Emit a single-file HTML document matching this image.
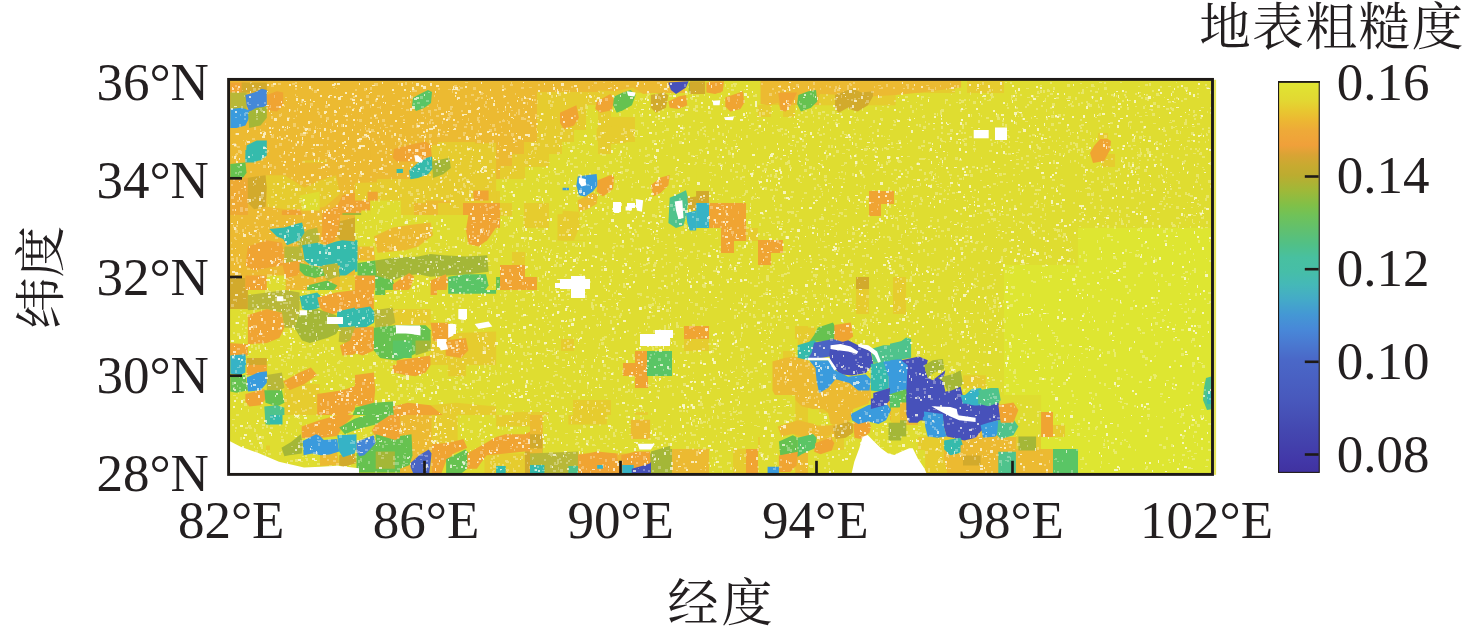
<!DOCTYPE html>
<html><head><meta charset="utf-8">
<style>
html,body{margin:0;padding:0;background:#fff;}
body{width:1476px;height:635px;overflow:hidden;position:relative;}
svg{position:absolute;left:0;top:0;}
.t{font-family:"Liberation Serif","Noto Serif CJK SC",serif;font-size:53px;fill:#231f20;}
.c{font-family:"Liberation Serif","Noto Serif CJK SC",serif;font-size:51px;fill:#231f20;}
</style></head>
<body>
<svg width="1476" height="635" viewBox="0 0 1476 635">
<defs>
<clipPath id="mc"><rect x="228.6" y="79.4" width="983.9" height="395"/></clipPath>
<linearGradient id="cb" x1="0" y1="0" x2="0" y2="1">
<stop offset="0" stop-color="#e0e632"/>
<stop offset="0.047" stop-color="#e2d832"/>
<stop offset="0.073" stop-color="#e8c830"/>
<stop offset="0.098" stop-color="#ecb832"/>
<stop offset="0.124" stop-color="#eeaa38"/>
<stop offset="0.162" stop-color="#f0a03a"/>
<stop offset="0.188" stop-color="#d8a434"/>
<stop offset="0.214" stop-color="#c8aa30"/>
<stop offset="0.239" stop-color="#bcac30"/>
<stop offset="0.277" stop-color="#a0b838"/>
<stop offset="0.316" stop-color="#80c048"/>
<stop offset="0.341" stop-color="#70c258"/>
<stop offset="0.380" stop-color="#60c070"/>
<stop offset="0.418" stop-color="#50c088"/>
<stop offset="0.450" stop-color="#48c0a0"/>
<stop offset="0.487" stop-color="#46bea8"/>
<stop offset="0.520" stop-color="#45b8b8"/>
<stop offset="0.558" stop-color="#44aac8"/>
<stop offset="0.595" stop-color="#4498d4"/>
<stop offset="0.634" stop-color="#4888d8"/>
<stop offset="0.673" stop-color="#4a78d0"/>
<stop offset="0.711" stop-color="#4a68c8"/>
<stop offset="0.815" stop-color="#4858bc"/>
<stop offset="0.891" stop-color="#4448b0"/>
<stop offset="0.968" stop-color="#4238a8"/>
<stop offset="1" stop-color="#4032a0"/>
</linearGradient>
</defs>
<rect x="1213.9" y="79.8" width="2.2" height="395" fill="#e6e45e"/>
<g clip-path="url(#mc)">
<g shape-rendering="crispEdges">
<rect x="229" y="80" width="984" height="394" fill="#dfdd30"/>
<rect x="229.0" y="80.0" width="12.7" height="12.7" fill="#ecba31"/>
<rect x="241.3" y="80.0" width="25.0" height="12.7" fill="#d2aa2c"/>
<rect x="265.9" y="80.0" width="332.5" height="12.7" fill="#ecba31"/>
<rect x="598.0" y="80.0" width="49.6" height="12.7" fill="#e6cc2e"/>
<rect x="647.2" y="80.0" width="37.3" height="12.7" fill="#ecba31"/>
<rect x="708.7" y="80.0" width="12.7" height="12.7" fill="#ecba31"/>
<rect x="770.2" y="80.0" width="135.7" height="12.7" fill="#ecba31"/>
<rect x="905.5" y="80.0" width="49.6" height="12.7" fill="#e6cc2e"/>
<rect x="967.0" y="80.0" width="37.3" height="12.7" fill="#e6cc2e"/>
<rect x="229.0" y="92.3" width="12.7" height="12.7" fill="#a4b737"/>
<rect x="241.3" y="92.3" width="25.0" height="12.7" fill="#4588d8"/>
<rect x="265.9" y="92.3" width="12.7" height="12.7" fill="#f0a432"/>
<rect x="278.2" y="92.3" width="258.7" height="12.7" fill="#ecba31"/>
<rect x="536.5" y="92.3" width="86.5" height="12.7" fill="#e6cc2e"/>
<rect x="770.2" y="92.3" width="12.7" height="12.7" fill="#e6cc2e"/>
<rect x="782.5" y="92.3" width="37.3" height="12.7" fill="#ecba31"/>
<rect x="819.4" y="92.3" width="12.7" height="12.7" fill="#e6cc2e"/>
<rect x="831.7" y="92.3" width="37.3" height="12.7" fill="#ecba31"/>
<rect x="868.6" y="92.3" width="25.0" height="12.7" fill="#e6cc2e"/>
<rect x="229.0" y="104.6" width="25.0" height="12.7" fill="#3a9bdd"/>
<rect x="253.6" y="104.6" width="12.7" height="12.7" fill="#a4b737"/>
<rect x="265.9" y="104.6" width="12.7" height="12.7" fill="#f0a432"/>
<rect x="278.2" y="104.6" width="258.7" height="12.7" fill="#ecba31"/>
<rect x="536.5" y="104.6" width="49.6" height="12.7" fill="#e6cc2e"/>
<rect x="598.0" y="104.6" width="12.7" height="12.7" fill="#e6cc2e"/>
<rect x="757.9" y="104.6" width="12.7" height="12.7" fill="#e6cc2e"/>
<rect x="782.5" y="104.6" width="12.7" height="12.7" fill="#e6cc2e"/>
<rect x="229.0" y="116.9" width="12.7" height="12.7" fill="#3a9bdd"/>
<rect x="241.3" y="116.9" width="25.0" height="12.7" fill="#a4b737"/>
<rect x="265.9" y="116.9" width="271.0" height="12.7" fill="#ecba31"/>
<rect x="536.5" y="116.9" width="49.6" height="12.7" fill="#e6cc2e"/>
<rect x="598.0" y="116.9" width="37.3" height="12.7" fill="#e6cc2e"/>
<rect x="229.0" y="129.2" width="307.9" height="12.7" fill="#ecba31"/>
<rect x="536.5" y="129.2" width="37.3" height="12.7" fill="#e6cc2e"/>
<rect x="598.0" y="129.2" width="37.3" height="12.7" fill="#e6cc2e"/>
<rect x="229.0" y="141.6" width="12.7" height="12.7" fill="#ecba31"/>
<rect x="241.3" y="141.6" width="25.0" height="12.7" fill="#35bbac"/>
<rect x="265.9" y="141.6" width="172.6" height="12.7" fill="#ecba31"/>
<rect x="438.1" y="141.6" width="37.3" height="12.7" fill="#e6cc2e"/>
<rect x="475.0" y="141.6" width="49.6" height="12.7" fill="#ecba31"/>
<rect x="524.2" y="141.6" width="37.3" height="12.7" fill="#e6cc2e"/>
<rect x="598.0" y="141.6" width="12.7" height="12.7" fill="#e6cc2e"/>
<rect x="229.0" y="153.9" width="74.2" height="12.7" fill="#ecba31"/>
<rect x="302.8" y="153.9" width="25.0" height="12.7" fill="#e6cc2e"/>
<rect x="327.4" y="153.9" width="98.8" height="12.7" fill="#ecba31"/>
<rect x="425.8" y="153.9" width="49.6" height="12.7" fill="#e6cc2e"/>
<rect x="475.0" y="153.9" width="37.3" height="12.7" fill="#ecba31"/>
<rect x="511.9" y="153.9" width="37.3" height="12.7" fill="#e6cc2e"/>
<rect x="1102.3" y="153.9" width="12.7" height="12.7" fill="#e6cc2e"/>
<rect x="229.0" y="166.2" width="74.2" height="12.7" fill="#ecba31"/>
<rect x="302.8" y="166.2" width="37.3" height="12.7" fill="#e6cc2e"/>
<rect x="339.7" y="166.2" width="74.2" height="12.7" fill="#ecba31"/>
<rect x="413.5" y="166.2" width="61.9" height="12.7" fill="#e6cc2e"/>
<rect x="475.0" y="166.2" width="25.0" height="12.7" fill="#ecba31"/>
<rect x="499.6" y="166.2" width="25.0" height="12.7" fill="#e6cc2e"/>
<rect x="229.0" y="178.5" width="37.3" height="12.7" fill="#ecba31"/>
<rect x="265.9" y="178.5" width="25.0" height="12.7" fill="#e6cc2e"/>
<rect x="290.5" y="178.5" width="12.7" height="12.7" fill="#ecba31"/>
<rect x="302.8" y="178.5" width="25.0" height="12.7" fill="#e6cc2e"/>
<rect x="327.4" y="178.5" width="49.6" height="12.7" fill="#ecba31"/>
<rect x="376.6" y="178.5" width="61.9" height="12.7" fill="#e6cc2e"/>
<rect x="438.1" y="178.5" width="37.3" height="12.7" fill="#ecba31"/>
<rect x="475.0" y="178.5" width="12.7" height="12.7" fill="#e6cc2e"/>
<rect x="573.4" y="178.5" width="25.0" height="12.7" fill="#3a9bdd"/>
<rect x="598.0" y="178.5" width="25.0" height="12.7" fill="#f0a432"/>
<rect x="647.2" y="178.5" width="25.0" height="12.7" fill="#f0a432"/>
<rect x="229.0" y="190.8" width="74.2" height="12.7" fill="#ecba31"/>
<rect x="302.8" y="190.8" width="37.3" height="12.7" fill="#e6cc2e"/>
<rect x="339.7" y="190.8" width="25.0" height="12.7" fill="#ecba31"/>
<rect x="401.2" y="190.8" width="25.0" height="12.7" fill="#e6cc2e"/>
<rect x="425.8" y="190.8" width="25.0" height="12.7" fill="#ecba31"/>
<rect x="450.4" y="190.8" width="49.6" height="12.7" fill="#e6cc2e"/>
<rect x="573.4" y="190.8" width="12.7" height="12.7" fill="#3a9bdd"/>
<rect x="585.7" y="190.8" width="25.0" height="12.7" fill="#f0a432"/>
<rect x="647.2" y="190.8" width="12.7" height="12.7" fill="#f0a432"/>
<rect x="671.8" y="190.8" width="12.7" height="12.7" fill="#35bbac"/>
<rect x="684.1" y="190.8" width="25.0" height="12.7" fill="#d2aa2c"/>
<rect x="868.6" y="190.8" width="25.0" height="12.7" fill="#f0a432"/>
<rect x="229.0" y="203.1" width="61.9" height="12.7" fill="#ecba31"/>
<rect x="290.5" y="203.1" width="61.9" height="12.7" fill="#e6cc2e"/>
<rect x="401.2" y="203.1" width="12.7" height="12.7" fill="#e6cc2e"/>
<rect x="413.5" y="203.1" width="25.0" height="12.7" fill="#ecba31"/>
<rect x="438.1" y="203.1" width="25.0" height="12.7" fill="#e6cc2e"/>
<rect x="462.7" y="203.1" width="37.3" height="12.7" fill="#f0a432"/>
<rect x="499.6" y="203.1" width="12.7" height="12.7" fill="#e6cc2e"/>
<rect x="524.2" y="203.1" width="25.0" height="12.7" fill="#e6cc2e"/>
<rect x="573.4" y="203.1" width="12.7" height="12.7" fill="#f0a432"/>
<rect x="585.7" y="203.1" width="12.7" height="12.7" fill="#e6cc2e"/>
<rect x="671.8" y="203.1" width="12.7" height="12.7" fill="#35bbac"/>
<rect x="684.1" y="203.1" width="12.7" height="12.7" fill="#d2aa2c"/>
<rect x="696.4" y="203.1" width="12.7" height="12.7" fill="#36b3c6"/>
<rect x="708.7" y="203.1" width="37.3" height="12.7" fill="#f0a432"/>
<rect x="868.6" y="203.1" width="12.7" height="12.7" fill="#f0a432"/>
<rect x="229.0" y="215.4" width="61.9" height="12.7" fill="#ecba31"/>
<rect x="290.5" y="215.4" width="37.3" height="12.7" fill="#e6cc2e"/>
<rect x="339.7" y="215.4" width="25.0" height="12.7" fill="#e6cc2e"/>
<rect x="388.9" y="215.4" width="25.0" height="12.7" fill="#e6cc2e"/>
<rect x="450.4" y="215.4" width="12.7" height="12.7" fill="#e6cc2e"/>
<rect x="462.7" y="215.4" width="37.3" height="12.7" fill="#f0a432"/>
<rect x="524.2" y="215.4" width="25.0" height="12.7" fill="#e6cc2e"/>
<rect x="561.1" y="215.4" width="25.0" height="12.7" fill="#e6cc2e"/>
<rect x="659.5" y="215.4" width="25.0" height="12.7" fill="#35bbac"/>
<rect x="684.1" y="215.4" width="25.0" height="12.7" fill="#36b3c6"/>
<rect x="708.7" y="215.4" width="37.3" height="12.7" fill="#f0a432"/>
<rect x="229.0" y="227.8" width="49.6" height="12.7" fill="#ecba31"/>
<rect x="278.2" y="227.8" width="25.0" height="12.7" fill="#35bbac"/>
<rect x="302.8" y="227.8" width="12.7" height="12.7" fill="#a4b737"/>
<rect x="315.1" y="227.8" width="12.7" height="12.7" fill="#f0a432"/>
<rect x="327.4" y="227.8" width="25.0" height="12.7" fill="#d2aa2c"/>
<rect x="364.3" y="227.8" width="12.7" height="12.7" fill="#e6cc2e"/>
<rect x="388.9" y="227.8" width="37.3" height="12.7" fill="#e6cc2e"/>
<rect x="462.7" y="227.8" width="25.0" height="12.7" fill="#f0a432"/>
<rect x="561.1" y="227.8" width="25.0" height="12.7" fill="#e6cc2e"/>
<rect x="721.0" y="227.8" width="25.0" height="12.7" fill="#f0a432"/>
<rect x="745.6" y="227.8" width="12.7" height="12.7" fill="#e6cc2e"/>
<rect x="1077.7" y="227.8" width="135.7" height="12.7" fill="#dee631"/>
<rect x="229.0" y="240.1" width="49.6" height="12.7" fill="#ecba31"/>
<rect x="278.2" y="240.1" width="12.7" height="12.7" fill="#35bbac"/>
<rect x="290.5" y="240.1" width="12.7" height="12.7" fill="#a4b737"/>
<rect x="302.8" y="240.1" width="37.3" height="12.7" fill="#35bbac"/>
<rect x="339.7" y="240.1" width="12.7" height="12.7" fill="#d2aa2c"/>
<rect x="364.3" y="240.1" width="12.7" height="12.7" fill="#e6cc2e"/>
<rect x="388.9" y="240.1" width="25.0" height="12.7" fill="#e6cc2e"/>
<rect x="462.7" y="240.1" width="12.7" height="12.7" fill="#f0a432"/>
<rect x="475.0" y="240.1" width="12.7" height="12.7" fill="#e6cc2e"/>
<rect x="721.0" y="240.1" width="12.7" height="12.7" fill="#f0a432"/>
<rect x="757.9" y="240.1" width="25.0" height="12.7" fill="#f0a432"/>
<rect x="1077.7" y="240.1" width="135.7" height="12.7" fill="#dee631"/>
<rect x="229.0" y="252.4" width="12.7" height="12.7" fill="#ecba31"/>
<rect x="241.3" y="252.4" width="12.7" height="12.7" fill="#f0a432"/>
<rect x="253.6" y="252.4" width="37.3" height="12.7" fill="#ecba31"/>
<rect x="290.5" y="252.4" width="12.7" height="12.7" fill="#a4b737"/>
<rect x="302.8" y="252.4" width="49.6" height="12.7" fill="#35bbac"/>
<rect x="352.0" y="252.4" width="25.0" height="12.7" fill="#e6cc2e"/>
<rect x="388.9" y="252.4" width="98.8" height="12.7" fill="#a4b737"/>
<rect x="511.9" y="252.4" width="12.7" height="12.7" fill="#e6cc2e"/>
<rect x="757.9" y="252.4" width="12.7" height="12.7" fill="#f0a432"/>
<rect x="1077.7" y="252.4" width="135.7" height="12.7" fill="#dee631"/>
<rect x="229.0" y="264.7" width="25.0" height="12.7" fill="#ecba31"/>
<rect x="253.6" y="264.7" width="25.0" height="12.7" fill="#f0a432"/>
<rect x="278.2" y="264.7" width="12.7" height="12.7" fill="#ecba31"/>
<rect x="290.5" y="264.7" width="25.0" height="12.7" fill="#66c250"/>
<rect x="315.1" y="264.7" width="25.0" height="12.7" fill="#d2aa2c"/>
<rect x="339.7" y="264.7" width="25.0" height="12.7" fill="#35bbac"/>
<rect x="364.3" y="264.7" width="12.7" height="12.7" fill="#66c250"/>
<rect x="376.6" y="264.7" width="111.1" height="12.7" fill="#a4b737"/>
<rect x="499.6" y="264.7" width="25.0" height="12.7" fill="#f0a432"/>
<rect x="1003.9" y="264.7" width="209.5" height="12.7" fill="#dee631"/>
<rect x="229.0" y="277.0" width="12.7" height="12.7" fill="#d2aa2c"/>
<rect x="241.3" y="277.0" width="25.0" height="12.7" fill="#ecba31"/>
<rect x="265.9" y="277.0" width="12.7" height="12.7" fill="#d2aa2c"/>
<rect x="278.2" y="277.0" width="37.3" height="12.7" fill="#ecba31"/>
<rect x="315.1" y="277.0" width="25.0" height="12.7" fill="#66c250"/>
<rect x="339.7" y="277.0" width="37.3" height="12.7" fill="#ecba31"/>
<rect x="376.6" y="277.0" width="12.7" height="12.7" fill="#a4b737"/>
<rect x="388.9" y="277.0" width="25.0" height="12.7" fill="#ecba31"/>
<rect x="413.5" y="277.0" width="12.7" height="12.7" fill="#e6cc2e"/>
<rect x="438.1" y="277.0" width="12.7" height="12.7" fill="#f0a432"/>
<rect x="450.4" y="277.0" width="25.0" height="12.7" fill="#5ac565"/>
<rect x="475.0" y="277.0" width="25.0" height="12.7" fill="#66c250"/>
<rect x="499.6" y="277.0" width="37.3" height="12.7" fill="#f0a432"/>
<rect x="856.3" y="277.0" width="12.7" height="12.7" fill="#d2aa2c"/>
<rect x="893.2" y="277.0" width="12.7" height="12.7" fill="#e6cc2e"/>
<rect x="1003.9" y="277.0" width="209.5" height="12.7" fill="#dee631"/>
<rect x="229.0" y="289.3" width="12.7" height="12.7" fill="#d2aa2c"/>
<rect x="241.3" y="289.3" width="25.0" height="12.7" fill="#a4b737"/>
<rect x="265.9" y="289.3" width="37.3" height="12.7" fill="#d2aa2c"/>
<rect x="302.8" y="289.3" width="25.0" height="12.7" fill="#35bbac"/>
<rect x="327.4" y="289.3" width="12.7" height="12.7" fill="#ecba31"/>
<rect x="339.7" y="289.3" width="25.0" height="12.7" fill="#f0a432"/>
<rect x="364.3" y="289.3" width="25.0" height="12.7" fill="#ecba31"/>
<rect x="438.1" y="289.3" width="12.7" height="12.7" fill="#e6cc2e"/>
<rect x="856.3" y="289.3" width="12.7" height="12.7" fill="#e6cc2e"/>
<rect x="893.2" y="289.3" width="12.7" height="12.7" fill="#e6cc2e"/>
<rect x="1003.9" y="289.3" width="209.5" height="12.7" fill="#dee631"/>
<rect x="241.3" y="301.6" width="12.7" height="12.7" fill="#ecba31"/>
<rect x="253.6" y="301.6" width="37.3" height="12.7" fill="#d2aa2c"/>
<rect x="290.5" y="301.6" width="49.6" height="12.7" fill="#ecba31"/>
<rect x="339.7" y="301.6" width="37.3" height="12.7" fill="#35bbac"/>
<rect x="376.6" y="301.6" width="12.7" height="12.7" fill="#ecba31"/>
<rect x="388.9" y="301.6" width="12.7" height="12.7" fill="#e6cc2e"/>
<rect x="856.3" y="301.6" width="12.7" height="12.7" fill="#e6cc2e"/>
<rect x="893.2" y="301.6" width="12.7" height="12.7" fill="#e6cc2e"/>
<rect x="1003.9" y="301.6" width="209.5" height="12.7" fill="#dee631"/>
<rect x="241.3" y="313.9" width="25.0" height="12.7" fill="#ecba31"/>
<rect x="265.9" y="313.9" width="25.0" height="12.7" fill="#d2aa2c"/>
<rect x="290.5" y="313.9" width="25.0" height="12.7" fill="#ecba31"/>
<rect x="315.1" y="313.9" width="25.0" height="12.7" fill="#a4b737"/>
<rect x="339.7" y="313.9" width="37.3" height="12.7" fill="#35bbac"/>
<rect x="376.6" y="313.9" width="12.7" height="12.7" fill="#a4b737"/>
<rect x="388.9" y="313.9" width="37.3" height="12.7" fill="#e6cc2e"/>
<rect x="1003.9" y="313.9" width="209.5" height="12.7" fill="#dee631"/>
<rect x="241.3" y="326.2" width="25.0" height="12.7" fill="#f0a432"/>
<rect x="265.9" y="326.2" width="12.7" height="12.7" fill="#ecba31"/>
<rect x="278.2" y="326.2" width="25.0" height="12.7" fill="#d2aa2c"/>
<rect x="302.8" y="326.2" width="25.0" height="12.7" fill="#66c250"/>
<rect x="327.4" y="326.2" width="12.7" height="12.7" fill="#e6cc2e"/>
<rect x="339.7" y="326.2" width="12.7" height="12.7" fill="#a4b737"/>
<rect x="352.0" y="326.2" width="25.0" height="12.7" fill="#f0a432"/>
<rect x="376.6" y="326.2" width="12.7" height="12.7" fill="#a4b737"/>
<rect x="388.9" y="326.2" width="49.6" height="12.7" fill="#66c250"/>
<rect x="438.1" y="326.2" width="25.0" height="12.7" fill="#f0a432"/>
<rect x="462.7" y="326.2" width="25.0" height="12.7" fill="#e6cc2e"/>
<rect x="684.1" y="326.2" width="25.0" height="12.7" fill="#f0a432"/>
<rect x="794.8" y="326.2" width="12.7" height="12.7" fill="#e6cc2e"/>
<rect x="1003.9" y="326.2" width="209.5" height="12.7" fill="#dee631"/>
<rect x="241.3" y="338.6" width="25.0" height="12.7" fill="#ecba31"/>
<rect x="265.9" y="338.6" width="12.7" height="12.7" fill="#e6cc2e"/>
<rect x="290.5" y="338.6" width="49.6" height="12.7" fill="#e6cc2e"/>
<rect x="339.7" y="338.6" width="37.3" height="12.7" fill="#f0a432"/>
<rect x="376.6" y="338.6" width="12.7" height="12.7" fill="#a4b737"/>
<rect x="388.9" y="338.6" width="25.0" height="12.7" fill="#66c250"/>
<rect x="413.5" y="338.6" width="25.0" height="12.7" fill="#a4b737"/>
<rect x="438.1" y="338.6" width="25.0" height="12.7" fill="#f0a432"/>
<rect x="462.7" y="338.6" width="25.0" height="12.7" fill="#e6cc2e"/>
<rect x="561.1" y="338.6" width="12.7" height="12.7" fill="#e6cc2e"/>
<rect x="684.1" y="338.6" width="25.0" height="12.7" fill="#e6cc2e"/>
<rect x="807.1" y="338.6" width="12.7" height="12.7" fill="#e6cc2e"/>
<rect x="1003.9" y="338.6" width="209.5" height="12.7" fill="#dee631"/>
<rect x="229.0" y="350.9" width="12.7" height="12.7" fill="#ecba31"/>
<rect x="241.3" y="350.9" width="12.7" height="12.7" fill="#e6cc2e"/>
<rect x="278.2" y="350.9" width="12.7" height="12.7" fill="#e6cc2e"/>
<rect x="315.1" y="350.9" width="25.0" height="12.7" fill="#e6cc2e"/>
<rect x="339.7" y="350.9" width="12.7" height="12.7" fill="#f0a432"/>
<rect x="352.0" y="350.9" width="25.0" height="12.7" fill="#e6cc2e"/>
<rect x="376.6" y="350.9" width="12.7" height="12.7" fill="#a4b737"/>
<rect x="388.9" y="350.9" width="25.0" height="12.7" fill="#66c250"/>
<rect x="413.5" y="350.9" width="12.7" height="12.7" fill="#e6cc2e"/>
<rect x="425.8" y="350.9" width="12.7" height="12.7" fill="#f0a432"/>
<rect x="438.1" y="350.9" width="12.7" height="12.7" fill="#e6cc2e"/>
<rect x="450.4" y="350.9" width="12.7" height="12.7" fill="#f0a432"/>
<rect x="462.7" y="350.9" width="25.0" height="12.7" fill="#e6cc2e"/>
<rect x="634.9" y="350.9" width="12.7" height="12.7" fill="#f0a432"/>
<rect x="647.2" y="350.9" width="25.0" height="12.7" fill="#5ac565"/>
<rect x="782.5" y="350.9" width="12.7" height="12.7" fill="#e6cc2e"/>
<rect x="1003.9" y="350.9" width="209.5" height="12.7" fill="#dee631"/>
<rect x="229.0" y="363.2" width="12.7" height="12.7" fill="#36b3c6"/>
<rect x="241.3" y="363.2" width="12.7" height="12.7" fill="#d2aa2c"/>
<rect x="253.6" y="363.2" width="12.7" height="12.7" fill="#36b3c6"/>
<rect x="278.2" y="363.2" width="12.7" height="12.7" fill="#e6cc2e"/>
<rect x="302.8" y="363.2" width="12.7" height="12.7" fill="#f0a432"/>
<rect x="315.1" y="363.2" width="12.7" height="12.7" fill="#e6cc2e"/>
<rect x="388.9" y="363.2" width="49.6" height="12.7" fill="#f0a432"/>
<rect x="438.1" y="363.2" width="25.0" height="12.7" fill="#e6cc2e"/>
<rect x="622.6" y="363.2" width="25.0" height="12.7" fill="#f0a432"/>
<rect x="647.2" y="363.2" width="25.0" height="12.7" fill="#5ac565"/>
<rect x="794.8" y="363.2" width="37.3" height="12.7" fill="#ecba31"/>
<rect x="1003.9" y="363.2" width="209.5" height="12.7" fill="#dee631"/>
<rect x="229.0" y="375.5" width="12.7" height="12.7" fill="#66c250"/>
<rect x="241.3" y="375.5" width="25.0" height="12.7" fill="#36b3c6"/>
<rect x="265.9" y="375.5" width="12.7" height="12.7" fill="#a4b737"/>
<rect x="278.2" y="375.5" width="25.0" height="12.7" fill="#f0a432"/>
<rect x="302.8" y="375.5" width="49.6" height="12.7" fill="#e6cc2e"/>
<rect x="352.0" y="375.5" width="25.0" height="12.7" fill="#ecba31"/>
<rect x="376.6" y="375.5" width="12.7" height="12.7" fill="#e6cc2e"/>
<rect x="634.9" y="375.5" width="12.7" height="12.7" fill="#f0a432"/>
<rect x="782.5" y="375.5" width="49.6" height="12.7" fill="#ecba31"/>
<rect x="1003.9" y="375.5" width="209.5" height="12.7" fill="#dee631"/>
<rect x="241.3" y="387.8" width="25.0" height="12.7" fill="#f0a432"/>
<rect x="265.9" y="387.8" width="12.7" height="12.7" fill="#66c250"/>
<rect x="278.2" y="387.8" width="49.6" height="12.7" fill="#e6cc2e"/>
<rect x="327.4" y="387.8" width="12.7" height="12.7" fill="#ecba31"/>
<rect x="339.7" y="387.8" width="25.0" height="12.7" fill="#f0a432"/>
<rect x="364.3" y="387.8" width="12.7" height="12.7" fill="#ecba31"/>
<rect x="376.6" y="387.8" width="12.7" height="12.7" fill="#e6cc2e"/>
<rect x="782.5" y="387.8" width="12.7" height="12.7" fill="#e6cc2e"/>
<rect x="794.8" y="387.8" width="37.3" height="12.7" fill="#ecba31"/>
<rect x="831.7" y="387.8" width="12.7" height="12.7" fill="#e6cc2e"/>
<rect x="880.9" y="387.8" width="37.3" height="12.7" fill="#ecba31"/>
<rect x="1003.9" y="387.8" width="209.5" height="12.7" fill="#dee631"/>
<rect x="241.3" y="400.1" width="12.7" height="12.7" fill="#e6cc2e"/>
<rect x="253.6" y="400.1" width="12.7" height="12.7" fill="#66c250"/>
<rect x="265.9" y="400.1" width="12.7" height="12.7" fill="#35bbac"/>
<rect x="278.2" y="400.1" width="37.3" height="12.7" fill="#e6cc2e"/>
<rect x="315.1" y="400.1" width="25.0" height="12.7" fill="#ecba31"/>
<rect x="339.7" y="400.1" width="12.7" height="12.7" fill="#f0a432"/>
<rect x="352.0" y="400.1" width="37.3" height="12.7" fill="#66c250"/>
<rect x="388.9" y="400.1" width="25.0" height="12.7" fill="#ecba31"/>
<rect x="413.5" y="400.1" width="37.3" height="12.7" fill="#e6cc2e"/>
<rect x="475.0" y="400.1" width="12.7" height="12.7" fill="#e6cc2e"/>
<rect x="573.4" y="400.1" width="37.3" height="12.7" fill="#e6cc2e"/>
<rect x="782.5" y="400.1" width="25.0" height="12.7" fill="#e6cc2e"/>
<rect x="819.4" y="400.1" width="25.0" height="12.7" fill="#e6cc2e"/>
<rect x="880.9" y="400.1" width="37.3" height="12.7" fill="#ecba31"/>
<rect x="1003.9" y="400.1" width="209.5" height="12.7" fill="#dee631"/>
<rect x="253.6" y="412.4" width="25.0" height="12.7" fill="#35bbac"/>
<rect x="278.2" y="412.4" width="25.0" height="12.7" fill="#e6cc2e"/>
<rect x="302.8" y="412.4" width="25.0" height="12.7" fill="#ecba31"/>
<rect x="327.4" y="412.4" width="12.7" height="12.7" fill="#f0a432"/>
<rect x="339.7" y="412.4" width="49.6" height="12.7" fill="#66c250"/>
<rect x="388.9" y="412.4" width="25.0" height="12.7" fill="#f0a432"/>
<rect x="413.5" y="412.4" width="12.7" height="12.7" fill="#ecba31"/>
<rect x="425.8" y="412.4" width="25.0" height="12.7" fill="#e6cc2e"/>
<rect x="475.0" y="412.4" width="12.7" height="12.7" fill="#e6cc2e"/>
<rect x="511.9" y="412.4" width="37.3" height="12.7" fill="#e6cc2e"/>
<rect x="573.4" y="412.4" width="37.3" height="12.7" fill="#e6cc2e"/>
<rect x="634.9" y="412.4" width="12.7" height="12.7" fill="#e6cc2e"/>
<rect x="782.5" y="412.4" width="25.0" height="12.7" fill="#e6cc2e"/>
<rect x="831.7" y="412.4" width="12.7" height="12.7" fill="#e6cc2e"/>
<rect x="893.2" y="412.4" width="25.0" height="12.7" fill="#ecba31"/>
<rect x="1003.9" y="412.4" width="37.3" height="12.7" fill="#dee631"/>
<rect x="1040.8" y="412.4" width="12.7" height="12.7" fill="#f0a432"/>
<rect x="1053.1" y="412.4" width="160.3" height="12.7" fill="#dee631"/>
<rect x="253.6" y="424.8" width="37.3" height="12.7" fill="#e6cc2e"/>
<rect x="290.5" y="424.8" width="25.0" height="12.7" fill="#ecba31"/>
<rect x="315.1" y="424.8" width="25.0" height="12.7" fill="#d2aa2c"/>
<rect x="339.7" y="424.8" width="12.7" height="12.7" fill="#a4b737"/>
<rect x="352.0" y="424.8" width="12.7" height="12.7" fill="#f0a432"/>
<rect x="364.3" y="424.8" width="25.0" height="12.7" fill="#ecba31"/>
<rect x="388.9" y="424.8" width="37.3" height="12.7" fill="#f0a432"/>
<rect x="425.8" y="424.8" width="49.6" height="12.7" fill="#ecba31"/>
<rect x="475.0" y="424.8" width="37.3" height="12.7" fill="#e6cc2e"/>
<rect x="511.9" y="424.8" width="37.3" height="12.7" fill="#ecba31"/>
<rect x="548.8" y="424.8" width="61.9" height="12.7" fill="#e6cc2e"/>
<rect x="622.6" y="424.8" width="25.0" height="12.7" fill="#e6cc2e"/>
<rect x="770.2" y="424.8" width="61.9" height="12.7" fill="#e6cc2e"/>
<rect x="831.7" y="424.8" width="12.7" height="12.7" fill="#ecba31"/>
<rect x="930.1" y="424.8" width="25.0" height="12.7" fill="#e6cc2e"/>
<rect x="954.7" y="424.8" width="49.6" height="12.7" fill="#ecba31"/>
<rect x="1003.9" y="424.8" width="12.7" height="12.7" fill="#dee631"/>
<rect x="1016.2" y="424.8" width="25.0" height="12.7" fill="#e6cc2e"/>
<rect x="1040.8" y="424.8" width="12.7" height="12.7" fill="#f0a432"/>
<rect x="1053.1" y="424.8" width="12.7" height="12.7" fill="#e6cc2e"/>
<rect x="1065.4" y="424.8" width="148.0" height="12.7" fill="#dee631"/>
<rect x="265.9" y="437.1" width="12.7" height="12.7" fill="#e6cc2e"/>
<rect x="278.2" y="437.1" width="25.0" height="12.7" fill="#a4b737"/>
<rect x="302.8" y="437.1" width="37.3" height="12.7" fill="#3a9bdd"/>
<rect x="339.7" y="437.1" width="12.7" height="12.7" fill="#35bbac"/>
<rect x="352.0" y="437.1" width="25.0" height="12.7" fill="#4588d8"/>
<rect x="376.6" y="437.1" width="37.3" height="12.7" fill="#66c250"/>
<rect x="413.5" y="437.1" width="25.0" height="12.7" fill="#f0a432"/>
<rect x="438.1" y="437.1" width="49.6" height="12.7" fill="#ecba31"/>
<rect x="487.3" y="437.1" width="49.6" height="12.7" fill="#d2aa2c"/>
<rect x="536.5" y="437.1" width="12.7" height="12.7" fill="#ecba31"/>
<rect x="548.8" y="437.1" width="25.0" height="12.7" fill="#e6cc2e"/>
<rect x="622.6" y="437.1" width="25.0" height="12.7" fill="#e6cc2e"/>
<rect x="757.9" y="437.1" width="12.7" height="12.7" fill="#e6cc2e"/>
<rect x="782.5" y="437.1" width="37.3" height="12.7" fill="#e6cc2e"/>
<rect x="819.4" y="437.1" width="12.7" height="12.7" fill="#ecba31"/>
<rect x="831.7" y="437.1" width="12.7" height="12.7" fill="#e6cc2e"/>
<rect x="917.8" y="437.1" width="37.3" height="12.7" fill="#e6cc2e"/>
<rect x="954.7" y="437.1" width="61.9" height="12.7" fill="#ecba31"/>
<rect x="1016.2" y="437.1" width="25.0" height="12.7" fill="#e6cc2e"/>
<rect x="1040.8" y="437.1" width="172.6" height="12.7" fill="#dee631"/>
<rect x="278.2" y="449.4" width="25.0" height="12.7" fill="#a4b737"/>
<rect x="302.8" y="449.4" width="25.0" height="12.7" fill="#3a9bdd"/>
<rect x="327.4" y="449.4" width="25.0" height="12.7" fill="#35bbac"/>
<rect x="352.0" y="449.4" width="12.7" height="12.7" fill="#4588d8"/>
<rect x="364.3" y="449.4" width="49.6" height="12.7" fill="#66c250"/>
<rect x="413.5" y="449.4" width="12.7" height="12.7" fill="#4751ba"/>
<rect x="425.8" y="449.4" width="25.0" height="12.7" fill="#f0a432"/>
<rect x="450.4" y="449.4" width="25.0" height="12.7" fill="#66c250"/>
<rect x="475.0" y="449.4" width="25.0" height="12.7" fill="#ecba31"/>
<rect x="499.6" y="449.4" width="25.0" height="12.7" fill="#d2aa2c"/>
<rect x="524.2" y="449.4" width="49.6" height="12.7" fill="#a4b737"/>
<rect x="573.4" y="449.4" width="25.0" height="12.7" fill="#ecba31"/>
<rect x="610.3" y="449.4" width="37.3" height="12.7" fill="#ecba31"/>
<rect x="647.2" y="449.4" width="25.0" height="12.7" fill="#a4b737"/>
<rect x="671.8" y="449.4" width="37.3" height="12.7" fill="#ecba31"/>
<rect x="733.3" y="449.4" width="12.7" height="12.7" fill="#e6cc2e"/>
<rect x="745.6" y="449.4" width="12.7" height="12.7" fill="#f0a432"/>
<rect x="794.8" y="449.4" width="12.7" height="12.7" fill="#ecba31"/>
<rect x="930.1" y="449.4" width="12.7" height="12.7" fill="#e6cc2e"/>
<rect x="942.4" y="449.4" width="111.1" height="12.7" fill="#ecba31"/>
<rect x="1053.1" y="449.4" width="25.0" height="12.7" fill="#5ac565"/>
<rect x="1077.7" y="449.4" width="135.7" height="12.7" fill="#dee631"/>
<rect x="290.5" y="461.7" width="12.7" height="12.7" fill="#e6cc2e"/>
<rect x="315.1" y="461.7" width="25.0" height="12.7" fill="#f0a432"/>
<rect x="339.7" y="461.7" width="12.7" height="12.7" fill="#d2aa2c"/>
<rect x="352.0" y="461.7" width="25.0" height="12.7" fill="#66c250"/>
<rect x="376.6" y="461.7" width="12.7" height="12.7" fill="#a4b737"/>
<rect x="388.9" y="461.7" width="25.0" height="12.7" fill="#66c250"/>
<rect x="413.5" y="461.7" width="12.7" height="12.7" fill="#4751ba"/>
<rect x="425.8" y="461.7" width="25.0" height="12.7" fill="#f0a432"/>
<rect x="450.4" y="461.7" width="12.7" height="12.7" fill="#66c250"/>
<rect x="462.7" y="461.7" width="12.7" height="12.7" fill="#35bbac"/>
<rect x="475.0" y="461.7" width="12.7" height="12.7" fill="#ecba31"/>
<rect x="487.3" y="461.7" width="25.0" height="12.7" fill="#35bbac"/>
<rect x="511.9" y="461.7" width="25.0" height="12.7" fill="#a4b737"/>
<rect x="536.5" y="461.7" width="12.7" height="12.7" fill="#35bbac"/>
<rect x="548.8" y="461.7" width="25.0" height="12.7" fill="#a4b737"/>
<rect x="573.4" y="461.7" width="49.6" height="12.7" fill="#ecba31"/>
<rect x="622.6" y="461.7" width="12.7" height="12.7" fill="#36b3c6"/>
<rect x="634.9" y="461.7" width="25.0" height="12.7" fill="#4751ba"/>
<rect x="659.5" y="461.7" width="12.7" height="12.7" fill="#a4b737"/>
<rect x="671.8" y="461.7" width="37.3" height="12.7" fill="#ecba31"/>
<rect x="733.3" y="461.7" width="12.7" height="12.7" fill="#e6cc2e"/>
<rect x="745.6" y="461.7" width="12.7" height="12.7" fill="#f0a432"/>
<rect x="782.5" y="461.7" width="25.0" height="12.7" fill="#ecba31"/>
<rect x="942.4" y="461.7" width="111.1" height="12.7" fill="#ecba31"/>
<rect x="1053.1" y="461.7" width="25.0" height="12.7" fill="#5ac565"/>
<rect x="1077.7" y="461.7" width="135.7" height="12.7" fill="#dee631"/>
</g>
<polygon points="797.7,327.6 815.4,327.6 815.4,345.2 797.7,345.2" fill="#e6cc2e"/>
<polygon points="772.5,361.6 785.1,357.8 797.7,356.5 807.8,360.3 815.4,370.4 817.9,380.5 816.6,393.1 811.6,400.6 777.6,400.6 772.5,390.6" fill="#ecba31"/>
<polygon points="817.9,379.2 835.5,378.0 850.6,383.0 870.8,388.0 870.8,400.6 817.9,400.6" fill="#ecba31"/>
<polygon points="807.8,343.9 814.1,335.1 817.9,327.6 833.0,322.5 835.5,327.6 834.3,338.9 824.2,341.4 814.1,341.4" fill="#66c250"/>
<polygon points="834.3,325.0 850.6,322.5 853.2,336.4 848.1,340.2 840.6,342.7 834.3,338.9" fill="#f0a432"/>
<polygon points="797.7,345.2 814.1,340.2 820.4,345.2 811.6,356.5 807.8,360.3 797.7,357.8" fill="#35bbac"/>
<polygon points="814.1,342.7 833.0,338.9 845.6,342.7 835.5,355.3 822.9,357.8 807.8,359.1 811.6,352.8" fill="#4a64c4"/>
<polygon points="830.5,345.2 848.1,340.2 858.2,345.2 870.8,351.5 873.3,364.1 865.8,372.9 851.9,375.4 840.6,374.2 831.7,365.4 829.2,355.3" fill="#4751ba"/>
<polygon points="809.1,360.3 829.2,360.3 835.5,370.4 848.1,376.7 865.8,374.2 870.8,379.2 869.5,390.6 858.2,390.6 849.4,383.0 835.5,379.2 828.0,388.0 819.1,393.1 816.6,380.5 815.4,367.9" fill="#3a9bdd"/>
<polygon points="870.8,349.0 883.4,345.2 896.0,345.2 906.1,337.6 911.1,338.9 911.1,357.8 896.0,360.3 883.4,362.8 873.3,362.8" fill="#4fc38c"/>
<polygon points="870.8,364.1 885.9,361.6 888.4,376.7 888.4,388.0 880.9,391.8 870.8,390.6" fill="#35bbac"/>
<polygon points="883.4,361.6 901.0,360.3 911.1,361.6 911.1,388.0 901.0,390.6 888.4,388.0 888.4,376.7" fill="#3a9bdd"/>
<polygon points="873.3,393.1 889.7,388.0 901.0,390.6 911.1,388.0 911.1,400.6 873.3,400.6" fill="#4751ba"/>
<polygon points="889.7,391.8 911.1,390.6 911.1,400.6 889.7,400.6" fill="#5ac565"/>
<polygon points="807.8,357.8 829.2,357.8 836.8,369.1 834.3,370.4 828.0,360.3 807.8,360.3" fill="#ffffff"/>
<polygon points="830.5,345.2 840.6,343.9 850.6,346.5 858.2,351.5 856.9,354.0 848.1,351.5 838.0,350.2 830.5,349.0" fill="#ffffff"/>
<polygon points="858.2,343.9 868.3,345.2 877.1,351.5 880.9,361.6 878.4,362.8 874.6,355.3 868.3,350.2 858.2,346.5" fill="#ffffff"/>
<polygon points="963.1,375.3 985.8,375.3 985.8,387.9 963.1,387.9" fill="#e6cc2e"/>
<polygon points="890.0,343.8 906.4,340.0 910.2,347.6 907.6,356.4 897.6,358.9 890.0,360.2" fill="#4fc38c"/>
<polygon points="890.0,360.2 901.3,358.9 907.6,365.2 906.4,390.4 897.6,392.9 890.0,394.2" fill="#3a9bdd"/>
<polygon points="890.0,394.2 906.4,389.1 908.9,403.0 902.6,408.0 890.0,410.6" fill="#66c250"/>
<polygon points="890.0,410.6 905.1,405.5 907.6,420.6 890.0,420.6" fill="#ecba31"/>
<polygon points="901.3,360.2 919.0,356.4 927.8,360.2 925.3,370.2 927.8,377.8 932.8,380.3 945.4,370.2 942.9,380.3 945.4,391.7 960.6,386.6 963.1,396.7 960.6,405.5 971.9,403.0 998.4,401.7 1000.9,420.6 907.6,420.6 906.4,390.4 907.6,365.2" fill="#4751ba"/>
<polygon points="924.0,365.2 932.8,360.2 942.9,358.9 944.2,369.0 934.1,372.8 927.8,377.8" fill="#a4b737"/>
<polygon points="937.9,377.8 953.0,374.0 960.6,370.2 963.1,384.1 958.0,387.9 948.0,391.7 942.9,381.6" fill="#a4b737"/>
<polygon points="963.1,396.7 971.9,389.1 980.7,387.9 985.8,395.4 980.7,405.5 965.6,405.5" fill="#36b3c6"/>
<polygon points="978.2,390.4 990.8,387.9 998.4,387.9 1000.9,400.5 985.8,403.0 980.7,398.0" fill="#4fc38c"/>
<polygon points="922.8,410.6 950.5,410.6 950.5,420.6 922.8,420.6" fill="#3a9bdd"/>
<polygon points="949.2,408.0 956.8,405.5 958.0,415.6 953.0,420.6 948.0,415.6" fill="#ffffff"/>
<polygon points="1000.9,410.6 1016.0,401.7 1018.5,413.1 1014.7,420.6 1000.9,420.6" fill="#f0a432"/>
<polygon points="760.0,395.0 795.3,395.0 795.3,475.6 760.0,475.6" fill="#dfdd30"/>
<polygon points="795.3,395.0 870.9,395.0 868.4,403.8 853.2,408.9 850.7,420.2 840.6,425.2 830.6,424.0 828.0,412.6 823.0,408.9 812.9,408.9 801.6,406.3 796.5,401.3" fill="#ecba31"/>
<polygon points="777.6,426.5 797.8,420.2 814.2,424.0 818.0,426.5 833.1,425.2 830.6,435.3 816.7,439.1 801.6,436.6 792.8,434.1 781.4,436.6" fill="#ecba31"/>
<polygon points="833.1,426.5 848.2,421.5 853.2,424.0 853.2,432.8 845.7,437.8 835.6,439.1" fill="#d2aa2c"/>
<polygon points="853.2,422.7 868.4,420.2 870.9,426.5 869.6,432.8 860.8,439.1 854.5,437.8" fill="#f0a432"/>
<polygon points="778.9,441.6 792.8,435.3 797.8,437.8 797.8,456.7 780.2,455.5" fill="#66c250"/>
<polygon points="797.8,437.8 812.9,434.1 816.7,437.8 815.4,447.9 801.6,454.2 797.8,456.7" fill="#5ac565"/>
<polygon points="815.4,442.9 830.6,437.8 834.3,442.9 831.8,450.4 820.5,454.2 814.2,451.7" fill="#f0a432"/>
<polygon points="778.9,455.5 797.8,451.7 796.5,465.6 790.2,471.9 778.9,471.9" fill="#f0a432"/>
<polygon points="850.7,413.9 868.4,405.1 886.0,402.6 891.0,410.1 886.0,420.2 878.4,424.0 868.4,421.5 858.3,424.0 852.0,420.2" fill="#3a9bdd"/>
<polygon points="870.9,398.8 886.0,395.0 889.8,400.0 886.0,405.1 870.9,408.9" fill="#4751ba"/>
<polygon points="889.8,395.0 901.1,395.0 901.1,407.6 889.8,407.6" fill="#5ac565"/>
<polygon points="891.0,407.6 901.1,407.6 901.1,422.7 891.0,422.7" fill="#e6cc2e"/>
<polygon points="888.5,422.7 901.1,422.7 901.1,440.4 888.5,440.4" fill="#a4b737"/>
<polygon points="767.6,466.8 778.9,466.8 778.9,475.6 767.6,475.6" fill="#3a9bdd"/>
<polygon points="1000.8,395.0 1041.1,395.0 1041.1,436.6 1000.8,436.6" fill="#dfdd30"/>
<polygon points="922.7,436.6 944.1,436.6 944.1,456.7 947.9,475.6 925.2,475.6 925.2,453.0" fill="#e6cc2e"/>
<polygon points="900.0,402.6 907.6,402.6 907.6,420.2 900.0,420.2" fill="#ecba31"/>
<polygon points="900.0,420.2 906.3,420.2 906.3,436.6 900.0,436.6" fill="#a4b737"/>
<polygon points="906.3,395.0 960.5,395.0 963.0,402.6 975.6,406.3 995.8,402.6 999.5,410.1 997.0,420.2 988.2,424.0 980.6,431.5 975.6,437.8 964.3,440.4 952.9,437.8 946.6,436.6 944.1,427.8 942.8,417.7 927.7,412.6 922.7,417.7 917.6,422.7 908.8,422.7 906.3,413.9" fill="#4751ba"/>
<polygon points="960.5,395.0 981.9,395.0 978.1,402.6 963.0,403.8" fill="#36b3c6"/>
<polygon points="978.1,395.0 998.3,395.0 999.5,402.6 988.2,406.3 978.1,403.8" fill="#4fc38c"/>
<polygon points="923.9,411.4 942.8,413.9 944.1,427.8 946.6,436.6 937.8,437.8 927.7,436.6 925.2,426.5" fill="#3a9bdd"/>
<polygon points="980.6,425.2 988.2,422.7 998.3,420.2 1000.8,427.8 995.8,436.6 983.2,439.1" fill="#3a9bdd"/>
<polygon points="998.3,420.2 1013.4,418.9 1018.4,426.5 1013.4,435.3 1000.8,439.1 997.0,435.3" fill="#4fc38c"/>
<polygon points="944.1,440.4 960.5,437.8 963.0,445.4 960.5,453.0 950.4,455.5 944.1,449.2" fill="#35bbac"/>
<polygon points="960.5,445.4 980.6,437.8 998.3,436.6 999.5,451.7 998.3,475.6 947.9,475.6 944.1,456.7 960.5,453.0" fill="#ecba31"/>
<polygon points="963.0,455.5 980.6,455.5 980.6,465.6 963.0,465.6" fill="#d2aa2c"/>
<polygon points="998.3,405.1 1013.4,402.6 1018.4,410.1 1013.4,422.7 1000.8,422.7" fill="#f0a432"/>
<polygon points="998.3,451.7 1018.4,451.7 1018.4,475.6 998.3,475.6" fill="#4fc38c"/>
<polygon points="1018.4,436.6 1036.1,436.6 1036.1,451.7 1018.4,451.7" fill="#a4b737"/>
<polygon points="1015.9,450.4 1041.1,450.4 1041.1,475.6 1015.9,475.6" fill="#ecba31"/>
<polygon points="931.5,406.3 950.4,407.0 956.7,408.9 958.0,415.2 975.6,417.7 975.6,422.1 959.2,420.2 950.4,416.4 937.8,410.1" fill="#ffffff"/>
<polygon points="229.0,80.0 370.1,80.0 370.1,160.6 229.0,160.6" fill="#ecba31"/>
<polygon points="230.3,82.5 245.4,82.5 245.4,92.6 230.3,92.6" fill="#f0a432"/>
<polygon points="241.6,82.5 266.8,82.5 266.8,92.6 241.6,92.6" fill="#d2aa2c"/>
<polygon points="230.3,92.6 246.6,92.6 246.6,109.0 230.3,109.0" fill="#b8b838"/>
<polygon points="245.4,95.1 254.2,92.6 261.8,88.8 266.8,90.1 266.8,105.2 260.5,109.0 249.2,111.5 246.6,105.2" fill="#4588d8"/>
<polygon points="230.3,109.0 241.6,107.7 249.2,110.2 249.2,117.8 245.4,125.4 236.6,127.9 230.3,127.9" fill="#3a9bdd"/>
<polygon points="247.9,112.8 256.7,107.7 266.8,106.5 266.8,117.8 260.5,125.4 249.2,127.9" fill="#a4b737"/>
<polygon points="266.8,95.1 276.9,91.3 283.2,92.6 283.2,105.2 276.9,111.5 268.1,110.2" fill="#f0a432"/>
<polygon points="246.6,145.5 256.7,140.5 266.8,140.5 266.8,155.6 260.5,160.6 245.4,160.6" fill="#35bbac"/>
<polygon points="247.9,162.6 370.1,162.6 370.1,230.6 247.9,230.6" fill="#ecba31"/>
<polygon points="245.4,150.0 266.8,150.0 264.3,157.6 254.2,162.6 245.4,162.6" fill="#35bbac"/>
<polygon points="230.3,163.9 245.4,162.6 246.6,172.7 242.9,177.7 230.3,177.7" fill="#66c250"/>
<polygon points="230.3,177.7 247.9,177.7 247.9,230.6 230.3,230.6" fill="#eeaa33"/>
<polygon points="265.5,175.2 284.4,175.2 304.6,187.8 317.2,181.5 336.1,175.2 339.9,194.1 324.8,206.7 304.6,210.5 285.7,209.2 266.8,206.7" fill="#e6cc2e"/>
<polygon points="299.6,195.4 319.7,191.6 319.7,210.5 302.1,210.5" fill="#dfdd30"/>
<polygon points="247.9,177.7 265.5,175.2 266.8,187.8 265.5,206.7 254.2,209.2 247.9,202.9" fill="#d2aa2c"/>
<polygon points="281.9,210.5 299.6,209.2 304.6,220.6 297.0,225.6 281.9,228.1" fill="#f0a432"/>
<polygon points="322.2,213.0 337.4,205.4 342.4,195.4 355.0,192.8 370.1,195.4 370.1,210.5 355.0,213.0 339.9,220.6 324.8,225.6" fill="#f0a432"/>
<polygon points="294.5,223.1 304.6,223.1 304.6,230.6 294.5,230.6" fill="#35bbac"/>
<polygon points="342.4,213.0 361.3,213.0 361.3,230.6 342.4,230.6" fill="#a4b737"/>
<polygon points="361.3,210.5 370.1,210.5 370.1,230.6 361.3,230.6" fill="#dfdd30"/>
<polygon points="430.6,145.2 496.1,142.7 496.1,200.6 355.0,200.6 355.0,183.0 430.6,180.5" fill="#e6cc2e"/>
<polygon points="394.1,149.0 407.9,145.2 425.6,141.4 430.6,145.2 431.9,156.5 423.0,161.6 414.2,161.6 405.4,161.6 396.6,161.6 392.8,157.8" fill="#f0a432"/>
<polygon points="409.2,170.4 418.0,162.8 426.8,157.8 431.9,156.5 433.1,167.9 428.1,174.2 418.0,178.0 410.4,179.2" fill="#35bbac"/>
<polygon points="396.6,169.1 402.9,169.1 402.9,172.9 396.6,172.9" fill="#35bbac"/>
<polygon points="431.9,161.6 443.2,159.1 449.5,157.8 450.8,167.9 443.2,174.2 433.1,178.0" fill="#a4b737"/>
<polygon points="414.2,155.3 418.0,155.3 423.0,160.3 421.8,162.8 415.5,161.6" fill="#ffffff"/>
<polygon points="473.4,190.6 488.6,190.6 488.6,200.6 473.4,200.6" fill="#f0a432"/>
<polygon points="367.6,191.8 377.7,191.8 377.7,200.6 367.6,200.6" fill="#f0a432"/>
<polygon points="592.8,80.0 668.4,80.0 668.4,91.3 643.2,93.9 633.1,87.6 615.5,91.3 592.8,90.1" fill="#ecba31"/>
<polygon points="560.0,112.8 576.4,105.2 578.9,117.8 573.9,125.4 563.8,129.1 560.0,122.8" fill="#f0a432"/>
<polygon points="596.6,101.4 610.4,93.9 614.2,100.2 611.7,110.2 600.4,112.8 595.3,109.0" fill="#f0a432"/>
<polygon points="614.2,96.4 623.0,92.6 630.6,90.1 635.6,95.1 631.9,105.2 623.0,110.2 616.7,112.8 613.0,105.2" fill="#66c250"/>
<polygon points="650.8,95.1 663.4,92.6 668.4,95.1 665.9,107.7 655.8,112.8 650.8,107.7" fill="#d2aa2c"/>
<polygon points="668.4,82.5 688.6,81.3 686.0,87.6 676.0,93.9 670.9,90.1" fill="#4751ba"/>
<polygon points="668.4,101.4 678.5,96.4 686.0,95.1 687.3,105.2 678.5,109.0 669.7,107.7" fill="#f0a432"/>
<polygon points="688.6,82.5 696.1,82.5 696.1,92.6 688.6,92.6" fill="#a4b737"/>
<polygon points="596.6,127.9 615.5,125.4 630.6,132.9 625.6,143.0 607.9,144.3 596.6,140.5" fill="#e6cc2e"/>
<polygon points="626.8,91.3 635.6,92.6 634.4,96.4 628.1,95.8" fill="#ffffff"/>
<polygon points="760.6,80.0 831.1,80.0 831.1,95.1 816.0,95.1 798.4,87.6 760.6,87.6" fill="#ecba31"/>
<polygon points="690.0,81.3 705.1,81.3 705.1,93.9 690.0,93.9" fill="#d2aa2c"/>
<polygon points="706.4,82.5 724.0,81.3 722.8,91.3 715.2,93.9 706.4,92.6" fill="#f0a432"/>
<polygon points="725.3,97.6 735.4,93.9 742.9,91.3 744.2,102.7 740.4,109.0 730.3,111.5 725.3,106.5" fill="#f0a432"/>
<polygon points="760.6,83.8 778.2,81.3 798.4,83.8 797.1,96.4 790.8,105.2 785.8,111.5 780.7,110.2 778.2,102.7 768.1,105.2 760.6,103.9" fill="#ecba31"/>
<polygon points="778.2,92.6 797.1,92.6 790.8,105.2 785.8,111.5 780.7,110.2" fill="#f0a432"/>
<polygon points="798.4,95.1 808.4,91.3 816.0,90.1 817.3,101.4 811.0,107.7 800.9,111.5 797.1,103.9" fill="#66c250"/>
<polygon points="712.7,100.8 720.2,100.2 719.6,105.2 713.3,105.2" fill="#ffffff"/>
<polygon points="724.0,117.2 734.1,116.5 732.8,120.3 725.3,120.1" fill="#ffffff"/>
<polygon points="820.0,92.6 895.6,93.9 895.6,105.2 820.0,105.2" fill="#e6cc2e"/>
<polygon points="820.0,80.0 961.1,80.0 961.1,87.6 920.8,92.6 895.6,95.1 870.4,96.4 845.2,95.1 820.0,93.9" fill="#ecba31"/>
<polygon points="835.1,95.1 847.7,90.1 852.8,88.8 861.6,92.6 872.9,91.3 872.9,96.4 867.9,105.2 857.8,111.5 852.8,110.2 847.7,107.7 838.9,112.8 835.1,109.0" fill="#d2aa2c"/>
<polygon points="555.0,160.0 696.1,160.0 696.1,240.6 555.0,240.6" fill="#dfdd30"/>
<polygon points="557.5,214.2 577.7,212.9 580.2,225.5 573.9,240.6 557.5,240.6" fill="#e6cc2e"/>
<polygon points="577.7,200.3 592.8,192.8 597.8,195.3 596.6,204.1 587.8,209.1 578.9,211.7" fill="#ecba31"/>
<polygon points="562.6,210.4 578.9,211.7 580.2,216.7 562.6,218.0" fill="#e6cc2e"/>
<polygon points="577.7,176.4 587.8,175.1 596.6,173.9 597.8,185.2 592.8,191.5 585.2,196.5 578.9,195.3 576.4,185.2" fill="#3a9bdd"/>
<polygon points="578.9,177.6 585.2,178.9 586.5,185.2 581.5,186.5 578.9,182.7" fill="#ffffff"/>
<polygon points="562.6,187.7 568.9,187.7 568.9,190.2 562.6,190.2" fill="#3a9bdd"/>
<polygon points="597.8,180.2 610.4,175.1 614.2,176.4 613.0,189.0 602.9,196.5 596.6,191.5" fill="#f0a432"/>
<polygon points="650.8,185.2 660.8,177.6 669.7,175.1 668.4,185.2 660.8,192.8 653.3,196.5" fill="#f0a432"/>
<polygon points="669.7,197.8 681.0,192.8 686.0,190.2 688.6,200.3 686.0,216.7 683.5,225.5 676.0,228.0 668.4,223.0" fill="#4fc38c"/>
<polygon points="674.7,201.6 682.3,200.3 683.5,218.0 678.5,219.2 676.0,210.4" fill="#ffffff"/>
<polygon points="686.0,212.9 696.1,210.4 696.1,230.6 689.8,230.6 687.3,223.0" fill="#36b3c6"/>
<polygon points="687.3,197.8 696.1,196.5 696.1,210.4 688.6,210.4" fill="#d2aa2c"/>
<polygon points="613.0,204.1 620.5,204.1 619.3,212.9 614.2,212.9" fill="#ffffff"/>
<polygon points="625.6,206.6 631.9,206.6 631.9,210.4 625.6,210.4" fill="#ffffff"/>
<polygon points="635.6,199.1 643.2,200.3 641.9,211.7 636.9,210.4" fill="#ffffff"/>
<polygon points="229.0,215.0 370.1,215.0 370.1,295.6 229.0,295.6" fill="#ecba31"/>
<polygon points="357.5,215.0 370.1,215.0 370.1,256.6 357.5,256.6" fill="#e6cc2e"/>
<polygon points="247.9,246.5 266.8,240.2 281.9,242.7 284.4,255.3 281.9,265.4 266.8,267.9 254.2,270.4 245.4,265.4" fill="#f0a432"/>
<polygon points="322.2,215.0 339.9,215.0 339.9,227.6 334.8,240.2 327.3,245.2 321.0,240.2 322.2,230.1" fill="#f0a432"/>
<polygon points="281.9,262.9 299.6,257.8 302.1,267.9 297.0,275.5 285.7,278.0" fill="#f0a432"/>
<polygon points="297.0,240.2 307.1,230.1 317.2,227.6 319.7,240.2 317.2,244.0 304.6,246.5 299.6,249.0" fill="#b8b838"/>
<polygon points="284.4,246.5 299.6,246.5 304.6,260.4 299.6,260.4 284.4,262.9" fill="#b8b838"/>
<polygon points="339.9,221.3 355.0,217.5 358.8,230.1 355.0,240.2 342.4,242.7 337.4,236.4" fill="#d2aa2c"/>
<polygon points="269.3,228.9 284.4,227.6 297.0,223.8 302.1,222.6 304.6,232.6 299.6,240.2 287.0,245.2 283.2,238.9 276.9,236.4" fill="#35bbac"/>
<polygon points="302.1,245.2 317.2,242.7 324.8,245.2 336.1,241.5 342.4,240.2 355.0,241.5 358.8,246.5 356.3,259.1 355.0,269.2 342.4,278.0 337.4,275.5 339.9,265.4 324.8,266.7 310.9,265.4 304.6,260.4" fill="#35bbac"/>
<polygon points="322.2,265.4 337.4,262.9 339.9,275.5 327.3,280.5 322.2,274.2" fill="#b8b838"/>
<polygon points="299.6,262.9 310.9,265.4 322.2,267.9 324.8,275.5 314.7,278.0 304.6,275.5 299.6,270.4" fill="#66c250"/>
<polygon points="355.0,257.8 370.1,256.6 370.1,275.5 360.0,278.0 355.0,273.0" fill="#66c250"/>
<polygon points="307.1,285.6 327.3,280.5 337.4,285.6 329.8,295.6 307.1,295.6" fill="#66c250"/>
<polygon points="230.3,278.0 245.4,278.0 245.4,295.6 230.3,295.6" fill="#d2aa2c"/>
<polygon points="245.4,275.5 266.8,275.5 266.8,295.6 245.4,295.6" fill="#f0a432"/>
<polygon points="266.8,275.5 285.7,275.5 285.7,295.6 266.8,295.6" fill="#dfdd30"/>
<polygon points="339.9,275.5 370.1,275.5 370.1,295.6 339.9,295.6" fill="#e6cc2e"/>
<polygon points="356.3,241.5 362.6,241.5 362.6,245.2 356.3,245.2" fill="#ffffff"/>
<polygon points="355.0,215.0 496.1,215.0 496.1,295.6 355.0,295.6" fill="#dfdd30"/>
<polygon points="373.9,236.4 392.8,227.6 409.2,225.1 430.6,222.6 433.1,235.2 418.0,246.5 405.4,250.3 392.8,251.5 377.7,252.8" fill="#ecba31"/>
<polygon points="355.0,246.5 373.9,246.5 375.2,260.4 355.0,260.4" fill="#ecba31"/>
<polygon points="468.4,215.0 496.1,215.0 496.1,227.6 487.3,240.2 478.5,246.5 468.4,244.0 465.9,230.1" fill="#f0a432"/>
<polygon points="375.2,260.4 392.8,257.8 418.0,256.6 430.6,254.1 443.2,255.3 465.9,256.6 487.3,255.3 488.6,271.7 468.4,274.2 448.2,275.5 430.6,276.7 418.0,274.2 405.4,275.5 392.8,280.5 375.2,281.8" fill="#a4b737"/>
<polygon points="357.5,262.9 375.2,260.4 376.4,275.5 367.6,278.0 357.5,275.5" fill="#66c250"/>
<polygon points="355.0,275.5 375.2,275.5 375.2,295.6 355.0,295.6" fill="#f0a432"/>
<polygon points="375.2,275.5 392.8,280.5 396.6,290.6 386.5,295.6 375.2,295.6" fill="#66c250"/>
<polygon points="392.8,284.3 409.2,273.0 414.2,276.7 410.4,288.1 402.9,295.6 392.8,295.6" fill="#f0a432"/>
<polygon points="430.6,280.5 445.7,274.2 448.2,280.5 445.7,295.6 430.6,295.6" fill="#f0a432"/>
<polygon points="448.2,276.7 465.9,274.2 486.0,274.2 488.6,285.6 481.0,295.6 448.2,295.6" fill="#5ac565"/>
<polygon points="355.0,240.2 357.5,240.2 357.5,271.7 355.0,271.7" fill="#35bbac"/>
<polygon points="229.0,290.0 370.1,290.0 370.1,370.6 229.0,370.6" fill="#dfdd30"/>
<polygon points="229.0,290.0 247.9,290.0 247.9,308.9 229.0,308.9" fill="#d2aa2c"/>
<polygon points="247.9,295.0 266.8,292.5 285.7,290.0 299.6,292.5 299.6,308.9 294.5,327.8 284.4,327.8 281.9,312.7 266.8,308.9 247.9,310.2" fill="#b8b838"/>
<polygon points="247.9,315.2 266.8,308.9 281.9,312.7 284.4,327.8 279.4,337.9 266.8,342.9 247.9,344.2" fill="#f0a432"/>
<polygon points="229.0,342.9 247.9,344.2 247.9,355.5 229.0,355.5" fill="#f0a432"/>
<polygon points="299.6,296.3 317.2,292.5 322.2,297.6 319.7,307.6 309.6,311.4 302.1,308.9" fill="#35bbac"/>
<polygon points="317.2,297.6 336.1,292.5 355.0,290.0 370.1,290.0 370.1,306.4 342.4,311.4 327.3,315.2 319.7,307.6" fill="#f0a432"/>
<polygon points="299.6,311.4 317.2,308.9 336.1,315.2 339.9,327.8 336.1,334.1 327.3,337.9 309.6,342.9 302.1,340.4 294.5,327.8" fill="#a4b737"/>
<polygon points="337.4,311.4 355.0,307.6 370.1,306.4 370.1,327.8 355.0,326.5 339.9,327.8 336.1,321.5" fill="#35bbac"/>
<polygon points="339.9,327.8 355.0,326.5 357.5,337.9 347.4,342.9 338.6,341.7" fill="#b8b838"/>
<polygon points="355.0,327.8 370.1,327.8 370.1,353.0 342.4,355.5 339.9,345.4 350.0,340.4" fill="#f0a432"/>
<polygon points="230.3,355.5 245.4,354.3 246.6,370.6 230.3,370.6" fill="#36b3c6"/>
<polygon points="246.6,358.0 266.8,358.0 266.8,370.6 246.6,370.6" fill="#d2aa2c"/>
<polygon points="299.6,310.2 307.1,310.2 307.1,315.2 299.6,315.2" fill="#ffffff"/>
<polygon points="327.3,317.7 342.4,317.7 342.4,322.8 327.3,322.8" fill="#ffffff"/>
<polygon points="276.9,296.3 283.2,296.3 283.2,301.3 276.9,301.3" fill="#ffffff"/>
<polygon points="355.0,290.0 496.1,290.0 496.1,370.6 355.0,370.6" fill="#dfdd30"/>
<polygon points="392.8,308.9 430.6,308.9 430.6,325.3 392.8,325.3" fill="#e6cc2e"/>
<polygon points="430.6,334.1 496.1,331.6 496.1,370.6 430.6,370.6" fill="#e6cc2e"/>
<polygon points="355.0,290.0 373.9,290.0 373.9,308.9 355.0,308.9" fill="#f0a432"/>
<polygon points="375.2,290.0 385.2,290.0 385.2,295.0 375.2,295.0" fill="#66c250"/>
<polygon points="430.6,290.0 436.9,290.0 436.9,295.0 430.6,295.0" fill="#f0a432"/>
<polygon points="448.2,290.0 496.1,290.0 496.1,293.8 448.2,293.8" fill="#5ac565"/>
<polygon points="355.0,308.9 370.1,306.4 375.2,312.7 373.9,322.8 365.1,327.8 355.0,327.8" fill="#35bbac"/>
<polygon points="355.0,327.8 373.9,326.5 375.2,340.4 373.9,350.5 362.6,355.5 355.0,353.0" fill="#f0a432"/>
<polygon points="373.9,310.2 392.8,307.6 395.3,322.8 386.5,327.8 375.2,327.8" fill="#b8b838"/>
<polygon points="373.9,327.8 395.3,325.3 425.6,325.3 430.6,330.3 430.6,342.9 425.6,349.2 411.7,355.5 396.6,360.6 380.2,358.0 373.9,350.5" fill="#66c250"/>
<polygon points="392.8,340.4 411.7,340.4 411.7,358.0 392.8,358.0" fill="#5ac565"/>
<polygon points="415.5,340.4 430.6,340.4 430.6,350.5 415.5,355.5" fill="#a4b737"/>
<polygon points="430.6,322.8 448.2,322.8 450.8,337.9 443.2,342.9 433.1,340.4" fill="#f0a432"/>
<polygon points="445.7,340.4 465.9,337.9 468.4,350.5 460.8,358.0 445.7,355.5" fill="#f0a432"/>
<polygon points="396.6,360.6 430.6,355.5 430.6,370.6 396.6,370.6" fill="#f0a432"/>
<polygon points="395.3,325.3 420.5,326.5 420.5,335.4 396.6,331.6" fill="#ffffff"/>
<polygon points="448.2,324.0 455.8,324.0 453.3,335.4 448.2,337.9" fill="#ffffff"/>
<polygon points="458.3,308.9 465.9,310.2 465.9,320.2 458.3,319.0" fill="#ffffff"/>
<polygon points="474.7,324.0 488.6,321.5 492.3,326.5 478.5,329.1" fill="#ffffff"/>
<polygon points="438.2,342.9 445.7,341.7 448.2,349.2 440.7,350.5" fill="#ffffff"/>
<polygon points="229.0,365.0 370.1,365.0 370.1,445.6 229.0,445.6" fill="#dfdd30"/>
<polygon points="284.4,383.9 319.7,383.9 319.7,428.0 284.4,428.0" fill="#e6cc2e"/>
<polygon points="230.3,365.0 245.4,365.0 245.4,372.6 240.3,375.1 230.3,373.8" fill="#36b3c6"/>
<polygon points="246.6,365.0 266.8,365.0 266.8,375.1 246.6,375.1" fill="#f0a432"/>
<polygon points="230.3,376.3 245.4,375.1 247.9,390.2 236.6,392.7 230.3,391.5" fill="#66c250"/>
<polygon points="246.6,377.6 258.0,372.6 266.8,371.3 268.1,381.4 260.5,390.2 247.9,391.5" fill="#3a9bdd"/>
<polygon points="266.8,375.1 281.9,372.6 284.4,387.7 275.6,392.7 266.8,390.2" fill="#b8b838"/>
<polygon points="245.4,394.0 264.3,388.9 266.8,397.8 260.5,405.3 249.2,406.6 245.4,401.5" fill="#f0a432"/>
<polygon points="264.3,390.2 281.9,390.2 284.4,402.8 276.9,406.6 265.5,402.8" fill="#66c250"/>
<polygon points="264.3,406.6 276.9,405.3 284.4,407.8 284.4,420.4 274.4,425.5 265.5,424.2" fill="#4fc38c"/>
<polygon points="283.2,381.4 299.6,372.6 310.9,367.5 317.2,375.1 304.6,383.9 289.5,390.2" fill="#f0a432"/>
<polygon points="317.2,394.0 342.4,390.2 361.3,383.9 370.1,381.4 370.1,405.3 355.0,409.1 342.4,419.2 337.4,428.0 324.8,430.5 317.2,421.7" fill="#f0a432"/>
<polygon points="355.0,409.1 370.1,405.3 370.1,424.2 360.0,425.5 350.0,421.7" fill="#66c250"/>
<polygon points="299.6,426.7 324.8,424.2 334.8,431.8 327.3,440.6 309.6,440.6 302.1,435.6" fill="#f0a432"/>
<polygon points="337.4,425.5 350.0,425.5 350.0,435.6 337.4,435.6" fill="#66c250"/>
<polygon points="302.1,438.1 317.2,435.6 324.8,440.6 329.8,445.6 302.1,445.6" fill="#3a9bdd"/>
<polygon points="327.3,435.6 355.0,435.6 355.0,445.6 327.3,445.6" fill="#4588d8"/>
<polygon points="342.4,433.0 355.0,433.0 355.0,440.6 342.4,440.6" fill="#35bbac"/>
<polygon points="357.5,425.5 370.1,425.5 370.1,445.6 357.5,445.6" fill="#ecba31"/>
<polygon points="355.0,365.0 496.1,365.0 496.1,445.6 355.0,445.6" fill="#dfdd30"/>
<polygon points="355.0,375.1 373.9,372.6 375.2,390.2 373.9,402.8 362.6,406.6 355.0,405.3" fill="#f0a432"/>
<polygon points="392.8,365.0 430.6,365.0 425.6,372.6 415.5,376.3 405.4,375.1 392.8,372.6" fill="#f0a432"/>
<polygon points="448.2,365.0 465.9,365.0 465.9,376.3 448.2,376.3" fill="#e6cc2e"/>
<polygon points="430.6,405.3 455.8,402.8 496.1,406.6 496.1,445.6 411.7,445.6 418.0,435.6 430.6,428.0" fill="#e6cc2e"/>
<polygon points="355.0,407.8 373.9,402.8 392.8,401.5 395.3,407.8 392.8,417.9 384.0,423.0 370.1,424.2 355.0,423.0" fill="#66c250"/>
<polygon points="392.8,406.6 407.9,402.8 430.6,405.3 443.2,415.4 430.6,428.0 418.0,435.6 411.7,445.6 392.8,445.6 389.0,435.6 395.3,425.5" fill="#f0a432"/>
<polygon points="355.0,423.0 384.0,423.0 389.0,435.6 375.2,439.3 355.0,435.6" fill="#ecba31"/>
<polygon points="365.1,438.1 375.2,435.6 377.7,445.6 362.6,445.6" fill="#4588d8"/>
<polygon points="392.8,435.6 411.7,435.6 411.7,445.6 392.8,445.6" fill="#4fc38c"/>
<polygon points="355.0,438.1 362.6,438.1 362.6,445.6 355.0,445.6" fill="#36b3c6"/>
<polygon points="270.0,415.0 410.2,415.0 410.2,476.5 270.0,476.5" fill="#dfdd30"/>
<polygon points="270.0,415.0 282.5,415.0 282.5,424.6 270.0,424.6" fill="#35bbac"/>
<polygon points="301.7,426.5 318.0,420.8 337.2,415.0 354.5,415.0 343.0,426.5 337.2,436.1 320.0,438.1 301.7,438.1" fill="#f0a432"/>
<polygon points="281.5,447.7 291.1,441.9 300.7,434.2 302.7,443.8 301.7,453.4 289.2,455.3 284.4,456.3" fill="#a4b737"/>
<polygon points="339.2,427.5 354.5,418.8 366.1,415.0 390.1,415.0 389.1,422.7 375.7,424.6 356.5,429.4 344.9,434.2" fill="#66c250"/>
<polygon points="390.1,415.0 410.2,415.0 410.2,434.2 394.9,440.0 375.7,437.1 371.8,430.4 375.7,424.6" fill="#f0a432"/>
<polygon points="375.7,434.2 394.9,440.0 410.2,434.2 410.2,472.6 356.5,472.6 356.5,453.4 375.7,443.8" fill="#66c250"/>
<polygon points="375.7,451.5 394.9,451.5 394.9,468.8 375.7,468.8" fill="#a4b737"/>
<polygon points="320.0,455.3 337.2,451.5 339.2,465.0 320.0,465.9" fill="#ecba31"/>
<polygon points="339.2,455.3 354.5,451.5 356.5,463.0 343.0,466.9 339.2,465.0" fill="#d2aa2c"/>
<polygon points="302.7,440.9 316.1,434.2 320.0,436.1 323.8,440.0 337.2,439.0 339.2,451.5 329.6,454.4 320.9,455.3 312.3,453.4 303.6,455.3" fill="#3a9bdd"/>
<polygon points="337.2,435.2 356.5,434.2 356.5,448.6 354.5,453.4 343.0,457.3 339.2,451.5" fill="#36b3c6"/>
<polygon points="356.5,441.9 366.1,438.1 373.7,435.2 375.7,442.9 369.9,449.6 364.1,455.3 359.3,456.3 356.5,451.5" fill="#4588d8"/>
<polygon points="400.0,415.0 540.2,415.0 540.2,476.5 400.0,476.5" fill="#dfdd30"/>
<polygon points="431.7,415.0 457.6,415.0 457.6,443.8 431.7,443.8" fill="#e6cc2e"/>
<polygon points="496.1,415.0 540.2,415.0 540.2,426.5 496.1,426.5" fill="#e6cc2e"/>
<polygon points="484.5,453.4 524.9,453.4 524.9,476.5 484.5,476.5" fill="#e6cc2e"/>
<polygon points="400.0,415.0 431.7,415.0 431.7,476.5 400.0,476.5" fill="#ecba31"/>
<polygon points="400.0,436.1 411.5,434.2 412.5,455.3 409.6,465.0 400.0,468.8" fill="#66c250"/>
<polygon points="410.6,463.0 419.2,455.3 428.8,449.6 431.7,453.4 428.8,476.5 414.4,476.5 410.6,466.9" fill="#4a64c4"/>
<polygon points="431.7,443.8 448.0,442.9 463.4,439.0 467.2,447.7 453.8,453.4 446.1,461.1 440.3,476.5 431.7,476.5" fill="#f0a432"/>
<polygon points="446.1,459.2 457.6,453.4 465.3,449.6 469.2,453.4 467.2,468.8 457.6,476.5 446.1,476.5" fill="#66c250"/>
<polygon points="467.2,453.4 484.5,443.8 496.1,437.1 505.7,434.2 524.9,434.2 540.2,426.5 540.2,455.3 524.9,451.5 505.7,453.4 486.5,455.3 476.8,468.8 467.2,468.8" fill="#f0a432"/>
<polygon points="524.9,451.5 540.2,451.5 540.2,476.5 524.9,476.5" fill="#d2aa2c"/>
<polygon points="496.1,465.9 505.7,465.9 505.7,476.5 496.1,476.5" fill="#35bbac"/>
<polygon points="542.5,415.0 670.2,415.0 670.2,453.4 542.5,453.4" fill="#dfdd30"/>
<polygon points="568.4,415.0 606.8,415.0 606.8,424.6 568.4,424.6" fill="#e6cc2e"/>
<polygon points="530.0,415.0 542.5,415.0 542.5,453.4 530.0,453.4" fill="#ecba31"/>
<polygon points="530.0,434.2 542.5,434.2 542.5,448.6 530.0,448.6" fill="#d2aa2c"/>
<polygon points="630.9,419.8 650.1,419.8 650.1,439.0 630.9,439.0" fill="#ecba31"/>
<polygon points="530.0,453.4 578.0,451.5 580.0,476.5 530.0,476.5" fill="#b8b838"/>
<polygon points="530.0,465.0 544.4,465.0 544.4,476.5 530.0,476.5" fill="#35bbac"/>
<polygon points="568.4,465.9 578.0,465.9 578.0,476.5 568.4,476.5" fill="#4fc38c"/>
<polygon points="578.0,455.3 597.2,451.5 616.5,453.4 621.3,476.5 578.0,476.5" fill="#f0a432"/>
<polygon points="621.3,455.3 635.7,451.5 650.1,451.5 651.0,476.5 621.3,476.5" fill="#f0a432"/>
<polygon points="622.2,465.0 633.7,465.0 633.7,476.5 622.2,476.5" fill="#36b3c6"/>
<polygon points="631.8,468.8 645.3,465.0 651.0,463.0 651.0,476.5 631.8,476.5" fill="#4751ba"/>
<polygon points="637.6,443.8 654.9,443.8 651.0,449.6 639.5,449.6" fill="#ffffff"/>
<polygon points="651.0,451.5 670.2,445.7 670.2,476.5 651.0,476.5" fill="#a4b737"/>
<polygon points="597.2,465.0 603.0,465.0 603.0,468.8 597.2,468.8" fill="#36b3c6"/>
<polygon points="1100.0,139.0 1106.0,138.0 1111.0,141.0 1110.0,150.0 1104.0,161.0 1093.0,163.0 1090.0,153.0 1094.0,146.0" fill="#f0a432"/>
<polygon points="1098.0,133.0 1108.0,133.0 1108.0,139.0 1098.0,139.0" fill="#e6cc2e"/>
<polygon points="1206.0,378.0 1213.0,376.0 1213.0,409.0 1207.0,410.0 1203.0,400.0 1204.0,388.0" fill="#4fc38c"/>
<polygon points="1207.0,392.0 1213.0,392.0 1213.0,404.0 1207.0,404.0" fill="#35bbac"/>
<polygon points="418.0,95.0 428.0,90.0 432.0,92.0 431.0,103.0 424.0,108.0 416.0,111.0 412.0,106.0 413.0,98.0" fill="#5ac565"/>
<path d="M238 150h3v3h-3zM778 275h2v1h-2zM878 85h3v1h-3zM477 235h3v2h-3zM796 289h2v2h-2zM414 334h3v1h-3zM1053 195h1v2h-1zM283 298h1v1h-1zM583 294h2v3h-2zM1000 181h3v2h-3zM232 382h2v3h-2zM858 98h2v1h-2zM1162 153h2v3h-2zM685 204h1v2h-1zM329 181h3v2h-3zM376 366h1v1h-1zM571 395h1v2h-1zM421 109h2v2h-2zM543 392h2v2h-2zM303 202h1v2h-1zM830 129h1v2h-1zM360 352h3v1h-3zM702 83h1v1h-1zM1172 262h2v2h-2zM1012 180h1v2h-1zM674 439h2v1h-2zM741 391h3v1h-3zM498 142h1v3h-1zM1021 157h2v3h-2zM472 257h2v2h-2zM892 271h3v2h-3zM659 296h2v1h-2zM312 331h2v2h-2zM390 292h2v1h-2zM1122 100h2v2h-2zM1200 117h2v2h-2zM652 347h2v3h-2zM273 261h2v2h-2zM805 334h2v1h-2zM1101 207h3v2h-3zM368 340h2v1h-2zM978 435h1v1h-1zM702 275h1v2h-1zM338 156h2v1h-2zM773 268h2v2h-2zM526 416h1v1h-1zM399 231h1v3h-1zM554 362h2v2h-2zM816 396h2v2h-2zM317 348h2v1h-2zM961 132h2v2h-2zM755 285h3v2h-3zM524 201h2v2h-2zM438 107h3v3h-3zM272 306h2v2h-2zM1102 125h2v2h-2zM777 221h3v3h-3zM762 112h3v3h-3zM269 274h2v2h-2zM728 443h2v2h-2zM687 281h3v1h-3zM987 454h2v1h-2zM501 213h2v2h-2zM592 315h3v1h-3zM430 159h1v1h-1zM458 179h2v3h-2zM490 424h2v2h-2zM928 123h2v2h-2zM990 139h2v2h-2zM997 141h1v3h-1zM1003 173h3v2h-3zM851 99h2v2h-2zM996 400h3v1h-3zM639 111h1v2h-1zM1013 174h2v2h-2zM775 188h1v3h-1zM305 152h2v3h-2zM890 200h1v2h-1zM1125 96h2v2h-2zM481 442h3v3h-3zM981 135h1v1h-1zM534 469h1v2h-1zM694 442h1v2h-1zM457 267h2v2h-2zM463 340h1v3h-1zM252 296h1v1h-1zM860 268h2v2h-2zM733 342h3v2h-3zM272 216h1v1h-1zM464 345h1v2h-1zM973 214h2v3h-2zM865 241h2v1h-2zM1015 141h3v1h-3zM907 143h1v1h-1zM321 330h2v2h-2zM462 462h2v2h-2zM1195 148h2v2h-2zM967 440h3v2h-3zM394 257h2v1h-2zM912 470h1v1h-1zM819 134h3v2h-3zM734 336h2v2h-2zM982 433h2v2h-2zM640 415h2v2h-2zM941 126h2v3h-2zM271 116h2v3h-2zM358 460h2v3h-2zM374 141h2v2h-2zM617 302h2v1h-2zM660 87h1v1h-1zM1168 101h3v2h-3zM1122 432h1v1h-1zM836 364h2v3h-2zM606 398h2v1h-2zM827 331h3v3h-3zM696 451h3v2h-3zM466 123h2v2h-2zM830 154h1v1h-1zM629 253h3v2h-3zM544 133h2v3h-2zM772 132h2v2h-2zM1015 378h2v1h-2zM950 259h3v3h-3zM413 442h1v1h-1zM1041 349h3v1h-3zM516 312h2v2h-2zM855 163h2v3h-2zM765 256h3v2h-3zM838 215h2v2h-2zM505 411h2v2h-2zM295 402h2v2h-2zM622 310h1v2h-1zM669 349h1v2h-1zM868 427h3v1h-3zM344 370h1v3h-1zM682 292h2v2h-2zM826 85h1v2h-1zM939 398h1v2h-1zM578 396h2v3h-2zM728 152h3v3h-3zM567 384h1v2h-1zM1067 126h1v2h-1zM1023 343h3v1h-3zM865 155h3v1h-3zM282 252h2v2h-2zM307 427h2v2h-2zM587 234h2v2h-2zM696 218h3v3h-3zM503 195h3v2h-3zM476 326h2v1h-2zM372 138h2v3h-2zM703 253h3v2h-3zM1030 406h2v2h-2zM674 205h2v1h-2zM875 107h2v3h-2zM539 266h2v3h-2zM426 429h3v2h-3zM590 471h1v2h-1zM1010 350h2v2h-2zM387 470h2v3h-2zM1039 367h1v2h-1zM270 355h2v3h-2zM612 254h2v3h-2zM750 240h2v3h-2zM526 368h1v3h-1zM403 119h2v2h-2zM407 292h2v1h-2zM859 331h2v2h-2zM947 133h3v2h-3zM1091 347h3v3h-3zM282 284h2v1h-2zM836 232h1v3h-1zM866 335h3v1h-3zM1131 376h2v2h-2zM1113 256h3v3h-3zM972 196h1v2h-1zM717 199h2v1h-2zM297 233h3v3h-3zM516 112h1v2h-1zM594 95h1v2h-1zM401 421h2v2h-2zM439 129h2v2h-2zM1208 292h3v2h-3zM1179 463h1v2h-1zM350 192h3v1h-3zM740 177h2v3h-2zM764 459h1v2h-1zM971 127h2v1h-2zM978 296h2v1h-2zM264 367h2v1h-2zM320 144h3v2h-3zM558 93h3v3h-3zM1126 403h2v2h-2zM965 108h2v1h-2zM666 450h3v1h-3zM413 346h2v3h-2zM463 239h2v3h-2zM488 308h3v1h-3zM548 454h2v1h-2zM836 113h2v1h-2zM823 305h2v3h-2zM873 120h2v3h-2zM914 227h3v2h-3zM591 389h1v2h-1zM619 414h2v2h-2zM604 313h2v3h-2zM798 395h1v2h-1zM440 354h3v1h-3zM635 231h2v2h-2zM615 144h2v1h-2zM547 195h2v1h-2zM968 287h1v1h-1zM414 198h3v3h-3zM377 107h3v1h-3zM298 442h2v2h-2zM890 355h3v2h-3zM855 174h1v3h-1zM1121 157h2v3h-2zM1166 330h2v1h-2zM365 354h2v1h-2zM537 466h2v2h-2zM1014 406h1v2h-1zM515 170h2v1h-2zM1185 192h2v3h-2zM387 263h2v1h-2zM959 99h2v2h-2zM368 164h2v1h-2zM658 287h3v2h-3zM646 384h3v3h-3zM933 315h2v2h-2zM416 189h3v3h-3zM890 402h3v1h-3zM759 452h3v2h-3zM667 88h1v3h-1zM604 336h3v2h-3zM373 315h3v1h-3zM769 281h1v1h-1zM918 244h2v2h-2zM549 321h2v2h-2zM300 440h3v3h-3zM761 295h2v2h-2zM297 180h1v2h-1zM371 398h1v3h-1zM862 92h2v3h-2zM420 304h2v3h-2zM440 441h2v1h-2zM795 144h1v3h-1zM855 143h2v3h-2zM299 300h1v1h-1zM1010 293h3v2h-3zM382 323h1v2h-1zM571 150h1v3h-1zM455 124h2v3h-2zM284 334h2v2h-2zM469 306h1v2h-1zM410 421h1v2h-1zM345 339h2v1h-2zM447 345h3v3h-3zM847 85h2v2h-2zM1010 426h2v2h-2zM350 209h1v3h-1zM480 140h1v3h-1zM819 439h1v1h-1zM302 181h1v3h-1zM401 108h2v1h-2zM918 429h2v1h-2zM494 128h2v2h-2zM774 205h1v1h-1zM512 169h2v3h-2zM557 246h2v1h-2zM443 444h2v2h-2zM448 156h1v3h-1zM420 156h2v2h-2zM875 151h2v2h-2zM1168 197h3v1h-3zM551 423h1v1h-1zM909 393h3v1h-3zM729 259h1v2h-1zM710 206h3v3h-3zM572 243h3v2h-3zM906 176h2v2h-2zM235 427h2v2h-2zM254 428h1v2h-1zM1056 167h2v2h-2zM290 197h2v2h-2zM276 225h3v2h-3zM1064 415h1v2h-1zM460 301h2v2h-2zM438 277h2v2h-2zM425 283h1v2h-1zM714 174h2v2h-2zM595 304h2v2h-2zM643 264h3v2h-3zM1008 153h3v2h-3zM1115 394h1v2h-1zM519 370h1v2h-1zM896 178h2v2h-2zM618 367h1v3h-1zM818 117h2v2h-2zM1072 221h2v2h-2zM408 341h2v2h-2zM581 112h3v2h-3zM1206 134h2v2h-2zM334 268h1v2h-1zM1096 426h2v2h-2zM816 241h1v2h-1zM732 155h2v3h-2zM316 90h1v1h-1zM861 329h2v2h-2zM617 308h2v2h-2zM710 245h2v2h-2zM398 234h2v1h-2zM691 424h2v2h-2zM409 220h2v1h-2zM870 319h2v3h-2zM408 237h3v2h-3zM349 465h2v1h-2zM1009 451h3v2h-3zM854 98h2v3h-2zM1193 370h2v3h-2zM533 429h3v2h-3zM232 424h2v2h-2zM254 197h2v2h-2zM1210 107h2v2h-2zM509 220h2v2h-2zM871 375h2v3h-2zM924 172h2v3h-2zM613 392h1v2h-1zM929 225h3v2h-3zM907 101h2v1h-2zM621 395h1v1h-1zM1067 402h2v2h-2zM336 372h1v3h-1zM1147 159h2v2h-2zM880 367h2v2h-2zM746 404h2v2h-2zM736 102h1v2h-1zM574 309h1v1h-1zM750 203h1v3h-1zM253 364h2v3h-2zM456 301h2v2h-2zM997 175h1v2h-1zM1139 189h1v3h-1zM879 384h3v2h-3zM744 181h1v1h-1zM929 448h1v2h-1zM420 145h2v2h-2zM1100 199h2v2h-2zM394 425h3v2h-3zM1123 276h3v2h-3zM1022 222h2v2h-2zM303 134h3v2h-3zM1028 213h3v2h-3zM1197 150h2v2h-2zM511 433h1v2h-1zM1103 443h2v3h-2zM1171 204h2v1h-2zM581 467h3v2h-3zM855 460h2v2h-2zM576 333h1v1h-1zM240 209h3v3h-3zM1130 430h2v2h-2zM269 164h3v3h-3zM1100 289h2v2h-2zM636 333h1v2h-1zM867 232h1v1h-1zM599 343h1v3h-1zM715 238h2v1h-2zM821 444h1v1h-1zM1185 303h2v2h-2zM1057 471h2v2h-2zM296 468h1v3h-1zM796 437h2v3h-2zM619 284h1v2h-1zM612 142h2v1h-2zM532 183h1v2h-1zM984 203h2v3h-2zM831 312h2v2h-2zM445 134h3v2h-3zM974 141h1v3h-1zM325 159h2v3h-2zM434 188h2v2h-2zM579 141h2v1h-2zM528 246h2v2h-2zM387 409h1v1h-1zM717 399h2v2h-2zM332 158h2v2h-2zM1169 138h2v3h-2zM306 458h2v3h-2zM740 411h2v3h-2zM398 146h2v3h-2zM812 368h2v2h-2zM811 279h2v2h-2zM515 183h2v2h-2zM358 451h2v2h-2zM240 361h1v2h-1zM427 106h2v1h-2zM455 381h3v3h-3zM794 358h2v2h-2zM412 360h2v2h-2zM933 178h3v1h-3zM454 444h1v3h-1zM662 109h1v2h-1zM492 150h2v2h-2zM831 145h2v3h-2zM601 266h2v1h-2zM452 324h2v2h-2zM530 166h1v1h-1zM707 393h3v1h-3zM1074 160h2v2h-2zM683 463h2v2h-2zM1013 380h2v2h-2zM899 170h2v2h-2zM840 387h3v3h-3zM489 207h3v2h-3zM504 134h3v2h-3zM279 144h3v2h-3zM1049 405h1v2h-1zM1012 393h3v2h-3zM273 469h2v2h-2zM973 320h1v3h-1zM357 119h1v2h-1zM759 447h2v1h-2zM301 262h3v1h-3zM630 157h2v2h-2zM859 435h2v1h-2zM805 445h1v3h-1zM362 136h3v2h-3zM1089 392h3v2h-3zM363 254h1v2h-1zM1158 95h2v1h-2zM1021 170h2v2h-2zM465 82h3v1h-3zM264 102h2v2h-2zM754 198h3v1h-3zM266 290h3v2h-3zM637 359h3v2h-3zM672 358h1v2h-1zM503 248h1v2h-1zM1080 459h2v1h-2zM233 395h3v1h-3zM341 394h3v3h-3zM826 225h3v1h-3zM602 92h2v2h-2zM487 363h2v2h-2zM768 381h3v2h-3zM719 353h2v2h-2zM1191 389h2v2h-2zM318 433h1v2h-1zM639 374h3v2h-3zM463 370h2v1h-2zM828 220h1v2h-1zM1037 146h2v3h-2zM796 211h3v1h-3zM348 402h1v2h-1zM702 427h2v1h-2zM270 416h3v2h-3zM399 183h1v3h-1zM989 319h3v2h-3zM428 277h1v3h-1zM471 126h2v2h-2zM823 265h2v2h-2zM598 91h2v1h-2zM1073 148h2v2h-2zM410 264h2v2h-2zM396 371h3v2h-3zM578 174h3v2h-3zM1056 426h2v3h-2zM1056 338h1v3h-1zM610 379h3v1h-3zM735 377h2v1h-2zM949 334h3v2h-3zM1038 93h2v1h-2zM843 271h1v1h-1zM931 184h1v1h-1zM490 413h2v2h-2zM644 433h3v1h-3zM817 228h1v2h-1zM317 463h3v2h-3zM552 453h1v3h-1zM262 226h2v1h-2zM733 303h1v1h-1zM479 421h3v2h-3zM997 210h1v3h-1zM1028 271h2v3h-2zM806 307h3v1h-3zM495 370h1v2h-1zM1022 255h1v2h-1zM649 247h2v1h-2zM790 349h2v2h-2zM1095 226h3v2h-3zM1042 276h1v3h-1zM576 262h2v2h-2zM1078 327h1v2h-1zM328 320h1v2h-1zM338 213h2v1h-2zM906 84h3v2h-3zM879 388h2v1h-2zM931 89h3v3h-3zM456 365h1v3h-1zM302 366h2v3h-2zM993 408h1v2h-1zM999 213h2v3h-2zM1031 230h2v1h-2zM1142 355h3v3h-3zM1164 401h2v2h-2zM554 438h2v2h-2zM907 435h3v2h-3zM1188 467h3v2h-3zM940 138h2v3h-2zM1111 94h3v2h-3zM240 207h3v3h-3zM1139 160h2v1h-2zM398 227h1v1h-1zM599 384h1v3h-1zM550 182h2v2h-2zM546 404h3v1h-3zM744 324h1v3h-1zM1044 304h1v2h-1zM489 129h3v3h-3zM1152 222h2v3h-2zM957 182h1v3h-1zM1072 394h2v3h-2zM387 246h3v2h-3zM599 469h2v2h-2zM244 113h2v3h-2zM397 456h2v2h-2zM437 134h3v3h-3zM798 160h2v1h-2zM239 365h3v2h-3zM746 135h2v3h-2zM706 329h1v3h-1zM907 156h3v1h-3zM1132 139h3v3h-3zM652 297h1v2h-1zM550 350h3v2h-3zM1078 433h1v2h-1zM864 411h2v1h-2zM389 247h3v3h-3zM848 367h2v2h-2zM533 293h2v3h-2zM823 97h2v2h-2zM698 273h2v2h-2zM1182 161h3v3h-3zM388 420h1v1h-1zM309 407h3v2h-3zM430 349h2v1h-2zM469 190h3v2h-3zM608 357h3v1h-3zM866 272h3v2h-3zM523 352h2v3h-2zM640 410h1v2h-1zM258 206h3v3h-3zM848 198h2v3h-2zM731 147h2v3h-2zM767 455h2v3h-2zM1143 126h2v3h-2zM593 338h1v2h-1zM663 369h1v2h-1zM262 131h3v1h-3zM1172 245h2v1h-2zM634 136h3v1h-3zM1053 228h3v1h-3zM935 194h1v1h-1zM813 115h1v2h-1zM1058 114h3v3h-3zM1142 192h3v2h-3zM790 345h2v1h-2zM737 421h2v2h-2zM389 338h2v3h-2zM287 117h3v2h-3zM478 277h2v2h-2zM836 119h2v2h-2zM438 326h1v2h-1zM265 167h1v1h-1zM911 167h2v3h-2zM412 281h2v2h-2zM257 413h1v2h-1zM1158 128h1v2h-1zM590 118h1v1h-1zM826 454h2v2h-2zM263 381h1v1h-1zM235 133h1v2h-1zM356 404h2v1h-2zM894 311h2v1h-2zM557 311h3v2h-3zM805 355h2v2h-2zM720 432h2v1h-2zM487 310h3v3h-3zM613 172h2v2h-2zM1078 103h2v3h-2zM1069 248h2v1h-2zM758 276h1v3h-1zM430 166h2v2h-2zM265 291h2v2h-2zM567 219h2v2h-2zM890 259h3v1h-3zM299 342h2v2h-2zM807 291h1v2h-1zM994 142h2v1h-2zM321 276h2v3h-2zM1058 234h2v3h-2zM259 176h1v2h-1zM612 374h2v1h-2zM582 141h1v1h-1zM904 422h3v1h-3zM547 324h2v1h-2zM416 302h1v2h-1zM375 429h2v2h-2zM1195 421h2v3h-2zM994 297h2v1h-2zM834 249h2v3h-2zM851 271h2v2h-2zM290 348h2v2h-2zM994 205h2v1h-2zM394 415h2v2h-2zM970 267h1v2h-1zM1066 238h2v3h-2zM767 269h2v1h-2zM915 300h3v1h-3zM386 156h1v2h-1zM287 234h2v1h-2zM962 167h3v3h-3zM948 402h1v2h-1zM535 103h3v1h-3zM927 266h3v2h-3zM590 227h3v2h-3zM663 139h2v2h-2zM1129 289h2v3h-2zM592 255h3v2h-3zM720 226h2v2h-2zM1020 448h1v2h-1zM510 366h2v2h-2zM695 205h2v3h-2zM239 390h2v2h-2zM775 465h1v3h-1zM504 294h2v3h-2zM506 282h1v1h-1zM946 88h1v2h-1zM876 269h2v3h-2zM417 210h2v1h-2zM560 376h2v2h-2zM264 281h1v3h-1zM542 177h3v1h-3zM491 438h2v1h-2zM457 366h2v1h-2zM1094 218h1v2h-1zM465 95h2v3h-2zM766 333h1v1h-1zM848 407h1v2h-1zM375 402h2v3h-2zM544 312h1v2h-1zM925 378h3v1h-3zM1039 160h1v1h-1zM666 309h3v3h-3zM558 299h1v1h-1zM423 200h2v2h-2zM931 174h1v2h-1zM999 210h1v1h-1zM1172 412h1v1h-1zM776 216h3v2h-3zM461 320h3v3h-3zM380 220h3v3h-3zM429 250h3v2h-3zM406 347h1v1h-1zM773 88h1v2h-1zM305 317h2v2h-2zM800 103h2v2h-2zM1119 214h1v2h-1zM658 209h2v1h-2zM803 312h2v3h-2zM1210 112h3v2h-3zM270 340h1v1h-1zM941 140h2v2h-2zM521 376h2v2h-2zM383 345h2v1h-2zM286 363h1v3h-1zM755 94h2v3h-2zM797 447h2v2h-2zM842 343h2v1h-2zM277 317h1v1h-1zM1192 382h2v3h-2zM1168 283h3v3h-3zM1001 389h1v3h-1zM397 437h2v2h-2zM439 433h1v2h-1zM730 467h2v3h-2zM1041 224h1v3h-1zM769 419h1v3h-1zM876 435h2v1h-2zM1040 187h1v1h-1zM302 238h1v2h-1zM481 228h3v2h-3zM719 404h2v2h-2zM876 337h2v2h-2zM903 245h1v3h-1zM695 162h2v2h-2zM578 295h1v2h-1zM565 274h2v2h-2zM380 192h3v2h-3zM1190 226h1v2h-1zM805 304h2v1h-2zM844 163h1v2h-1zM1084 215h2v1h-2zM678 283h1v2h-1zM910 166h2v2h-2zM419 212h3v3h-3zM919 432h3v2h-3zM900 369h2v1h-2zM935 152h3v1h-3zM555 464h3v1h-3zM392 219h1v3h-1zM1201 107h3v1h-3zM314 311h3v3h-3zM1071 429h3v2h-3zM749 239h2v2h-2zM252 314h1v2h-1zM900 190h1v1h-1zM772 305h2v2h-2zM453 124h2v2h-2zM354 275h2v2h-2zM1075 274h2v3h-2zM605 98h3v3h-3zM341 298h1v2h-1zM681 392h3v1h-3zM1114 451h3v3h-3zM339 360h2v2h-2zM887 440h3v3h-3zM264 146h1v3h-1zM455 149h2v2h-2zM700 396h2v3h-2zM567 345h3v3h-3zM1184 251h2v3h-2zM414 211h3v1h-3zM754 285h3v2h-3zM650 308h2v1h-2zM246 259h2v3h-2zM1034 152h2v1h-2zM516 360h2v2h-2zM733 437h2v2h-2zM1126 207h3v2h-3zM242 328h1v2h-1zM950 184h1v3h-1zM1099 127h2v2h-2zM258 345h2v2h-2zM973 197h2v1h-2zM262 341h2v3h-2zM728 249h1v2h-1zM455 166h2v2h-2zM412 140h1v1h-1zM780 251h3v2h-3zM723 207h1v3h-1zM337 310h2v2h-2zM901 235h1v3h-1zM1029 227h3v3h-3zM738 245h3v2h-3zM1147 408h3v2h-3zM274 272h1v3h-1zM941 230h3v2h-3zM296 328h3v1h-3zM675 113h1v3h-1zM588 392h1v1h-1zM890 349h1v3h-1zM463 134h2v2h-2zM399 134h3v3h-3zM325 105h3v3h-3zM909 117h1v3h-1zM732 234h1v2h-1zM848 107h1v3h-1zM302 214h2v2h-2zM418 203h3v2h-3zM420 282h3v2h-3zM705 308h2v3h-2zM700 307h3v3h-3zM555 209h1v1h-1zM1005 153h2v2h-2zM953 262h2v1h-2zM578 343h1v1h-1zM346 433h1v2h-1zM369 400h1v1h-1zM491 169h3v1h-3zM682 182h1v1h-1zM327 293h2v2h-2zM655 301h1v3h-1zM759 273h1v1h-1zM1147 247h2v2h-2zM851 311h2v1h-2zM283 323h2v2h-2zM598 120h1v2h-1zM1067 269h1v3h-1zM693 228h2v2h-2zM679 141h3v3h-3zM558 183h2v1h-2zM1005 270h2v3h-2zM302 306h2v2h-2zM802 402h3v3h-3zM734 309h3v2h-3zM619 234h2v2h-2zM1017 443h3v3h-3zM869 451h3v2h-3zM1018 420h2v3h-2zM768 416h3v2h-3zM910 451h2v2h-2zM262 427h2v2h-2zM444 411h3v2h-3zM253 325h3v3h-3zM1090 138h2v1h-2zM571 416h2v1h-2zM477 135h2v2h-2zM577 166h1v2h-1zM583 361h1v2h-1zM906 218h2v2h-2zM826 267h2v1h-2zM464 453h2v2h-2zM614 108h1v2h-1zM852 248h3v2h-3zM297 234h2v2h-2zM302 431h2v1h-2zM378 315h3v1h-3zM1073 259h1v2h-1zM1012 286h3v3h-3zM698 392h3v1h-3zM1150 215h1v1h-1zM487 247h2v1h-2zM939 193h3v2h-3zM660 179h1v2h-1zM423 147h2v2h-2zM554 297h2v3h-2zM730 169h2v3h-2zM763 233h2v3h-2zM899 188h2v2h-2zM744 372h2v1h-2zM526 98h3v1h-3zM1092 295h2v3h-2zM777 316h2v2h-2zM863 372h2v2h-2zM918 426h3v1h-3zM1022 417h1v2h-1zM704 126h2v2h-2zM391 427h2v2h-2zM773 468h3v2h-3zM1132 162h2v3h-2zM490 467h2v2h-2zM412 152h2v2h-2zM886 162h2v3h-2zM668 380h3v1h-3zM823 258h3v1h-3zM1000 259h3v3h-3zM545 204h1v1h-1zM486 393h2v1h-2zM784 197h2v2h-2zM458 164h2v1h-2zM278 328h3v2h-3zM246 350h1v3h-1zM894 301h1v3h-1zM742 366h2v2h-2zM484 205h2v1h-2zM545 294h2v3h-2zM471 158h2v2h-2zM241 106h2v3h-2zM946 248h2v2h-2zM736 249h2v2h-2zM302 161h3v2h-3zM733 451h2v2h-2zM1192 219h1v3h-1zM893 215h1v3h-1zM837 209h1v1h-1zM573 466h2v2h-2zM524 453h3v2h-3zM907 171h2v3h-2zM839 195h2v1h-2zM321 123h1v1h-1zM686 343h2v2h-2zM774 462h3v2h-3zM478 130h1v2h-1zM477 307h3v1h-3zM272 293h3v2h-3zM597 318h1v2h-1zM895 414h2v2h-2zM717 156h2v2h-2zM692 94h1v2h-1zM675 268h1v2h-1zM504 186h1v3h-1zM428 110h3v3h-3zM537 118h2v1h-2zM576 436h2v2h-2zM877 239h1v2h-1zM508 217h1v2h-1zM702 348h3v2h-3zM559 264h3v3h-3zM1068 150h2v3h-2zM537 137h2v1h-2zM324 376h2v1h-2zM431 463h2v3h-2zM740 420h2v2h-2zM600 132h2v3h-2zM898 243h3v1h-3zM435 423h2v3h-2zM1154 304h2v1h-2zM820 141h2v2h-2zM473 185h2v2h-2zM604 288h2v1h-2zM996 329h2v2h-2zM881 419h2v2h-2zM620 229h2v2h-2zM478 193h2v3h-2zM754 405h2v2h-2zM967 362h2v2h-2zM676 322h2v3h-2zM855 230h3v1h-3zM743 348h1v3h-1zM838 247h2v3h-2zM1060 205h2v3h-2zM1016 155h1v1h-1zM256 178h1v2h-1zM448 159h2v2h-2zM928 469h2v3h-2zM581 150h2v2h-2zM466 385h2v1h-2zM750 225h1v2h-1zM310 240h2v2h-2zM1135 114h1v2h-1zM294 417h3v1h-3zM532 457h2v2h-2zM948 456h1v2h-1zM1185 119h2v3h-2zM999 224h2v2h-2zM828 245h2v1h-2zM982 250h2v2h-2zM1206 221h2v3h-2zM405 82h2v3h-2zM809 465h3v2h-3zM910 470h1v3h-1zM703 133h2v2h-2zM948 468h3v1h-3zM257 215h3v2h-3zM1070 250h3v1h-3zM538 353h3v1h-3zM557 438h2v3h-2zM466 257h2v2h-2zM633 282h1v2h-1zM693 108h3v3h-3zM757 132h2v2h-2zM647 154h3v2h-3zM760 453h1v3h-1zM245 227h1v2h-1zM259 108h2v1h-2zM355 279h2v1h-2zM422 173h3v3h-3zM989 285h3v2h-3zM616 358h2v3h-2zM1005 124h2v3h-2zM1113 449h2v3h-2zM339 434h3v3h-3zM609 276h2v2h-2zM730 413h2v3h-2zM1186 194h2v1h-2zM1043 90h2v3h-2zM354 456h3v2h-3zM468 118h1v3h-1zM951 94h1v1h-1zM439 251h3v2h-3zM1011 97h1v3h-1zM854 253h1v2h-1zM279 415h1v1h-1zM509 347h2v2h-2zM424 353h2v3h-2zM535 224h1v2h-1zM304 388h3v2h-3zM1029 348h2v2h-2zM289 328h1v2h-1zM561 415h3v2h-3zM444 144h2v2h-2zM787 89h1v1h-1zM984 312h1v3h-1zM993 305h3v3h-3zM678 367h1v2h-1zM991 93h2v3h-2zM419 136h3v2h-3zM650 160h3v1h-3zM1077 136h2v3h-2zM1134 405h2v2h-2zM644 411h1v2h-1zM957 394h3v3h-3zM325 153h3v1h-3zM373 440h2v3h-2zM1137 255h2v2h-2zM937 468h1v3h-1zM1082 289h2v2h-2zM936 325h1v3h-1zM779 412h3v2h-3zM1156 144h2v1h-2zM1004 424h1v1h-1zM1079 220h3v2h-3zM820 188h2v2h-2zM505 279h2v2h-2zM864 305h2v2h-2zM916 186h3v1h-3zM400 194h2v3h-2zM461 145h1v2h-1zM880 400h3v2h-3zM1044 367h1v2h-1zM812 383h2v1h-2zM313 133h2v1h-2zM893 395h1v2h-1zM487 260h3v2h-3zM483 446h1v1h-1zM546 427h1v1h-1zM422 283h2v2h-2zM1165 228h3v2h-3zM1204 298h2v2h-2zM358 466h1v3h-1zM258 163h2v1h-2zM864 394h1v2h-1zM531 151h1v3h-1zM487 185h2v3h-2zM379 388h2v2h-2zM995 332h3v1h-3zM822 300h1v2h-1zM828 463h1v2h-1zM1078 190h1v2h-1zM568 453h2v1h-2zM1073 202h2v2h-2zM1182 454h3v2h-3zM1146 318h2v1h-2zM484 281h2v3h-2zM290 328h1v2h-1zM277 257h2v2h-2zM888 104h2v1h-2zM452 407h2v2h-2zM843 301h3v2h-3zM435 457h2v2h-2zM917 271h2v1h-2zM1088 369h3v2h-3zM442 171h2v1h-2zM1051 366h2v3h-2zM313 188h3v2h-3zM947 264h3v2h-3zM370 105h1v3h-1zM1094 375h2v3h-2zM1005 82h2v1h-2zM1145 262h2v1h-2zM839 88h1v1h-1zM370 246h3v2h-3zM1036 144h2v2h-2zM809 396h2v3h-2zM826 155h2v3h-2zM573 337h1v2h-1zM463 412h2v2h-2zM978 262h2v2h-2zM459 86h1v1h-1zM1166 108h3v2h-3zM557 461h2v2h-2zM1198 362h3v1h-3zM797 335h2v3h-2zM362 113h1v1h-1zM919 147h2v2h-2zM702 341h1v1h-1zM280 406h2v3h-2zM802 121h2v2h-2zM1008 227h3v1h-3zM462 376h2v3h-2zM1007 107h2v2h-2zM741 355h1v3h-1zM609 334h1v1h-1zM978 120h2v3h-2zM657 166h2v2h-2zM473 251h2v2h-2zM1197 97h2v1h-2zM612 458h3v3h-3zM430 432h1v3h-1zM260 388h2v3h-2zM899 187h1v3h-1zM726 215h3v1h-3zM998 303h1v1h-1zM978 435h1v2h-1zM692 420h3v2h-3zM555 395h1v2h-1zM880 468h3v1h-3zM492 124h3v3h-3zM741 332h2v2h-2zM828 384h3v2h-3zM536 395h2v1h-2zM1099 247h2v3h-2zM880 236h1v1h-1zM537 402h3v1h-3zM1194 431h3v2h-3zM784 420h3v3h-3zM254 446h1v2h-1zM1009 446h2v2h-2zM344 349h2v2h-2zM265 123h1v2h-1zM904 410h3v2h-3zM953 289h2v2h-2zM301 144h2v2h-2zM554 240h2v2h-2zM507 120h1v1h-1zM687 205h1v3h-1zM943 318h1v1h-1zM808 441h3v1h-3zM1086 130h2v3h-2zM850 84h2v2h-2zM536 128h1v3h-1zM1160 346h1v2h-1zM323 265h2v1h-2zM785 376h2v2h-2zM960 110h2v2h-2zM1192 362h3v2h-3zM923 456h2v2h-2zM502 180h2v2h-2zM1045 154h2v1h-2zM783 280h1v2h-1zM800 221h2v1h-2zM328 350h2v2h-2zM682 345h2v3h-2zM292 453h2v1h-2zM592 414h1v2h-1zM938 286h1v2h-1zM1144 243h2v1h-2zM376 352h3v3h-3zM867 239h2v1h-2zM361 461h1v1h-1zM861 390h1v2h-1zM446 360h1v3h-1zM827 122h2v2h-2zM787 100h2v2h-2zM323 371h2v2h-2zM910 367h2v2h-2zM642 339h2v1h-2zM813 372h2v2h-2zM826 114h3v2h-3zM542 275h2v3h-2zM511 110h2v1h-2zM448 89h3v1h-3zM232 91h3v2h-3zM888 435h2v1h-2zM958 417h3v2h-3zM985 169h3v2h-3zM873 400h1v3h-1zM835 178h2v1h-2zM231 463h2v2h-2zM247 287h1v2h-1zM233 387h2v2h-2zM636 408h2v2h-2zM806 159h3v2h-3zM1087 338h2v2h-2zM573 282h1v2h-1zM924 145h1v2h-1zM471 175h1v1h-1zM1173 388h3v2h-3zM510 448h2v1h-2zM763 293h3v2h-3zM802 295h3v2h-3zM814 404h2v2h-2zM564 217h2v2h-2zM1120 401h2v2h-2zM739 197h2v1h-2zM304 346h2v2h-2zM313 342h2v3h-2zM821 424h3v2h-3zM423 320h1v3h-1zM253 379h2v1h-2zM676 460h2v2h-2zM602 218h2v2h-2zM781 233h2v3h-2zM702 127h2v2h-2zM446 243h1v2h-1zM1174 98h1v2h-1zM847 87h2v3h-2zM811 104h1v1h-1zM291 258h2v2h-2zM561 145h2v1h-2zM374 114h3v2h-3zM1100 466h1v2h-1zM483 347h3v3h-3zM269 291h2v3h-2zM491 357h2v2h-2zM360 129h1v2h-1zM810 465h3v3h-3zM709 172h3v1h-3zM1084 156h2v3h-2zM774 175h3v3h-3zM837 429h2v2h-2zM310 203h1v2h-1zM520 215h3v1h-3zM546 381h3v2h-3zM525 418h2v1h-2zM776 453h1v2h-1zM342 133h2v2h-2zM236 299h1v3h-1zM255 226h3v2h-3zM690 199h3v1h-3zM350 208h2v2h-2zM1061 320h3v2h-3zM424 144h1v3h-1zM531 167h2v3h-2zM918 250h2v3h-2zM450 323h3v3h-3zM480 233h1v2h-1zM314 424h1v3h-1zM923 433h3v2h-3zM555 374h3v2h-3zM561 299h3v2h-3zM821 216h2v1h-2zM822 421h1v1h-1zM762 213h2v2h-2zM493 220h3v3h-3zM1135 449h1v2h-1zM532 150h1v2h-1zM826 157h1v3h-1zM553 470h3v2h-3zM1068 129h2v2h-2zM566 306h2v3h-2zM271 84h3v3h-3zM538 280h3v2h-3zM1209 240h1v2h-1zM552 101h2v2h-2zM1053 162h2v2h-2zM328 423h3v2h-3zM846 135h3v3h-3zM871 466h2v2h-2zM496 390h2v2h-2zM1033 249h3v2h-3zM488 291h2v1h-2zM545 213h2v3h-2zM723 422h2v1h-2zM820 294h1v1h-1zM915 414h3v3h-3zM651 413h1v2h-1zM670 385h2v2h-2zM647 93h3v2h-3zM888 247h2v1h-2zM417 193h3v2h-3zM410 268h1v2h-1zM771 221h1v2h-1zM654 172h2v1h-2zM892 305h1v1h-1zM813 88h2v2h-2zM509 192h2v1h-2zM839 362h1v2h-1zM1105 289h1v1h-1zM502 327h2v1h-2zM761 176h1v2h-1zM696 206h1v1h-1zM781 223h2v2h-2zM1192 270h2v1h-2zM710 390h1v2h-1zM252 154h1v2h-1zM412 125h2v3h-2zM746 325h2v3h-2zM616 397h1v2h-1zM612 211h2v1h-2zM625 278h2v1h-2zM1127 107h2v3h-2zM1094 206h2v3h-2zM238 392h1v2h-1zM237 166h2v1h-2zM266 425h2v3h-2zM385 260h3v2h-3zM647 260h3v1h-3zM805 110h2v2h-2zM599 110h2v2h-2zM805 116h3v2h-3zM1006 105h1v1h-1zM1209 162h3v3h-3zM686 410h2v2h-2zM965 104h1v2h-1zM765 292h3v2h-3zM790 380h2v1h-2zM1153 272h2v2h-2zM295 459h3v3h-3zM496 249h2v1h-2zM270 427h3v2h-3zM602 154h1v2h-1zM381 222h1v3h-1zM374 125h1v1h-1zM887 454h1v1h-1zM627 261h1v1h-1zM1140 333h1v1h-1zM566 444h2v2h-2zM679 198h2v2h-2zM1140 211h3v1h-3zM1022 389h3v3h-3zM241 313h1v1h-1zM385 452h3v2h-3zM947 256h1v2h-1zM351 373h1v2h-1zM1205 141h1v2h-1zM748 391h3v2h-3zM1136 207h2v2h-2zM1126 323h3v2h-3zM959 394h2v3h-2zM372 312h3v2h-3zM622 438h2v1h-2zM585 216h2v1h-2zM542 292h2v3h-2zM913 460h2v3h-2zM318 284h2v2h-2zM669 359h1v2h-1zM847 196h2v2h-2zM744 167h2v2h-2zM376 228h1v2h-1zM426 199h1v1h-1zM1194 268h2v2h-2zM640 263h1v2h-1zM510 156h2v2h-2zM582 143h1v2h-1zM940 183h2v1h-2zM448 149h2v2h-2zM951 374h2v3h-2zM372 131h3v1h-3zM297 127h2v2h-2zM878 204h1v2h-1zM1112 106h3v2h-3zM963 445h1v3h-1zM917 355h2v3h-2zM273 191h1v2h-1zM805 158h2v2h-2zM541 113h3v2h-3zM893 87h2v2h-2zM450 106h3v2h-3zM872 132h2v2h-2zM312 203h2v2h-2zM622 358h2v2h-2zM283 361h3v1h-3zM650 354h2v2h-2zM394 300h1v2h-1zM685 334h2v1h-2zM267 218h2v2h-2zM597 326h1v1h-1zM1038 434h2v2h-2zM1173 249h1v2h-1zM817 356h2v3h-2zM884 136h1v1h-1zM890 190h2v2h-2zM915 225h2v1h-2zM1125 285h3v3h-3zM484 168h2v2h-2zM719 246h2v2h-2zM654 446h2v1h-2zM920 230h2v3h-2zM1128 169h1v1h-1zM600 194h2v1h-2zM1071 390h2v2h-2zM922 116h2v2h-2zM492 471h2v2h-2zM896 453h1v1h-1zM654 353h1v2h-1zM492 410h1v2h-1zM377 427h2v2h-2zM1175 324h1v2h-1zM746 453h1v3h-1zM841 212h2v3h-2zM724 99h1v2h-1zM405 136h1v3h-1zM351 471h2v2h-2zM456 416h2v2h-2zM464 229h3v1h-3zM617 185h1v3h-1zM265 453h1v3h-1zM1169 322h2v1h-2zM360 319h1v2h-1zM1153 97h1v1h-1zM1181 348h2v2h-2zM753 95h2v2h-2zM253 259h1v2h-1zM862 371h3v1h-3zM1113 315h3v2h-3zM962 252h2v1h-2zM804 134h2v3h-2zM655 293h1v1h-1zM709 192h1v2h-1zM881 460h1v3h-1zM956 102h2v1h-2zM400 394h3v3h-3zM493 402h2v1h-2zM632 375h2v2h-2zM1113 183h2v2h-2zM1001 471h1v1h-1zM323 455h3v3h-3zM362 416h1v2h-1zM738 302h3v2h-3zM903 201h2v2h-2zM1110 236h3v1h-3zM420 459h2v1h-2zM257 270h1v2h-1zM884 413h2v3h-2zM264 347h2v2h-2zM516 294h2v1h-2zM326 182h3v3h-3zM943 141h3v1h-3zM729 411h2v1h-2zM282 187h3v2h-3zM631 381h2v3h-2zM1141 131h2v2h-2zM738 108h1v1h-1zM1044 252h2v3h-2zM1090 90h2v2h-2zM695 110h3v2h-3zM675 115h3v3h-3zM777 281h3v1h-3zM952 91h3v1h-3zM942 270h2v2h-2zM395 406h3v3h-3zM250 443h3v2h-3zM578 195h2v2h-2zM824 230h1v2h-1zM809 166h3v3h-3zM387 277h1v1h-1zM800 364h2v2h-2zM1118 168h2v3h-2zM740 266h2v1h-2zM538 277h1v3h-1zM724 440h2v2h-2zM351 440h2v1h-2zM966 320h3v3h-3zM525 159h1v2h-1zM261 194h3v3h-3zM1109 177h2v2h-2zM462 180h1v1h-1zM333 87h2v1h-2zM1193 115h2v2h-2zM880 110h2v1h-2zM1156 272h2v2h-2zM1093 329h1v1h-1zM903 458h1v3h-1zM678 278h2v2h-2zM310 103h3v3h-3zM253 280h3v3h-3zM1147 429h2v3h-2zM632 129h3v2h-3zM948 317h2v1h-2zM1143 408h1v2h-1zM1035 189h3v2h-3zM797 324h2v2h-2zM420 300h2v3h-2zM239 454h1v2h-1zM884 360h1v2h-1zM378 209h2v3h-2zM680 451h2v1h-2zM858 348h3v2h-3zM498 463h2v2h-2zM508 365h2v3h-2zM857 161h1v3h-1zM400 371h2v2h-2zM456 407h2v1h-2zM787 105h2v2h-2zM1166 380h3v1h-3zM377 95h3v2h-3zM970 92h1v3h-1zM496 440h2v1h-2zM245 189h1v2h-1zM377 384h3v2h-3zM420 383h2v1h-2zM843 178h2v2h-2zM279 233h3v2h-3zM635 100h2v1h-2zM319 274h2v2h-2zM1101 257h1v3h-1zM417 419h2v3h-2zM1015 98h2v2h-2zM879 88h3v1h-3zM1100 134h2v1h-2zM1135 254h2v3h-2zM631 186h2v2h-2zM557 92h1v2h-1zM318 168h3v1h-3zM488 230h2v3h-2zM349 366h1v2h-1zM464 126h3v2h-3zM969 326h2v1h-2zM565 90h3v1h-3zM283 173h3v2h-3zM993 283h2v2h-2zM673 96h3v1h-3zM620 245h2v2h-2zM870 126h2v1h-2zM318 417h2v2h-2zM922 421h3v2h-3zM460 162h1v3h-1zM260 213h2v3h-2zM348 261h3v1h-3zM1191 424h3v2h-3zM994 301h2v3h-2zM865 224h3v2h-3zM1035 370h1v1h-1zM328 374h2v2h-2zM405 255h2v2h-2zM232 156h1v2h-1zM863 176h2v2h-2zM535 114h2v3h-2zM769 400h2v3h-2zM810 226h1v2h-1zM253 327h1v3h-1zM559 415h2v2h-2zM1192 338h3v3h-3zM319 352h3v2h-3zM534 221h3v2h-3zM1106 189h3v2h-3zM360 204h2v3h-2zM285 382h2v2h-2zM587 401h2v3h-2zM665 469h3v3h-3zM944 202h1v2h-1zM1005 256h2v1h-2zM752 172h2v3h-2zM734 202h1v3h-1zM1205 84h2v2h-2zM874 86h1v2h-1zM314 279h2v3h-2zM1038 193h1v2h-1zM497 150h2v3h-2zM769 163h2v1h-2zM576 120h2v2h-2zM714 428h2v2h-2zM989 365h3v1h-3zM885 416h2v2h-2zM773 160h1v3h-1zM853 202h1v2h-1zM872 239h1v2h-1zM371 450h2v1h-2zM802 145h2v2h-2zM647 95h2v1h-2zM481 439h3v2h-3zM915 467h1v1h-1zM788 289h3v3h-3zM613 246h2v2h-2zM420 262h2v1h-2zM866 254h3v3h-3zM537 251h1v2h-1zM662 131h2v2h-2zM744 354h1v3h-1zM1117 424h2v3h-2zM790 248h2v2h-2zM879 444h1v2h-1zM755 164h1v2h-1zM639 332h2v1h-2zM790 462h2v2h-2zM235 117h2v1h-2zM1181 353h3v3h-3zM460 328h3v3h-3zM564 90h1v3h-1zM1063 233h3v3h-3zM1032 95h2v3h-2zM542 415h2v2h-2zM373 355h1v1h-1zM417 301h2v1h-2zM705 148h1v1h-1zM997 115h2v1h-2zM1023 362h2v1h-2zM257 335h1v2h-1zM1107 93h1v2h-1zM303 393h1v2h-1zM653 330h2v3h-2zM970 409h2v2h-2zM1014 376h2v2h-2zM425 167h2v3h-2zM875 432h3v3h-3zM553 313h1v2h-1zM1159 203h3v2h-3zM356 202h2v1h-2zM1128 162h2v1h-2zM690 432h2v2h-2zM697 95h2v2h-2zM750 228h2v3h-2zM701 199h2v2h-2zM234 237h2v2h-2zM293 124h3v3h-3zM944 190h2v1h-2zM1205 198h2v3h-2zM1170 184h1v1h-1zM840 425h3v2h-3zM1196 174h3v3h-3zM1161 309h2v2h-2zM788 117h3v1h-3zM739 302h3v2h-3zM539 403h2v2h-2zM455 145h2v2h-2zM664 328h2v2h-2zM851 387h1v2h-1zM747 374h2v3h-2zM1081 468h2v1h-2zM324 388h1v2h-1zM665 248h2v1h-2zM907 340h2v1h-2zM403 429h2v2h-2zM910 276h2v3h-2zM984 133h2v2h-2zM876 318h2v3h-2zM856 184h2v2h-2zM463 185h3v2h-3zM905 217h1v1h-1zM246 385h1v2h-1zM554 352h2v3h-2zM577 123h1v2h-1zM1053 195h1v2h-1zM897 290h2v3h-2zM459 286h3v2h-3zM243 399h2v2h-2zM454 263h2v2h-2zM830 338h3v3h-3zM797 150h1v2h-1zM387 271h2v2h-2zM1207 397h1v2h-1zM629 424h2v1h-2zM1138 155h3v2h-3zM621 133h3v2h-3zM449 179h2v2h-2zM962 124h2v2h-2zM460 318h3v2h-3zM384 441h2v2h-2zM467 289h2v2h-2zM872 149h3v2h-3zM1159 203h2v2h-2zM834 236h2v1h-2zM769 112h3v2h-3zM1021 324h2v2h-2zM593 456h2v2h-2zM256 304h2v2h-2zM327 369h3v3h-3zM1158 283h1v3h-1zM762 251h2v2h-2zM619 113h2v3h-2zM723 107h3v3h-3zM331 209h2v2h-2zM365 441h2v3h-2zM305 299h2v2h-2zM696 418h2v1h-2zM775 247h2v2h-2zM260 407h2v2h-2zM352 244h3v1h-3zM900 436h2v2h-2zM306 184h3v1h-3zM893 120h2v1h-2zM656 260h1v2h-1zM639 225h3v2h-3zM1037 411h2v2h-2zM311 273h2v3h-2zM585 106h3v3h-3zM663 227h1v2h-1zM532 459h1v1h-1zM720 376h2v2h-2zM962 282h2v1h-2zM1132 157h2v2h-2zM1194 270h2v3h-2zM739 262h3v1h-3zM327 364h3v1h-3zM937 268h3v2h-3zM900 146h2v2h-2zM966 351h2v2h-2zM622 179h2v2h-2zM1080 130h3v2h-3zM325 258h3v1h-3zM1004 320h2v3h-2zM1200 184h1v2h-1zM240 176h2v3h-2zM566 231h3v2h-3zM699 149h3v2h-3zM799 450h3v2h-3zM930 354h1v2h-1zM1008 271h1v2h-1zM494 285h2v1h-2zM1059 145h2v1h-2zM580 415h2v3h-2zM450 112h3v3h-3zM1001 463h1v3h-1zM780 110h3v1h-3zM630 274h3v1h-3zM852 226h2v3h-2zM868 220h1v2h-1zM421 372h1v2h-1zM1140 272h3v2h-3zM664 187h3v1h-3zM299 351h3v1h-3zM878 322h1v3h-1zM603 82h2v1h-2zM501 132h2v1h-2zM1108 172h1v2h-1zM826 392h3v3h-3zM1060 184h3v2h-3zM784 381h3v2h-3zM730 447h3v1h-3zM432 178h1v2h-1zM333 272h3v3h-3zM843 302h2v1h-2zM722 133h2v3h-2zM351 242h2v2h-2zM275 251h3v1h-3zM422 259h2v1h-2zM494 235h2v2h-2zM362 273h3v2h-3zM852 437h2v3h-2zM1188 293h2v2h-2zM231 184h2v2h-2zM369 319h1v3h-1zM310 380h3v2h-3zM1184 160h2v2h-2zM337 185h1v1h-1zM967 174h2v2h-2zM878 467h2v2h-2zM1189 404h2v2h-2zM261 268h3v1h-3zM986 386h2v1h-2zM783 427h2v2h-2zM647 365h2v2h-2zM530 401h2v1h-2zM671 144h1v3h-1zM493 410h3v2h-3zM1145 112h2v1h-2zM490 461h2v3h-2zM1204 207h2v2h-2zM1036 108h2v2h-2zM728 441h1v2h-1zM452 309h2v1h-2zM658 206h2v2h-2zM713 407h2v1h-2zM600 438h3v2h-3zM849 139h2v2h-2zM985 296h2v2h-2zM1022 189h2v2h-2zM820 381h3v2h-3zM1039 314h2v3h-2zM726 243h2v2h-2zM313 325h1v2h-1zM718 132h2v3h-2zM506 383h2v2h-2zM907 119h3v1h-3zM872 174h1v1h-1zM629 232h2v1h-2zM537 100h1v3h-1zM676 134h1v3h-1zM835 86h2v3h-2zM991 143h2v3h-2zM1139 92h2v1h-2zM787 267h2v1h-2zM916 267h1v2h-1zM461 317h2v3h-2zM1127 216h3v1h-3zM624 131h3v3h-3zM1205 271h1v2h-1zM773 195h2v2h-2zM762 170h2v2h-2zM363 231h1v3h-1zM814 397h1v2h-1zM393 462h3v3h-3zM340 302h3v3h-3zM1100 165h1v2h-1zM296 379h2v3h-2zM774 374h1v3h-1zM1067 356h1v3h-1zM581 374h1v2h-1zM802 198h2v1h-2zM370 330h2v2h-2zM391 413h2v2h-2zM950 83h1v2h-1zM764 373h3v2h-3zM881 298h2v2h-2zM662 109h2v2h-2zM470 161h2v2h-2zM862 319h3v2h-3zM274 95h1v3h-1zM1017 403h1v1h-1zM408 150h2v3h-2zM967 344h2v1h-2zM1157 312h3v1h-3zM402 464h3v2h-3zM391 393h2v2h-2zM413 349h2v2h-2zM1062 148h1v1h-1zM477 333h1v1h-1zM659 211h3v2h-3zM708 111h3v3h-3zM233 226h1v2h-1zM852 422h2v1h-2zM817 325h2v1h-2zM1099 113h2v1h-2zM849 274h3v3h-3zM514 140h3v2h-3zM752 196h2v2h-2zM1105 223h1v1h-1zM848 149h2v2h-2zM613 250h2v2h-2zM415 153h1v1h-1zM634 108h2v1h-2zM366 311h1v2h-1zM1068 354h1v2h-1zM1055 458h2v2h-2zM349 330h2v3h-2zM382 329h3v3h-3zM860 186h1v1h-1zM815 446h1v2h-1zM1107 440h2v2h-2zM764 146h2v3h-2zM505 294h2v2h-2zM412 89h3v3h-3zM367 290h2v2h-2zM470 241h2v2h-2zM640 98h3v2h-3zM576 418h1v1h-1zM818 390h3v3h-3zM793 123h1v1h-1zM1199 204h2v2h-2zM1176 232h1v2h-1zM583 277h3v2h-3zM991 446h2v1h-2zM1058 309h2v2h-2zM299 315h2v2h-2zM818 155h1v2h-1zM290 374h2v1h-2zM957 222h2v2h-2zM327 150h3v3h-3zM1099 382h2v2h-2zM762 310h1v2h-1zM796 84h3v3h-3zM364 88h2v3h-2zM425 211h1v2h-1zM477 194h2v2h-2zM852 238h2v2h-2zM411 136h2v2h-2zM1103 447h3v1h-3zM925 121h1v2h-1zM512 382h2v2h-2zM257 372h2v1h-2zM243 382h3v2h-3zM944 216h2v3h-2zM286 168h2v2h-2zM1024 254h2v2h-2zM608 438h2v2h-2zM891 142h2v3h-2zM426 419h3v2h-3zM1162 464h2v2h-2zM390 125h2v2h-2zM1188 392h2v2h-2zM717 388h3v1h-3zM529 305h1v2h-1zM944 189h1v3h-1zM711 284h3v2h-3zM375 427h2v2h-2zM500 197h2v3h-2zM603 443h3v1h-3zM1126 224h1v2h-1zM268 453h3v2h-3zM1002 120h2v2h-2zM428 349h2v2h-2zM733 411h3v2h-3zM554 348h1v3h-1zM642 247h2v2h-2zM343 115h2v1h-2zM977 384h1v3h-1zM610 321h2v3h-2zM543 440h2v2h-2zM840 135h2v2h-2zM1093 405h2v3h-2zM557 173h3v2h-3zM276 265h2v2h-2zM728 131h1v2h-1zM961 100h3v3h-3zM236 159h1v2h-1zM317 128h1v1h-1zM975 333h1v3h-1zM1075 424h1v1h-1zM1074 403h2v1h-2zM403 281h2v2h-2zM838 404h2v3h-2zM1054 229h3v2h-3zM254 243h2v2h-2zM881 447h3v1h-3zM1092 198h1v2h-1zM674 342h2v3h-2zM443 131h2v2h-2zM604 114h1v2h-1zM367 344h3v2h-3zM860 447h2v3h-2zM959 178h3v2h-3zM334 178h2v3h-2zM384 315h2v2h-2zM438 100h1v2h-1zM351 114h1v1h-1zM277 340h3v1h-3zM1209 398h3v2h-3zM920 104h3v2h-3zM708 252h2v3h-2zM396 274h2v3h-2zM401 215h2v3h-2zM594 201h2v1h-2zM1161 174h1v2h-1zM941 132h2v2h-2zM780 186h2v2h-2zM279 424h2v2h-2zM250 425h1v3h-1zM567 289h3v2h-3zM1142 307h2v2h-2zM769 445h3v3h-3zM1000 380h2v2h-2zM1086 254h1v2h-1zM1011 422h2v2h-2zM722 470h1v3h-1zM470 469h2v1h-2zM498 444h1v3h-1zM484 261h2v2h-2zM291 446h2v1h-2zM775 157h2v2h-2zM397 468h3v2h-3zM483 431h2v2h-2zM452 90h1v3h-1zM965 235h3v2h-3zM549 258h2v1h-2zM392 105h3v1h-3zM394 418h1v2h-1zM933 379h2v3h-2zM1122 145h3v2h-3zM951 296h2v3h-2zM788 160h2v1h-2zM349 285h3v2h-3zM1078 162h1v2h-1zM288 154h2v2h-2zM260 459h2v2h-2zM254 127h2v3h-2zM862 109h1v2h-1zM462 383h3v2h-3zM243 320h2v2h-2zM668 234h2v2h-2zM907 418h3v3h-3zM291 394h2v3h-2zM1194 442h2v1h-2zM983 186h3v2h-3zM1123 266h3v2h-3zM258 88h2v2h-2zM686 351h3v3h-3zM1091 194h3v2h-3zM839 85h1v3h-1zM658 466h3v3h-3zM352 258h2v2h-2zM609 185h3v3h-3zM775 421h1v2h-1zM764 343h2v1h-2zM1116 100h1v2h-1zM903 397h2v2h-2zM583 425h2v2h-2zM488 146h3v2h-3zM767 323h1v3h-1zM967 200h1v2h-1zM491 458h2v2h-2zM376 244h1v3h-1zM975 376h3v1h-3zM1074 279h2v1h-2zM342 281h2v2h-2zM1044 464h2v2h-2zM560 132h3v3h-3zM1073 283h3v2h-3zM974 278h3v2h-3zM263 146h2v3h-2zM284 399h3v3h-3zM895 200h2v3h-2zM1161 341h2v2h-2zM454 411h1v1h-1zM420 320h1v3h-1zM947 193h2v2h-2zM427 162h2v3h-2zM837 349h2v2h-2zM741 324h1v3h-1zM268 304h1v2h-1zM1075 97h2v3h-2zM1129 121h3v2h-3zM1160 163h2v3h-2zM683 179h2v3h-2zM383 251h2v2h-2zM690 97h2v2h-2zM684 163h2v1h-2zM663 192h1v2h-1zM789 414h2v2h-2zM1173 338h2v3h-2zM745 303h3v2h-3zM321 271h2v2h-2zM1138 254h2v2h-2zM468 466h1v1h-1zM480 221h2v2h-2zM652 315h3v2h-3zM632 239h2v3h-2zM603 285h2v2h-2zM598 369h2v3h-2zM520 299h3v2h-3zM839 178h3v1h-3zM1124 369h2v2h-2zM928 415h3v3h-3zM354 124h1v2h-1zM898 349h1v3h-1zM1050 354h3v2h-3zM1033 150h1v2h-1zM956 414h3v2h-3zM505 224h3v2h-3zM940 85h1v2h-1zM540 386h2v1h-2zM791 228h3v2h-3zM307 296h2v2h-2zM295 143h2v3h-2zM1081 428h1v1h-1zM1006 389h3v3h-3zM916 242h3v2h-3zM492 244h1v1h-1zM410 281h2v1h-2zM650 160h2v3h-2zM364 243h1v2h-1zM547 412h2v1h-2zM326 236h1v2h-1zM744 294h1v3h-1zM1188 137h2v1h-2zM835 424h2v2h-2zM1120 442h2v3h-2zM988 261h2v3h-2zM858 305h2v1h-2zM295 411h2v2h-2zM396 407h2v2h-2zM505 371h2v2h-2zM566 294h1v2h-1zM603 301h3v1h-3zM664 325h2v3h-2zM852 174h2v2h-2zM665 354h2v3h-2zM721 403h3v2h-3zM947 228h3v3h-3zM676 470h2v1h-2zM1010 272h3v2h-3zM236 414h3v2h-3zM983 351h3v2h-3zM876 428h2v1h-2zM906 136h1v2h-1zM963 139h3v1h-3zM962 139h2v2h-2zM489 365h2v1h-2zM1158 225h3v2h-3zM427 123h1v2h-1zM393 458h3v2h-3zM1089 104h3v3h-3zM847 99h2v1h-2zM496 467h2v2h-2zM280 314h2v2h-2zM1022 262h3v3h-3zM450 288h2v1h-2zM381 457h3v2h-3zM456 281h1v2h-1zM493 461h2v1h-2zM758 125h3v2h-3zM727 97h2v3h-2zM1171 126h2v3h-2zM255 450h2v2h-2zM652 470h2v2h-2zM965 122h2v3h-2zM765 187h2v3h-2zM915 372h2v2h-2zM989 466h2v1h-2zM1042 208h2v3h-2zM1150 183h1v2h-1zM345 427h2v3h-2zM1067 84h3v3h-3zM232 419h3v1h-3zM819 164h2v1h-2zM576 202h1v2h-1zM1006 301h3v2h-3zM703 297h2v1h-2zM327 468h3v3h-3zM897 390h1v2h-1zM293 185h2v1h-2zM613 96h2v2h-2zM1036 96h3v1h-3zM435 381h3v1h-3zM1143 135h1v3h-1zM658 96h2v3h-2zM826 394h1v1h-1zM992 295h1v2h-1zM1063 114h2v2h-2zM1048 255h3v2h-3zM1181 308h2v1h-2zM370 117h2v2h-2zM653 459h3v2h-3zM855 212h2v2h-2zM518 465h2v2h-2zM902 267h2v3h-2zM1201 449h2v1h-2zM446 280h1v2h-1zM945 101h1v3h-1zM947 199h2v1h-2zM235 370h2v3h-2zM278 83h3v2h-3zM687 307h1v3h-1zM354 150h2v2h-2zM703 198h2v1h-2zM650 446h1v2h-1zM678 467h1v1h-1zM303 447h1v3h-1zM888 408h1v2h-1zM1076 190h1v2h-1zM1059 299h2v2h-2zM1092 410h3v3h-3zM469 254h3v2h-3zM298 367h1v2h-1zM682 376h2v2h-2zM732 331h2v3h-2zM530 383h2v2h-2zM730 227h2v3h-2zM377 438h3v2h-3zM1188 457h1v2h-1zM605 374h1v1h-1zM975 437h1v1h-1zM562 406h2v3h-2zM491 463h1v2h-1zM486 95h1v2h-1zM1081 164h2v3h-2zM456 207h3v1h-3zM757 329h3v1h-3zM621 157h1v3h-1zM1197 443h1v3h-1zM445 308h2v2h-2zM679 433h2v2h-2zM774 453h1v2h-1zM569 178h1v3h-1zM523 230h1v2h-1zM744 454h2v3h-2zM680 115h2v2h-2zM305 291h3v2h-3zM1180 416h2v2h-2zM363 468h2v2h-2zM456 344h3v2h-3zM1127 174h2v2h-2zM856 329h2v1h-2zM1099 404h2v3h-2zM611 306h2v1h-2zM1059 291h2v2h-2zM424 439h2v1h-2zM317 374h2v2h-2zM547 278h2v2h-2zM755 370h3v2h-3zM660 97h1v3h-1zM531 380h2v2h-2zM895 281h2v2h-2zM489 271h3v3h-3zM580 107h3v3h-3zM456 278h2v2h-2zM841 430h2v2h-2zM780 117h1v1h-1zM899 111h2v2h-2zM605 195h2v3h-2zM315 289h3v2h-3zM1078 92h2v2h-2zM899 307h2v2h-2zM468 137h3v1h-3zM974 150h1v2h-1zM687 255h1v2h-1zM1192 417h2v1h-2zM390 418h2v2h-2zM912 416h1v1h-1zM960 247h3v3h-3zM758 180h1v2h-1zM1194 363h1v2h-1zM1127 187h2v1h-2zM1044 100h2v2h-2zM385 127h3v1h-3zM1098 88h1v2h-1zM663 377h2v1h-2zM1070 160h1v3h-1zM1119 120h1v2h-1zM812 290h1v2h-1zM1182 459h1v2h-1zM352 441h3v3h-3zM1005 351h1v2h-1zM895 217h3v2h-3zM470 430h3v3h-3zM1038 155h3v2h-3zM477 461h2v2h-2zM515 146h3v1h-3zM1071 318h2v2h-2zM960 213h2v2h-2zM381 288h3v2h-3zM597 223h1v1h-1zM458 297h3v1h-3zM301 228h2v1h-2zM718 271h1v3h-1zM1063 434h1v3h-1zM1101 205h1v3h-1zM641 98h1v3h-1zM491 434h2v2h-2zM939 162h1v1h-1zM1045 240h3v2h-3zM254 342h2v3h-2zM801 200h1v2h-1zM325 347h2v3h-2zM469 192h2v3h-2zM856 364h2v1h-2zM319 412h3v2h-3zM881 429h1v2h-1zM664 275h3v2h-3zM611 198h2v2h-2zM979 113h1v3h-1zM951 322h1v2h-1zM654 428h3v2h-3zM582 225h1v2h-1zM445 357h2v1h-2zM700 152h1v2h-1zM733 407h1v3h-1zM592 377h1v2h-1zM874 453h3v1h-3zM421 359h2v1h-2zM989 307h2v3h-2zM757 448h2v3h-2zM1016 384h3v1h-3zM807 358h2v2h-2zM568 385h3v2h-3zM1056 353h2v2h-2zM1147 98h2v3h-2zM272 403h2v2h-2zM233 143h3v1h-3zM1191 132h3v3h-3zM381 361h1v2h-1zM447 379h3v1h-3zM857 362h2v1h-2zM987 91h2v3h-2zM382 143h3v2h-3zM390 425h2v1h-2zM1139 116h3v1h-3zM1097 258h3v2h-3zM425 134h1v3h-1zM792 395h3v1h-3zM974 249h1v2h-1zM648 438h3v2h-3zM931 298h2v1h-2zM671 282h2v3h-2zM250 171h2v2h-2zM380 197h1v2h-1zM654 331h1v2h-1zM1149 109h2v1h-2zM1153 123h3v1h-3zM827 407h1v2h-1zM317 213h3v3h-3zM233 356h2v3h-2zM350 351h1v1h-1zM1014 369h2v2h-2zM1033 311h1v2h-1zM986 165h2v2h-2zM1011 95h2v3h-2zM318 242h3v1h-3zM852 353h3v1h-3zM963 177h1v3h-1zM1007 130h2v1h-2zM385 444h3v1h-3zM448 342h3v2h-3zM832 260h2v1h-2zM770 239h2v1h-2zM967 240h2v3h-2zM385 360h3v2h-3zM691 278h1v2h-1zM409 143h2v2h-2zM1201 188h2v2h-2zM413 427h3v3h-3zM543 201h1v3h-1zM296 96h2v1h-2zM642 442h2v1h-2zM249 294h2v1h-2zM338 361h1v2h-1zM1005 436h1v2h-1zM1009 191h2v2h-2zM845 172h1v3h-1zM734 315h2v2h-2zM526 288h1v2h-1zM702 284h3v3h-3zM822 111h3v2h-3zM1108 173h3v2h-3zM682 128h2v2h-2zM638 248h3v2h-3zM249 427h3v2h-3zM895 257h3v1h-3zM780 226h3v1h-3zM1118 401h2v1h-2zM1194 118h2v2h-2zM936 468h2v2h-2zM505 468h1v1h-1zM1160 159h2v2h-2zM915 195h3v2h-3zM463 183h2v2h-2zM800 138h2v1h-2zM387 202h3v3h-3zM247 363h2v3h-2zM375 83h3v3h-3zM286 231h3v2h-3zM680 264h3v2h-3zM867 353h2v3h-2zM286 309h1v2h-1zM237 88h2v2h-2zM675 168h2v3h-2zM1119 98h1v1h-1zM552 240h2v2h-2zM790 373h2v2h-2zM1082 457h2v3h-2zM991 426h1v1h-1zM1137 157h1v2h-1zM736 163h3v1h-3zM493 299h2v3h-2zM1200 152h2v3h-2zM1021 114h2v3h-2zM399 432h3v2h-3zM524 161h1v2h-1zM557 184h3v1h-3zM806 261h1v1h-1zM649 385h2v1h-2zM367 386h2v2h-2zM831 205h2v2h-2zM948 387h1v2h-1zM247 225h2v1h-2zM411 338h1v2h-1zM529 231h1v2h-1zM918 433h2v2h-2zM439 402h2v2h-2zM1068 136h2v1h-2zM423 310h2v3h-2zM397 296h3v2h-3zM325 276h3v2h-3zM830 309h1v3h-1zM1081 92h3v2h-3zM895 274h3v2h-3zM296 429h1v3h-1zM834 98h3v2h-3zM580 192h1v2h-1zM583 244h2v3h-2zM1027 161h2v2h-2zM1031 185h3v2h-3zM1170 120h1v1h-1zM260 276h2v2h-2zM1121 327h2v2h-2zM1098 120h2v2h-2zM1053 111h1v3h-1zM1210 91h2v3h-2zM753 314h2v2h-2zM480 257h1v3h-1zM560 469h2v3h-2zM284 238h1v2h-1zM933 199h2v1h-2zM853 129h2v1h-2zM440 437h2v2h-2zM282 354h2v1h-2zM391 361h2v2h-2zM835 106h2v2h-2zM313 323h1v1h-1zM546 248h2v2h-2zM449 116h2v2h-2zM862 343h3v1h-3zM431 311h2v3h-2zM746 295h2v2h-2zM422 449h2v2h-2zM325 288h1v1h-1zM568 460h2v2h-2zM245 228h1v1h-1zM802 149h2v2h-2zM901 450h2v1h-2zM1037 447h2v3h-2zM275 204h2v2h-2zM1095 427h2v3h-2zM415 241h2v2h-2zM1154 375h3v2h-3zM1032 222h3v2h-3zM509 281h2v3h-2zM676 345h2v2h-2zM457 331h1v2h-1zM298 236h3v2h-3zM1086 149h3v1h-3zM888 292h3v2h-3zM299 200h3v1h-3zM1055 115h2v3h-2zM1017 111h2v2h-2zM557 350h2v2h-2zM436 222h2v3h-2zM715 147h2v3h-2zM932 146h1v1h-1zM319 128h2v1h-2zM767 122h1v2h-1zM919 203h3v2h-3zM1057 336h1v3h-1zM735 346h3v1h-3zM994 218h2v2h-2zM265 156h1v1h-1zM889 135h1v2h-1zM790 145h3v1h-3zM1042 230h3v2h-3zM799 175h2v2h-2zM981 241h2v2h-2zM1022 214h3v2h-3zM418 259h3v1h-3zM238 172h1v3h-1zM1179 304h3v1h-3zM904 421h3v1h-3zM358 236h3v2h-3zM917 433h2v2h-2zM571 421h1v3h-1zM321 404h1v2h-1zM720 164h3v3h-3zM1156 93h3v3h-3zM566 456h1v2h-1zM247 200h2v3h-2zM587 444h2v2h-2zM601 402h2v2h-2zM269 274h3v2h-3zM1060 259h2v1h-2zM1048 416h3v1h-3zM586 111h1v2h-1zM513 232h2v2h-2zM479 252h2v2h-2zM569 90h1v3h-1zM380 326h2v3h-2zM800 182h2v1h-2zM925 451h3v3h-3zM1138 178h2v2h-2zM545 175h3v2h-3zM839 270h2v2h-2zM1151 154h2v1h-2zM475 99h3v2h-3zM580 188h2v2h-2zM608 190h2v3h-2zM440 418h1v1h-1zM955 239h2v3h-2zM330 157h3v2h-3zM844 162h3v2h-3zM529 401h1v3h-1zM283 249h1v2h-1zM661 148h2v1h-2zM638 327h1v2h-1zM301 200h3v2h-3zM432 204h2v2h-2zM384 401h1v1h-1zM752 436h1v3h-1zM530 420h2v1h-2zM954 250h1v2h-1zM306 269h1v2h-1zM1185 271h3v2h-3zM1188 308h1v3h-1zM1081 151h3v2h-3zM930 448h2v2h-2zM546 348h2v3h-2zM632 455h1v1h-1zM366 211h1v2h-1zM678 256h2v1h-2zM1104 383h2v3h-2zM711 350h3v3h-3zM847 288h1v1h-1zM1051 330h2v1h-2zM917 230h1v3h-1zM679 107h1v1h-1zM873 333h2v3h-2zM906 222h1v2h-1zM955 199h1v1h-1zM517 421h2v2h-2zM906 214h1v2h-1zM1070 132h1v3h-1zM800 334h1v2h-1zM564 451h2v3h-2zM402 236h3v3h-3zM279 155h2v2h-2zM777 383h2v2h-2zM354 185h1v2h-1zM353 108h2v1h-2zM285 425h2v2h-2zM996 114h3v3h-3zM952 297h3v1h-3zM905 96h3v2h-3zM776 301h2v3h-2zM905 176h3v1h-3zM1009 345h3v3h-3zM1192 458h3v2h-3zM786 326h3v3h-3zM673 208h2v3h-2zM254 222h2v2h-2zM1015 258h1v2h-1zM416 201h1v2h-1zM1127 292h2v2h-2zM843 281h2v2h-2zM969 136h3v2h-3zM923 468h2v3h-2zM1146 148h3v3h-3zM830 137h1v2h-1zM649 250h3v1h-3zM402 187h2v2h-2zM579 274h1v1h-1zM393 264h2v1h-2zM1096 167h2v1h-2zM280 431h1v2h-1zM403 376h3v1h-3zM1113 336h2v1h-2zM723 321h2v1h-2zM327 459h2v2h-2zM581 161h1v2h-1zM240 114h1v2h-1zM286 432h2v2h-2zM600 148h2v1h-2zM704 282h2v3h-2zM434 316h2v2h-2zM297 108h1v3h-1zM292 83h3v2h-3zM261 110h2v2h-2zM778 391h2v2h-2zM274 270h3v3h-3zM406 109h3v2h-3zM611 82h1v1h-1zM858 382h1v2h-1zM1129 444h1v2h-1zM1018 249h3v2h-3zM545 258h1v3h-1zM282 293h2v2h-2zM581 226h2v2h-2zM587 395h1v1h-1zM935 181h2v1h-2zM613 214h2v1h-2zM547 442h1v2h-1zM403 455h1v3h-1zM608 469h1v2h-1zM414 205h1v1h-1zM736 382h3v3h-3zM882 426h2v1h-2zM490 434h3v1h-3zM836 439h1v3h-1zM325 155h2v1h-2zM688 132h2v3h-2zM1169 462h2v1h-2zM584 343h2v1h-2zM658 426h3v2h-3zM589 281h2v2h-2zM785 236h3v3h-3zM735 171h3v2h-3zM544 414h2v2h-2zM856 208h3v1h-3zM390 125h3v2h-3zM1002 123h2v3h-2zM284 285h2v1h-2zM1086 87h2v1h-2zM415 314h1v2h-1zM1099 271h2v2h-2zM719 466h3v2h-3zM733 418h1v2h-1zM933 421h2v2h-2zM761 263h1v1h-1zM416 415h2v2h-2zM1097 328h2v3h-2zM572 266h2v2h-2zM850 293h1v2h-1zM892 181h2v1h-2zM1042 142h3v1h-3zM989 212h2v2h-2zM864 148h3v3h-3zM516 250h2v2h-2zM1098 106h2v2h-2zM780 204h2v2h-2zM400 440h3v3h-3zM534 265h1v2h-1zM964 194h1v1h-1zM811 109h1v3h-1zM391 439h1v2h-1zM492 373h2v1h-2zM475 170h1v2h-1zM435 360h2v2h-2zM1077 150h1v3h-1zM872 190h3v1h-3zM1081 148h2v3h-2zM1010 427h2v2h-2zM884 253h2v1h-2zM396 296h2v3h-2zM682 208h2v3h-2zM1137 112h2v2h-2zM563 98h2v3h-2zM899 256h3v3h-3zM791 361h1v2h-1zM232 209h2v2h-2zM912 243h2v1h-2zM451 315h2v3h-2zM306 424h1v3h-1zM275 368h3v2h-3zM1120 341h1v3h-1zM317 337h1v3h-1zM887 359h1v1h-1zM894 469h2v1h-2zM362 199h2v2h-2zM1095 393h2v3h-2zM589 102h3v1h-3zM543 446h2v2h-2zM964 200h2v1h-2zM485 101h2v3h-2zM409 283h3v2h-3zM1189 450h2v2h-2zM359 299h1v2h-1zM575 439h2v1h-2zM380 182h1v2h-1zM1091 84h3v3h-3zM1027 353h2v2h-2zM1011 199h2v2h-2zM719 284h1v2h-1zM1175 192h2v3h-2zM480 92h3v3h-3zM1202 336h2v1h-2zM889 292h2v3h-2zM401 404h1v1h-1zM1006 182h2v1h-2zM641 364h2v2h-2zM613 435h3v2h-3zM936 184h3v1h-3zM1093 398h1v2h-1zM1052 394h3v1h-3zM281 327h1v3h-1zM1209 301h2v2h-2zM1156 297h2v2h-2zM761 453h3v2h-3zM1009 141h1v2h-1zM757 233h3v2h-3zM421 112h3v2h-3zM437 279h2v2h-2zM1057 232h1v1h-1zM345 264h3v3h-3zM564 142h1v3h-1zM1167 191h2v3h-2zM910 105h2v3h-2zM860 134h1v2h-1zM300 461h3v1h-3zM582 260h2v1h-2zM1121 378h1v2h-1zM1031 141h2v2h-2zM1093 435h3v1h-3zM612 179h2v3h-2zM305 388h2v2h-2zM693 120h2v2h-2zM630 177h2v1h-2zM675 272h2v2h-2zM824 294h1v3h-1zM397 272h1v2h-1zM1057 340h2v2h-2zM320 412h2v3h-2zM709 164h2v2h-2zM847 198h1v2h-1zM253 185h1v1h-1zM1005 232h2v2h-2zM524 178h2v2h-2zM382 205h1v2h-1zM916 124h2v2h-2zM521 183h2v3h-2zM573 452h3v2h-3zM639 307h2v3h-2zM504 291h2v1h-2zM481 428h2v2h-2zM946 320h2v1h-2zM235 172h2v2h-2zM656 171h3v2h-3zM599 424h2v2h-2zM1006 135h3v1h-3zM596 324h3v2h-3zM828 183h3v1h-3zM999 460h3v3h-3zM670 452h2v3h-2zM1163 230h3v3h-3zM987 209h3v3h-3zM819 218h3v2h-3zM608 230h3v2h-3zM324 180h2v1h-2zM254 429h2v3h-2zM575 289h3v2h-3zM467 242h2v3h-2zM758 282h2v2h-2zM499 121h2v2h-2zM835 198h2v2h-2zM309 345h3v2h-3zM1086 101h2v2h-2zM865 300h1v2h-1zM971 389h3v2h-3zM351 155h2v1h-2zM853 352h3v3h-3zM621 451h1v2h-1zM1037 163h2v3h-2zM346 106h2v2h-2zM634 334h2v2h-2zM457 348h3v2h-3zM485 214h3v1h-3zM568 385h3v2h-3zM405 377h1v2h-1zM315 226h2v1h-2zM839 176h1v2h-1zM624 448h2v1h-2zM492 140h2v3h-2zM670 204h3v3h-3zM599 194h1v2h-1zM595 245h3v3h-3zM1009 413h3v2h-3zM652 274h3v2h-3zM326 409h3v1h-3zM905 169h2v2h-2zM240 310h2v1h-2zM237 458h1v2h-1zM1124 403h2v1h-2zM954 293h3v2h-3zM999 405h3v2h-3zM987 100h2v1h-2zM927 253h2v3h-2zM727 221h2v1h-2zM822 193h1v3h-1zM766 110h2v2h-2zM292 189h1v1h-1zM877 222h2v2h-2zM619 300h2v1h-2zM441 180h2v2h-2zM1142 313h1v2h-1zM550 383h3v1h-3zM588 151h1v3h-1zM591 302h2v3h-2zM280 303h2v2h-2zM275 298h3v3h-3zM548 331h2v2h-2zM1010 457h1v3h-1zM330 175h2v2h-2zM315 126h1v3h-1zM1101 461h1v3h-1zM527 284h1v2h-1zM287 305h1v2h-1zM1171 109h1v1h-1zM837 250h2v2h-2zM347 159h3v1h-3zM850 107h2v2h-2zM688 152h2v3h-2zM644 306h2v3h-2zM863 387h2v2h-2zM415 160h2v2h-2zM374 199h1v3h-1zM719 260h2v2h-2zM547 384h1v1h-1zM658 365h1v1h-1zM695 99h2v3h-2zM332 377h1v1h-1zM377 309h1v3h-1zM981 103h2v2h-2zM388 414h2v2h-2zM1022 128h2v1h-2zM263 343h1v2h-1zM655 132h2v3h-2zM480 199h3v2h-3zM260 108h2v3h-2zM768 303h2v2h-2zM574 430h2v3h-2zM1176 217h3v2h-3zM547 354h1v1h-1zM772 265h2v2h-2zM966 221h2v1h-2zM1163 446h3v3h-3zM819 103h2v2h-2zM754 425h3v1h-3zM412 82h1v2h-1zM488 349h2v1h-2zM650 340h2v2h-2zM483 396h2v3h-2zM1205 466h3v1h-3zM246 140h1v2h-1zM276 356h1v1h-1zM370 347h2v2h-2zM288 234h1v3h-1zM790 419h2v2h-2zM494 258h2v3h-2zM746 210h2v3h-2zM281 161h2v1h-2zM522 256h2v1h-2zM468 462h2v3h-2zM1082 89h2v3h-2zM1185 87h3v2h-3zM1125 249h2v3h-2zM817 184h2v2h-2zM465 198h3v3h-3zM705 134h1v3h-1zM399 254h2v2h-2zM961 258h2v3h-2zM534 395h2v2h-2zM1046 119h2v1h-2zM561 128h3v2h-3zM965 227h2v1h-2zM708 140h2v3h-2zM705 469h1v2h-1zM1016 435h1v1h-1zM283 181h2v2h-2zM1058 356h3v3h-3zM856 370h1v2h-1zM361 337h2v2h-2zM696 291h1v3h-1zM665 101h3v1h-3zM716 266h2v2h-2zM925 178h3v2h-3zM777 240h2v2h-2zM481 393h3v2h-3zM485 168h2v1h-2zM549 400h2v2h-2zM653 454h2v2h-2zM454 188h2v3h-2zM556 455h1v2h-1zM469 309h2v2h-2zM972 454h1v2h-1zM615 429h2v3h-2zM687 177h3v2h-3zM258 218h1v2h-1zM417 310h2v1h-2zM339 267h3v2h-3zM989 403h2v3h-2zM529 466h1v3h-1zM636 371h1v1h-1zM697 157h1v2h-1zM363 435h2v1h-2zM903 426h2v2h-2zM592 444h3v2h-3zM586 468h1v2h-1zM882 148h1v3h-1zM558 304h3v1h-3zM681 114h3v2h-3zM1143 106h2v3h-2zM788 175h1v3h-1zM1119 210h2v3h-2zM588 86h2v3h-2zM369 190h2v2h-2zM615 352h3v2h-3zM584 143h2v1h-2zM607 445h2v2h-2zM569 193h2v2h-2zM722 235h2v2h-2zM517 295h1v1h-1zM335 225h3v1h-3zM1026 155h3v2h-3zM370 181h2v1h-2zM457 422h1v3h-1zM353 448h2v2h-2zM366 130h3v2h-3zM237 262h2v2h-2zM693 372h1v2h-1zM1199 212h3v2h-3zM934 427h2v3h-2zM1061 165h1v1h-1zM405 373h3v2h-3zM1133 300h1v2h-1zM491 206h3v2h-3zM262 259h2v2h-2zM1105 221h1v1h-1zM237 367h3v1h-3zM952 192h3v2h-3zM1101 107h1v3h-1zM594 191h1v2h-1zM385 392h3v2h-3zM878 96h3v2h-3zM812 382h1v2h-1zM303 288h1v1h-1zM691 155h3v2h-3zM707 219h2v3h-2zM947 423h3v2h-3zM698 404h3v2h-3zM794 414h2v3h-2zM377 312h2v2h-2zM475 448h1v1h-1zM370 176h2v2h-2zM583 214h1v2h-1zM636 446h1v1h-1zM934 269h2v2h-2zM574 390h2v3h-2zM531 259h3v2h-3zM261 226h2v2h-2zM608 299h3v1h-3zM348 411h3v2h-3zM1038 364h2v2h-2zM1059 154h2v2h-2zM523 410h1v1h-1zM854 98h2v2h-2zM295 88h2v2h-2zM933 409h3v1h-3zM1083 418h2v3h-2zM1108 388h3v1h-3zM875 223h2v2h-2zM415 388h3v2h-3zM622 374h2v1h-2zM880 118h2v2h-2zM953 454h2v3h-2zM493 415h2v3h-2zM623 92h3v2h-3zM971 300h3v1h-3zM865 318h1v3h-1zM320 403h2v2h-2zM1098 114h3v2h-3zM490 245h2v2h-2zM865 270h3v1h-3zM1041 105h2v2h-2zM1009 413h3v1h-3zM904 328h2v2h-2zM414 167h2v1h-2zM361 409h3v2h-3zM696 337h2v2h-2zM1037 334h2v1h-2zM626 147h2v3h-2zM725 190h3v2h-3zM559 205h3v2h-3zM439 151h1v3h-1zM952 304h1v3h-1zM389 130h2v2h-2zM235 461h3v1h-3zM976 167h2v2h-2zM1022 326h1v2h-1zM460 275h2v1h-2zM1152 301h3v2h-3zM872 226h2v2h-2zM799 101h1v3h-1zM462 178h1v2h-1zM982 379h2v1h-2zM664 420h2v2h-2zM377 389h2v2h-2zM287 471h3v3h-3zM353 291h2v3h-2zM464 237h1v3h-1zM394 332h3v2h-3zM1181 276h3v2h-3zM325 106h1v1h-1zM325 306h2v2h-2zM884 346h3v3h-3zM999 351h3v2h-3zM991 334h2v2h-2zM975 361h2v1h-2zM854 391h2v1h-2zM857 117h1v2h-1zM772 356h1v1h-1zM971 114h1v3h-1zM297 243h3v2h-3zM855 339h2v3h-2zM745 190h3v3h-3zM354 462h2v1h-2zM1093 192h1v2h-1zM477 254h1v2h-1zM606 308h2v2h-2zM1090 218h1v2h-1zM743 165h3v2h-3zM886 295h3v3h-3zM427 439h2v2h-2zM601 115h2v2h-2zM731 269h2v1h-2zM560 325h1v3h-1zM369 281h2v3h-2zM974 285h2v3h-2zM320 412h3v2h-3zM1037 414h2v3h-2zM1053 150h1v2h-1zM715 83h2v3h-2zM681 390h2v3h-2zM869 127h1v1h-1zM998 306h3v2h-3zM603 253h3v2h-3zM480 126h1v2h-1zM879 96h3v2h-3zM525 443h3v1h-3zM755 129h3v1h-3zM765 426h2v3h-2zM557 153h2v2h-2zM1155 355h1v2h-1zM1041 203h2v1h-2zM743 100h2v3h-2zM991 96h1v3h-1zM784 406h2v1h-2zM293 123h3v1h-3zM910 231h2v2h-2zM332 366h2v1h-2zM971 428h3v2h-3zM455 341h3v3h-3zM505 108h1v3h-1zM1083 229h1v1h-1zM408 410h2v3h-2zM749 112h2v2h-2zM727 429h3v2h-3zM988 381h2v1h-2zM500 364h2v3h-2zM782 361h1v2h-1zM712 416h1v3h-1zM712 175h1v1h-1zM268 204h1v3h-1zM842 247h2v1h-2zM542 470h3v1h-3zM252 300h2v2h-2zM1016 299h2v2h-2zM1097 240h1v3h-1zM574 311h2v2h-2zM878 453h1v3h-1zM950 327h1v2h-1zM451 151h1v2h-1zM1001 145h1v3h-1zM435 433h3v3h-3zM325 321h3v3h-3zM634 412h2v1h-2zM549 171h1v2h-1zM294 401h2v2h-2zM790 358h2v1h-2zM319 151h2v1h-2zM1048 128h2v3h-2zM279 465h2v2h-2zM1027 97h3v1h-3zM1019 221h3v2h-3zM481 280h2v2h-2zM1153 189h3v2h-3zM1044 199h1v1h-1zM1104 364h3v2h-3zM1001 237h2v2h-2zM562 88h1v3h-1zM1179 172h1v1h-1zM566 281h2v2h-2zM250 382h1v2h-1zM1122 406h2v3h-2zM244 182h1v2h-1zM512 235h2v3h-2zM679 410h3v2h-3zM690 302h3v1h-3zM415 141h2v2h-2zM1068 96h3v3h-3zM261 196h2v3h-2zM851 439h1v2h-1zM266 450h1v2h-1zM997 438h2v2h-2zM269 471h2v1h-2zM237 348h3v2h-3zM417 336h1v1h-1zM1154 248h1v2h-1zM511 124h1v3h-1zM800 463h3v2h-3zM1194 453h3v1h-3zM777 129h2v2h-2zM1041 318h1v1h-1zM245 112h3v2h-3zM603 364h3v3h-3zM715 452h1v1h-1zM497 455h2v2h-2zM936 429h2v2h-2zM597 449h3v2h-3zM252 235h3v2h-3zM259 236h1v1h-1zM799 418h3v2h-3zM883 439h2v2h-2zM721 276h1v2h-1zM831 99h1v2h-1zM505 320h2v1h-2zM845 367h1v3h-1zM619 316h1v2h-1zM1184 98h3v2h-3zM401 275h3v1h-3zM822 219h2v1h-2zM426 460h2v2h-2zM345 278h2v1h-2zM259 232h1v2h-1zM568 147h2v1h-2zM406 262h2v2h-2zM628 384h1v2h-1zM471 268h2v1h-2zM353 259h2v3h-2zM717 416h2v3h-2zM846 149h2v1h-2zM912 360h2v3h-2zM885 174h1v1h-1zM1184 147h1v3h-1zM393 463h1v2h-1zM293 401h3v2h-3zM869 136h1v1h-1zM833 428h3v3h-3zM949 174h3v2h-3zM792 388h3v3h-3zM497 223h2v2h-2zM244 332h2v1h-2zM418 265h2v2h-2zM288 417h2v2h-2zM1014 300h2v2h-2zM470 408h1v2h-1zM284 198h1v2h-1zM334 329h1v1h-1zM664 254h3v2h-3zM585 134h1v3h-1zM869 370h3v3h-3zM889 471h2v2h-2zM847 229h1v1h-1zM359 174h3v3h-3zM816 330h3v1h-3zM1082 139h3v2h-3zM965 245h2v2h-2zM877 129h2v3h-2zM442 378h2v3h-2zM885 221h1v3h-1zM1177 157h2v2h-2zM345 331h3v1h-3zM997 329h3v1h-3zM686 446h3v3h-3zM503 311h3v1h-3zM547 162h3v1h-3zM273 209h3v1h-3zM1067 289h2v2h-2zM1046 109h1v3h-1zM314 90h3v3h-3zM1016 95h1v2h-1zM294 241h2v3h-2zM693 329h1v2h-1zM796 86h1v1h-1zM805 365h3v2h-3zM579 292h2v2h-2zM648 326h2v2h-2zM1192 310h3v3h-3zM1134 300h1v1h-1zM789 294h2v1h-2zM957 85h2v3h-2zM1180 131h1v3h-1zM659 306h2v1h-2zM504 384h2v2h-2zM281 359h3v2h-3zM575 443h3v2h-3zM631 391h2v2h-2zM311 329h2v1h-2zM297 238h3v3h-3zM297 209h3v2h-3zM1132 468h2v2h-2zM231 196h3v3h-3zM1207 111h1v2h-1zM876 450h3v2h-3zM341 124h3v3h-3zM801 225h2v1h-2zM302 456h2v1h-2zM942 162h1v3h-1zM301 100h2v1h-2zM346 264h3v2h-3zM884 313h2v2h-2zM272 189h2v1h-2zM1077 429h2v1h-2zM776 238h2v3h-2zM293 222h2v3h-2zM711 108h2v2h-2zM778 370h1v2h-1zM590 436h2v3h-2zM1128 181h1v3h-1zM545 271h2v2h-2zM559 257h3v2h-3zM523 440h2v2h-2zM715 400h2v1h-2zM385 433h1v1h-1zM352 148h3v2h-3zM1114 114h2v3h-2zM736 83h1v2h-1zM963 357h2v2h-2zM827 457h2v2h-2zM796 258h2v2h-2zM933 381h3v3h-3zM934 351h2v3h-2zM1089 321h1v2h-1zM243 312h3v2h-3zM456 324h1v3h-1zM462 298h2v3h-2zM277 465h2v2h-2zM1156 141h2v2h-2zM1093 139h1v3h-1zM375 314h3v1h-3zM853 384h1v3h-1zM857 372h1v3h-1zM385 405h3v2h-3zM999 136h3v2h-3zM353 96h2v2h-2zM566 462h2v2h-2zM253 310h2v3h-2zM477 98h2v1h-2zM1183 422h2v2h-2zM570 344h2v2h-2zM598 102h3v3h-3zM736 414h2v1h-2zM755 193h1v2h-1zM337 259h2v2h-2zM439 370h3v2h-3zM1011 119h1v2h-1zM419 289h1v3h-1zM1050 93h3v2h-3zM534 147h3v3h-3zM629 162h1v2h-1zM779 178h3v1h-3zM948 314h2v3h-2zM1155 156h2v2h-2zM459 456h1v2h-1zM578 144h2v1h-2zM393 456h2v2h-2zM865 412h3v3h-3zM654 140h2v2h-2zM1121 218h1v2h-1zM1176 180h2v1h-2zM897 309h2v2h-2zM773 411h2v2h-2zM964 274h1v1h-1zM349 325h2v1h-2zM989 168h2v2h-2zM991 471h2v2h-2zM339 174h3v3h-3zM807 333h1v2h-1zM369 345h2v3h-2zM923 249h2v3h-2zM705 414h1v3h-1zM1083 251h2v3h-2zM681 107h1v1h-1zM353 242h1v2h-1zM1111 239h2v2h-2zM334 114h2v2h-2zM236 228h1v2h-1zM751 248h2v1h-2zM971 251h2v2h-2zM643 469h2v2h-2zM1000 89h2v2h-2zM690 251h3v2h-3zM538 189h2v3h-2zM372 343h2v1h-2zM1169 122h3v1h-3zM865 263h1v2h-1zM478 120h2v3h-2zM413 365h1v1h-1zM1207 321h2v3h-2zM844 420h3v3h-3zM298 273h1v1h-1zM762 457h2v3h-2zM842 321h2v2h-2zM499 286h2v2h-2zM788 143h2v2h-2zM849 439h1v3h-1zM1129 347h3v2h-3zM1139 422h2v2h-2zM1136 131h2v2h-2zM578 218h1v2h-1zM838 222h1v1h-1zM777 412h3v2h-3zM273 418h2v2h-2zM1126 214h2v3h-2zM638 297h1v1h-1zM1002 214h2v1h-2zM751 422h1v1h-1zM429 121h2v3h-2zM907 235h2v1h-2zM974 457h2v3h-2zM660 183h2v2h-2zM704 282h2v3h-2zM828 462h2v3h-2zM294 165h1v2h-1zM671 435h1v1h-1zM377 152h2v2h-2zM1174 225h2v2h-2zM357 242h1v3h-1zM572 245h2v1h-2zM510 107h2v1h-2zM367 250h2v3h-2zM842 399h2v2h-2zM737 94h3v2h-3zM1084 259h3v3h-3zM1002 329h3v3h-3zM308 463h1v2h-1zM1053 160h2v3h-2zM460 173h2v2h-2zM815 433h3v1h-3zM628 389h2v3h-2zM420 147h3v2h-3zM589 230h1v2h-1zM564 242h3v2h-3zM433 352h2v3h-2zM757 466h2v2h-2zM692 212h3v1h-3zM1029 313h2v2h-2zM633 357h2v3h-2zM715 348h2v2h-2zM1173 127h2v1h-2zM527 359h1v1h-1zM271 248h1v2h-1zM917 330h2v3h-2zM828 189h1v3h-1zM711 304h1v2h-1zM233 179h2v2h-2zM704 307h1v1h-1zM817 132h2v2h-2zM998 221h2v1h-2zM1051 391h2v2h-2zM470 173h1v1h-1zM368 309h1v2h-1zM737 404h2v2h-2zM944 157h2v3h-2zM887 206h1v1h-1zM733 218h1v2h-1zM924 179h2v2h-2zM745 305h2v2h-2zM650 187h3v2h-3zM557 459h2v2h-2zM912 274h3v2h-3zM570 163h3v2h-3zM826 404h1v2h-1zM1034 166h3v1h-3zM410 350h2v1h-2zM517 230h1v3h-1zM998 309h1v3h-1zM348 304h2v2h-2zM855 246h3v2h-3zM635 394h1v3h-1zM896 396h1v2h-1zM838 454h2v2h-2zM955 370h1v3h-1zM505 298h1v2h-1zM563 219h3v2h-3zM604 394h3v2h-3zM402 250h2v2h-2zM636 423h3v3h-3zM481 228h3v3h-3zM357 259h1v2h-1zM248 454h1v1h-1zM1080 127h2v2h-2zM412 345h2v2h-2zM931 238h2v2h-2zM784 273h3v2h-3zM557 461h2v3h-2zM885 364h2v2h-2zM673 156h2v3h-2zM824 259h3v2h-3zM697 254h1v3h-1zM843 91h1v1h-1zM899 215h3v1h-3zM647 323h1v2h-1zM243 377h2v2h-2zM472 402h2v2h-2zM784 427h2v2h-2zM813 274h3v3h-3zM873 142h2v2h-2zM378 231h3v2h-3zM540 387h1v2h-1zM916 219h2v2h-2zM235 239h2v1h-2zM477 117h3v1h-3zM751 254h2v2h-2zM866 444h2v1h-2zM672 111h3v1h-3zM256 118h2v2h-2zM461 191h2v2h-2zM825 246h2v2h-2zM357 365h2v2h-2zM759 112h2v3h-2zM987 399h2v1h-2zM352 378h3v2h-3zM458 297h3v2h-3zM675 302h3v2h-3zM1040 85h2v1h-2zM463 132h3v2h-3zM280 346h3v1h-3zM869 202h2v1h-2zM291 433h1v2h-1zM976 89h1v2h-1zM945 235h1v2h-1zM1039 259h3v2h-3zM1172 120h3v2h-3zM327 403h2v3h-2zM462 383h3v2h-3zM940 112h2v3h-2zM1056 97h3v2h-3zM606 409h2v3h-2zM626 85h3v2h-3zM291 189h1v2h-1zM690 326h3v2h-3zM843 368h2v2h-2zM821 164h2v2h-2zM435 261h3v2h-3zM242 381h1v2h-1zM565 175h1v2h-1zM626 152h1v3h-1zM1095 117h2v1h-2zM959 159h3v2h-3zM548 180h1v3h-1zM632 171h2v3h-2zM1090 202h2v2h-2zM958 447h2v1h-2zM887 106h2v2h-2zM1071 470h2v3h-2zM375 440h1v2h-1zM803 105h3v3h-3zM255 347h2v3h-2zM335 394h1v2h-1zM811 111h2v3h-2zM458 395h2v3h-2zM728 268h1v2h-1zM1138 329h3v2h-3zM290 349h2v2h-2zM985 471h2v2h-2zM659 303h1v2h-1zM598 121h1v2h-1zM486 208h2v3h-2zM851 340h1v1h-1zM653 298h2v2h-2zM661 288h1v2h-1zM1188 317h3v2h-3zM743 201h1v3h-1zM978 452h1v1h-1zM1105 184h1v1h-1zM1098 104h1v3h-1zM1033 234h2v2h-2zM977 273h1v3h-1zM393 201h1v2h-1zM757 120h1v1h-1zM402 276h2v3h-2zM949 318h2v3h-2zM883 407h1v2h-1zM627 404h2v2h-2zM454 328h3v2h-3zM555 364h2v1h-2zM917 396h2v3h-2zM382 172h3v1h-3zM801 112h2v2h-2zM1114 352h2v2h-2zM537 340h3v3h-3zM839 104h2v2h-2zM607 410h3v2h-3zM780 205h2v2h-2zM780 459h2v2h-2zM1188 278h1v2h-1zM248 409h1v3h-1zM385 151h2v3h-2zM351 381h2v1h-2zM512 194h2v2h-2zM1077 423h3v2h-3zM861 436h2v3h-2zM1139 163h1v1h-1zM411 385h2v2h-2zM1110 122h3v2h-3zM818 129h2v2h-2zM396 210h1v2h-1zM626 176h1v2h-1zM738 312h2v2h-2zM683 127h2v2h-2zM248 104h3v1h-3zM1173 377h2v2h-2zM1099 211h3v1h-3zM397 429h3v1h-3zM418 441h1v3h-1zM283 280h2v2h-2zM759 296h2v1h-2zM964 389h2v1h-2zM483 346h1v2h-1zM1140 142h1v1h-1zM390 366h3v2h-3zM344 185h1v2h-1zM935 173h1v3h-1zM345 469h1v2h-1zM557 182h2v2h-2zM872 316h2v2h-2zM1059 153h2v1h-2zM1198 206h1v1h-1zM884 147h3v2h-3zM585 220h2v2h-2zM301 206h3v1h-3zM950 177h1v2h-1zM264 240h2v2h-2zM728 462h3v2h-3zM931 435h2v2h-2zM1177 86h2v2h-2zM704 111h2v1h-2zM939 407h2v3h-2zM288 279h1v1h-1zM766 400h3v1h-3zM1016 159h3v1h-3zM1047 90h3v2h-3zM1049 136h2v2h-2zM629 427h2v1h-2zM565 433h3v1h-3zM960 109h3v1h-3zM1171 155h2v3h-2zM758 445h2v2h-2zM639 452h2v3h-2zM696 429h2v1h-2zM1076 146h2v2h-2zM355 450h3v3h-3zM860 192h2v2h-2zM371 129h3v3h-3zM663 435h2v2h-2zM366 423h2v2h-2zM754 214h2v1h-2zM673 135h1v1h-1zM240 437h2v3h-2zM721 257h3v1h-3zM1010 304h3v3h-3zM445 176h2v2h-2zM511 411h3v2h-3zM466 278h3v3h-3zM855 243h3v1h-3zM504 88h2v2h-2zM1144 154h2v3h-2zM862 108h1v2h-1zM654 167h3v3h-3zM657 446h2v2h-2zM555 260h1v2h-1zM1164 205h2v2h-2zM445 441h2v2h-2zM587 384h1v3h-1zM863 275h2v1h-2zM279 136h2v2h-2zM611 358h3v2h-3zM815 331h2v2h-2zM734 270h3v2h-3zM510 84h3v2h-3zM524 237h3v2h-3zM465 102h2v3h-2zM475 198h3v1h-3zM1039 149h2v1h-2zM1045 98h1v3h-1zM478 413h2v2h-2zM817 302h2v2h-2zM668 368h3v2h-3zM655 346h3v2h-3zM1201 133h1v3h-1zM916 374h1v2h-1zM600 153h2v2h-2zM975 242h3v2h-3zM756 411h3v3h-3zM633 114h2v3h-2zM928 205h2v2h-2zM1198 141h2v2h-2zM816 450h2v1h-2zM305 455h2v2h-2zM816 199h1v3h-1zM531 238h2v1h-2zM748 372h2v2h-2zM540 93h2v2h-2zM602 413h1v1h-1zM888 413h1v2h-1zM738 258h3v2h-3zM678 268h1v2h-1zM333 208h3v1h-3zM1071 105h3v2h-3zM480 391h1v3h-1zM289 301h2v3h-2zM350 180h2v2h-2zM1130 172h3v1h-3zM312 302h2v2h-2zM806 402h3v1h-3zM989 150h3v2h-3zM1186 93h2v1h-2zM1172 91h2v2h-2zM317 305h3v2h-3zM814 456h3v2h-3zM365 293h1v1h-1zM591 126h1v3h-1zM736 134h1v3h-1zM1042 176h3v3h-3zM860 234h2v2h-2zM1103 188h3v3h-3zM966 291h3v2h-3zM417 285h2v3h-2zM1184 214h1v3h-1zM742 195h3v1h-3zM507 282h2v2h-2zM879 440h1v3h-1zM643 270h2v2h-2zM344 352h2v3h-2zM522 227h2v3h-2zM776 189h2v2h-2zM819 323h2v1h-2zM697 313h3v2h-3zM527 102h1v3h-1zM769 217h2v2h-2zM1018 116h1v1h-1zM392 375h3v1h-3zM1022 118h2v2h-2zM1083 276h3v2h-3zM581 318h2v2h-2zM638 354h2v2h-2zM583 207h2v3h-2zM634 261h1v1h-1zM1160 393h3v2h-3zM255 391h2v2h-2zM912 214h2v1h-2zM953 289h1v3h-1zM1198 240h2v3h-2zM1087 193h3v3h-3zM605 347h3v1h-3zM895 169h2v2h-2zM846 289h3v2h-3zM380 127h1v2h-1zM312 348h1v2h-1zM783 399h3v1h-3zM1088 427h2v3h-2zM778 259h1v2h-1zM893 270h2v3h-2zM667 176h2v3h-2zM287 348h3v1h-3zM682 434h1v2h-1zM1004 439h1v2h-1zM989 418h2v2h-2zM738 396h1v2h-1zM1106 159h2v1h-2zM826 279h3v3h-3zM470 103h1v2h-1zM617 379h2v3h-2zM1040 454h3v2h-3zM1145 105h1v1h-1zM792 246h3v1h-3zM982 287h2v3h-2zM537 290h2v1h-2zM1197 163h2v2h-2zM724 229h2v3h-2zM1059 222h3v1h-3zM867 325h1v2h-1zM868 215h2v2h-2zM494 344h1v3h-1zM910 342h2v2h-2zM682 405h3v2h-3zM1070 241h1v2h-1zM489 367h2v3h-2zM392 247h3v1h-3zM476 133h3v2h-3zM734 282h2v1h-2zM1111 158h2v2h-2zM489 160h1v3h-1zM1066 130h2v2h-2zM964 420h1v2h-1zM1146 94h2v2h-2zM977 198h2v3h-2zM462 354h1v2h-1zM740 254h3v2h-3zM1133 145h3v1h-3zM504 177h1v2h-1zM302 410h3v2h-3zM625 410h3v2h-3zM390 305h2v1h-2zM1191 456h2v1h-2zM405 361h2v3h-2zM291 270h2v1h-2zM470 183h3v2h-3zM614 331h2v3h-2zM850 331h3v2h-3zM1008 305h2v2h-2zM538 84h2v2h-2zM673 341h3v1h-3zM400 377h2v1h-2zM656 238h3v1h-3zM564 342h2v2h-2zM735 236h2v2h-2zM554 371h3v1h-3zM1121 220h2v3h-2zM525 245h1v1h-1zM884 370h3v1h-3zM972 435h3v3h-3zM670 310h1v2h-1zM798 179h2v3h-2zM1109 332h3v3h-3zM1106 166h2v1h-2zM269 131h2v2h-2zM1034 193h3v2h-3zM289 314h3v2h-3zM499 437h3v3h-3zM837 123h3v1h-3zM669 95h3v2h-3zM725 124h1v2h-1zM572 146h3v3h-3zM976 241h3v1h-3zM1060 430h1v3h-1zM802 139h2v3h-2zM235 322h2v2h-2zM573 371h2v2h-2zM820 294h1v1h-1zM346 204h3v3h-3zM437 354h3v1h-3zM962 126h2v3h-2zM522 245h1v2h-1zM407 241h1v2h-1zM843 293h3v2h-3zM878 370h2v3h-2zM887 267h3v2h-3zM731 89h3v2h-3zM556 253h3v1h-3zM1081 353h2v1h-2zM555 140h2v3h-2zM926 227h1v1h-1zM1024 440h3v1h-3zM768 345h2v2h-2zM292 147h2v2h-2zM761 365h1v2h-1zM933 413h1v2h-1zM728 97h2v2h-2zM415 389h3v3h-3zM1130 166h2v3h-2zM1099 213h1v2h-1zM327 242h1v2h-1zM398 182h2v3h-2zM473 172h2v2h-2zM482 449h2v1h-2zM234 145h1v2h-1zM899 264h2v3h-2zM521 98h2v3h-2zM652 383h3v1h-3zM1200 215h2v1h-2zM394 279h1v1h-1zM302 259h2v2h-2zM532 143h2v2h-2zM688 399h1v2h-1zM606 212h2v3h-2zM492 222h2v1h-2zM567 299h2v1h-2zM391 351h1v2h-1zM1168 86h3v1h-3zM1086 146h2v2h-2zM991 308h2v1h-2zM782 286h2v2h-2zM238 358h2v2h-2zM293 243h1v3h-1zM672 333h3v2h-3zM1139 381h3v2h-3zM971 240h2v3h-2zM1127 187h1v3h-1zM654 262h3v2h-3zM563 419h1v2h-1zM817 169h1v1h-1zM443 355h1v3h-1zM538 230h2v1h-2zM1164 315h2v1h-2zM775 367h3v2h-3zM733 116h3v1h-3zM777 177h1v1h-1zM1102 104h2v2h-2zM378 313h2v3h-2zM393 311h3v2h-3zM645 199h1v3h-1zM658 111h2v2h-2zM374 371h2v2h-2zM571 86h2v2h-2zM1104 87h3v3h-3zM442 134h2v1h-2zM258 211h1v2h-1zM736 339h1v3h-1zM754 130h2v1h-2zM1155 142h2v2h-2zM1188 392h1v2h-1zM647 316h3v3h-3zM389 297h2v2h-2zM411 187h2v1h-2zM361 106h3v3h-3zM548 146h1v1h-1zM727 462h1v3h-1zM700 420h2v2h-2zM668 324h1v2h-1zM923 365h2v2h-2zM656 396h3v2h-3zM774 409h2v2h-2zM1164 320h1v1h-1zM384 276h2v3h-2zM453 314h2v2h-2zM790 406h1v1h-1zM916 102h1v1h-1zM352 333h3v3h-3zM1090 188h1v2h-1zM813 94h1v3h-1zM483 341h2v2h-2zM354 395h2v1h-2zM412 202h2v2h-2zM564 144h2v1h-2zM553 145h2v2h-2zM236 225h2v2h-2zM650 334h2v2h-2zM497 227h1v2h-1zM600 202h2v2h-2zM251 269h1v1h-1zM530 362h2v2h-2zM471 94h3v2h-3zM614 148h2v1h-2zM1202 128h2v2h-2zM591 144h3v2h-3zM757 426h3v1h-3zM274 382h2v2h-2zM927 351h3v2h-3zM574 166h3v2h-3zM974 189h2v2h-2zM658 358h3v3h-3zM1015 92h2v2h-2zM934 248h2v3h-2zM327 144h1v2h-1zM521 299h1v1h-1zM251 337h2v3h-2zM1018 149h2v2h-2zM864 187h1v2h-1zM938 438h1v1h-1zM1203 415h1v2h-1zM238 273h3v2h-3zM908 297h3v2h-3zM455 376h3v1h-3zM1042 156h2v1h-2zM504 199h1v2h-1zM744 193h2v2h-2zM897 463h2v2h-2zM697 250h3v2h-3zM450 357h3v2h-3zM921 97h1v3h-1zM398 139h3v3h-3zM709 462h1v1h-1zM1128 220h2v3h-2zM526 369h2v3h-2zM1145 115h3v1h-3zM675 247h3v1h-3zM654 428h1v2h-1zM899 210h2v2h-2zM263 200h2v2h-2zM362 319h2v1h-2zM564 378h2v2h-2zM695 303h3v3h-3zM237 200h2v2h-2zM798 155h2v2h-2zM884 286h2v1h-2zM1083 313h2v2h-2zM1155 279h1v2h-1zM1122 440h1v1h-1zM619 153h2v3h-2zM422 128h1v1h-1zM887 139h3v1h-3zM1039 377h3v3h-3zM552 354h3v1h-3zM708 255h2v2h-2zM701 266h1v2h-1zM713 129h1v3h-1zM1133 138h1v1h-1zM512 261h2v2h-2zM850 263h3v3h-3zM390 149h2v2h-2zM294 204h3v1h-3zM577 442h2v2h-2zM286 302h2v2h-2zM379 136h1v2h-1zM273 316h2v1h-2zM749 258h2v2h-2zM920 242h1v2h-1zM999 173h3v3h-3zM1009 427h2v3h-2zM672 137h2v2h-2zM832 214h3v1h-3zM866 310h2v2h-2zM269 107h2v1h-2zM1097 166h2v1h-2zM1178 218h2v1h-2zM530 274h1v2h-1zM289 218h2v1h-2zM662 193h2v1h-2zM886 148h3v2h-3zM767 376h1v1h-1zM1069 373h3v2h-3zM632 354h2v3h-2zM540 430h1v2h-1zM362 351h2v1h-2zM666 128h3v3h-3zM1089 184h2v1h-2zM652 214h3v3h-3zM491 361h2v2h-2zM914 303h3v2h-3zM893 436h3v1h-3zM254 161h2v3h-2zM258 239h2v1h-2zM746 227h3v2h-3zM1193 215h3v1h-3zM429 140h2v3h-2zM280 259h1v2h-1zM792 135h3v3h-3zM309 392h2v2h-2zM655 94h3v2h-3zM575 403h1v1h-1zM713 377h2v3h-2zM638 100h1v2h-1zM732 371h3v1h-3zM515 305h3v2h-3zM1137 327h3v2h-3zM872 173h2v1h-2zM1187 127h1v1h-1zM331 175h1v2h-1zM289 109h2v2h-2zM589 173h2v2h-2zM512 392h3v1h-3zM494 129h2v2h-2zM1012 266h2v3h-2zM552 325h2v2h-2zM972 166h3v2h-3zM945 319h2v2h-2zM784 322h2v1h-2zM1164 240h3v2h-3zM1026 88h3v1h-3zM292 356h1v3h-1zM664 424h1v2h-1zM1152 113h3v3h-3zM912 110h2v3h-2zM295 82h2v2h-2zM596 98h2v2h-2zM530 450h2v2h-2zM998 437h1v1h-1zM1206 87h3v2h-3zM276 290h3v3h-3zM492 144h1v2h-1zM467 146h1v3h-1zM306 237h3v1h-3zM676 325h3v3h-3zM247 102h2v2h-2zM550 198h2v3h-2zM974 336h2v2h-2zM369 220h2v1h-2zM1147 414h3v3h-3zM287 229h2v2h-2zM270 224h2v3h-2zM955 236h3v2h-3zM593 122h1v1h-1zM660 121h3v1h-3zM276 220h2v2h-2zM1038 339h3v2h-3zM874 444h2v2h-2zM948 388h2v3h-2zM1014 100h3v1h-3zM504 214h3v2h-3zM1153 317h3v2h-3zM956 397h2v2h-2zM907 86h2v3h-2zM550 466h3v2h-3zM917 237h1v2h-1zM302 292h2v1h-2zM579 125h1v1h-1zM554 462h2v3h-2zM1104 135h3v3h-3zM922 358h2v3h-2zM778 319h3v2h-3zM886 210h2v2h-2zM645 369h1v2h-1zM645 147h2v3h-2zM470 148h2v2h-2zM669 262h2v1h-2zM833 374h3v2h-3zM551 291h2v2h-2zM646 296h3v2h-3zM1011 286h1v2h-1zM287 357h3v2h-3zM953 281h2v1h-2zM1017 236h1v2h-1zM1164 97h1v1h-1zM516 187h2v1h-2zM478 379h3v2h-3zM1052 362h3v2h-3zM735 146h2v3h-2zM991 203h2v2h-2zM1031 280h2v2h-2zM978 434h2v3h-2zM841 264h3v1h-3zM404 469h2v2h-2zM373 243h2v3h-2zM613 243h3v1h-3zM620 171h3v3h-3zM283 432h1v1h-1zM288 466h2v3h-2zM719 250h1v2h-1zM902 417h1v1h-1zM247 314h3v3h-3zM981 224h3v2h-3zM379 452h2v3h-2zM691 434h3v2h-3zM510 338h2v2h-2zM592 307h2v3h-2zM282 260h1v3h-1zM502 269h2v2h-2zM838 243h1v2h-1zM542 230h3v3h-3zM323 454h2v3h-2zM239 171h3v2h-3zM761 387h3v2h-3zM478 436h1v2h-1zM695 390h1v1h-1zM360 247h2v2h-2zM285 332h3v1h-3zM433 382h1v3h-1zM320 115h2v3h-2zM447 228h3v2h-3zM624 157h2v1h-2zM469 275h1v1h-1zM1054 459h2v1h-2zM448 113h2v3h-2zM398 179h3v3h-3zM780 128h3v2h-3zM483 454h1v2h-1zM238 166h2v2h-2zM934 406h2v1h-2zM957 340h2v3h-2zM916 451h2v3h-2zM424 321h2v2h-2zM452 364h1v1h-1zM296 311h2v2h-2zM618 100h1v1h-1zM657 82h3v2h-3zM552 339h2v2h-2zM1120 106h2v2h-2zM1171 229h2v3h-2zM1076 266h3v2h-3zM855 122h1v1h-1zM301 99h2v3h-2zM782 89h2v2h-2zM1006 214h3v2h-3zM724 141h2v3h-2zM1204 208h1v1h-1zM1113 185h2v2h-2zM579 224h2v1h-2zM652 303h2v3h-2zM347 366h2v1h-2zM471 224h2v1h-2zM555 430h2v2h-2zM963 432h1v2h-1zM838 87h2v2h-2zM328 439h3v3h-3zM524 331h2v3h-2zM980 319h2v2h-2zM772 125h1v2h-1zM977 213h2v1h-2zM742 176h3v2h-3zM786 162h2v3h-2zM1120 173h1v2h-1zM1190 195h3v2h-3zM985 323h3v1h-3zM310 121h2v2h-2zM252 358h2v2h-2zM835 223h2v2h-2zM1176 206h3v3h-3zM416 386h1v3h-1zM1018 131h3v2h-3zM443 164h2v1h-2zM365 354h3v1h-3zM977 97h1v2h-1zM426 421h1v2h-1zM866 459h3v1h-3zM820 88h1v2h-1zM1089 312h1v1h-1zM680 327h1v1h-1zM335 456h2v2h-2zM1062 210h3v2h-3zM327 137h2v3h-2zM270 171h1v1h-1zM973 145h2v1h-2zM231 242h1v2h-1zM1166 182h1v1h-1zM937 186h2v1h-2zM491 450h2v1h-2zM715 222h3v2h-3zM1003 142h2v1h-2zM634 218h2v1h-2zM703 263h1v3h-1zM686 422h3v2h-3zM340 261h2v2h-2zM296 225h3v1h-3zM250 82h1v2h-1zM1039 237h2v2h-2zM332 131h2v1h-2zM1109 126h1v2h-1zM1018 188h2v3h-2zM611 340h3v1h-3zM1045 213h1v3h-1zM727 433h1v1h-1zM1201 217h3v2h-3zM233 299h3v2h-3zM1107 225h2v3h-2zM980 84h1v1h-1zM727 88h2v1h-2zM1049 275h3v3h-3zM300 104h2v2h-2zM984 440h2v2h-2zM518 112h2v3h-2zM867 421h3v2h-3zM372 296h2v2h-2zM1139 202h2v2h-2zM526 292h2v2h-2zM515 155h2v2h-2zM543 256h1v2h-1zM715 450h3v2h-3zM890 396h1v2h-1zM723 187h1v2h-1zM752 246h1v1h-1zM1139 203h1v2h-1zM417 290h1v2h-1zM916 108h1v2h-1zM937 313h2v2h-2zM771 160h2v3h-2zM877 226h2v2h-2zM854 133h2v2h-2zM629 434h3v1h-3zM964 99h2v2h-2zM969 170h2v3h-2zM294 435h1v2h-1zM712 416h1v2h-1zM327 434h2v1h-2zM657 226h2v1h-2zM294 193h2v3h-2zM942 338h1v1h-1zM478 327h1v2h-1zM632 390h1v2h-1zM859 356h3v2h-3zM615 180h2v3h-2zM1081 102h2v2h-2zM930 422h2v3h-2zM1075 174h2v2h-2zM957 389h3v2h-3zM245 375h2v3h-2zM396 462h3v3h-3zM816 381h2v2h-2zM956 362h3v3h-3zM851 412h1v3h-1zM378 193h3v3h-3zM791 416h3v1h-3zM1084 219h1v1h-1zM412 465h2v3h-2zM485 336h3v1h-3zM722 412h3v2h-3zM548 237h2v3h-2zM418 454h3v2h-3zM993 299h3v3h-3zM256 116h2v1h-2zM254 308h3v2h-3zM1116 95h1v2h-1zM400 142h2v3h-2zM795 355h3v2h-3zM320 414h2v3h-2zM759 321h3v2h-3zM744 423h1v1h-1zM1049 353h2v2h-2zM352 312h1v3h-1zM943 445h2v1h-2zM592 407h3v1h-3zM791 211h3v3h-3zM831 365h2v2h-2zM798 239h1v1h-1zM1145 84h3v2h-3zM1198 177h1v2h-1zM758 470h1v2h-1zM321 188h2v3h-2zM685 92h3v3h-3zM291 346h1v3h-1zM951 379h3v1h-3zM1107 186h1v3h-1zM864 319h3v3h-3zM466 270h2v2h-2zM298 414h2v2h-2zM1161 274h2v3h-2zM619 315h2v3h-2zM810 258h2v2h-2zM1010 82h2v2h-2zM326 117h3v3h-3zM454 378h2v1h-2zM849 298h3v3h-3zM307 353h2v2h-2zM457 121h2v2h-2zM827 271h1v3h-1zM463 292h2v3h-2zM701 106h2v2h-2zM1050 107h2v2h-2zM1128 124h1v3h-1zM766 164h2v2h-2zM604 372h2v2h-2zM457 191h3v2h-3zM725 374h2v2h-2zM651 233h1v2h-1zM957 133h2v1h-2zM926 85h3v1h-3zM825 150h2v2h-2zM730 449h1v2h-1zM525 315h3v1h-3zM480 133h1v3h-1zM763 408h1v1h-1zM1154 257h1v2h-1zM977 362h2v1h-2zM505 460h3v2h-3zM1136 174h3v1h-3zM323 196h3v3h-3zM758 126h3v2h-3zM961 453h2v3h-2zM787 265h1v2h-1zM907 258h3v3h-3zM299 198h3v1h-3zM632 271h1v1h-1zM340 361h3v1h-3zM666 297h3v1h-3zM382 207h2v1h-2zM631 436h2v3h-2zM391 163h2v2h-2zM1152 90h2v2h-2zM1021 350h3v2h-3zM717 415h1v1h-1zM928 97h2v1h-2zM928 87h2v3h-2zM797 347h3v3h-3zM663 92h2v3h-2zM331 236h2v2h-2zM1066 98h3v1h-3zM1064 153h1v3h-1zM721 176h1v2h-1zM664 386h1v2h-1zM769 330h1v2h-1zM964 256h2v3h-2zM648 262h2v2h-2zM930 171h3v2h-3zM1117 147h2v2h-2zM502 427h1v3h-1zM903 88h2v1h-2zM1009 240h2v2h-2zM903 381h3v2h-3zM892 224h2v3h-2zM578 429h3v2h-3zM404 222h2v2h-2zM1047 95h2v2h-2zM335 263h2v1h-2zM233 225h1v2h-1zM413 409h1v1h-1zM1066 236h1v2h-1zM1132 173h1v3h-1zM356 251h2v1h-2zM834 378h2v2h-2zM844 447h2v2h-2zM384 165h3v2h-3zM1087 283h3v2h-3zM662 266h2v2h-2zM305 437h3v2h-3zM1168 145h2v1h-2zM327 401h2v3h-2zM785 383h1v2h-1zM814 424h1v1h-1zM856 119h3v2h-3zM589 102h3v1h-3zM854 439h1v2h-1zM367 314h1v3h-1zM692 324h3v3h-3zM885 404h2v1h-2zM931 268h1v3h-1zM764 244h2v1h-2zM647 170h1v2h-1zM492 403h2v1h-2zM922 236h2v3h-2zM881 135h2v2h-2zM847 451h1v1h-1zM981 157h1v2h-1zM472 245h3v1h-3zM325 360h1v2h-1zM531 345h1v1h-1zM738 379h3v1h-3zM710 388h2v1h-2zM417 247h2v3h-2zM934 174h2v1h-2zM785 129h2v2h-2zM1083 166h2v2h-2zM1138 166h2v3h-2zM639 155h1v1h-1zM541 464h1v2h-1zM749 210h2v2h-2zM444 389h3v1h-3zM776 304h2v1h-2zM876 404h1v1h-1zM255 325h2v2h-2zM938 176h1v2h-1zM641 338h2v1h-2zM594 223h3v2h-3zM731 352h2v2h-2zM399 145h2v2h-2zM843 254h2v3h-2zM1061 179h2v1h-2zM317 437h2v2h-2zM402 102h2v3h-2zM676 236h1v1h-1zM1181 329h3v2h-3zM756 109h2v3h-2zM491 403h2v2h-2zM781 176h2v2h-2zM380 106h1v3h-1zM897 228h2v2h-2zM487 380h3v2h-3zM512 245h1v3h-1zM708 343h3v2h-3zM288 354h3v2h-3zM538 303h1v2h-1zM757 148h1v2h-1zM1069 344h3v2h-3zM242 90h1v1h-1zM242 353h2v3h-2zM770 106h2v1h-2zM479 433h2v2h-2zM702 276h3v3h-3zM840 113h2v2h-2zM738 211h1v3h-1zM824 117h1v3h-1zM992 96h2v2h-2zM767 242h1v2h-1zM1070 142h2v3h-2zM475 414h2v1h-2zM493 465h3v3h-3zM911 394h1v1h-1zM1207 303h3v1h-3zM1187 451h2v1h-2zM1176 140h3v1h-3zM277 243h2v3h-2zM911 202h1v3h-1zM1194 259h1v2h-1zM1038 335h1v2h-1zM387 333h1v1h-1zM484 365h2v3h-2zM912 212h2v2h-2zM1188 114h2v1h-2zM534 448h3v1h-3zM700 403h3v3h-3zM751 441h3v1h-3zM290 460h3v2h-3zM954 286h3v1h-3zM304 155h3v2h-3zM1101 181h2v2h-2zM500 146h1v1h-1zM750 282h2v2h-2zM420 389h3v3h-3zM390 328h2v3h-2zM792 468h2v2h-2zM549 286h1v3h-1zM727 227h1v2h-1zM799 373h3v2h-3zM276 106h3v2h-3zM443 268h2v2h-2zM944 316h2v2h-2zM462 119h1v1h-1zM1202 365h3v3h-3zM703 447h3v3h-3zM550 104h3v3h-3zM855 154h2v3h-2zM604 203h2v1h-2zM715 462h2v1h-2zM528 242h1v3h-1zM489 143h2v1h-2zM481 287h2v1h-2zM403 461h2v2h-2zM261 158h2v3h-2zM239 376h1v2h-1zM508 429h3v2h-3zM1100 421h2v3h-2zM937 113h1v3h-1zM661 147h2v1h-2zM1140 350h3v3h-3zM429 397h3v2h-3zM474 361h3v3h-3zM603 154h3v2h-3zM638 468h1v1h-1zM293 118h2v1h-2zM1101 278h2v1h-2zM318 266h2v3h-2zM925 421h2v3h-2zM930 416h1v3h-1zM512 201h2v1h-2zM886 161h1v3h-1zM281 113h1v3h-1zM954 85h2v2h-2zM788 461h1v2h-1zM284 468h1v2h-1zM1126 441h2v1h-2zM918 274h2v2h-2zM464 155h2v1h-2zM1054 154h2v1h-2zM903 107h1v2h-1zM801 165h2v1h-2zM430 113h1v3h-1zM241 188h2v1h-2zM535 267h3v3h-3zM703 383h2v3h-2zM1187 202h1v1h-1zM904 471h1v3h-1zM520 345h3v3h-3zM684 84h2v3h-2zM600 339h3v2h-3zM743 358h2v2h-2zM590 120h2v3h-2zM339 287h3v3h-3zM800 267h2v1h-2zM647 127h2v2h-2zM375 117h3v2h-3zM452 265h1v2h-1zM355 89h2v2h-2zM780 158h2v2h-2zM1065 107h1v1h-1zM970 227h2v1h-2zM690 404h2v3h-2zM438 131h1v3h-1zM672 408h2v2h-2zM670 178h3v2h-3zM1208 449h3v2h-3zM899 463h2v2h-2zM563 382h2v2h-2zM295 189h3v1h-3zM1029 135h2v2h-2zM286 295h3v3h-3zM256 434h2v3h-2zM1157 105h3v3h-3zM985 165h3v2h-3zM238 316h2v2h-2zM957 287h1v1h-1zM658 118h2v2h-2zM597 354h1v2h-1zM360 439h2v3h-2zM241 217h2v2h-2zM588 259h1v2h-1zM492 239h1v2h-1zM365 209h1v3h-1zM289 277h3v1h-3zM808 363h2v3h-2zM308 244h3v3h-3zM986 117h3v2h-3zM826 94h2v2h-2zM513 470h3v2h-3zM476 279h3v1h-3zM829 86h2v2h-2zM984 210h3v2h-3zM587 407h1v3h-1zM1163 417h2v2h-2zM239 265h2v3h-2zM355 236h2v3h-2zM287 212h2v2h-2zM878 297h2v1h-2zM795 354h1v3h-1zM526 438h2v2h-2zM459 305h2v2h-2zM1186 282h2v1h-2zM720 291h2v2h-2zM365 434h2v3h-2zM888 337h3v2h-3zM347 168h2v2h-2zM1113 349h2v3h-2zM406 219h2v3h-2zM956 438h2v3h-2zM408 191h3v3h-3zM967 373h3v1h-3zM1007 456h3v2h-3zM436 440h2v3h-2zM561 397h3v2h-3zM694 434h2v2h-2zM949 141h2v1h-2zM350 442h2v2h-2zM966 470h3v1h-3zM469 168h2v1h-2zM877 442h2v2h-2zM1038 227h2v2h-2zM1104 82h2v2h-2zM531 344h1v2h-1zM657 390h3v2h-3zM266 107h2v2h-2zM750 371h3v2h-3zM784 133h3v2h-3zM640 293h2v3h-2zM334 368h2v3h-2zM533 440h3v3h-3zM307 277h2v2h-2zM835 295h2v3h-2zM600 258h3v2h-3zM720 339h1v2h-1zM1022 213h1v2h-1zM1200 115h2v1h-2zM281 451h1v2h-1zM898 412h1v2h-1zM639 149h2v3h-2zM1079 125h2v2h-2zM377 212h2v2h-2zM923 140h2v3h-2zM480 206h1v2h-1zM510 404h2v1h-2zM471 198h3v2h-3zM846 444h2v1h-2zM511 390h1v1h-1zM342 165h3v2h-3zM783 231h3v2h-3zM1172 108h2v3h-2zM481 97h2v2h-2zM1077 289h2v2h-2zM581 299h2v2h-2zM1009 442h1v2h-1zM1193 253h1v2h-1zM344 377h3v2h-3zM1135 168h2v2h-2zM969 99h1v2h-1zM704 159h2v3h-2zM394 260h2v2h-2zM235 154h2v3h-2zM1190 273h1v2h-1zM586 153h2v2h-2zM664 374h3v2h-3zM862 325h2v2h-2zM627 288h1v2h-1zM675 266h3v2h-3zM994 279h2v2h-2zM485 245h2v1h-2zM713 348h3v1h-3zM317 259h2v2h-2zM668 326h2v3h-2zM694 441h1v2h-1zM696 258h3v1h-3zM544 228h3v2h-3zM329 465h3v1h-3zM963 109h2v1h-2zM447 117h3v3h-3zM751 143h1v2h-1zM428 92h2v1h-2zM938 459h3v3h-3zM984 98h2v2h-2zM1083 366h1v2h-1zM277 210h1v2h-1zM997 297h2v3h-2zM483 115h1v2h-1zM490 124h1v1h-1zM670 93h1v1h-1zM1004 164h2v2h-2zM1091 96h3v2h-3zM1181 100h2v2h-2zM1121 223h3v2h-3zM758 268h2v2h-2zM602 308h2v3h-2zM236 257h2v2h-2zM889 156h2v2h-2zM541 138h3v2h-3zM450 464h2v1h-2zM532 95h3v1h-3zM935 192h3v3h-3zM1128 100h3v1h-3zM700 401h2v3h-2zM796 261h2v2h-2zM1163 197h2v3h-2zM683 410h2v2h-2zM1047 89h2v2h-2zM883 373h3v2h-3zM917 264h1v3h-1zM511 82h1v2h-1zM1179 148h1v2h-1zM845 426h2v3h-2zM375 288h2v3h-2zM1140 227h2v2h-2zM404 423h1v3h-1zM1085 188h3v1h-3zM875 241h1v2h-1zM1025 121h3v1h-3zM1138 86h2v1h-2zM427 169h3v2h-3zM567 229h3v2h-3zM605 465h1v2h-1zM453 386h3v3h-3zM242 229h2v2h-2zM299 253h3v3h-3zM911 215h3v2h-3zM897 225h2v3h-2zM1192 126h3v1h-3zM1097 177h2v3h-2zM777 380h3v2h-3zM464 127h3v1h-3zM537 310h2v2h-2zM304 127h1v3h-1zM712 165h3v1h-3zM1122 458h2v2h-2zM653 121h2v1h-2zM804 385h3v1h-3zM351 224h2v3h-2zM871 241h2v2h-2zM893 124h3v2h-3zM1007 355h2v3h-2zM1162 175h1v2h-1zM265 239h1v1h-1zM1039 133h2v2h-2zM915 431h3v3h-3zM641 407h2v1h-2zM734 85h2v2h-2zM998 168h2v1h-2zM551 275h1v1h-1zM813 121h1v2h-1zM285 393h1v2h-1zM779 183h1v2h-1zM967 404h2v2h-2zM1063 382h3v3h-3zM763 401h2v2h-2zM572 293h2v1h-2zM277 279h2v2h-2zM398 83h1v2h-1zM767 394h2v2h-2zM539 221h2v2h-2zM624 259h2v1h-2zM718 466h2v2h-2zM491 142h2v2h-2zM566 165h1v1h-1zM989 86h1v2h-1zM819 259h3v1h-3zM516 389h1v1h-1zM799 120h2v2h-2zM945 267h2v3h-2zM424 271h2v2h-2zM366 310h1v1h-1zM296 213h2v2h-2zM311 225h1v2h-1zM1177 339h3v2h-3zM363 437h3v1h-3zM481 265h1v1h-1zM320 194h1v2h-1zM1103 176h1v3h-1zM557 152h3v2h-3zM334 184h1v1h-1zM993 444h3v2h-3zM1143 201h2v2h-2zM621 141h2v1h-2zM941 375h2v3h-2zM250 82h2v1h-2zM741 334h1v3h-1zM442 121h1v3h-1zM845 385h3v2h-3zM419 122h2v2h-2zM1080 154h3v2h-3zM452 296h1v2h-1zM847 231h1v3h-1zM513 354h1v1h-1zM461 249h1v3h-1zM910 397h2v1h-2zM1023 269h2v1h-2zM792 349h1v2h-1zM336 463h3v3h-3zM573 390h2v3h-2zM622 265h2v2h-2zM744 323h2v2h-2zM985 435h2v3h-2zM582 466h2v1h-2zM544 459h2v2h-2zM620 203h1v2h-1zM342 173h1v2h-1zM580 274h2v2h-2zM338 403h2v2h-2zM1131 197h3v2h-3zM233 180h2v1h-2zM1185 89h3v2h-3zM423 373h1v1h-1zM807 280h2v1h-2zM439 453h1v2h-1zM276 386h2v2h-2zM268 227h1v2h-1zM747 115h1v2h-1zM777 156h1v2h-1zM281 364h2v2h-2zM684 224h2v1h-2zM409 244h2v1h-2zM437 230h1v2h-1zM450 411h1v3h-1zM287 388h2v1h-2zM646 452h3v1h-3zM978 433h2v2h-2zM1114 133h3v2h-3zM1196 179h1v3h-1zM1139 148h2v1h-2zM408 400h3v1h-3zM410 176h1v1h-1zM934 113h2v2h-2zM604 132h2v1h-2zM508 404h2v3h-2zM935 168h1v1h-1zM373 429h2v2h-2zM1079 359h1v2h-1zM428 254h1v2h-1zM577 258h2v3h-2zM564 276h2v1h-2zM622 461h1v3h-1zM1130 307h3v3h-3zM409 253h2v2h-2zM460 87h3v2h-3zM578 109h2v2h-2zM907 346h1v2h-1zM1173 454h2v2h-2zM311 148h3v1h-3zM686 106h3v2h-3zM693 330h2v1h-2zM1147 151h2v3h-2zM592 407h1v3h-1zM503 439h2v2h-2zM665 327h1v3h-1zM1095 91h3v2h-3zM716 104h3v1h-3zM557 136h3v1h-3zM475 290h1v1h-1zM776 296h1v2h-1zM923 354h1v1h-1zM594 445h2v1h-2zM1001 140h1v1h-1zM1209 260h2v2h-2zM568 250h2v2h-2zM1166 177h1v1h-1zM702 407h2v2h-2zM714 462h1v3h-1zM386 261h3v2h-3zM615 138h2v1h-2zM675 317h2v1h-2zM1102 225h2v2h-2zM300 423h2v2h-2zM923 281h3v1h-3zM299 333h2v2h-2zM727 385h1v1h-1zM461 375h2v2h-2zM588 227h3v1h-3zM749 125h2v1h-2zM494 360h1v2h-1zM1079 255h2v3h-2zM735 292h1v2h-1zM1208 139h1v2h-1zM501 126h1v2h-1zM994 396h3v3h-3zM245 427h3v2h-3zM340 384h2v3h-2zM678 211h1v2h-1zM918 459h3v2h-3zM919 169h3v2h-3zM585 174h1v3h-1zM359 290h2v2h-2zM1163 208h2v2h-2zM898 160h3v3h-3zM740 348h3v3h-3zM711 406h3v2h-3zM514 114h2v2h-2zM423 432h2v1h-2zM368 461h2v3h-2zM1088 440h2v2h-2zM356 233h2v1h-2zM436 256h2v2h-2zM477 395h3v2h-3zM382 119h3v3h-3zM865 454h1v2h-1zM824 467h2v2h-2zM709 373h2v2h-2zM1052 179h3v2h-3zM234 214h1v2h-1zM896 457h1v3h-1zM632 183h1v2h-1zM423 236h1v2h-1zM1054 359h2v2h-2zM891 147h3v1h-3zM1151 109h2v2h-2zM964 132h2v2h-2zM807 301h1v2h-1zM1154 273h3v2h-3zM1046 470h2v3h-2zM551 455h1v2h-1zM525 102h1v2h-1zM789 211h2v2h-2zM344 355h3v2h-3zM821 214h2v1h-2zM758 309h2v1h-2zM479 435h1v2h-1zM1201 409h3v1h-3zM410 228h2v1h-2zM372 414h3v1h-3zM585 359h2v1h-2zM342 197h3v3h-3zM288 139h2v2h-2zM655 116h2v2h-2zM1114 354h2v3h-2zM762 314h3v3h-3zM877 360h1v2h-1zM837 89h3v2h-3zM349 106h2v2h-2zM363 159h2v2h-2zM600 258h2v3h-2zM398 236h1v2h-1zM922 232h2v2h-2zM741 376h2v1h-2zM667 301h3v3h-3zM796 368h1v2h-1zM510 373h2v1h-2zM587 387h1v2h-1zM1005 460h3v1h-3zM616 449h2v2h-2zM818 112h3v3h-3zM744 226h3v3h-3zM518 420h2v3h-2zM328 313h1v2h-1zM938 290h3v2h-3zM318 443h2v3h-2zM1206 258h1v1h-1zM406 254h1v2h-1zM469 280h2v1h-2zM552 442h2v2h-2zM800 334h1v2h-1zM1208 441h2v2h-2zM235 144h2v3h-2zM817 458h2v1h-2zM491 247h1v2h-1zM466 440h2v1h-2zM563 347h2v2h-2zM677 386h1v2h-1zM1193 223h2v1h-2zM883 236h2v2h-2zM567 293h3v2h-3zM362 439h3v1h-3zM561 469h2v3h-2zM428 264h3v1h-3zM937 136h2v3h-2zM300 183h2v2h-2zM908 329h1v3h-1zM887 236h3v2h-3zM697 182h1v1h-1zM545 315h2v1h-2zM887 279h1v2h-1zM528 154h3v1h-3zM244 118h2v2h-2zM697 318h1v2h-1zM681 231h3v3h-3zM585 295h2v3h-2zM260 129h1v2h-1zM1179 408h2v3h-2zM438 400h3v1h-3zM1052 103h3v3h-3zM404 296h2v1h-2zM514 323h2v2h-2zM1050 379h2v2h-2zM1031 117h1v2h-1zM900 390h3v1h-3zM698 449h1v3h-1zM775 454h3v1h-3zM838 93h2v2h-2zM1040 216h2v2h-2zM510 289h2v3h-2zM1055 438h3v1h-3zM258 459h2v2h-2zM1114 312h2v2h-2zM233 332h2v2h-2zM731 84h2v3h-2zM491 174h2v3h-2zM883 383h1v3h-1zM900 278h2v2h-2zM795 214h2v3h-2zM1002 423h3v1h-3zM911 466h2v3h-2zM615 299h1v1h-1zM280 261h2v2h-2zM913 195h2v3h-2zM608 190h3v2h-3zM949 88h2v1h-2zM635 130h3v2h-3zM365 136h2v2h-2zM1179 253h2v2h-2zM771 443h2v2h-2zM441 458h3v2h-3zM954 437h1v1h-1zM636 104h1v2h-1zM556 364h2v1h-2zM534 143h3v2h-3zM1124 94h2v2h-2zM946 454h3v3h-3zM1005 440h3v1h-3zM621 434h1v2h-1zM820 374h3v2h-3zM477 335h2v2h-2zM748 239h1v1h-1zM868 396h1v2h-1zM503 119h1v3h-1zM1129 252h3v1h-3zM950 247h2v3h-2zM941 318h2v1h-2zM761 348h2v2h-2zM302 206h3v3h-3zM956 289h3v2h-3zM556 262h2v2h-2zM284 259h2v3h-2zM362 222h1v2h-1zM767 420h1v2h-1zM427 466h2v2h-2zM729 265h3v3h-3zM457 237h2v3h-2zM1165 134h2v2h-2zM407 335h2v2h-2zM1020 112h2v2h-2zM303 126h1v2h-1zM445 323h2v1h-2zM803 109h2v1h-2zM1171 444h2v3h-2zM831 364h2v3h-2zM718 203h3v1h-3zM915 301h2v2h-2zM545 182h2v2h-2zM757 120h2v1h-2zM637 234h2v3h-2zM736 366h1v3h-1zM489 181h3v2h-3zM421 415h2v2h-2zM624 258h2v2h-2zM1128 162h2v2h-2zM906 431h2v3h-2zM987 219h2v1h-2zM812 315h1v1h-1zM853 423h2v1h-2zM1163 130h3v2h-3zM703 163h3v1h-3zM687 412h1v1h-1zM1205 420h2v1h-2zM645 421h2v2h-2zM258 455h3v3h-3zM315 452h3v3h-3zM1057 461h2v1h-2zM480 451h3v3h-3zM539 204h3v3h-3zM240 151h2v3h-2zM281 439h3v3h-3zM238 191h2v3h-2zM653 245h2v1h-2zM940 446h1v2h-1zM651 312h2v1h-2zM301 380h1v1h-1zM258 346h2v3h-2zM508 155h2v3h-2zM283 378h2v2h-2zM963 454h3v2h-3zM1191 340h1v3h-1zM648 470h2v2h-2zM616 307h2v3h-2zM372 251h2v3h-2zM1140 152h2v3h-2zM578 468h2v2h-2zM766 278h3v3h-3zM889 453h2v2h-2zM1029 101h2v2h-2zM575 362h1v2h-1zM1120 302h2v2h-2zM452 454h2v3h-2zM999 132h3v3h-3zM512 330h2v2h-2zM462 397h3v1h-3zM365 209h2v2h-2zM429 188h2v3h-2zM576 338h2v2h-2zM779 303h2v3h-2zM507 437h2v2h-2zM980 403h1v3h-1zM717 323h2v1h-2zM266 349h2v1h-2zM1109 334h1v2h-1zM1144 184h1v2h-1zM1089 451h1v2h-1zM766 232h3v1h-3zM725 147h1v2h-1zM316 361h2v2h-2zM1117 241h2v2h-2zM309 353h2v3h-2zM433 267h1v2h-1zM587 374h1v2h-1zM963 356h2v1h-2zM682 125h1v2h-1zM436 353h3v3h-3zM981 115h1v2h-1zM748 281h1v2h-1zM1156 416h1v1h-1zM695 155h3v1h-3zM299 188h2v3h-2zM265 290h3v2h-3zM688 375h1v1h-1zM417 102h3v2h-3zM893 396h2v2h-2zM928 142h3v2h-3zM369 263h3v3h-3zM414 90h3v2h-3zM269 279h1v3h-1zM643 124h1v2h-1zM1123 314h1v2h-1zM804 145h2v3h-2zM282 470h3v1h-3zM562 170h2v3h-2zM835 279h2v2h-2zM1128 446h3v2h-3zM787 448h3v3h-3zM850 116h3v1h-3zM947 171h2v2h-2zM554 274h2v2h-2zM742 169h1v3h-1zM761 83h2v2h-2zM714 333h3v2h-3zM1115 385h1v2h-1zM1025 185h1v2h-1zM585 299h2v1h-2zM394 440h2v2h-2zM437 273h2v2h-2zM395 142h1v3h-1zM1125 91h2v2h-2zM516 243h3v2h-3zM596 379h2v2h-2zM1145 364h2v2h-2zM1095 393h2v2h-2zM387 292h2v1h-2zM831 226h3v1h-3zM893 331h2v2h-2zM945 365h3v1h-3zM345 264h3v1h-3zM886 84h2v3h-2zM733 178h1v2h-1zM534 345h3v1h-3zM521 87h3v2h-3zM417 171h2v1h-2zM775 173h2v2h-2zM1052 332h3v2h-3zM513 456h3v2h-3zM580 92h2v2h-2zM741 280h2v2h-2zM616 290h1v2h-1zM489 225h1v3h-1zM886 427h3v1h-3zM1052 140h1v2h-1zM988 221h2v2h-2zM1008 442h1v2h-1zM672 393h2v3h-2zM942 260h2v2h-2zM424 455h2v1h-2zM877 208h1v2h-1zM1092 195h2v1h-2zM556 392h3v2h-3zM693 362h2v2h-2zM702 150h1v2h-1zM779 466h3v2h-3zM928 409h2v2h-2zM1083 115h2v2h-2zM981 167h2v2h-2zM528 153h1v2h-1zM536 318h2v2h-2zM452 303h2v3h-2zM727 246h1v1h-1zM255 89h1v2h-1zM867 96h2v1h-2zM232 356h1v3h-1zM814 219h2v3h-2zM375 416h1v1h-1zM664 442h2v2h-2zM683 133h2v2h-2zM313 432h2v1h-2zM1030 101h2v3h-2zM1047 193h1v1h-1zM997 185h1v1h-1zM780 298h1v1h-1zM852 233h3v2h-3zM519 343h1v2h-1zM917 162h2v1h-2zM698 444h2v3h-2zM689 326h2v3h-2zM860 201h3v2h-3zM579 380h2v3h-2zM723 418h3v1h-3zM404 453h2v1h-2zM507 434h2v2h-2zM1131 148h2v2h-2zM542 168h2v1h-2zM367 256h3v2h-3zM506 469h3v2h-3zM351 412h2v2h-2zM538 196h3v2h-3zM567 198h1v2h-1zM335 157h1v2h-1zM405 137h1v2h-1zM1083 174h3v2h-3zM778 91h2v2h-2zM1009 369h2v2h-2zM319 316h1v3h-1zM684 257h3v2h-3zM1208 423h3v2h-3zM901 265h2v2h-2zM704 232h2v1h-2zM997 117h3v3h-3zM1104 217h3v1h-3zM900 402h2v2h-2zM260 444h3v3h-3zM340 298h1v2h-1zM779 85h2v3h-2zM659 345h2v2h-2zM615 430h2v2h-2zM1044 276h3v2h-3zM523 221h2v3h-2zM1142 332h3v2h-3zM602 306h3v2h-3zM896 119h2v1h-2zM539 160h3v2h-3zM854 117h2v1h-2zM718 213h1v2h-1zM292 278h2v2h-2zM292 355h2v2h-2zM1150 376h2v3h-2zM689 126h2v2h-2zM540 418h2v2h-2zM614 104h3v2h-3zM271 135h3v3h-3zM861 159h2v2h-2zM915 347h1v2h-1zM678 175h1v1h-1zM779 449h2v1h-2zM1126 225h1v2h-1zM512 136h1v1h-1zM263 276h2v2h-2zM555 126h1v3h-1zM731 197h3v2h-3zM889 161h1v2h-1zM271 196h3v2h-3zM922 158h3v2h-3zM1013 271h1v2h-1zM731 149h2v1h-2zM646 246h2v2h-2zM1201 447h2v3h-2zM840 329h1v2h-1zM630 129h3v3h-3zM945 141h1v2h-1zM948 355h2v2h-2zM636 462h2v2h-2zM1176 82h1v1h-1zM534 99h2v2h-2zM609 316h2v1h-2zM779 352h2v2h-2zM485 258h3v2h-3zM851 270h3v2h-3zM282 192h1v2h-1zM416 253h2v2h-2zM836 150h3v3h-3zM982 82h2v3h-2zM1173 274h2v1h-2zM376 172h2v1h-2zM708 462h2v2h-2zM989 99h2v2h-2zM964 421h3v2h-3zM889 205h2v3h-2zM397 376h2v1h-2zM390 333h3v3h-3zM484 265h2v2h-2zM696 451h3v2h-3zM616 232h1v2h-1zM570 459h2v1h-2zM311 88h1v2h-1zM854 111h2v2h-2zM500 469h1v2h-1zM261 436h3v3h-3zM967 226h2v2h-2zM942 364h2v1h-2zM687 341h2v2h-2zM823 133h2v2h-2zM684 467h3v2h-3zM1131 190h2v3h-2zM709 353h2v1h-2zM962 402h1v2h-1zM771 156h1v1h-1zM773 315h2v3h-2zM292 285h2v3h-2zM436 385h2v1h-2zM824 233h1v3h-1zM1169 206h2v2h-2zM466 463h2v3h-2zM488 177h1v3h-1zM693 378h1v1h-1zM502 340h2v2h-2zM851 287h2v2h-2zM308 128h3v3h-3zM592 85h1v1h-1zM824 420h2v1h-2zM602 337h3v3h-3zM804 339h3v2h-3zM372 264h2v1h-2zM336 88h1v1h-1zM267 150h2v2h-2zM833 155h2v2h-2zM1120 443h2v2h-2zM888 160h2v3h-2zM841 271h3v3h-3zM748 119h1v2h-1zM1068 250h3v2h-3zM1051 205h3v1h-3zM391 429h2v1h-2zM677 292h2v3h-2zM377 183h1v2h-1zM961 277h1v1h-1zM945 99h3v2h-3zM246 264h2v1h-2zM339 246h1v2h-1zM478 369h1v2h-1zM1077 149h3v2h-3zM680 352h2v2h-2zM302 314h1v1h-1zM503 95h2v3h-2zM635 182h2v1h-2zM676 279h1v2h-1zM948 385h3v2h-3zM397 300h1v1h-1zM1072 132h2v1h-2zM989 89h2v3h-2zM477 120h2v1h-2zM956 141h2v3h-2zM523 108h1v1h-1zM677 105h2v2h-2zM576 257h2v2h-2zM301 408h1v2h-1zM889 237h2v3h-2zM524 355h3v1h-3zM1042 134h2v2h-2zM306 223h3v1h-3zM497 111h2v2h-2zM966 440h2v2h-2zM866 295h3v3h-3zM1031 221h2v2h-2zM738 163h2v2h-2zM507 470h1v2h-1zM312 295h2v3h-2zM1053 87h2v3h-2zM730 127h2v2h-2zM955 309h1v3h-1zM1165 281h2v1h-2zM616 160h2v2h-2zM366 101h3v3h-3zM367 262h1v1h-1zM389 411h1v3h-1zM489 160h3v3h-3zM545 399h2v2h-2zM393 408h2v2h-2zM625 169h3v3h-3zM1162 319h2v3h-2zM730 356h2v2h-2zM871 367h1v2h-1zM317 111h2v2h-2zM252 304h2v3h-2zM479 275h2v3h-2zM432 122h2v2h-2zM538 143h2v2h-2zM968 206h1v2h-1zM616 188h3v2h-3zM344 190h2v2h-2zM506 461h3v2h-3zM737 227h2v2h-2zM1148 387h3v1h-3zM714 404h2v2h-2zM798 114h2v2h-2zM326 411h3v3h-3zM1145 357h3v3h-3zM585 104h2v3h-2zM536 115h3v2h-3zM919 355h1v2h-1zM506 281h1v2h-1zM587 184h2v2h-2zM607 188h2v2h-2zM672 438h2v3h-2zM242 291h2v2h-2zM947 186h2v1h-2zM305 356h2v3h-2zM470 147h2v2h-2zM574 157h3v2h-3zM789 165h2v3h-2zM438 88h2v2h-2zM1038 390h1v2h-1zM539 382h1v2h-1zM403 376h3v3h-3zM855 377h2v1h-2zM940 187h2v1h-2zM1030 333h1v1h-1zM988 194h3v1h-3zM311 135h3v3h-3zM585 325h2v3h-2zM1112 112h1v2h-1zM990 397h2v2h-2zM421 328h2v2h-2zM402 269h2v1h-2zM1007 460h2v2h-2zM404 144h2v3h-2zM464 349h2v1h-2zM1013 168h2v1h-2zM852 173h2v2h-2zM703 285h3v3h-3zM1031 231h3v3h-3zM634 234h1v3h-1zM725 218h1v1h-1zM583 275h2v3h-2zM1160 396h2v1h-2zM1083 178h1v2h-1zM312 433h3v1h-3zM1108 146h3v2h-3zM394 246h1v2h-1zM731 231h3v3h-3zM501 302h2v2h-2zM813 167h2v3h-2zM839 212h2v2h-2zM446 195h3v3h-3zM450 107h2v3h-2zM668 443h2v3h-2zM970 174h3v3h-3zM370 335h2v3h-2zM471 128h2v2h-2zM410 255h2v2h-2zM525 209h2v3h-2zM1091 397h1v2h-1zM832 265h3v3h-3zM919 158h3v2h-3zM924 299h2v2h-2zM494 463h2v2h-2zM1087 307h1v3h-1zM480 163h1v1h-1zM1116 299h2v2h-2zM316 203h2v2h-2zM434 291h3v2h-3zM860 201h2v2h-2zM378 452h1v3h-1zM934 301h3v2h-3zM337 362h3v2h-3zM361 393h2v2h-2zM477 325h2v2h-2zM950 133h2v1h-2zM441 259h3v2h-3zM661 341h1v2h-1zM566 246h1v2h-1zM282 199h2v1h-2zM844 215h3v2h-3zM566 280h3v3h-3zM579 408h1v2h-1zM1057 419h1v2h-1zM344 248h2v1h-2zM872 244h2v1h-2zM1137 229h2v2h-2zM579 461h2v3h-2zM929 172h3v2h-3zM1197 88h2v1h-2zM566 127h2v2h-2zM673 289h1v3h-1zM394 419h2v3h-2zM916 354h3v2h-3zM922 149h1v2h-1zM790 449h2v3h-2zM787 272h3v2h-3zM829 437h2v3h-2zM574 115h2v2h-2zM923 126h3v3h-3zM741 421h3v1h-3zM1004 248h3v3h-3zM1029 380h3v2h-3zM242 229h2v3h-2zM266 92h1v2h-1zM736 143h1v2h-1zM780 377h2v3h-2zM719 251h2v2h-2zM1177 423h2v1h-2zM883 171h3v2h-3zM309 333h2v3h-2zM585 164h1v3h-1zM446 277h2v2h-2zM992 89h1v2h-1zM821 160h2v1h-2zM905 394h1v2h-1zM383 243h2v1h-2zM877 295h3v2h-3zM272 127h2v2h-2zM562 327h1v2h-1zM657 306h3v3h-3zM1119 218h1v3h-1zM772 223h3v1h-3zM906 361h3v2h-3zM770 251h2v1h-2zM1116 369h2v3h-2zM1033 134h1v2h-1zM367 322h1v2h-1zM645 170h1v3h-1zM569 319h3v3h-3zM915 205h1v2h-1zM1170 303h2v2h-2zM880 351h2v1h-2zM605 260h2v2h-2zM303 216h1v3h-1zM787 297h2v1h-2zM232 276h3v3h-3zM1134 284h2v2h-2zM313 233h2v2h-2zM844 301h2v2h-2zM604 405h2v2h-2zM921 440h1v3h-1zM1086 143h2v2h-2zM586 440h3v3h-3zM370 432h2v2h-2zM713 270h3v2h-3zM463 266h1v2h-1zM464 461h2v3h-2zM612 247h2v2h-2zM674 242h2v2h-2zM891 200h1v1h-1zM710 117h2v2h-2zM469 165h3v2h-3zM874 287h2v2h-2zM446 406h1v3h-1zM921 145h3v2h-3zM268 364h3v2h-3zM374 83h1v2h-1zM481 303h1v2h-1zM467 149h2v2h-2zM880 387h2v2h-2zM1003 318h2v3h-2zM795 236h3v2h-3zM496 230h2v3h-2zM532 295h1v2h-1zM816 308h1v1h-1zM503 244h2v3h-2zM910 261h3v2h-3zM398 444h3v1h-3zM868 440h2v2h-2zM518 289h3v2h-3zM312 152h2v3h-2zM1156 143h1v2h-1zM452 318h3v2h-3zM899 318h2v2h-2zM998 234h2v2h-2zM1183 273h2v1h-2zM875 394h2v1h-2zM348 209h1v3h-1zM806 399h2v2h-2zM983 333h3v1h-3zM448 267h1v2h-1zM844 209h3v1h-3zM235 85h2v2h-2zM1086 357h2v1h-2zM316 205h1v2h-1zM1056 414h2v3h-2zM1115 222h2v3h-2zM864 240h1v2h-1zM736 176h2v2h-2zM518 389h2v3h-2zM944 393h2v2h-2zM1059 439h2v2h-2zM555 117h2v1h-2zM761 385h2v2h-2zM655 437h2v2h-2zM289 322h1v3h-1zM909 279h3v3h-3zM1155 322h3v3h-3zM461 412h2v2h-2zM511 421h3v1h-3zM751 123h3v2h-3zM471 239h3v1h-3zM1001 320h1v2h-1zM598 136h3v2h-3zM671 274h2v3h-2zM566 188h1v2h-1zM441 330h2v2h-2zM478 133h2v1h-2zM344 269h1v2h-1zM786 445h2v2h-2zM700 129h2v2h-2zM576 88h1v2h-1zM920 197h2v3h-2zM906 279h2v3h-2zM608 228h2v2h-2zM397 388h2v3h-2zM578 446h2v2h-2zM489 142h2v3h-2zM444 177h1v2h-1zM1011 247h2v2h-2zM712 457h1v2h-1zM921 199h2v3h-2zM252 273h2v2h-2zM389 263h2v1h-2zM330 281h2v2h-2zM1197 93h2v2h-2zM1210 185h2v3h-2zM1003 300h1v3h-1zM536 178h2v3h-2zM567 230h2v3h-2zM391 244h1v3h-1zM829 468h1v2h-1zM1128 165h1v2h-1zM905 189h1v2h-1zM493 456h2v3h-2zM745 232h3v3h-3zM298 370h2v2h-2zM775 92h1v2h-1zM1151 256h1v2h-1zM973 148h3v2h-3zM512 201h2v1h-2zM1201 363h2v1h-2zM545 128h1v2h-1zM886 257h1v1h-1zM1106 267h1v2h-1zM280 408h1v2h-1zM996 336h2v2h-2zM275 237h3v2h-3zM715 343h3v2h-3zM817 430h2v2h-2zM754 325h2v2h-2zM881 118h2v3h-2zM562 285h2v1h-2zM437 104h1v3h-1zM541 302h1v1h-1zM917 301h2v2h-2zM748 170h1v2h-1zM859 170h3v2h-3zM804 192h3v2h-3zM613 432h2v3h-2zM604 165h2v2h-2zM620 150h2v3h-2zM685 183h1v2h-1zM712 441h2v2h-2zM423 195h2v3h-2zM452 308h2v2h-2zM1075 143h3v3h-3zM330 229h2v2h-2zM693 350h1v3h-1zM726 279h3v2h-3zM889 160h2v2h-2zM640 114h3v3h-3zM864 186h1v3h-1zM894 182h3v2h-3zM733 467h1v2h-1zM793 352h3v1h-3zM1087 221h2v2h-2zM442 358h1v2h-1zM980 180h2v1h-2zM466 465h2v1h-2zM865 102h1v2h-1zM1057 186h1v2h-1zM652 424h1v1h-1zM928 240h2v1h-2zM1139 95h2v2h-2zM928 377h3v2h-3zM749 128h2v1h-2zM1114 185h1v2h-1zM811 271h2v2h-2zM691 362h2v2h-2zM872 138h1v3h-1zM493 362h2v3h-2zM1199 148h1v2h-1zM1184 285h2v1h-2zM267 274h3v3h-3zM1090 132h1v3h-1zM424 242h2v1h-2zM958 272h1v3h-1zM874 312h3v2h-3zM1038 189h3v2h-3zM445 319h3v3h-3zM610 279h2v3h-2zM1193 435h1v3h-1zM994 441h1v1h-1zM1185 242h1v2h-1zM891 268h1v3h-1zM1034 202h3v3h-3zM797 293h1v1h-1zM580 234h3v2h-3zM382 95h2v2h-2zM813 82h2v3h-2zM554 264h3v3h-3zM567 142h3v2h-3zM835 122h2v3h-2zM944 216h3v2h-3zM379 414h3v1h-3zM707 203h3v2h-3zM467 429h2v1h-2zM520 138h1v2h-1zM804 259h1v1h-1zM799 219h3v3h-3zM783 339h2v3h-2zM1149 151h2v1h-2zM1051 115h3v3h-3zM260 467h2v2h-2zM740 338h1v3h-1zM521 456h2v3h-2zM832 111h3v3h-3zM855 166h1v1h-1zM1091 193h2v2h-2zM905 271h2v1h-2zM758 361h3v2h-3zM878 248h1v2h-1zM1041 318h1v3h-1zM1166 171h1v3h-1zM306 192h1v2h-1zM770 189h3v2h-3zM1052 210h3v2h-3zM333 470h1v3h-1zM512 329h2v2h-2zM484 363h1v2h-1zM799 137h2v2h-2zM1077 433h3v3h-3zM817 391h2v2h-2zM563 130h2v2h-2zM774 438h1v1h-1zM772 297h3v1h-3zM813 294h3v3h-3zM413 218h3v2h-3zM1172 174h2v2h-2zM501 212h2v3h-2zM451 290h3v2h-3zM331 353h2v1h-2zM521 315h3v2h-3zM960 333h3v2h-3zM853 82h2v2h-2zM959 452h2v3h-2zM821 217h3v3h-3zM563 331h2v1h-2zM1111 442h3v2h-3zM698 134h1v2h-1zM1178 225h1v3h-1zM425 236h2v2h-2zM664 205h2v3h-2zM410 96h3v3h-3zM888 187h2v2h-2zM900 288h2v1h-2zM1032 134h3v2h-3zM522 308h1v2h-1zM527 352h2v3h-2zM911 271h1v3h-1zM259 340h1v2h-1zM642 351h1v2h-1zM416 126h3v2h-3zM456 352h3v1h-3zM899 161h3v2h-3zM435 339h2v3h-2zM512 194h1v2h-1zM1062 272h3v1h-3zM473 87h3v3h-3zM700 354h1v1h-1zM992 393h2v2h-2zM852 137h1v2h-1zM323 244h3v3h-3zM1079 270h2v2h-2zM808 431h2v2h-2zM618 155h2v1h-2zM398 201h2v1h-2zM933 376h1v2h-1zM488 265h3v1h-3zM552 211h2v2h-2zM1091 181h3v2h-3zM717 274h2v1h-2zM552 384h2v2h-2zM257 437h3v3h-3zM297 142h2v2h-2zM1060 235h1v2h-1zM1016 123h1v2h-1zM476 109h2v1h-2zM479 430h2v2h-2zM482 287h2v1h-2zM936 230h1v2h-1zM599 458h3v1h-3zM1120 398h3v2h-3zM445 451h1v3h-1zM870 461h2v1h-2zM608 290h2v2h-2zM1124 417h1v1h-1zM1020 192h1v3h-1zM548 102h2v2h-2zM1148 418h1v2h-1zM284 105h1v2h-1zM1165 195h1v2h-1zM1068 104h2v2h-2zM940 362h2v3h-2zM420 384h3v3h-3zM934 370h2v2h-2zM390 268h2v2h-2zM487 387h1v2h-1zM573 407h2v1h-2zM778 129h3v3h-3zM482 167h2v2h-2zM762 163h2v2h-2zM290 372h3v2h-3zM643 459h2v1h-2zM259 241h2v1h-2zM837 93h3v1h-3zM909 208h2v1h-2zM1173 331h2v1h-2zM334 140h2v2h-2zM696 95h3v2h-3zM1115 210h2v2h-2zM319 324h3v2h-3zM1057 262h1v3h-1zM1007 305h2v3h-2zM339 360h1v1h-1zM510 462h1v2h-1zM811 326h3v2h-3zM825 366h1v2h-1zM624 385h1v1h-1zM656 181h1v2h-1zM1146 466h2v3h-2zM1196 166h2v1h-2zM317 108h2v2h-2zM1107 215h2v1h-2zM301 101h2v2h-2zM669 339h2v3h-2zM730 419h2v1h-2zM782 243h2v2h-2zM658 358h2v1h-2zM803 176h1v2h-1zM1044 204h1v3h-1zM857 205h2v1h-2zM236 259h2v3h-2zM910 140h2v2h-2zM1108 463h2v1h-2zM842 153h3v1h-3zM787 211h2v2h-2zM558 467h1v3h-1zM651 270h2v2h-2zM901 234h2v1h-2zM989 458h2v2h-2zM691 232h1v2h-1zM422 106h2v2h-2zM1170 172h2v1h-2zM429 447h3v3h-3zM470 396h2v1h-2zM990 274h3v1h-3zM709 254h1v2h-1zM1037 183h1v2h-1zM476 380h2v1h-2zM667 116h3v2h-3zM342 386h3v3h-3zM345 403h2v2h-2zM555 90h1v2h-1zM519 319h1v2h-1zM524 113h1v1h-1zM961 119h2v2h-2zM1128 145h3v2h-3zM1139 229h1v2h-1zM429 416h3v2h-3zM693 243h2v3h-2zM978 113h2v1h-2zM923 388h3v2h-3zM534 333h2v2h-2zM615 158h1v2h-1zM283 153h2v2h-2zM1004 194h2v2h-2zM598 210h1v1h-1zM545 144h3v3h-3zM422 211h3v1h-3zM501 166h3v2h-3zM818 254h2v2h-2zM735 399h3v2h-3zM956 242h2v1h-2zM1182 437h2v2h-2zM295 94h1v2h-1zM262 424h3v2h-3zM258 340h1v2h-1zM424 387h2v2h-2zM1158 175h2v3h-2zM363 427h2v2h-2zM849 259h2v2h-2zM424 465h3v3h-3zM616 319h2v1h-2zM299 241h2v1h-2zM990 94h2v2h-2zM1046 154h3v1h-3zM1208 127h2v2h-2zM772 197h2v3h-2zM775 208h2v3h-2zM616 245h2v2h-2zM1184 87h1v2h-1zM1138 228h2v3h-2zM771 317h2v2h-2zM489 98h1v2h-1zM709 425h2v3h-2zM872 401h3v2h-3zM255 179h2v1h-2zM543 304h1v2h-1zM898 240h3v1h-3zM1046 117h2v2h-2zM964 138h3v2h-3zM454 389h3v1h-3zM937 273h2v2h-2zM834 138h2v2h-2zM571 356h1v2h-1zM302 141h2v2h-2zM741 129h1v2h-1zM952 422h2v2h-2zM693 312h1v2h-1zM287 205h3v3h-3zM863 162h1v2h-1zM798 310h3v2h-3zM670 318h1v1h-1zM313 452h2v3h-2zM1050 82h2v2h-2zM459 193h1v1h-1zM632 389h1v1h-1zM1136 167h3v2h-3zM438 230h2v2h-2zM635 456h1v2h-1zM231 282h2v2h-2zM581 331h2v3h-2zM457 374h2v1h-2zM757 109h2v2h-2zM641 122h3v2h-3zM473 222h3v1h-3zM784 133h2v1h-2zM1063 435h1v2h-1zM738 412h3v2h-3zM938 360h3v2h-3zM325 249h3v3h-3zM841 276h2v2h-2zM1025 351h1v3h-1zM840 192h2v1h-2zM505 222h2v2h-2zM822 241h3v1h-3zM863 322h3v3h-3zM436 169h2v3h-2zM957 290h1v1h-1zM342 206h2v2h-2zM1204 389h2v2h-2zM1172 224h3v3h-3zM831 220h2v2h-2zM713 225h1v3h-1zM1199 153h3v2h-3zM841 171h2v2h-2zM245 159h2v3h-2zM339 306h2v3h-2zM993 219h1v3h-1zM986 260h2v1h-2zM916 388h3v3h-3zM867 148h1v2h-1zM1184 122h3v3h-3zM1016 223h1v3h-1zM752 388h2v3h-2zM653 376h2v3h-2zM640 419h3v2h-3zM609 223h1v1h-1zM270 105h1v2h-1zM646 96h2v3h-2zM1194 345h2v2h-2zM348 285h2v2h-2zM1035 157h2v2h-2zM458 137h3v2h-3zM1018 456h2v2h-2zM1005 339h2v2h-2zM983 364h2v2h-2zM332 123h1v3h-1zM1107 351h3v3h-3zM1070 150h2v1h-2zM307 291h3v3h-3zM605 417h3v2h-3zM1068 435h2v1h-2zM1092 171h2v2h-2zM347 314h2v1h-2zM822 315h2v3h-2zM1061 345h3v2h-3zM1110 183h3v2h-3zM956 192h3v1h-3zM1202 167h2v1h-2zM1015 122h2v2h-2zM580 285h2v2h-2zM1051 377h3v2h-3zM1054 238h3v2h-3zM386 324h2v3h-2zM406 447h1v1h-1zM745 311h2v1h-2zM1102 352h1v2h-1zM397 257h2v2h-2zM1037 91h2v3h-2zM554 171h2v2h-2zM487 233h2v3h-2zM938 286h2v3h-2zM994 415h2v1h-2zM895 192h3v3h-3zM339 374h2v2h-2zM783 262h2v2h-2zM708 418h2v3h-2zM553 375h2v2h-2zM261 333h2v2h-2zM335 401h2v2h-2zM495 204h2v2h-2zM848 424h1v2h-1zM421 454h2v2h-2zM951 237h1v2h-1zM871 211h2v1h-2zM788 104h3v2h-3zM251 345h2v3h-2zM373 169h3v3h-3zM612 270h1v3h-1zM890 129h3v1h-3zM759 115h2v2h-2zM954 440h2v3h-2zM247 268h3v2h-3zM1061 202h1v2h-1zM1054 470h1v2h-1zM655 215h2v3h-2zM1141 244h2v3h-2zM499 208h3v2h-3zM1020 142h3v1h-3zM1111 298h2v2h-2zM451 256h1v2h-1zM994 184h1v1h-1zM1081 124h3v2h-3zM984 247h3v3h-3zM789 453h2v1h-2zM660 220h3v3h-3zM854 390h2v2h-2zM1036 118h2v1h-2zM823 363h2v1h-2zM1097 358h2v2h-2zM284 129h2v2h-2zM1174 409h2v3h-2zM577 148h2v1h-2zM301 276h3v2h-3zM412 449h3v2h-3zM414 243h2v3h-2zM502 120h3v2h-3zM248 256h2v1h-2zM238 375h3v2h-3zM355 383h1v1h-1zM310 449h3v1h-3zM788 156h1v2h-1zM770 239h1v3h-1zM1178 181h2v3h-2zM871 202h3v1h-3zM885 355h2v2h-2zM1144 169h3v3h-3zM808 226h1v3h-1zM1009 267h3v1h-3zM266 218h1v2h-1zM706 147h2v2h-2zM472 235h2v2h-2zM1098 300h2v2h-2zM1195 181h3v2h-3zM1104 439h1v3h-1zM536 227h2v2h-2zM426 468h1v3h-1zM1179 222h2v2h-2zM757 321h3v2h-3zM625 136h2v1h-2zM710 162h2v2h-2zM716 435h1v2h-1zM263 165h3v3h-3zM1085 348h3v2h-3zM867 307h1v2h-1zM502 85h2v3h-2zM801 308h3v3h-3zM472 380h3v3h-3zM450 419h2v1h-2zM608 372h2v1h-2zM231 258h3v3h-3zM443 409h2v3h-2zM727 144h1v1h-1zM712 138h3v2h-3zM777 241h2v2h-2zM860 332h2v2h-2zM1180 145h2v1h-2zM890 415h1v1h-1zM300 133h3v3h-3zM1027 214h2v2h-2zM805 355h3v1h-3zM827 278h1v2h-1zM700 422h3v2h-3zM408 341h1v1h-1zM1062 185h3v2h-3zM773 262h2v2h-2zM927 300h1v2h-1zM576 442h3v2h-3zM1186 146h2v1h-2zM702 449h1v2h-1zM860 323h1v3h-1zM710 379h2v2h-2zM936 274h3v2h-3zM521 269h1v2h-1zM245 327h2v2h-2zM462 455h1v1h-1zM259 196h3v3h-3zM1197 203h2v2h-2zM707 421h1v3h-1zM492 147h2v3h-2zM903 265h1v1h-1zM314 317h3v2h-3zM725 210h2v3h-2zM405 463h3v1h-3zM849 83h2v2h-2zM683 249h1v2h-1zM782 134h1v2h-1zM464 358h3v1h-3zM1062 236h2v2h-2zM652 274h3v2h-3zM530 406h1v2h-1zM800 470h2v1h-2zM916 163h2v2h-2zM305 241h1v3h-1zM862 255h3v2h-3zM842 131h2v3h-2zM907 338h1v1h-1zM749 219h2v1h-2zM514 449h1v2h-1zM1155 342h3v3h-3zM1027 104h2v2h-2zM565 353h3v1h-3zM549 423h2v2h-2zM539 239h2v2h-2zM1010 405h2v2h-2zM1120 442h2v2h-2zM824 177h3v1h-3zM692 448h2v2h-2zM919 124h2v3h-2zM719 455h3v2h-3zM1013 220h2v2h-2zM337 259h3v2h-3zM1020 203h2v2h-2zM317 440h1v1h-1zM930 89h3v1h-3zM1030 294h1v3h-1zM575 258h1v2h-1zM909 228h2v1h-2zM988 304h1v2h-1zM746 273h1v1h-1zM874 183h1v2h-1zM546 126h1v3h-1zM1192 364h2v3h-2zM705 436h1v1h-1zM421 463h3v1h-3zM620 161h2v2h-2zM388 407h1v2h-1zM246 113h3v1h-3zM542 222h1v3h-1zM429 134h3v3h-3zM416 123h2v3h-2zM1194 346h1v1h-1zM898 306h2v3h-2zM982 384h2v2h-2zM878 290h2v2h-2zM472 231h2v2h-2zM422 233h3v2h-3zM370 226h2v2h-2zM472 357h2v2h-2zM511 210h2v1h-2zM941 109h3v3h-3zM356 205h2v2h-2zM724 379h3v2h-3zM778 357h1v3h-1zM959 184h1v3h-1zM460 379h2v2h-2zM518 436h1v3h-1zM1193 110h2v3h-2zM1199 221h1v2h-1zM933 345h3v1h-3zM889 295h3v1h-3zM1000 274h2v1h-2zM1016 163h3v2h-3zM388 282h2v2h-2zM918 146h2v3h-2zM287 210h2v1h-2zM273 348h1v2h-1zM1009 208h2v3h-2zM997 230h3v1h-3zM512 329h1v2h-1zM344 304h2v2h-2zM783 293h2v1h-2zM587 384h2v1h-2zM269 281h2v3h-2zM1187 140h3v2h-3zM583 242h2v2h-2zM897 386h2v3h-2zM503 409h2v2h-2zM1149 136h2v3h-2zM927 334h2v2h-2zM610 320h2v2h-2zM793 207h1v2h-1zM750 104h2v2h-2zM382 455h2v1h-2zM772 328h2v2h-2zM957 332h1v1h-1zM961 272h1v1h-1zM720 427h2v2h-2zM819 412h2v2h-2zM962 349h2v2h-2zM564 391h2v2h-2zM951 338h2v2h-2zM306 301h2v2h-2zM616 175h1v1h-1zM252 199h2v2h-2zM497 280h2v3h-2zM411 252h1v2h-1zM1072 101h1v2h-1zM1182 435h3v2h-3zM744 463h2v1h-2zM352 386h2v1h-2zM992 434h3v2h-3zM318 440h3v2h-3zM309 263h2v3h-2zM703 313h1v3h-1zM351 403h1v2h-1zM239 233h1v1h-1zM534 143h2v2h-2zM810 173h3v2h-3zM695 139h2v1h-2zM1197 325h1v1h-1zM675 220h2v3h-2zM515 458h3v2h-3zM437 463h2v2h-2zM637 132h1v3h-1zM552 254h1v1h-1zM263 452h2v1h-2zM517 427h1v2h-1zM398 385h3v2h-3zM959 239h1v2h-1zM770 331h2v1h-2zM515 93h1v2h-1zM311 358h3v1h-3zM1040 90h2v3h-2zM353 349h3v2h-3zM1044 246h1v1h-1zM1036 230h1v2h-1zM1124 439h2v2h-2zM737 99h1v2h-1zM375 423h3v2h-3zM284 137h2v2h-2zM948 390h2v3h-2zM730 413h1v1h-1zM742 446h3v2h-3zM379 444h1v2h-1zM1020 94h2v2h-2zM786 315h2v2h-2zM370 87h2v3h-2zM343 297h1v3h-1zM834 89h2v3h-2zM1185 324h1v1h-1zM509 235h3v2h-3zM513 323h2v2h-2zM1153 159h2v2h-2zM972 268h2v3h-2zM877 310h2v2h-2zM359 146h2v2h-2zM273 134h1v1h-1zM369 297h1v2h-1zM783 470h2v1h-2zM859 235h2v2h-2zM1020 264h2v1h-2zM272 460h2v3h-2zM568 181h2v3h-2zM407 384h2v3h-2zM648 304h2v3h-2zM748 347h2v2h-2zM1026 263h3v1h-3zM927 241h2v1h-2zM620 166h3v2h-3zM824 179h3v2h-3zM1011 334h2v2h-2zM787 161h3v3h-3zM1032 352h3v2h-3zM600 276h2v1h-2zM898 445h3v2h-3zM235 430h1v2h-1zM381 185h3v3h-3zM256 91h2v1h-2zM863 220h3v2h-3zM637 456h2v1h-2zM859 283h1v1h-1zM613 388h1v2h-1zM242 324h2v2h-2zM688 86h1v2h-1zM237 385h1v2h-1zM453 278h2v3h-2zM396 380h2v3h-2zM597 123h1v1h-1zM825 179h1v3h-1zM841 95h1v3h-1zM497 218h3v1h-3zM385 327h2v2h-2zM288 206h2v1h-2zM717 301h2v1h-2zM696 235h1v2h-1zM642 410h2v1h-2zM335 444h1v2h-1zM717 323h1v2h-1zM719 97h2v2h-2zM546 415h2v2h-2zM1148 151h3v3h-3zM346 113h1v2h-1zM259 234h2v3h-2zM996 454h3v2h-3zM666 262h1v3h-1zM807 335h1v3h-1zM549 452h2v3h-2zM1126 374h2v1h-2zM409 204h2v3h-2zM381 294h2v1h-2zM906 187h1v2h-1zM779 167h2v2h-2zM306 437h3v1h-3zM623 284h2v2h-2zM697 131h2v3h-2zM948 297h2v3h-2zM612 338h2v2h-2zM287 284h3v2h-3zM494 404h2v2h-2zM818 392h1v1h-1zM488 108h1v2h-1zM477 252h2v2h-2zM500 294h1v2h-1zM1135 106h2v1h-2zM1165 245h2v1h-2zM1020 313h3v1h-3zM977 280h2v2h-2zM430 119h3v2h-3zM1043 378h3v2h-3zM1030 213h2v2h-2zM352 247h3v2h-3zM993 183h3v2h-3zM337 218h2v2h-2zM799 245h2v2h-2zM1148 175h2v1h-2zM1107 276h2v3h-2zM963 389h2v3h-2zM1193 153h3v1h-3zM1007 103h1v3h-1zM589 97h1v1h-1zM581 365h3v3h-3zM679 262h2v3h-2zM366 202h3v2h-3zM625 391h3v2h-3zM602 356h3v1h-3zM425 455h3v2h-3zM330 130h2v3h-2zM860 465h2v2h-2zM451 195h2v2h-2zM881 87h2v2h-2zM1178 195h3v2h-3zM496 306h2v3h-2zM451 404h1v3h-1zM940 450h2v2h-2zM321 435h2v1h-2zM957 175h2v2h-2zM417 452h2v2h-2zM443 407h1v3h-1zM904 207h1v2h-1zM469 187h1v2h-1zM316 414h2v2h-2zM513 411h1v3h-1zM939 458h1v2h-1zM1135 135h1v2h-1zM526 383h3v1h-3zM618 453h1v2h-1zM408 276h2v3h-2zM1020 417h3v2h-3zM993 218h3v3h-3zM882 273h1v1h-1zM897 159h2v3h-2zM1028 424h2v2h-2zM676 180h2v2h-2zM1022 259h2v2h-2zM500 338h2v2h-2zM966 311h2v1h-2zM384 124h2v2h-2zM789 89h2v2h-2zM549 299h3v2h-3zM938 226h2v2h-2zM257 104h2v2h-2zM865 156h1v1h-1zM902 187h3v2h-3zM557 144h2v1h-2zM484 104h1v3h-1zM1109 207h2v2h-2zM1206 133h1v1h-1zM962 348h3v3h-3zM271 85h1v1h-1zM958 322h2v1h-2zM252 138h3v2h-3zM957 264h2v2h-2zM1020 404h2v2h-2zM532 367h2v2h-2zM626 108h2v2h-2zM1175 126h2v1h-2zM308 370h1v2h-1zM896 143h3v1h-3zM307 236h3v3h-3zM731 206h1v3h-1zM1157 218h2v2h-2zM950 221h2v1h-2zM871 91h3v2h-3zM717 339h2v1h-2zM868 383h3v2h-3zM1140 121h3v2h-3zM815 275h2v3h-2zM397 173h1v3h-1zM1009 270h2v1h-2zM467 364h2v2h-2zM873 378h2v2h-2zM601 342h3v3h-3zM411 397h3v3h-3zM607 367h3v2h-3zM1116 258h1v2h-1zM812 90h2v2h-2zM511 133h3v3h-3zM989 394h1v2h-1zM864 164h3v1h-3zM560 172h2v1h-2zM949 104h2v2h-2zM856 147h2v1h-2zM249 288h1v2h-1zM1202 156h3v2h-3zM726 147h1v2h-1zM543 333h1v3h-1zM350 98h3v2h-3zM744 89h1v1h-1zM518 109h2v3h-2zM794 391h3v1h-3zM1030 206h3v2h-3zM646 329h1v2h-1zM683 383h3v3h-3zM381 351h3v2h-3zM653 264h3v3h-3zM529 353h3v2h-3zM408 235h1v2h-1zM805 134h2v1h-2zM542 284h1v2h-1zM1027 445h1v2h-1zM841 404h2v1h-2zM824 175h3v2h-3zM685 364h1v2h-1zM362 382h3v3h-3zM819 345h2v2h-2zM598 347h2v2h-2zM244 95h1v2h-1zM634 229h2v2h-2zM986 298h1v2h-1zM889 445h3v2h-3zM813 196h2v2h-2zM1159 143h3v2h-3zM421 106h3v2h-3zM908 320h2v2h-2zM665 125h1v2h-1zM605 435h2v3h-2zM369 366h3v3h-3zM930 217h3v1h-3zM699 198h1v2h-1zM646 365h1v1h-1zM786 382h1v1h-1zM291 177h2v2h-2zM1203 216h1v3h-1zM471 284h3v1h-3zM701 336h2v2h-2zM607 172h2v3h-2zM649 161h2v2h-2zM715 457h2v3h-2zM1120 82h2v1h-2zM479 246h1v2h-1zM789 116h3v1h-3zM493 296h1v3h-1zM423 368h2v3h-2zM313 220h1v3h-1zM1185 219h1v2h-1zM692 216h2v2h-2zM369 301h3v3h-3zM300 181h2v2h-2zM1017 137h2v2h-2zM245 142h1v3h-1zM923 115h2v3h-2zM766 339h2v1h-2zM553 170h1v1h-1zM562 367h3v1h-3zM805 297h2v2h-2zM1066 145h2v3h-2zM770 442h3v2h-3zM684 225h3v3h-3zM718 402h3v3h-3zM993 414h1v2h-1zM901 195h2v1h-2zM940 110h2v2h-2zM505 352h3v3h-3zM751 197h2v3h-2zM368 128h2v2h-2zM447 370h3v1h-3zM461 315h1v1h-1zM966 449h2v2h-2zM712 471h2v1h-2zM366 95h3v3h-3zM548 419h1v2h-1zM911 291h1v2h-1zM1079 213h2v2h-2zM876 419h3v3h-3zM385 221h3v1h-3zM861 174h3v2h-3zM1191 214h2v1h-2zM838 383h2v1h-2zM1154 259h3v3h-3zM865 380h3v2h-3zM406 388h2v2h-2zM794 127h3v1h-3zM950 221h1v2h-1zM814 187h2v3h-2zM930 398h3v2h-3zM350 381h2v1h-2zM256 231h1v2h-1zM451 329h2v3h-2zM1085 337h2v1h-2zM1191 207h2v1h-2zM1150 186h1v1h-1zM766 288h2v3h-2zM448 265h2v2h-2zM734 317h2v2h-2zM477 97h3v1h-3zM795 292h2v3h-2zM283 302h3v2h-3zM623 368h2v2h-2zM975 428h1v1h-1zM948 361h3v2h-3zM977 226h1v2h-1zM595 184h1v2h-1zM454 205h2v3h-2zM1012 335h2v3h-2zM1073 261h2v2h-2zM520 343h1v2h-1zM665 244h2v1h-2zM815 429h2v2h-2zM240 259h2v3h-2zM383 365h1v3h-1zM808 368h1v1h-1zM858 88h1v2h-1zM862 437h1v1h-1zM485 204h2v3h-2zM462 423h2v2h-2zM299 201h2v2h-2zM642 220h3v2h-3zM920 197h2v3h-2zM905 248h3v2h-3zM307 313h3v1h-3zM507 176h2v3h-2zM754 367h3v2h-3zM280 315h2v2h-2zM623 128h2v3h-2zM482 371h2v2h-2zM484 232h1v3h-1zM429 247h2v3h-2zM823 348h1v1h-1zM1042 172h2v1h-2zM519 274h1v2h-1zM594 162h2v1h-2zM848 294h1v2h-1zM589 155h3v1h-3zM1008 146h2v2h-2zM886 211h2v3h-2zM742 247h2v2h-2zM243 140h1v1h-1zM534 331h1v2h-1zM1162 179h2v2h-2zM1144 263h3v2h-3zM285 97h2v1h-2zM689 91h2v3h-2zM563 336h1v3h-1zM580 152h2v1h-2zM874 155h2v2h-2zM464 228h3v2h-3zM244 403h3v3h-3zM1140 149h1v3h-1zM349 301h2v2h-2zM583 426h3v2h-3zM1071 249h2v2h-2zM499 250h3v3h-3zM1046 313h3v1h-3zM947 152h1v1h-1zM422 337h2v2h-2zM407 395h2v2h-2zM938 417h2v1h-2zM276 280h2v3h-2zM1194 308h2v3h-2zM676 250h1v2h-1zM791 443h2v2h-2zM576 355h1v3h-1zM949 123h2v1h-2zM386 310h2v3h-2zM543 467h1v2h-1zM339 228h3v2h-3zM545 251h2v2h-2zM827 284h3v3h-3zM527 346h3v2h-3zM1176 133h3v1h-3zM956 313h3v1h-3zM334 211h2v3h-2zM435 243h3v1h-3zM788 212h1v2h-1zM1103 237h1v2h-1zM1074 366h1v1h-1zM374 300h3v1h-3zM508 121h2v3h-2zM924 294h2v3h-2zM485 106h2v2h-2zM1078 238h3v1h-3zM545 355h2v2h-2zM1056 140h1v2h-1zM351 355h2v2h-2zM685 216h1v3h-1zM303 286h3v1h-3zM807 333h1v2h-1zM393 93h2v1h-2zM1200 415h2v3h-2zM991 377h2v1h-2zM521 362h2v3h-2zM260 315h2v1h-2zM666 286h2v3h-2zM1184 311h3v2h-3zM561 416h3v2h-3zM651 346h2v1h-2zM1046 127h1v1h-1zM759 383h2v2h-2zM544 344h2v1h-2zM443 411h1v2h-1zM236 397h2v2h-2zM547 317h1v2h-1zM1120 280h1v2h-1zM744 184h1v1h-1zM684 440h2v2h-2zM938 449h2v2h-2zM664 130h2v1h-2zM940 360h2v3h-2zM472 398h2v1h-2zM661 280h3v2h-3zM599 435h1v3h-1zM781 274h3v3h-3zM980 212h2v2h-2zM417 163h2v2h-2zM505 179h2v3h-2zM758 197h2v2h-2zM635 341h2v3h-2zM381 287h1v2h-1zM581 110h1v2h-1zM274 166h2v3h-2zM550 452h3v2h-3zM881 164h2v3h-2zM829 334h2v1h-2zM551 249h1v2h-1zM841 165h3v1h-3zM935 87h1v3h-1zM505 440h2v1h-2zM504 392h1v2h-1zM243 298h3v1h-3zM843 182h2v1h-2zM898 140h3v2h-3zM986 450h1v2h-1zM843 381h2v2h-2zM922 326h2v2h-2zM949 418h3v2h-3zM1197 123h3v2h-3zM895 413h3v2h-3zM612 372h2v2h-2zM610 426h3v3h-3zM336 208h2v1h-2zM1174 360h2v2h-2zM768 234h3v2h-3zM917 317h2v2h-2zM440 148h2v3h-2zM364 330h3v2h-3zM304 332h2v2h-2zM990 213h3v3h-3zM996 227h2v1h-2zM801 313h2v1h-2zM950 367h2v2h-2zM338 166h2v3h-2zM827 297h2v2h-2zM945 464h2v1h-2zM1070 103h2v2h-2zM722 194h1v2h-1zM567 340h2v2h-2zM461 355h1v3h-1zM967 230h1v1h-1zM394 234h3v2h-3zM930 220h2v2h-2zM275 145h2v3h-2zM688 281h2v1h-2zM866 394h1v1h-1zM1197 424h3v3h-3zM882 106h2v1h-2zM941 460h2v3h-2zM1191 140h2v1h-2zM1062 460h1v2h-1zM929 149h1v3h-1zM531 125h3v2h-3zM764 168h3v3h-3zM504 190h2v2h-2zM460 416h1v2h-1zM1180 293h1v1h-1zM1166 153h2v1h-2zM288 309h2v2h-2zM946 264h1v3h-1zM878 403h3v3h-3zM866 146h3v1h-3zM550 108h1v1h-1zM812 225h2v1h-2zM792 420h1v2h-1zM992 310h2v3h-2zM852 232h3v3h-3zM562 234h3v2h-3zM326 315h2v2h-2zM1048 146h2v3h-2zM508 394h2v2h-2zM1091 470h3v2h-3zM819 196h2v2h-2zM245 360h1v3h-1zM979 463h1v3h-1zM1187 171h2v2h-2zM237 146h3v2h-3zM874 147h3v2h-3zM544 161h3v2h-3zM1071 247h1v1h-1zM607 206h2v3h-2zM823 414h3v1h-3zM827 438h2v1h-2zM1099 349h2v2h-2zM365 449h3v2h-3zM308 242h2v2h-2zM1015 107h3v2h-3zM420 96h3v3h-3zM567 160h3v2h-3zM643 456h3v3h-3zM330 229h1v1h-1zM825 388h2v1h-2zM877 239h2v1h-2zM1076 399h2v1h-2zM650 221h2v2h-2zM788 219h2v3h-2zM1128 122h1v2h-1zM790 404h2v3h-2zM936 436h2v1h-2zM633 134h2v2h-2zM523 216h3v2h-3zM399 205h1v2h-1zM304 367h3v1h-3zM693 419h2v2h-2zM1205 227h3v1h-3zM953 369h3v3h-3zM380 206h2v2h-2zM318 157h2v3h-2zM824 423h1v3h-1zM1197 384h2v2h-2zM656 380h1v2h-1zM815 107h2v2h-2zM337 294h3v2h-3zM813 178h3v2h-3zM535 152h1v2h-1zM920 183h1v3h-1zM379 228h3v1h-3zM776 463h1v2h-1zM894 260h2v2h-2zM770 174h2v3h-2zM985 384h2v1h-2zM951 366h2v3h-2zM593 439h1v2h-1zM239 124h2v3h-2zM391 258h2v1h-2zM527 120h3v2h-3zM425 117h1v2h-1zM389 229h2v2h-2zM551 95h2v3h-2zM464 185h2v3h-2zM1170 107h2v2h-2zM454 347h1v2h-1zM888 189h1v2h-1zM279 143h3v2h-3zM562 359h3v2h-3zM299 422h3v2h-3zM1013 449h2v1h-2zM1061 229h1v3h-1zM400 116h3v1h-3zM536 404h2v3h-2zM940 381h1v3h-1zM753 316h3v2h-3zM1158 148h1v2h-1zM496 447h2v2h-2zM958 363h3v3h-3zM928 159h2v1h-2zM760 186h2v2h-2zM1154 377h2v2h-2zM847 384h2v2h-2zM810 261h2v2h-2zM1001 198h2v2h-2zM769 93h3v3h-3zM693 277h1v2h-1zM787 401h3v2h-3zM747 382h2v2h-2zM768 314h2v2h-2zM575 245h3v2h-3zM836 339h1v2h-1zM704 301h1v2h-1zM417 291h1v1h-1zM932 426h2v2h-2zM681 327h2v1h-2zM1117 377h3v3h-3zM644 162h2v2h-2zM1036 207h3v1h-3zM1153 374h3v2h-3zM1103 141h1v2h-1zM306 315h2v2h-2zM643 417h1v3h-1zM1038 411h3v1h-3zM710 179h1v2h-1zM333 460h3v2h-3zM648 393h2v1h-2zM1015 260h3v2h-3zM335 440h1v2h-1zM547 92h3v2h-3zM1188 193h2v3h-2zM683 375h3v2h-3zM666 155h2v1h-2zM707 226h1v1h-1zM346 119h2v2h-2zM525 161h3v3h-3zM723 332h1v2h-1zM447 172h1v3h-1zM309 437h2v2h-2zM897 218h1v3h-1zM539 176h1v2h-1zM816 331h1v2h-1zM274 406h2v2h-2zM305 409h2v2h-2zM1138 96h1v1h-1zM1168 459h2v2h-2zM538 179h1v3h-1zM1023 468h2v3h-2zM411 318h3v3h-3zM733 83h3v2h-3zM374 239h1v1h-1zM1063 240h2v2h-2zM890 467h2v1h-2zM700 469h2v1h-2zM425 261h2v3h-2zM566 162h2v2h-2zM426 220h2v2h-2zM931 179h3v2h-3zM588 93h1v1h-1zM1092 272h2v2h-2zM918 446h3v3h-3zM921 96h3v2h-3zM743 371h1v1h-1zM1023 413h2v3h-2zM618 388h3v3h-3zM648 171h1v2h-1zM699 452h2v1h-2zM822 219h1v1h-1zM425 233h2v1h-2zM461 110h2v2h-2zM641 186h1v2h-1zM852 309h2v3h-2zM1024 164h2v2h-2zM415 219h2v3h-2zM430 230h2v2h-2zM356 309h2v1h-2zM391 177h1v3h-1zM302 389h1v1h-1zM572 280h3v2h-3zM470 293h2v2h-2zM1049 460h1v3h-1zM1036 200h2v2h-2zM485 187h2v1h-2zM860 271h2v2h-2zM684 138h2v2h-2zM661 241h2v1h-2zM714 307h3v1h-3zM790 361h2v1h-2zM586 115h2v1h-2zM364 269h2v2h-2zM1049 256h3v2h-3zM613 316h3v2h-3zM317 273h1v1h-1zM828 145h2v3h-2zM357 304h3v3h-3zM680 251h2v1h-2zM1038 204h1v3h-1zM963 416h2v1h-2zM474 331h3v2h-3zM733 140h3v1h-3zM852 440h1v2h-1zM315 381h2v1h-2zM751 450h2v1h-2zM339 268h3v1h-3zM526 253h1v3h-1zM592 299h3v2h-3zM850 156h2v3h-2zM1090 169h2v3h-2zM402 97h3v2h-3zM340 470h2v2h-2zM1198 325h3v3h-3zM417 134h2v2h-2zM949 328h3v3h-3zM1139 136h3v3h-3zM736 410h1v2h-1zM440 235h1v1h-1zM1130 126h1v3h-1zM859 138h3v2h-3zM779 345h3v2h-3zM1157 212h3v1h-3zM686 98h2v2h-2zM897 149h3v1h-3zM281 436h2v2h-2zM943 198h3v2h-3zM433 331h2v2h-2zM1101 161h3v2h-3zM453 350h2v3h-2zM367 298h2v2h-2zM395 471h2v2h-2zM368 129h2v2h-2zM1048 233h1v2h-1zM491 190h1v2h-1zM693 350h3v2h-3zM503 85h1v2h-1zM550 453h2v3h-2zM548 100h3v2h-3zM500 317h2v2h-2zM417 149h2v3h-2zM321 166h3v2h-3zM642 397h2v2h-2zM496 260h2v2h-2zM690 442h1v2h-1zM595 182h1v2h-1zM424 138h1v2h-1zM380 185h3v2h-3zM1084 436h2v1h-2zM657 437h3v3h-3zM352 390h1v1h-1zM279 452h2v3h-2zM1033 281h3v2h-3zM605 167h3v1h-3zM561 282h2v3h-2zM583 213h2v2h-2zM857 277h1v2h-1zM958 430h2v2h-2zM550 427h2v3h-2zM1195 293h2v3h-2zM874 441h2v1h-2zM912 88h2v2h-2zM1099 82h3v1h-3zM975 286h3v1h-3zM496 157h3v2h-3zM985 246h3v1h-3zM497 108h1v2h-1zM509 280h3v2h-3zM377 317h2v2h-2zM730 370h1v2h-1zM1036 383h3v1h-3zM865 198h3v2h-3zM339 384h2v2h-2zM913 221h2v1h-2zM250 331h1v2h-1zM864 185h2v1h-2zM478 299h2v1h-2zM609 161h3v3h-3zM816 268h3v2h-3zM1178 187h3v2h-3zM935 465h2v1h-2zM1135 189h2v3h-2zM770 430h2v2h-2zM361 328h3v2h-3zM615 210h1v3h-1zM396 287h2v2h-2zM302 346h2v2h-2zM393 326h2v2h-2zM516 446h2v2h-2zM375 365h3v2h-3zM636 398h3v1h-3zM821 191h2v1h-2zM302 323h3v1h-3zM424 240h2v3h-2zM721 205h3v1h-3zM838 172h2v1h-2zM1080 83h2v1h-2zM855 359h2v2h-2zM577 288h2v2h-2zM646 263h2v2h-2zM888 287h1v1h-1zM240 200h2v2h-2zM375 99h2v3h-2zM374 438h1v2h-1zM785 162h2v3h-2zM655 457h1v2h-1zM899 190h3v2h-3zM328 205h2v2h-2zM307 222h3v2h-3zM538 144h2v2h-2zM949 189h1v2h-1zM770 271h3v2h-3zM842 346h1v1h-1zM1172 274h2v2h-2zM631 198h2v3h-2zM653 299h2v2h-2zM273 183h2v2h-2zM429 174h2v2h-2zM643 370h2v2h-2zM937 219h2v3h-2zM833 120h2v1h-2zM989 186h2v2h-2zM1151 329h2v2h-2zM463 178h1v2h-1zM640 266h2v1h-2zM239 387h2v2h-2zM894 169h1v2h-1zM849 435h2v1h-2zM464 177h2v2h-2zM959 130h2v2h-2zM425 235h2v1h-2zM746 369h2v3h-2zM760 401h2v2h-2zM430 157h1v3h-1zM393 443h2v2h-2zM1107 234h3v3h-3zM1114 226h2v3h-2zM950 129h3v3h-3zM1110 271h3v2h-3zM382 445h2v3h-2zM1001 256h2v3h-2zM261 417h2v2h-2zM239 471h2v2h-2zM583 292h3v1h-3zM1063 264h3v2h-3zM1176 130h2v3h-2zM466 179h3v3h-3zM1122 161h2v2h-2zM1144 221h3v3h-3zM413 103h2v2h-2zM897 208h1v1h-1zM1166 437h2v3h-2zM835 426h2v2h-2zM500 372h1v3h-1zM1006 384h3v3h-3zM996 262h3v1h-3zM667 385h2v3h-2zM626 416h2v2h-2zM450 194h1v3h-1zM998 432h3v1h-3zM284 357h2v1h-2zM509 411h3v1h-3zM930 373h2v2h-2zM593 421h3v3h-3zM1016 152h3v1h-3zM459 152h2v2h-2zM262 340h1v2h-1zM530 190h1v2h-1zM973 248h3v3h-3zM704 130h2v2h-2zM455 170h2v2h-2zM1128 164h2v3h-2zM632 405h2v1h-2zM982 455h1v3h-1zM788 268h1v2h-1zM347 471h2v1h-2zM365 127h1v3h-1zM495 240h1v3h-1zM820 326h2v2h-2zM1141 97h2v2h-2zM280 424h1v2h-1zM964 143h3v3h-3zM451 363h3v2h-3zM933 414h3v2h-3zM599 91h1v2h-1zM547 438h3v3h-3zM482 93h2v1h-2zM716 270h3v2h-3zM889 240h3v1h-3zM294 374h1v3h-1zM521 117h3v3h-3zM661 318h2v2h-2zM760 265h3v2h-3zM400 240h2v2h-2zM1045 264h2v2h-2zM503 196h1v1h-1zM245 208h3v3h-3zM623 286h3v2h-3zM624 233h1v1h-1zM1051 383h2v2h-2zM231 304h3v3h-3zM759 386h1v2h-1zM544 321h1v1h-1zM788 136h1v2h-1zM849 285h3v2h-3zM739 136h1v2h-1zM891 173h2v2h-2zM695 291h3v2h-3zM652 192h1v2h-1zM656 170h3v1h-3zM1191 468h2v1h-2zM622 370h2v3h-2zM973 284h2v2h-2zM245 346h1v3h-1zM595 137h2v3h-2zM1039 147h2v2h-2zM360 458h2v3h-2zM525 267h2v2h-2zM261 309h1v3h-1zM493 470h2v1h-2zM524 238h2v2h-2zM433 250h3v2h-3zM477 140h3v3h-3zM685 397h2v2h-2zM411 170h3v1h-3zM793 240h2v2h-2zM837 299h3v2h-3zM842 330h3v2h-3zM348 218h1v1h-1zM828 155h3v1h-3zM833 266h3v1h-3zM734 470h2v2h-2zM922 241h1v2h-1zM629 275h1v1h-1zM701 325h2v2h-2zM1014 205h2v3h-2zM987 286h3v3h-3zM685 225h2v2h-2zM766 275h3v3h-3zM983 271h2v2h-2zM376 225h1v3h-1zM574 380h2v2h-2zM318 112h2v3h-2zM1137 154h3v2h-3zM750 353h2v2h-2zM983 275h2v2h-2zM785 315h2v1h-2zM577 195h2v2h-2zM309 183h2v3h-2zM763 187h3v2h-3zM301 242h1v3h-1zM288 373h2v2h-2zM1022 293h2v3h-2zM416 383h3v1h-3zM1160 426h3v2h-3zM977 312h2v2h-2zM477 436h2v1h-2zM716 344h2v3h-2zM610 87h2v2h-2zM725 84h1v3h-1zM772 88h1v2h-1zM459 336h3v2h-3zM293 208h2v2h-2zM421 421h2v1h-2zM700 360h2v2h-2zM941 166h2v1h-2zM1065 236h2v1h-2zM1137 152h1v1h-1zM454 85h3v3h-3zM330 308h1v1h-1zM250 262h2v2h-2zM1091 202h2v1h-2zM1123 262h3v3h-3zM522 298h3v3h-3zM705 308h3v1h-3zM675 174h3v1h-3zM236 153h2v2h-2zM610 109h3v2h-3zM671 425h1v3h-1zM300 446h3v2h-3zM620 432h3v1h-3zM1159 444h3v2h-3zM846 441h2v3h-2zM601 269h2v2h-2zM1048 280h2v2h-2zM997 417h3v2h-3zM912 242h1v2h-1zM761 281h2v2h-2zM933 128h2v2h-2zM732 334h2v1h-2zM483 329h1v1h-1zM302 226h1v3h-1zM558 158h2v2h-2zM707 136h2v1h-2zM1058 122h3v2h-3zM867 354h1v1h-1zM647 228h3v1h-3zM913 179h3v1h-3zM959 102h2v2h-2zM761 327h1v2h-1zM718 194h3v1h-3zM264 156h2v2h-2zM860 420h2v3h-2zM549 288h1v3h-1zM1145 468h2v2h-2zM261 447h2v2h-2zM597 167h3v3h-3zM704 229h3v2h-3zM373 243h1v2h-1zM1160 86h2v2h-2zM262 297h2v2h-2zM290 270h2v3h-2zM600 321h1v2h-1zM879 232h1v2h-1zM378 199h2v3h-2zM1081 212h3v1h-3zM635 248h2v2h-2zM1006 377h2v1h-2zM655 374h3v2h-3zM566 196h2v2h-2zM947 123h1v2h-1zM453 206h2v2h-2zM704 94h1v2h-1zM735 439h1v3h-1zM816 279h1v1h-1zM1079 226h2v1h-2zM629 231h2v1h-2zM422 422h1v2h-1zM420 274h1v1h-1zM1010 363h1v1h-1zM395 364h1v2h-1zM911 342h2v2h-2zM623 283h2v2h-2zM977 275h1v2h-1zM434 214h2v2h-2zM705 222h2v3h-2zM929 435h2v2h-2zM837 394h1v2h-1zM728 150h2v2h-2zM522 422h2v3h-2zM1008 136h2v2h-2zM974 390h1v2h-1zM336 463h3v2h-3zM647 187h2v2h-2zM954 209h2v2h-2zM894 121h2v2h-2zM652 148h1v2h-1zM742 433h3v1h-3zM854 92h1v2h-1zM529 87h3v1h-3zM898 280h1v2h-1zM661 106h1v2h-1zM568 135h2v3h-2zM456 467h2v2h-2zM510 446h2v1h-2zM977 377h3v1h-3zM796 141h3v2h-3zM790 196h3v2h-3zM1153 102h3v3h-3zM751 378h2v1h-2zM1025 106h2v2h-2zM1138 274h2v3h-2zM818 400h1v3h-1zM866 324h2v2h-2zM596 378h2v1h-2zM740 439h3v1h-3zM590 456h2v3h-2zM364 335h2v2h-2zM1061 423h3v3h-3zM737 433h2v1h-2zM542 353h2v2h-2zM626 169h3v2h-3zM328 192h2v1h-2zM696 453h2v3h-2zM993 396h2v2h-2zM1008 451h2v2h-2zM392 394h2v2h-2zM496 258h2v3h-2zM474 405h3v1h-3zM296 115h1v2h-1zM327 166h1v1h-1zM456 359h1v3h-1zM579 256h1v2h-1zM1030 147h1v3h-1zM645 269h3v2h-3zM333 354h2v2h-2zM248 232h1v2h-1zM522 282h2v3h-2zM1181 413h3v3h-3zM773 406h3v2h-3zM980 170h2v3h-2zM720 262h3v1h-3zM242 108h1v1h-1zM657 182h2v2h-2zM323 344h1v3h-1zM877 278h1v1h-1zM308 469h3v1h-3zM316 181h2v2h-2zM394 217h3v2h-3zM643 270h2v3h-2zM603 377h3v3h-3zM718 163h3v2h-3zM1153 188h2v2h-2zM382 164h2v2h-2zM312 88h1v3h-1zM248 425h3v3h-3zM321 299h1v3h-1zM759 223h2v3h-2zM1136 250h3v1h-3zM255 450h3v3h-3zM979 348h1v1h-1zM770 266h2v2h-2zM648 257h2v2h-2zM713 219h3v2h-3zM370 343h1v2h-1zM876 169h3v2h-3zM985 427h2v2h-2zM1163 127h2v3h-2zM894 100h2v2h-2zM700 122h3v1h-3zM314 199h2v3h-2zM410 169h2v2h-2zM964 241h3v2h-3zM565 456h2v1h-2zM436 115h3v2h-3zM436 183h2v2h-2zM453 420h2v2h-2zM1106 142h2v1h-2zM1076 449h2v2h-2zM767 413h3v2h-3zM484 348h2v3h-2zM500 409h1v1h-1zM866 382h2v2h-2zM818 186h3v1h-3zM1194 114h3v2h-3zM424 446h2v1h-2zM565 256h1v2h-1zM286 278h2v2h-2zM417 312h2v1h-2zM973 101h3v3h-3zM1192 220h1v3h-1zM482 351h2v3h-2zM334 274h2v2h-2zM507 102h2v2h-2zM928 468h2v2h-2zM235 230h3v3h-3zM816 274h2v2h-2zM948 318h1v2h-1zM946 462h1v2h-1zM622 245h2v3h-2zM695 105h3v3h-3zM275 201h2v1h-2zM524 118h2v2h-2zM246 373h2v1h-2zM808 308h1v2h-1zM622 297h3v1h-3zM1099 284h1v1h-1zM393 459h2v1h-2zM1099 195h2v2h-2zM495 372h2v3h-2zM339 437h3v1h-3zM397 354h1v2h-1zM405 435h1v1h-1zM959 91h2v3h-2zM906 316h3v2h-3zM479 149h2v3h-2zM420 235h1v3h-1zM279 114h2v3h-2zM559 234h2v2h-2zM637 293h3v2h-3zM1054 336h3v1h-3zM533 157h2v1h-2zM587 185h3v1h-3zM1166 203h2v2h-2zM641 406h2v3h-2zM1069 258h2v2h-2zM254 183h2v2h-2zM602 464h2v2h-2zM544 256h1v3h-1zM927 287h2v2h-2zM550 250h1v3h-1zM591 365h2v3h-2zM762 217h3v2h-3zM818 247h2v1h-2zM426 241h2v2h-2zM721 298h2v2h-2zM280 197h2v2h-2zM787 222h2v1h-2zM1160 201h3v1h-3zM651 176h2v2h-2zM1135 93h2v2h-2zM243 287h2v1h-2zM649 357h2v2h-2zM741 310h2v2h-2zM528 412h3v2h-3zM575 419h3v2h-3zM613 443h2v1h-2zM318 422h2v2h-2zM657 240h2v3h-2zM520 438h1v2h-1zM991 218h2v2h-2zM937 315h2v2h-2zM1171 222h2v3h-2zM583 224h2v3h-2zM415 459h1v1h-1zM499 415h3v2h-3zM1069 149h2v1h-2zM659 376h2v1h-2zM385 173h3v2h-3zM735 196h1v2h-1zM577 402h1v1h-1zM1190 148h2v2h-2zM979 411h1v3h-1zM315 374h2v2h-2zM740 454h2v1h-2zM563 207h2v2h-2zM843 428h3v2h-3zM311 175h2v2h-2zM494 284h2v1h-2zM730 447h2v1h-2zM787 447h3v2h-3zM423 116h1v1h-1zM906 468h3v2h-3zM1044 219h2v1h-2zM983 131h2v3h-2zM652 140h2v3h-2zM782 258h2v2h-2zM659 432h3v3h-3zM652 251h2v3h-2zM593 135h3v2h-3zM509 269h2v3h-2zM803 341h2v2h-2zM253 88h3v3h-3zM695 425h3v2h-3zM719 154h1v1h-1zM1000 140h3v2h-3zM659 329h2v2h-2zM398 397h2v3h-2zM776 125h2v1h-2zM1042 178h2v1h-2zM555 173h2v2h-2zM403 115h1v1h-1zM362 367h1v3h-1zM744 222h1v3h-1zM574 465h2v2h-2zM316 269h2v2h-2zM257 447h1v2h-1zM922 109h1v1h-1zM779 242h2v2h-2zM565 413h2v2h-2zM938 235h2v3h-2zM924 158h2v1h-2zM1055 416h1v2h-1zM259 461h3v3h-3zM876 374h1v1h-1zM1173 102h3v1h-3zM828 201h1v2h-1zM1145 97h3v3h-3zM1003 249h3v3h-3zM721 221h3v2h-3zM804 169h3v3h-3zM605 459h2v3h-2zM356 211h3v2h-3zM944 368h1v2h-1zM524 239h1v3h-1zM1062 141h2v1h-2zM1019 174h1v1h-1zM711 188h2v3h-2zM262 303h2v2h-2zM280 157h2v1h-2zM942 424h2v2h-2zM612 327h3v3h-3zM311 265h2v3h-2zM325 236h2v2h-2zM779 209h3v2h-3zM594 82h3v2h-3zM1176 97h2v2h-2zM645 155h3v2h-3zM440 249h2v1h-2zM656 192h2v3h-2zM571 132h2v3h-2zM940 158h2v2h-2zM231 248h2v2h-2zM1026 167h3v2h-3zM237 333h3v3h-3zM614 292h2v2h-2zM1106 321h1v2h-1zM1208 130h2v3h-2zM466 387h3v2h-3zM479 376h2v3h-2zM1007 317h1v2h-1zM279 415h1v2h-1zM995 263h1v1h-1zM712 339h1v2h-1zM560 461h2v2h-2zM820 238h1v3h-1zM772 332h1v1h-1zM791 191h3v2h-3zM1143 136h3v1h-3zM457 89h3v2h-3zM372 382h2v2h-2zM616 403h3v2h-3zM557 396h2v2h-2zM1149 83h2v3h-2zM359 119h3v3h-3zM759 416h1v2h-1zM943 374h1v2h-1zM676 173h3v2h-3zM796 178h3v2h-3zM862 119h2v2h-2zM967 416h1v2h-1zM327 194h2v1h-2zM1115 170h3v2h-3zM365 226h2v3h-2zM1059 193h2v2h-2zM358 179h1v2h-1zM1158 302h1v2h-1zM534 326h2v2h-2zM1042 265h3v2h-3zM350 321h2v3h-2zM545 385h2v2h-2zM880 376h2v3h-2zM992 287h2v2h-2zM286 310h2v2h-2zM1055 399h3v2h-3zM257 229h2v1h-2zM728 130h1v2h-1zM1172 383h2v2h-2zM497 427h3v2h-3zM771 350h3v3h-3zM931 253h3v1h-3zM243 335h3v3h-3zM1059 137h1v2h-1zM655 234h3v1h-3zM358 139h3v3h-3zM659 200h2v3h-2zM770 323h2v3h-2zM854 304h1v1h-1zM963 141h2v1h-2zM1005 143h2v2h-2zM642 186h3v2h-3zM675 441h2v1h-2zM1102 437h1v1h-1zM678 171h3v1h-3zM790 167h2v2h-2zM468 418h2v3h-2zM629 312h2v2h-2zM924 391h2v3h-2zM1013 371h3v3h-3zM929 316h1v2h-1zM767 175h2v2h-2zM1051 123h3v3h-3zM644 469h1v2h-1zM661 143h3v1h-3zM504 226h2v1h-2zM1057 229h3v3h-3zM525 383h2v2h-2zM430 297h3v1h-3zM612 294h1v3h-1zM541 425h1v3h-1zM627 330h2v2h-2zM749 313h2v3h-2zM935 235h2v2h-2zM285 428h1v2h-1zM947 411h2v2h-2zM1051 187h3v2h-3zM770 261h2v2h-2zM888 258h2v1h-2zM556 356h3v3h-3zM635 377h1v1h-1zM1085 463h2v2h-2zM404 456h2v3h-2zM1037 422h1v2h-1zM350 469h1v2h-1zM1206 459h3v2h-3zM555 289h2v2h-2zM843 144h2v2h-2zM777 298h1v1h-1zM955 449h3v3h-3zM358 310h2v3h-2zM580 217h2v3h-2zM1206 195h3v3h-3zM455 445h1v3h-1zM804 359h2v3h-2zM298 417h2v2h-2zM536 144h2v1h-2zM1198 200h1v1h-1zM826 393h3v2h-3zM662 141h1v3h-1zM708 234h3v1h-3zM542 360h1v2h-1zM527 462h1v2h-1zM1001 259h2v3h-2zM1092 316h1v2h-1zM623 146h2v2h-2zM1055 129h2v2h-2zM959 407h2v2h-2zM1133 226h2v1h-2zM1185 154h3v2h-3zM489 372h2v3h-2zM809 428h3v3h-3zM423 157h3v3h-3zM379 220h2v3h-2zM1071 411h2v1h-2zM265 151h3v2h-3zM877 164h3v2h-3zM1012 431h2v2h-2zM804 383h2v3h-2zM373 435h2v1h-2zM395 310h3v2h-3zM435 273h1v3h-1zM717 237h1v2h-1zM413 234h1v3h-1zM442 379h2v2h-2zM439 335h3v1h-3zM792 354h1v2h-1zM943 344h2v2h-2zM375 471h2v2h-2zM1042 172h2v1h-2zM477 118h2v2h-2zM595 276h1v2h-1zM890 215h2v2h-2zM472 301h1v2h-1zM340 223h3v2h-3zM346 391h3v2h-3zM947 154h1v2h-1zM655 350h2v2h-2zM320 224h2v2h-2zM848 246h2v1h-2zM1087 103h3v3h-3zM1113 96h2v1h-2zM913 308h2v2h-2zM1191 415h2v2h-2zM451 440h3v2h-3zM448 246h2v3h-2zM305 458h2v1h-2zM429 136h2v2h-2zM854 394h3v1h-3zM1111 209h2v3h-2zM326 171h1v1h-1zM864 280h2v1h-2zM728 99h2v3h-2zM866 100h3v3h-3zM434 95h1v2h-1zM390 188h2v2h-2zM907 184h2v3h-2zM485 333h2v3h-2zM783 251h3v2h-3zM784 301h2v2h-2zM264 321h2v3h-2zM977 280h1v1h-1zM323 240h3v2h-3zM577 471h1v3h-1zM492 286h1v2h-1zM1094 86h1v1h-1zM844 134h3v1h-3zM434 109h3v2h-3zM513 468h1v3h-1zM849 302h3v2h-3zM1154 334h1v2h-1zM865 367h3v2h-3zM949 371h2v2h-2zM945 342h2v3h-2zM550 465h2v2h-2zM824 246h1v2h-1zM620 313h2v3h-2zM649 304h3v3h-3zM256 112h1v3h-1zM426 100h3v2h-3zM264 303h1v1h-1zM555 390h1v2h-1zM603 466h1v2h-1zM646 251h2v3h-2zM405 151h1v3h-1zM460 188h2v2h-2zM367 353h1v1h-1zM697 442h1v2h-1zM306 132h2v2h-2zM1087 187h3v2h-3zM328 166h2v2h-2zM554 304h3v3h-3zM746 244h2v1h-2zM753 301h3v3h-3zM688 179h2v2h-2zM1201 227h2v2h-2zM1146 190h3v1h-3zM591 305h3v3h-3zM1112 320h2v3h-2zM288 280h3v1h-3zM419 365h2v2h-2zM379 150h3v2h-3zM631 245h2v2h-2zM516 245h3v2h-3zM821 393h2v3h-2zM805 300h1v2h-1zM1080 119h2v2h-2zM438 243h2v3h-2zM819 128h1v3h-1zM824 207h2v2h-2zM913 322h2v2h-2zM387 369h2v2h-2zM661 258h2v2h-2zM725 162h1v2h-1zM430 385h3v1h-3zM694 164h2v1h-2zM955 157h3v3h-3zM935 449h2v2h-2zM410 349h2v2h-2zM410 101h1v2h-1zM635 274h2v3h-2zM391 135h2v3h-2zM1080 191h2v1h-2zM612 275h1v1h-1zM1047 356h2v1h-2zM735 265h3v1h-3zM810 93h2v2h-2zM875 439h3v2h-3zM687 184h2v1h-2zM476 410h2v2h-2zM1203 169h2v1h-2zM1170 188h2v2h-2zM761 131h2v1h-2zM247 355h2v1h-2zM1095 100h3v2h-3zM792 286h1v1h-1zM1208 180h3v3h-3zM334 330h1v2h-1zM452 246h3v2h-3zM992 379h3v2h-3zM669 314h1v2h-1zM372 269h1v2h-1zM630 238h3v2h-3zM674 236h2v2h-2zM502 464h2v2h-2zM262 336h3v1h-3zM339 303h3v2h-3zM511 273h1v2h-1zM972 284h1v2h-1zM691 97h2v3h-2zM1073 142h2v2h-2zM438 369h2v1h-2zM961 223h2v2h-2zM697 441h1v3h-1zM597 407h1v2h-1zM422 378h1v1h-1zM1154 356h2v1h-2zM627 212h3v2h-3zM1153 297h2v2h-2zM1152 227h1v2h-1zM427 161h1v2h-1zM462 395h1v2h-1zM703 421h3v2h-3zM932 198h2v1h-2zM294 110h2v2h-2zM494 220h3v1h-3zM240 209h2v2h-2zM410 193h3v3h-3zM559 458h2v2h-2zM581 448h2v3h-2zM326 339h3v2h-3zM432 336h1v2h-1zM1186 216h2v2h-2zM318 242h2v3h-2zM672 185h3v3h-3zM588 99h1v3h-1z" fill="#fffdf0" fill-opacity="0.3" shape-rendering="crispEdges"/>
<path d="M362 412h1v2h-1zM346 378h2v2h-2zM1003 118h1v2h-1zM655 379h1v2h-1zM492 394h2v1h-2zM1114 93h1v3h-1zM240 425h3v2h-3zM1180 365h2v2h-2zM1151 297h2v2h-2zM976 453h1v2h-1zM1203 417h1v2h-1zM1184 277h2v3h-2zM887 200h2v2h-2zM1060 279h2v1h-2zM959 239h3v2h-3zM590 426h3v2h-3zM315 340h1v2h-1zM741 235h2v1h-2zM690 202h2v3h-2zM797 334h1v3h-1zM453 86h1v3h-1zM1061 219h2v3h-2zM827 366h2v3h-2zM286 421h2v3h-2zM426 278h2v2h-2zM637 82h2v3h-2zM1001 211h2v1h-2zM320 296h2v1h-2zM1055 344h1v1h-1zM970 191h2v1h-2zM1012 153h2v1h-2zM395 181h1v2h-1zM866 196h3v2h-3zM717 126h2v2h-2zM567 392h2v1h-2zM479 366h1v3h-1zM654 462h1v1h-1zM620 95h1v2h-1zM921 346h2v2h-2zM1188 328h3v3h-3zM744 93h3v3h-3zM1018 339h2v1h-2zM354 164h1v2h-1zM300 111h2v2h-2zM638 180h1v3h-1zM1092 96h1v3h-1zM682 404h3v3h-3zM729 229h2v1h-2zM432 344h2v3h-2zM421 122h3v2h-3zM521 276h2v3h-2zM552 466h1v2h-1zM651 185h1v2h-1zM1144 216h3v3h-3zM705 466h1v1h-1zM941 115h1v2h-1zM1123 165h2v3h-2zM726 181h2v2h-2zM342 173h2v2h-2zM363 296h1v2h-1zM269 110h1v2h-1zM565 321h2v1h-2zM790 169h1v2h-1zM588 197h2v1h-2zM679 190h1v2h-1zM243 343h1v2h-1zM343 427h1v2h-1zM465 467h2v2h-2zM344 147h1v2h-1zM960 122h2v3h-2zM1122 196h2v2h-2zM539 162h2v1h-2zM257 388h2v3h-2zM544 234h2v1h-2zM293 205h2v2h-2zM340 165h2v3h-2zM434 159h2v1h-2zM1034 116h2v1h-2zM869 332h1v2h-1zM1178 98h1v2h-1zM1007 307h2v2h-2zM558 294h2v3h-2zM321 167h1v2h-1zM301 296h1v1h-1zM252 85h2v2h-2zM690 417h1v3h-1zM993 209h2v2h-2zM406 140h1v2h-1zM530 358h2v2h-2zM354 162h2v1h-2zM995 402h2v3h-2zM654 143h3v2h-3zM478 107h2v2h-2zM769 293h2v2h-2zM241 408h1v2h-1zM707 391h2v3h-2zM249 351h2v2h-2zM812 136h2v2h-2zM783 149h1v2h-1zM707 151h2v3h-2zM716 268h1v2h-1zM561 320h3v2h-3zM1183 167h1v3h-1zM863 225h2v2h-2zM536 352h2v2h-2zM392 355h2v3h-2zM314 130h2v3h-2zM790 150h2v2h-2zM444 304h1v2h-1zM899 361h2v2h-2zM735 146h3v1h-3zM744 117h2v1h-2zM493 438h1v3h-1zM1122 252h2v2h-2zM347 316h2v1h-2zM878 190h2v3h-2zM234 156h2v3h-2zM251 326h2v2h-2zM1049 162h2v2h-2zM762 188h2v2h-2zM1046 256h1v3h-1zM580 245h1v2h-1zM790 231h2v1h-2zM1116 91h2v1h-2zM765 458h3v2h-3zM304 227h2v2h-2zM723 221h2v2h-2zM231 254h2v2h-2zM529 237h3v3h-3zM713 334h2v2h-2zM430 83h2v3h-2zM938 370h3v3h-3zM425 442h2v3h-2zM631 372h2v2h-2zM671 342h1v2h-1zM746 346h2v2h-2zM1181 213h2v3h-2zM1185 354h3v1h-3zM961 331h3v2h-3zM848 240h3v2h-3zM852 447h2v2h-2zM983 399h2v1h-2zM573 185h3v2h-3zM1087 294h1v2h-1zM705 264h1v2h-1zM731 372h2v1h-2zM579 338h1v2h-1zM728 450h3v1h-3zM624 350h2v2h-2zM435 163h2v2h-2zM298 354h2v2h-2zM689 299h1v2h-1zM521 368h2v2h-2zM579 370h2v3h-2zM622 270h2v3h-2zM554 168h2v2h-2zM1057 93h2v2h-2zM541 250h1v2h-1zM417 326h1v3h-1zM665 438h3v2h-3zM825 184h2v2h-2zM366 135h3v2h-3zM584 375h1v1h-1zM934 362h2v1h-2zM335 236h2v1h-2zM1167 99h2v1h-2zM1102 166h1v2h-1zM920 399h2v2h-2zM566 408h1v3h-1zM909 119h2v2h-2zM716 229h1v2h-1zM462 192h2v3h-2zM612 258h2v2h-2zM717 125h1v1h-1zM276 393h2v2h-2zM373 341h1v3h-1zM602 132h2v2h-2zM1118 95h1v3h-1zM1054 98h2v1h-2zM654 156h2v2h-2zM960 349h1v2h-1zM612 328h2v2h-2zM471 311h2v2h-2zM573 318h2v3h-2zM1180 434h2v2h-2zM928 291h3v1h-3zM930 371h3v1h-3zM477 462h1v1h-1zM1131 415h1v1h-1zM537 131h1v2h-1zM881 431h3v2h-3zM255 286h1v2h-1zM1015 115h1v2h-1zM287 183h3v2h-3zM486 230h1v2h-1zM323 410h2v3h-2zM432 441h2v2h-2zM1168 309h1v2h-1zM670 467h3v3h-3zM918 290h2v2h-2zM426 233h2v1h-2zM632 131h1v1h-1zM525 393h2v2h-2zM640 206h2v2h-2zM964 284h1v3h-1zM350 205h3v2h-3zM1000 305h2v2h-2zM701 438h3v2h-3zM744 306h2v2h-2zM919 373h2v2h-2zM625 263h2v3h-2zM728 93h2v2h-2zM782 435h1v2h-1zM1151 323h1v3h-1zM931 161h1v3h-1zM746 112h1v2h-1zM861 149h2v1h-2zM809 433h2v2h-2zM446 160h2v2h-2zM647 345h2v2h-2zM962 382h2v2h-2zM305 322h2v3h-2zM803 97h2v1h-2zM416 198h3v1h-3zM760 402h2v2h-2zM634 448h2v2h-2zM821 308h2v2h-2zM359 255h1v3h-1zM988 462h2v1h-2zM625 447h3v1h-3zM497 386h3v2h-3zM984 233h1v2h-1zM578 243h1v2h-1zM1028 225h1v3h-1zM1001 452h2v2h-2zM1151 194h2v2h-2zM655 385h2v2h-2zM932 273h2v2h-2zM320 132h1v2h-1zM946 122h1v2h-1zM990 120h3v2h-3zM1048 116h2v1h-2zM769 290h2v1h-2zM1158 460h1v3h-1zM1020 356h1v2h-1zM316 233h3v2h-3zM519 280h2v1h-2zM824 268h1v2h-1zM832 355h1v3h-1zM483 371h2v2h-2zM1082 329h2v2h-2zM842 417h1v1h-1zM973 366h2v2h-2zM286 325h2v1h-2zM454 189h3v2h-3zM634 132h1v2h-1zM780 315h1v3h-1zM912 186h1v2h-1zM591 265h2v2h-2zM824 152h2v2h-2zM755 104h2v3h-2zM907 333h1v2h-1zM841 269h1v2h-1zM1100 354h1v1h-1zM1043 101h1v1h-1zM452 159h2v2h-2zM644 83h1v2h-1zM1036 167h3v2h-3zM505 326h2v2h-2zM820 284h1v1h-1zM554 136h2v2h-2zM898 97h1v1h-1zM941 122h2v2h-2zM494 101h1v1h-1zM367 237h3v2h-3zM322 210h1v3h-1zM1101 455h1v2h-1zM1006 364h1v3h-1zM1139 187h1v3h-1zM839 287h2v2h-2zM756 235h1v2h-1zM769 103h2v1h-2zM402 165h2v2h-2zM766 179h2v3h-2zM487 131h3v1h-3zM961 108h2v2h-2zM764 411h3v3h-3zM901 93h2v2h-2zM899 142h2v2h-2zM894 404h2v2h-2zM588 196h1v2h-1zM1047 240h2v2h-2zM495 342h3v3h-3zM781 426h2v1h-2zM994 315h2v2h-2zM692 96h3v1h-3zM1026 406h2v2h-2zM978 296h2v2h-2zM782 221h1v1h-1zM992 439h2v2h-2zM1093 217h3v1h-3zM835 243h2v2h-2zM969 215h3v2h-3zM853 284h1v2h-1zM890 429h1v3h-1zM860 272h2v1h-2zM1186 90h1v2h-1zM849 453h2v2h-2zM328 212h2v2h-2zM999 261h2v2h-2zM713 383h3v2h-3zM654 237h1v3h-1zM709 185h1v2h-1zM242 243h1v1h-1zM1153 260h2v3h-2zM513 142h2v1h-2zM1158 89h2v2h-2zM757 234h1v3h-1zM465 384h2v2h-2zM403 310h2v2h-2zM649 391h2v2h-2zM917 351h3v3h-3zM306 237h2v1h-2zM786 100h1v3h-1zM323 399h1v3h-1zM465 86h2v2h-2zM503 244h2v2h-2zM1197 357h2v3h-2zM1203 395h2v2h-2zM915 397h2v2h-2zM583 141h2v2h-2zM1058 386h2v1h-2zM560 137h2v2h-2zM573 190h2v1h-2zM377 132h2v2h-2zM423 394h2v3h-2zM425 249h1v3h-1zM367 261h3v2h-3zM311 446h1v1h-1zM260 240h2v2h-2zM810 132h2v3h-2zM303 176h2v2h-2zM510 340h2v2h-2zM965 151h2v2h-2zM571 290h1v3h-1zM1041 163h2v1h-2zM515 397h2v1h-2zM833 376h2v3h-2zM288 405h2v2h-2zM657 310h3v2h-3zM725 236h3v2h-3zM1033 231h2v2h-2zM1028 307h3v1h-3zM1023 466h2v2h-2zM765 171h1v2h-1zM889 441h2v2h-2zM715 343h1v2h-1zM779 259h1v2h-1zM441 402h2v2h-2zM1120 118h3v1h-3zM1060 407h1v2h-1zM417 280h2v2h-2zM424 222h2v1h-2zM565 102h1v3h-1zM404 139h2v2h-2zM273 277h2v2h-2zM321 237h2v3h-2zM864 235h2v2h-2zM1172 101h2v1h-2zM649 311h2v2h-2zM815 298h2v1h-2zM740 91h2v1h-2zM267 288h1v2h-1zM560 225h2v1h-2zM855 309h2v1h-2zM1061 256h2v3h-2zM234 144h2v2h-2zM440 431h1v3h-1zM336 205h2v2h-2zM927 381h1v2h-1zM970 236h2v3h-2zM1001 114h3v2h-3zM770 332h1v2h-1zM327 363h1v3h-1zM526 422h1v3h-1zM304 205h2v3h-2zM361 254h2v1h-2zM259 205h3v2h-3zM1100 97h2v3h-2zM647 461h1v2h-1zM343 132h2v3h-2zM350 185h1v1h-1zM585 259h2v2h-2zM446 445h1v1h-1zM1193 94h2v3h-2zM270 171h1v3h-1zM1031 95h2v2h-2zM436 194h2v3h-2zM594 234h3v1h-3zM422 152h3v3h-3zM522 445h2v3h-2zM695 91h1v1h-1zM876 307h2v2h-2zM1041 309h2v1h-2zM422 282h2v3h-2zM783 296h2v2h-2zM818 369h2v3h-2zM692 406h3v3h-3zM526 380h2v3h-2zM759 181h1v3h-1zM973 386h2v2h-2zM458 255h3v2h-3zM659 332h2v1h-2zM481 293h1v2h-1zM602 208h2v3h-2zM1091 403h1v2h-1zM553 343h3v1h-3zM356 351h2v3h-2zM564 92h3v2h-3zM971 377h3v3h-3zM858 199h2v2h-2zM457 98h1v2h-1zM469 235h1v3h-1zM379 467h3v2h-3zM232 356h2v2h-2zM718 345h1v2h-1zM659 215h2v2h-2zM542 317h2v2h-2zM1025 340h2v1h-2zM968 331h1v3h-1zM447 318h3v2h-3zM659 387h1v1h-1zM815 282h1v2h-1zM517 100h1v2h-1zM234 106h3v1h-3zM295 85h2v2h-2zM557 89h1v3h-1zM438 160h2v3h-2zM770 180h1v2h-1zM437 427h1v3h-1zM917 95h2v2h-2zM348 301h2v1h-2zM977 167h1v2h-1zM1118 120h2v2h-2zM292 254h1v1h-1zM963 457h1v3h-1zM318 160h1v2h-1zM347 160h3v1h-3zM316 388h3v2h-3zM1150 360h2v2h-2zM939 364h1v2h-1zM573 259h3v3h-3zM605 346h1v2h-1zM1144 406h2v2h-2zM823 126h1v2h-1zM588 205h2v3h-2zM247 131h1v2h-1zM786 421h3v2h-3zM394 333h1v2h-1zM388 398h2v2h-2zM579 204h2v2h-2zM534 249h2v2h-2zM414 290h1v2h-1zM867 368h2v3h-2zM1146 220h2v2h-2zM566 128h2v1h-2zM1051 200h2v2h-2zM470 383h1v2h-1zM914 84h1v2h-1zM449 279h2v2h-2zM390 111h2v3h-2zM730 428h2v3h-2zM1004 418h2v3h-2zM732 153h2v2h-2zM655 110h1v2h-1zM978 134h1v1h-1zM391 223h1v2h-1zM311 174h3v2h-3zM316 333h1v3h-1zM566 306h3v1h-3zM444 428h2v1h-2zM709 281h3v3h-3zM887 203h2v3h-2zM318 213h1v2h-1zM292 338h2v1h-2zM1032 421h2v2h-2zM519 329h1v1h-1zM653 443h1v2h-1zM580 337h2v2h-2zM795 319h3v2h-3zM547 219h2v2h-2zM742 303h1v2h-1zM1193 140h2v2h-2zM267 331h1v1h-1zM268 279h2v2h-2zM916 439h1v3h-1zM925 237h2v3h-2zM940 405h2v2h-2zM812 227h3v2h-3zM1036 252h3v3h-3zM528 116h2v2h-2zM389 254h1v2h-1zM786 460h1v3h-1zM711 85h1v3h-1zM289 337h2v2h-2zM1202 210h1v3h-1zM750 173h3v2h-3zM689 281h2v2h-2zM740 279h2v3h-2zM1056 162h3v2h-3zM899 399h2v1h-2zM647 360h2v2h-2zM836 253h2v2h-2zM587 162h1v1h-1zM326 233h2v2h-2zM409 257h2v1h-2zM806 451h2v2h-2zM709 195h2v2h-2zM1056 188h1v3h-1zM290 343h2v2h-2zM667 206h2v1h-2zM611 373h2v2h-2zM687 279h1v2h-1zM761 248h2v2h-2zM726 206h2v2h-2zM829 169h1v2h-1zM867 142h3v1h-3zM647 258h2v3h-2zM546 191h1v2h-1zM708 255h3v2h-3zM861 232h2v2h-2zM329 152h1v2h-1zM334 130h2v2h-2zM1205 274h3v3h-3zM565 308h2v3h-2zM1014 208h3v2h-3zM1038 435h1v2h-1zM1072 446h1v2h-1zM975 210h1v2h-1zM583 316h3v2h-3zM435 433h2v2h-2zM538 470h2v2h-2zM239 336h2v3h-2zM998 322h1v2h-1zM295 320h2v2h-2zM927 196h2v1h-2zM1023 118h2v2h-2zM340 390h1v2h-1zM372 252h2v3h-2zM1181 144h1v1h-1zM664 285h2v2h-2zM1063 318h3v2h-3zM251 385h1v2h-1zM910 313h1v1h-1zM361 264h1v2h-1zM584 135h3v2h-3zM1194 231h1v3h-1zM424 175h3v1h-3zM939 200h2v3h-2zM416 392h1v2h-1zM556 255h2v3h-2zM926 270h2v2h-2zM653 334h2v2h-2zM658 458h1v2h-1zM294 174h1v2h-1zM887 260h2v2h-2zM787 103h2v1h-2zM274 415h2v2h-2zM361 173h3v2h-3zM1118 385h2v1h-2zM357 440h2v3h-2zM289 127h1v1h-1zM659 140h1v2h-1zM358 194h2v1h-2zM704 374h2v2h-2zM321 294h2v1h-2zM357 412h3v2h-3zM861 294h2v2h-2zM296 312h3v2h-3zM333 220h1v1h-1zM906 312h1v3h-1zM654 458h1v2h-1zM708 106h2v3h-2zM523 326h3v3h-3zM259 436h2v2h-2zM445 436h2v2h-2zM663 103h2v2h-2zM961 252h2v3h-2zM809 207h3v2h-3zM975 341h2v3h-2zM815 268h3v2h-3zM531 106h1v2h-1zM1184 430h2v2h-2zM534 465h2v2h-2zM335 471h2v1h-2zM667 366h2v3h-2zM594 359h1v3h-1zM428 186h1v2h-1zM508 334h3v3h-3zM908 302h1v1h-1zM902 318h3v3h-3zM1140 256h2v2h-2zM808 346h1v2h-1zM285 127h1v1h-1zM774 200h1v2h-1zM753 170h1v1h-1zM724 432h2v2h-2zM492 134h2v2h-2zM299 314h1v1h-1zM654 458h2v2h-2zM658 397h1v2h-1zM983 95h3v2h-3zM1165 243h2v3h-2zM1081 207h1v2h-1zM483 351h3v3h-3zM604 268h3v3h-3zM232 203h3v2h-3zM1207 432h1v2h-1zM1002 231h2v1h-2zM360 416h3v1h-3zM1099 355h2v2h-2zM327 176h2v1h-2zM405 221h3v3h-3zM852 325h2v3h-2zM1183 408h1v2h-1zM369 131h2v2h-2zM834 331h1v3h-1zM496 314h2v3h-2zM1044 123h1v3h-1zM930 387h3v1h-3zM781 367h1v2h-1zM676 374h2v2h-2zM1018 240h2v1h-2zM700 362h2v2h-2zM713 410h1v3h-1zM258 395h2v3h-2zM313 344h2v1h-2zM518 97h1v1h-1zM302 99h2v2h-2zM532 291h2v2h-2zM1064 415h1v2h-1zM475 317h1v2h-1zM535 469h2v2h-2zM930 311h3v2h-3zM478 338h1v2h-1zM365 399h2v1h-2zM540 436h1v2h-1zM268 166h1v2h-1zM987 363h2v3h-2zM1037 128h2v3h-2zM680 316h1v2h-1zM655 124h1v2h-1zM532 284h2v2h-2zM489 218h2v1h-2zM259 86h2v1h-2zM433 205h3v2h-3zM343 344h1v2h-1zM260 330h1v3h-1zM815 426h1v2h-1zM1189 93h1v2h-1zM400 289h1v2h-1zM366 88h1v2h-1zM1126 115h2v2h-2zM421 85h2v2h-2zM484 293h2v3h-2zM749 263h1v2h-1zM975 301h1v3h-1zM435 91h1v2h-1zM372 206h1v2h-1zM944 313h2v1h-2zM1013 95h2v2h-2zM766 294h2v1h-2zM444 200h2v2h-2zM1122 90h2v2h-2zM417 285h2v2h-2zM456 164h1v1h-1zM875 239h2v1h-2zM378 120h1v3h-1zM652 454h1v3h-1zM690 339h1v2h-1zM1086 106h2v3h-2zM696 281h2v2h-2zM1031 309h2v2h-2zM579 469h2v2h-2zM600 324h1v2h-1zM904 315h2v1h-2zM256 423h2v1h-2zM1189 261h1v2h-1zM732 428h3v1h-3zM502 311h2v2h-2zM358 147h3v2h-3zM932 366h2v2h-2zM258 277h1v2h-1zM485 302h2v3h-2zM880 167h3v1h-3zM398 227h3v2h-3zM1079 346h3v1h-3zM782 445h1v1h-1zM249 96h2v2h-2zM757 322h3v2h-3zM247 422h1v2h-1zM569 411h3v1h-3zM253 281h2v2h-2zM1204 172h2v1h-2zM401 83h2v3h-2zM747 96h2v2h-2zM1029 182h2v2h-2zM416 97h3v2h-3zM633 281h2v2h-2zM561 442h1v2h-1zM763 385h3v3h-3zM841 186h2v2h-2zM510 217h3v2h-3zM764 427h3v3h-3zM452 89h3v1h-3zM489 423h1v2h-1zM1035 125h1v1h-1zM607 149h1v2h-1zM769 337h1v1h-1zM497 288h3v2h-3zM579 252h2v2h-2zM1032 254h2v2h-2zM653 434h3v2h-3zM806 154h1v2h-1zM1173 459h1v3h-1zM542 434h1v2h-1zM979 438h3v1h-3zM751 268h3v2h-3zM582 287h3v2h-3zM988 198h3v2h-3zM864 248h2v1h-2zM752 91h1v2h-1zM440 236h2v3h-2zM498 314h2v2h-2zM1113 113h2v1h-2zM992 439h2v2h-2zM1159 117h1v1h-1zM410 157h2v2h-2zM930 281h3v2h-3zM776 420h3v2h-3zM685 109h3v2h-3zM362 317h3v2h-3zM855 195h3v1h-3zM911 253h2v1h-2zM977 205h3v2h-3zM911 378h1v3h-1zM1027 256h3v1h-3zM646 368h2v1h-2zM242 446h2v3h-2zM631 461h1v2h-1zM950 137h2v3h-2zM918 242h3v2h-3zM1003 264h2v3h-2zM1025 314h3v1h-3zM613 448h2v2h-2zM548 258h2v3h-2zM1112 340h2v1h-2zM1166 235h2v2h-2zM353 458h1v1h-1zM689 141h1v2h-1zM271 113h1v1h-1zM798 126h2v2h-2zM374 217h1v2h-1zM1186 321h1v2h-1zM710 465h1v2h-1zM1043 237h2v3h-2zM885 209h1v1h-1zM1168 397h2v1h-2zM231 340h3v2h-3zM768 312h2v2h-2zM680 127h3v2h-3zM531 341h1v3h-1zM722 372h1v2h-1zM596 378h1v2h-1zM1134 136h1v3h-1zM238 358h2v2h-2zM859 241h2v2h-2zM1113 253h2v1h-2zM934 206h1v2h-1zM1050 176h2v2h-2zM705 283h2v1h-2zM445 248h1v1h-1zM884 403h3v2h-3zM389 188h3v2h-3zM571 180h1v1h-1zM447 442h2v3h-2zM246 88h1v2h-1zM485 436h1v2h-1zM905 350h2v2h-2zM334 83h2v2h-2zM792 348h2v2h-2zM1210 389h2v2h-2zM501 219h1v2h-1zM449 266h2v2h-2zM933 123h2v1h-2zM398 376h2v2h-2zM1062 247h2v1h-2zM297 141h2v2h-2zM533 299h1v2h-1zM518 136h3v3h-3zM528 134h2v3h-2zM545 190h2v3h-2zM514 393h2v2h-2zM484 425h2v2h-2zM937 431h2v1h-2zM321 162h2v1h-2zM743 201h2v1h-2zM1167 326h2v2h-2zM568 325h2v2h-2zM1149 175h1v1h-1zM559 336h1v2h-1zM1105 425h2v3h-2zM1066 249h3v2h-3zM274 275h2v1h-2zM603 252h1v2h-1zM557 311h2v3h-2zM430 281h1v2h-1zM1011 239h3v2h-3zM995 173h2v1h-2zM1017 245h2v2h-2zM481 82h1v2h-1zM996 152h2v2h-2zM911 201h2v1h-2zM698 400h2v2h-2zM354 344h2v1h-2zM786 197h3v2h-3zM564 182h2v2h-2zM302 386h3v3h-3zM859 289h3v1h-3zM446 240h1v1h-1zM748 380h1v1h-1zM955 386h3v2h-3zM418 168h2v2h-2zM760 212h3v2h-3zM418 314h2v2h-2zM888 323h3v2h-3zM928 185h2v2h-2zM721 167h1v3h-1zM879 123h2v2h-2zM954 167h3v1h-3zM827 233h2v2h-2zM853 228h1v2h-1zM936 448h2v2h-2zM628 416h2v2h-2zM511 191h2v2h-2zM836 388h2v2h-2zM612 110h1v2h-1zM435 418h1v2h-1zM561 83h3v3h-3zM716 250h2v2h-2zM970 445h3v2h-3zM975 371h2v2h-2zM1102 113h3v2h-3zM922 438h2v2h-2zM922 130h2v1h-2zM656 160h1v2h-1zM606 349h1v3h-1zM324 217h2v2h-2zM1024 419h2v2h-2zM411 278h3v2h-3zM978 128h2v1h-2zM235 193h1v1h-1zM384 245h1v1h-1zM996 293h2v2h-2zM822 395h1v2h-1zM302 141h1v3h-1zM832 456h2v2h-2zM1177 468h2v2h-2zM579 190h3v3h-3zM691 387h2v3h-2zM447 131h2v1h-2zM1010 251h2v2h-2zM450 345h2v2h-2zM887 471h1v1h-1zM1201 418h2v2h-2zM688 227h1v2h-1zM427 268h2v3h-2zM434 319h2v1h-2zM1046 116h1v2h-1zM732 343h2v2h-2zM933 228h3v1h-3zM533 198h1v2h-1zM243 377h2v2h-2zM470 123h2v1h-2zM954 451h1v3h-1zM717 271h2v2h-2zM259 333h3v2h-3zM612 174h1v3h-1zM845 458h3v2h-3zM865 205h1v2h-1zM1055 151h1v2h-1zM477 278h3v1h-3zM733 109h2v2h-2zM590 96h2v2h-2zM1188 214h3v2h-3zM1141 404h2v3h-2zM461 434h1v2h-1zM351 382h1v1h-1zM841 116h2v2h-2zM677 113h3v2h-3zM1033 98h3v2h-3zM544 342h3v2h-3zM673 373h2v2h-2zM1055 115h2v2h-2zM240 164h2v2h-2zM1048 325h1v2h-1zM974 201h1v2h-1zM951 447h1v2h-1zM1124 164h1v1h-1zM930 185h2v3h-2zM1116 187h1v2h-1zM909 375h1v3h-1zM802 303h1v1h-1zM1020 463h2v2h-2zM1189 426h1v3h-1zM1059 299h2v2h-2zM623 320h3v2h-3zM421 135h3v1h-3zM355 95h2v2h-2zM576 432h3v1h-3zM293 259h3v2h-3zM930 202h1v2h-1zM648 222h2v2h-2zM517 267h2v1h-2zM536 353h1v2h-1zM289 84h2v2h-2zM233 388h1v2h-1zM928 395h3v3h-3zM1166 168h2v2h-2zM410 167h1v2h-1zM1201 115h2v2h-2zM431 392h2v2h-2zM1007 357h2v3h-2zM580 430h1v3h-1zM330 416h3v2h-3zM829 471h2v2h-2zM293 341h2v2h-2zM615 225h2v2h-2zM737 315h1v2h-1zM1106 217h3v2h-3zM570 128h2v1h-2zM451 200h3v2h-3zM418 357h2v1h-2zM390 308h1v1h-1zM491 311h1v3h-1zM674 436h2v2h-2zM284 274h2v3h-2zM516 228h1v3h-1zM659 349h3v3h-3zM459 271h2v2h-2zM752 154h3v2h-3zM416 217h1v3h-1zM746 242h2v2h-2zM1000 82h2v3h-2zM1175 337h2v1h-2zM370 185h2v2h-2zM1198 135h2v2h-2zM579 421h2v1h-2zM1067 260h3v2h-3zM536 199h3v2h-3zM531 232h2v1h-2zM804 350h1v1h-1zM646 163h3v1h-3zM471 438h1v2h-1zM441 197h2v2h-2zM913 305h2v2h-2zM912 228h3v1h-3zM303 199h2v2h-2zM431 197h2v2h-2zM860 442h2v2h-2zM1057 365h1v2h-1zM244 186h2v2h-2zM970 313h3v1h-3zM440 256h1v2h-1zM291 366h1v2h-1zM647 286h1v3h-1zM928 99h1v3h-1zM763 363h3v2h-3zM525 134h3v2h-3zM656 342h2v2h-2zM658 223h1v2h-1zM430 261h2v2h-2zM1194 325h2v2h-2zM295 449h2v2h-2zM739 401h1v3h-1zM1117 206h1v2h-1zM480 429h1v2h-1zM314 264h3v2h-3zM1010 441h2v3h-2zM614 85h1v1h-1zM958 191h3v2h-3zM905 298h3v2h-3zM326 383h2v2h-2zM1029 125h1v2h-1zM864 201h2v2h-2zM261 192h3v2h-3zM489 374h1v2h-1zM1196 213h1v1h-1zM357 133h2v2h-2zM1046 265h2v1h-2zM969 185h2v3h-2zM788 245h2v1h-2zM793 88h2v1h-2zM720 165h2v1h-2zM239 266h2v2h-2zM849 121h2v3h-2zM737 387h1v2h-1zM381 440h1v1h-1zM678 125h2v2h-2zM1014 121h1v3h-1zM542 421h2v1h-2zM435 391h2v3h-2zM587 382h2v2h-2zM404 331h1v2h-1zM910 440h1v1h-1zM1118 279h2v2h-2zM963 294h3v3h-3zM898 252h2v2h-2zM353 340h2v1h-2zM1165 188h1v2h-1zM444 433h2v1h-2zM571 170h1v2h-1zM811 347h2v2h-2zM381 316h3v1h-3zM878 322h3v1h-3zM303 415h3v1h-3zM435 416h2v2h-2zM880 220h3v2h-3zM632 220h2v2h-2zM1046 277h1v1h-1zM285 241h2v2h-2zM428 420h1v2h-1zM535 141h1v1h-1zM513 380h1v3h-1zM540 411h2v1h-2zM459 388h2v2h-2zM720 441h1v2h-1zM1111 332h1v2h-1zM402 312h2v1h-2zM234 400h2v2h-2zM869 148h1v1h-1zM525 228h2v3h-2zM364 199h2v3h-2zM1194 198h1v2h-1zM662 331h1v1h-1zM1175 236h3v1h-3zM911 264h1v2h-1zM698 421h1v3h-1zM953 290h1v2h-1zM655 432h1v2h-1zM712 100h1v2h-1zM296 98h2v2h-2zM953 257h2v3h-2zM962 336h2v2h-2zM269 466h3v2h-3zM358 445h3v1h-3zM1002 426h1v2h-1zM332 84h3v2h-3zM425 466h2v2h-2zM527 399h3v2h-3zM1187 172h1v2h-1zM815 200h3v1h-3zM1094 217h1v3h-1zM966 410h2v1h-2zM424 136h2v2h-2zM806 467h1v1h-1zM595 387h2v1h-2zM1144 126h2v2h-2zM288 410h2v2h-2zM501 273h3v2h-3zM954 308h2v3h-2zM446 281h2v2h-2zM419 160h1v3h-1zM394 246h2v3h-2zM941 118h1v2h-1zM790 153h2v1h-2zM372 280h1v2h-1zM266 279h3v2h-3zM906 367h2v2h-2zM336 289h2v1h-2zM726 136h1v2h-1zM540 119h2v2h-2zM740 457h1v3h-1zM716 461h1v2h-1zM589 327h1v2h-1zM629 209h2v2h-2zM1185 112h1v1h-1zM850 426h1v3h-1zM814 353h2v3h-2zM376 415h3v2h-3zM647 99h2v2h-2zM901 364h2v2h-2zM629 267h2v2h-2zM1191 325h2v2h-2zM917 179h3v2h-3zM649 307h2v1h-2zM519 396h2v2h-2zM359 138h3v2h-3zM1166 140h1v2h-1zM995 348h2v3h-2zM1206 148h2v2h-2zM529 168h1v2h-1zM581 406h2v2h-2zM681 99h2v2h-2zM750 207h1v2h-1zM350 388h2v2h-2zM690 285h2v3h-2zM382 274h1v1h-1zM416 237h3v2h-3zM709 96h1v2h-1zM257 306h2v2h-2zM472 404h2v2h-2zM595 402h1v3h-1zM337 399h2v1h-2zM483 458h1v2h-1zM1112 197h2v2h-2zM372 104h2v2h-2zM377 271h1v2h-1zM568 334h3v2h-3zM833 105h2v2h-2zM888 262h2v2h-2zM649 108h1v2h-1zM1152 208h3v2h-3zM765 352h2v2h-2zM1118 108h2v2h-2zM816 366h3v1h-3zM924 396h1v2h-1zM322 138h2v1h-2zM646 367h1v2h-1zM234 346h1v1h-1zM311 210h3v3h-3zM779 228h3v2h-3zM304 417h3v2h-3zM525 385h2v2h-2zM841 319h2v3h-2zM699 418h2v2h-2zM845 137h3v1h-3zM323 454h3v1h-3zM235 209h1v2h-1zM644 323h1v2h-1zM769 238h3v2h-3zM286 135h2v2h-2zM867 450h1v2h-1zM830 303h1v3h-1zM369 138h1v2h-1zM1137 406h1v2h-1zM679 223h3v2h-3zM751 463h1v2h-1zM1043 185h1v3h-1zM1067 124h2v2h-2zM650 132h2v2h-2zM787 379h2v2h-2zM1110 423h3v1h-3zM627 224h3v3h-3zM661 228h1v1h-1zM306 152h2v1h-2zM457 261h3v1h-3zM395 190h2v2h-2zM414 98h3v2h-3zM763 435h2v2h-2zM1036 86h2v2h-2zM425 152h1v2h-1zM1157 234h2v2h-2zM408 429h2v1h-2zM233 406h2v2h-2zM676 131h2v2h-2zM1202 213h2v1h-2zM1088 155h1v1h-1zM287 462h1v2h-1zM509 286h3v1h-3zM964 317h1v2h-1zM1101 251h1v2h-1zM281 323h2v2h-2zM798 460h2v3h-2zM282 126h2v2h-2zM734 448h3v2h-3zM1148 140h3v2h-3zM490 89h1v2h-1zM722 104h1v1h-1zM264 183h1v2h-1zM703 363h3v2h-3zM562 116h1v2h-1zM934 116h2v2h-2zM583 438h2v2h-2zM570 310h1v2h-1zM459 174h3v2h-3zM743 113h2v3h-2zM584 179h2v2h-2zM1024 130h1v2h-1zM438 450h1v1h-1zM656 230h2v2h-2zM1137 181h2v3h-2zM1103 417h1v1h-1zM583 269h2v2h-2zM805 463h3v2h-3zM549 330h2v1h-2zM1138 238h2v1h-2zM430 227h3v2h-3zM783 103h2v2h-2zM676 280h1v2h-1zM483 142h1v2h-1zM450 203h1v2h-1zM437 386h2v3h-2zM318 233h2v2h-2zM617 323h2v2h-2zM821 367h1v3h-1zM457 458h2v2h-2zM602 360h2v3h-2zM1181 85h2v2h-2zM254 230h2v2h-2zM372 320h1v2h-1zM342 268h1v2h-1zM310 448h1v2h-1zM1115 438h2v2h-2zM929 376h2v2h-2zM1203 135h1v2h-1zM843 365h1v2h-1zM787 303h1v1h-1zM1202 382h2v1h-2zM556 291h3v2h-3zM573 357h1v2h-1zM1141 230h1v2h-1zM356 326h2v1h-2zM684 394h2v2h-2zM993 110h2v2h-2zM489 450h1v3h-1zM586 443h2v2h-2zM1019 253h1v2h-1zM588 411h1v2h-1zM581 407h1v2h-1zM611 219h3v3h-3zM1145 241h2v2h-2zM283 299h3v2h-3zM1132 164h2v3h-2zM1010 160h2v1h-2zM639 347h2v2h-2zM426 129h2v3h-2zM966 294h1v1h-1zM547 417h1v2h-1zM1096 138h1v2h-1zM658 196h2v2h-2zM764 128h1v3h-1zM778 406h2v1h-2zM459 292h2v2h-2zM887 298h1v3h-1zM994 202h1v2h-1zM1163 106h2v1h-2zM867 327h1v2h-1zM946 167h2v2h-2zM243 234h3v3h-3zM319 176h2v3h-2zM668 414h2v1h-2zM371 271h2v2h-2zM767 162h2v1h-2zM717 340h2v2h-2zM375 238h2v3h-2zM1202 312h2v2h-2zM449 319h2v2h-2zM776 454h1v1h-1zM993 416h2v2h-2zM942 160h1v3h-1zM313 144h2v2h-2zM805 358h2v2h-2zM646 382h1v3h-1zM800 444h1v2h-1zM232 88h2v2h-2zM629 155h1v2h-1zM398 407h3v2h-3zM329 195h2v2h-2zM829 153h2v2h-2zM391 281h1v2h-1zM1072 116h2v2h-2zM1004 386h2v2h-2zM664 305h1v2h-1zM869 415h2v2h-2zM1027 356h2v2h-2zM461 410h2v2h-2zM1021 260h3v3h-3zM1012 100h1v3h-1zM383 130h1v2h-1zM429 234h2v2h-2zM654 409h2v3h-2zM403 412h3v3h-3zM472 156h1v1h-1zM480 245h1v2h-1zM859 417h2v2h-2zM624 263h1v1h-1zM510 172h1v2h-1zM876 339h3v3h-3zM1112 197h2v2h-2zM648 199h3v2h-3zM485 258h3v2h-3zM268 385h3v1h-3zM877 135h2v2h-2zM932 420h2v2h-2zM1154 164h2v3h-2zM771 346h2v2h-2zM341 398h2v1h-2zM609 283h2v2h-2zM688 270h1v2h-1zM970 435h1v3h-1zM681 376h2v2h-2zM1063 155h1v2h-1zM423 191h1v3h-1zM718 371h2v2h-2zM1127 142h1v2h-1zM641 109h3v1h-3zM600 281h1v2h-1zM366 440h2v2h-2zM1009 342h2v3h-2zM438 157h1v2h-1zM824 209h2v2h-2zM984 344h1v2h-1zM714 219h2v2h-2zM270 269h2v2h-2zM571 323h3v3h-3zM444 294h1v2h-1zM1015 106h1v2h-1zM1158 290h2v2h-2zM664 88h3v2h-3zM1160 92h2v2h-2zM511 350h1v3h-1zM889 395h3v1h-3zM469 270h2v2h-2zM667 112h1v3h-1zM1154 143h1v2h-1zM694 415h2v1h-2zM1040 87h2v2h-2zM468 200h1v1h-1zM432 441h2v2h-2zM970 392h2v1h-2zM849 136h2v2h-2zM481 278h2v2h-2zM969 204h2v1h-2zM294 219h1v2h-1zM909 335h2v2h-2zM996 237h1v1h-1zM689 209h2v2h-2zM1029 145h2v3h-2zM621 203h1v3h-1zM680 418h1v3h-1zM916 268h2v3h-2zM360 99h2v2h-2zM636 348h2v2h-2zM483 217h2v3h-2zM589 95h2v2h-2zM717 461h2v2h-2zM942 371h1v1h-1zM835 411h2v1h-2zM518 442h3v2h-3zM791 285h2v1h-2zM775 170h3v2h-3zM373 362h3v3h-3zM1172 328h3v2h-3zM993 342h1v1h-1zM980 101h1v2h-1zM999 433h1v2h-1zM235 248h1v1h-1zM1117 125h2v3h-2zM1057 316h2v3h-2zM960 273h1v2h-1zM461 239h1v2h-1zM1062 312h1v2h-1zM458 275h2v2h-2zM279 106h2v2h-2zM806 143h1v2h-1zM417 273h2v2h-2zM969 84h2v2h-2zM1169 366h2v2h-2zM270 131h1v2h-1zM1194 164h1v2h-1zM426 227h2v3h-2zM410 91h1v1h-1zM262 136h3v2h-3zM733 164h1v3h-1zM1175 384h2v2h-2zM909 299h2v3h-2zM837 113h2v1h-2zM1085 171h1v2h-1zM344 466h3v2h-3zM969 429h3v2h-3zM1041 172h3v2h-3zM709 351h3v2h-3zM903 371h1v2h-1zM667 343h2v2h-2zM855 382h1v3h-1zM1111 149h2v2h-2zM297 416h1v2h-1zM913 284h2v2h-2zM764 330h2v1h-2zM375 277h3v2h-3zM400 384h2v3h-2zM231 108h2v2h-2zM1134 100h2v3h-2zM306 259h3v1h-3zM501 256h2v1h-2zM402 377h1v3h-1zM617 304h1v2h-1zM707 217h3v2h-3zM815 362h2v3h-2zM897 277h2v1h-2zM1180 116h2v1h-2zM791 291h2v3h-2zM513 194h2v2h-2zM1001 437h2v3h-2zM377 309h1v2h-1zM264 420h3v2h-3zM710 449h3v2h-3zM884 454h2v2h-2zM658 177h2v3h-2zM302 344h2v1h-2zM899 381h2v1h-2zM1129 230h1v2h-1zM1183 208h2v1h-2zM730 264h1v2h-1zM425 302h3v2h-3zM835 377h1v2h-1zM1207 88h3v1h-3zM1198 83h2v2h-2zM551 395h3v2h-3zM942 324h1v2h-1zM1132 211h3v2h-3zM504 145h3v1h-3zM982 319h1v3h-1zM836 304h2v2h-2zM324 128h2v3h-2zM394 353h3v2h-3zM742 386h2v2h-2zM741 388h1v1h-1zM1057 116h2v2h-2zM795 448h1v2h-1zM823 347h2v2h-2zM653 277h2v1h-2zM697 182h3v3h-3zM796 108h1v2h-1zM568 234h3v2h-3zM487 345h2v2h-2zM246 345h2v2h-2zM302 239h1v2h-1zM423 329h2v1h-2zM1015 90h1v2h-1zM956 133h2v2h-2zM959 278h2v1h-2zM767 243h1v2h-1zM1194 197h3v2h-3zM804 94h2v2h-2zM519 272h1v3h-1zM606 355h2v2h-2zM1094 217h2v2h-2zM470 450h1v1h-1zM1051 201h2v3h-2zM793 315h1v2h-1zM797 229h3v3h-3zM370 382h1v2h-1zM773 169h2v1h-2zM815 404h2v2h-2zM632 233h2v2h-2zM361 401h1v3h-1zM341 399h1v2h-1zM694 381h2v2h-2zM933 280h1v3h-1zM776 184h1v2h-1zM286 221h2v2h-2zM529 98h2v2h-2zM884 423h3v2h-3zM531 143h3v3h-3zM961 225h1v2h-1zM1116 176h1v2h-1zM789 441h2v1h-2zM608 119h1v1h-1zM793 262h1v2h-1zM296 135h1v2h-1zM1062 118h2v2h-2zM1020 228h1v1h-1zM866 112h2v2h-2zM409 393h1v1h-1zM1146 166h2v2h-2zM243 437h2v2h-2zM832 197h2v2h-2zM836 124h2v3h-2zM421 85h2v2h-2zM393 277h2v2h-2zM1094 114h1v3h-1zM940 440h1v3h-1zM584 285h2v3h-2zM424 94h1v2h-1zM633 417h2v3h-2zM1127 175h2v2h-2zM1076 295h1v2h-1zM472 217h3v3h-3zM757 197h1v1h-1zM765 210h2v2h-2zM956 243h2v2h-2zM817 436h3v3h-3zM473 206h1v2h-1zM622 402h3v2h-3zM715 297h2v1h-2zM896 157h3v2h-3zM853 317h2v1h-2zM296 415h3v2h-3zM248 156h2v2h-2zM855 161h2v3h-2zM376 98h2v2h-2zM624 331h2v2h-2zM460 158h2v2h-2zM690 381h2v2h-2zM346 399h3v2h-3zM1190 248h1v2h-1zM502 185h2v3h-2zM598 123h3v2h-3zM647 247h2v2h-2zM327 283h2v3h-2zM1127 104h1v2h-1zM1209 237h2v2h-2zM713 343h3v2h-3zM1182 228h2v1h-2zM809 174h2v2h-2zM832 186h1v2h-1zM1172 387h1v2h-1zM401 415h2v1h-2zM460 425h1v2h-1zM513 138h2v2h-2zM826 295h1v2h-1zM874 160h2v1h-2zM933 317h1v2h-1zM875 156h3v2h-3zM339 309h3v2h-3zM406 375h3v3h-3zM528 292h2v1h-2zM541 134h2v3h-2zM663 447h1v2h-1zM690 381h3v1h-3zM778 182h2v2h-2zM917 343h2v2h-2zM759 332h2v2h-2zM487 290h3v2h-3zM360 428h2v1h-2zM1003 102h2v2h-2zM1074 356h1v1h-1zM471 371h1v2h-1zM887 156h3v3h-3zM273 320h2v3h-2zM1089 346h2v1h-2zM466 460h1v1h-1zM1030 248h1v3h-1zM836 200h1v2h-1zM565 252h2v2h-2zM940 145h1v3h-1zM553 303h1v2h-1zM381 158h2v3h-2zM943 151h2v1h-2zM1049 411h2v2h-2zM862 363h1v1h-1zM786 236h3v3h-3zM625 429h1v2h-1zM563 121h2v2h-2zM263 111h2v2h-2zM914 333h2v2h-2zM657 335h1v2h-1zM1007 282h1v1h-1zM789 251h1v2h-1zM325 252h2v2h-2zM737 262h3v2h-3zM1159 128h1v2h-1zM281 298h2v3h-2zM1108 123h2v1h-2zM797 364h1v2h-1zM680 131h2v1h-2zM1003 129h3v1h-3zM1051 249h1v2h-1zM579 451h1v3h-1zM713 361h3v3h-3zM728 380h2v2h-2zM688 163h2v2h-2zM360 452h3v1h-3zM980 468h3v2h-3zM435 426h2v2h-2zM314 402h2v1h-2zM877 148h1v2h-1zM976 397h2v2h-2zM1055 172h2v2h-2zM960 407h1v2h-1zM398 196h1v2h-1zM843 93h2v1h-2zM738 149h2v1h-2zM1017 253h3v2h-3zM1143 139h2v2h-2zM1068 377h2v2h-2zM1189 299h2v1h-2zM513 196h2v1h-2zM511 117h2v1h-2zM885 257h3v1h-3zM285 465h2v2h-2zM471 191h2v2h-2zM976 108h2v2h-2zM691 404h2v2h-2zM656 260h2v1h-2zM951 235h1v2h-1zM1100 133h3v2h-3zM678 218h3v1h-3zM479 458h2v2h-2zM248 344h2v2h-2zM491 214h3v1h-3zM921 86h2v2h-2zM235 294h3v2h-3zM448 128h1v1h-1zM420 327h1v1h-1zM636 367h1v1h-1zM687 406h2v2h-2zM577 228h2v2h-2zM897 462h2v2h-2zM813 202h2v2h-2zM454 128h2v2h-2zM583 192h2v3h-2zM810 433h2v1h-2zM319 251h2v3h-2zM580 175h2v3h-2zM1074 232h2v2h-2zM394 291h3v3h-3zM379 168h2v2h-2zM644 435h2v3h-2zM846 325h3v2h-3zM1141 254h1v2h-1zM231 449h2v3h-2zM722 332h1v2h-1zM586 224h2v2h-2zM502 383h1v2h-1zM267 466h1v2h-1zM676 280h2v1h-2zM792 140h2v1h-2zM848 260h1v3h-1zM999 369h1v2h-1zM774 240h2v2h-2zM384 344h1v2h-1zM259 442h3v2h-3zM673 95h3v2h-3zM1011 231h3v2h-3zM982 96h2v1h-2zM411 321h2v3h-2zM347 306h1v1h-1zM812 268h2v1h-2zM774 399h3v2h-3zM360 171h2v3h-2zM662 217h3v1h-3zM787 107h2v3h-2zM770 154h3v3h-3zM873 226h2v2h-2zM778 148h1v2h-1zM771 434h2v3h-2zM1069 224h2v2h-2zM720 266h2v2h-2zM326 111h1v2h-1zM433 355h2v3h-2zM927 313h2v2h-2zM987 377h2v2h-2zM600 102h1v2h-1zM977 423h2v2h-2zM878 459h2v1h-2zM332 414h2v2h-2zM688 366h2v2h-2zM1108 446h1v3h-1zM1192 419h3v2h-3zM417 414h1v2h-1zM1146 403h3v2h-3zM299 163h1v2h-1zM634 409h2v2h-2zM405 156h1v2h-1zM911 223h2v2h-2zM750 299h1v2h-1zM504 222h1v2h-1zM1202 247h2v3h-2zM684 360h3v1h-3zM1082 297h1v2h-1zM306 180h3v2h-3zM287 118h2v3h-2zM531 254h1v2h-1zM791 289h1v2h-1zM552 314h2v2h-2zM633 470h3v2h-3zM884 215h2v2h-2zM735 469h1v2h-1zM1160 327h2v1h-2zM1184 466h3v2h-3zM314 460h3v1h-3zM615 461h3v2h-3zM410 108h2v3h-2zM420 234h2v3h-2zM636 442h2v2h-2zM459 370h2v3h-2zM740 387h3v2h-3zM512 380h2v2h-2zM432 379h1v2h-1zM343 344h1v1h-1zM718 271h2v2h-2zM452 347h2v2h-2zM282 463h2v1h-2zM383 434h3v2h-3zM434 355h1v2h-1zM249 327h2v3h-2zM591 212h1v2h-1zM547 350h3v1h-3zM548 258h1v1h-1zM840 242h2v1h-2zM488 252h2v2h-2zM273 83h3v2h-3zM643 212h2v2h-2zM291 318h3v2h-3zM360 161h1v2h-1zM1080 320h2v1h-2zM263 147h3v2h-3zM294 414h1v2h-1zM452 289h2v3h-2zM901 173h2v2h-2zM927 271h2v2h-2zM938 164h1v1h-1zM873 430h1v2h-1zM321 352h1v1h-1zM671 463h2v2h-2zM473 149h1v2h-1zM304 288h1v1h-1zM989 346h2v1h-2zM776 310h2v2h-2zM419 388h2v2h-2zM1072 278h3v3h-3zM880 182h3v3h-3zM509 395h2v2h-2zM730 278h2v2h-2zM339 107h1v2h-1zM833 246h2v2h-2zM552 116h1v3h-1zM1085 180h2v2h-2zM873 149h1v1h-1zM660 364h3v2h-3zM500 469h2v1h-2zM392 369h2v3h-2zM326 120h1v2h-1zM468 453h1v2h-1zM1052 106h2v2h-2zM529 324h3v2h-3zM1044 138h3v1h-3zM850 155h1v2h-1zM1042 378h2v2h-2zM1182 163h1v2h-1zM971 287h1v2h-1zM1041 137h2v3h-2zM985 301h1v2h-1zM1145 305h2v2h-2zM422 431h2v1h-2zM370 92h2v1h-2zM574 361h1v2h-1zM442 143h2v2h-2zM951 369h3v2h-3zM595 100h2v2h-2zM902 444h3v3h-3zM701 102h2v2h-2zM831 116h1v1h-1zM246 383h2v2h-2zM1127 99h1v2h-1zM1121 160h1v2h-1zM363 358h1v2h-1zM388 395h2v2h-2zM253 268h1v2h-1zM544 434h2v2h-2zM634 442h3v1h-3zM337 466h3v2h-3zM1006 200h2v2h-2zM291 140h1v2h-1zM815 96h1v2h-1zM889 291h1v3h-1zM1099 452h1v2h-1zM1193 330h2v2h-2zM236 322h3v2h-3zM440 258h1v2h-1zM1079 293h2v1h-2zM1066 236h1v2h-1zM289 289h1v2h-1zM1149 462h2v2h-2zM950 182h3v2h-3zM1116 270h3v2h-3zM403 122h2v1h-2zM349 391h3v1h-3zM479 340h1v2h-1zM335 120h2v3h-2zM295 309h1v3h-1zM820 264h2v2h-2zM604 266h2v1h-2zM599 387h3v1h-3zM298 400h2v2h-2zM1083 115h2v3h-2zM817 97h1v3h-1zM870 257h2v2h-2zM674 360h1v3h-1zM942 437h2v2h-2zM713 249h2v1h-2zM789 363h3v3h-3zM331 380h2v2h-2zM1163 181h2v2h-2zM567 365h3v1h-3zM386 357h2v1h-2zM1148 96h3v3h-3zM326 274h1v2h-1zM1074 219h2v2h-2zM412 312h1v3h-1zM838 448h2v2h-2zM478 160h3v2h-3zM741 327h2v2h-2zM953 299h1v3h-1zM778 178h2v2h-2zM819 146h2v1h-2zM1070 415h3v3h-3zM440 177h2v2h-2zM805 284h3v3h-3zM1145 435h2v2h-2zM1085 376h1v1h-1zM475 136h1v1h-1zM914 118h1v1h-1zM1120 300h1v3h-1zM685 91h2v2h-2zM508 366h2v1h-2zM1056 203h3v2h-3zM1066 450h1v3h-1zM298 459h3v2h-3zM433 442h2v2h-2zM365 221h1v1h-1zM333 470h1v2h-1zM461 329h1v2h-1zM820 367h1v2h-1zM1089 349h1v2h-1zM899 211h2v1h-2zM1097 115h1v1h-1zM1138 92h1v2h-1zM1208 331h1v2h-1zM746 85h2v2h-2zM296 144h1v2h-1zM1018 184h2v2h-2zM278 259h3v1h-3zM682 142h2v2h-2zM538 174h2v2h-2zM945 461h2v2h-2zM861 329h2v2h-2zM284 235h2v3h-2zM890 272h3v2h-3zM289 262h1v2h-1zM1164 145h1v2h-1zM390 200h2v1h-2zM415 315h1v2h-1zM853 371h2v3h-2zM485 436h2v1h-2zM789 462h1v2h-1zM912 440h1v2h-1zM548 271h2v2h-2zM926 184h1v2h-1zM627 421h2v2h-2zM461 315h1v2h-1zM286 351h2v2h-2zM334 96h2v2h-2zM284 151h1v3h-1zM481 156h2v3h-2zM294 152h1v2h-1zM1063 361h1v3h-1zM965 209h1v2h-1zM1165 383h1v3h-1zM557 279h3v1h-3zM441 113h3v2h-3zM685 432h1v2h-1zM1145 462h1v2h-1zM516 300h1v2h-1zM544 365h2v2h-2zM427 284h1v2h-1zM1035 448h1v3h-1zM1079 205h2v2h-2zM940 457h2v1h-2zM687 267h1v1h-1zM556 351h1v3h-1zM354 235h1v1h-1zM524 226h1v2h-1zM506 424h1v3h-1zM960 142h1v2h-1zM662 93h2v2h-2zM523 102h2v2h-2zM647 91h2v2h-2zM466 138h3v2h-3zM618 293h3v2h-3zM971 380h2v2h-2zM369 163h1v1h-1zM968 442h1v1h-1zM312 287h2v1h-2zM412 287h2v2h-2zM410 463h1v2h-1zM337 83h3v2h-3zM626 138h2v2h-2zM817 233h1v3h-1zM994 458h1v2h-1zM662 308h2v2h-2zM482 457h1v2h-1zM913 428h2v2h-2zM272 327h2v3h-2zM1089 402h2v2h-2zM996 113h1v2h-1zM822 166h2v2h-2zM352 109h2v2h-2zM425 248h2v2h-2zM987 328h1v2h-1zM630 97h3v2h-3zM595 207h2v2h-2zM674 234h1v2h-1zM573 346h2v2h-2zM721 95h1v2h-1zM283 164h2v2h-2zM406 378h3v2h-3zM720 149h2v2h-2zM1171 93h1v3h-1zM582 350h2v2h-2zM901 156h2v1h-2zM650 432h2v2h-2zM642 113h1v2h-1zM340 96h3v1h-3zM753 305h1v2h-1zM262 276h2v2h-2zM417 125h3v2h-3zM843 355h1v2h-1zM671 462h2v1h-2zM728 114h1v2h-1zM785 310h2v2h-2zM970 337h2v2h-2zM897 120h3v2h-3zM1103 144h2v3h-2zM394 249h3v2h-3zM1200 293h1v2h-1zM512 343h3v1h-3zM908 126h2v1h-2zM360 236h3v1h-3zM353 102h2v2h-2zM1116 195h1v2h-1zM460 309h2v2h-2zM744 245h2v3h-2zM783 191h3v3h-3zM1077 132h1v2h-1zM852 142h1v3h-1zM478 296h3v1h-3zM570 269h2v2h-2zM1206 208h3v2h-3zM923 471h1v3h-1zM714 464h1v2h-1zM435 282h1v2h-1zM679 185h3v2h-3zM345 115h2v2h-2zM280 327h2v2h-2zM1013 216h1v2h-1zM1123 145h2v2h-2zM586 96h1v2h-1zM616 260h2v1h-2zM685 229h2v2h-2zM1100 409h2v1h-2zM965 398h1v2h-1zM629 227h3v2h-3zM412 331h2v1h-2zM1064 93h1v2h-1zM236 161h2v2h-2zM1002 405h2v2h-2zM1129 348h1v3h-1zM999 327h2v1h-2zM608 88h2v1h-2zM1174 88h1v2h-1zM249 440h2v2h-2zM381 112h1v2h-1zM782 444h3v2h-3zM1064 225h3v2h-3zM423 131h2v2h-2zM922 374h2v2h-2zM489 220h1v1h-1zM676 167h2v1h-2zM1082 315h2v2h-2zM1135 305h2v2h-2zM879 218h2v3h-2zM670 307h1v2h-1zM549 253h1v2h-1zM354 233h2v3h-2zM801 207h2v2h-2zM600 304h2v3h-2zM755 101h2v3h-2zM719 400h1v2h-1zM872 443h3v1h-3zM431 349h3v2h-3zM653 231h1v2h-1zM409 350h1v2h-1zM328 247h2v2h-2zM407 457h2v2h-2zM928 226h2v2h-2zM659 379h1v2h-1zM446 111h1v2h-1zM409 456h1v2h-1zM957 312h1v2h-1zM394 258h3v1h-3zM1189 92h2v3h-2zM530 122h2v2h-2zM303 214h2v2h-2zM779 169h2v2h-2zM818 406h2v2h-2zM879 236h1v2h-1zM708 445h3v2h-3zM1037 136h1v1h-1zM951 87h3v2h-3zM708 216h2v1h-2zM877 459h1v1h-1zM788 198h2v2h-2zM546 307h2v2h-2zM744 279h3v2h-3zM434 420h2v2h-2zM1118 135h3v2h-3zM267 359h1v2h-1zM1159 225h1v3h-1zM683 364h2v3h-2zM521 237h3v2h-3zM479 113h1v2h-1zM294 222h1v2h-1zM546 166h2v2h-2zM1084 214h1v2h-1zM490 452h2v2h-2zM670 443h2v3h-2zM444 224h2v2h-2zM740 425h3v1h-3zM597 97h3v2h-3zM294 327h1v3h-1zM1135 171h1v2h-1zM357 219h2v2h-2zM730 308h1v2h-1zM978 191h1v2h-1zM888 191h1v2h-1zM709 291h2v2h-2zM427 364h1v3h-1zM967 335h2v1h-2zM782 255h2v2h-2zM428 232h2v2h-2zM1097 223h2v2h-2zM447 418h2v1h-2zM352 423h1v3h-1zM727 230h1v2h-1zM563 263h1v2h-1zM374 115h2v2h-2zM314 183h1v3h-1zM1035 370h3v1h-3zM314 380h3v1h-3zM1125 157h2v2h-2zM343 155h2v1h-2zM1004 443h1v2h-1zM849 90h3v3h-3zM400 292h2v2h-2zM935 150h1v1h-1zM783 155h3v1h-3zM854 100h3v2h-3zM339 147h1v1h-1zM1122 148h2v2h-2zM1185 447h2v2h-2zM261 402h2v2h-2zM686 385h3v2h-3zM806 318h3v2h-3zM639 405h3v2h-3zM687 274h1v2h-1zM418 412h2v1h-2zM979 351h1v2h-1zM898 176h3v2h-3zM356 470h2v1h-2zM730 401h2v2h-2zM772 434h2v3h-2zM533 304h2v2h-2zM487 315h1v2h-1zM393 403h2v3h-2zM888 144h2v1h-2zM757 166h3v2h-3zM578 292h2v3h-2zM399 430h3v2h-3zM805 162h1v3h-1zM854 155h2v2h-2zM555 410h2v2h-2zM354 431h2v2h-2zM400 128h2v1h-2zM246 263h1v3h-1zM317 354h2v2h-2zM417 410h3v2h-3zM1114 382h2v3h-2zM849 305h1v2h-1zM564 260h3v2h-3zM505 211h2v2h-2zM485 342h1v2h-1zM414 231h1v2h-1zM626 360h2v3h-2zM749 237h1v3h-1zM603 171h1v2h-1zM905 230h1v3h-1zM590 232h1v3h-1zM966 166h2v2h-2zM750 261h2v2h-2zM614 89h1v2h-1zM280 471h2v1h-2zM640 136h3v1h-3zM498 221h1v3h-1zM567 468h2v2h-2zM1165 471h2v1h-2zM819 172h1v3h-1zM878 196h2v2h-2zM769 156h1v3h-1zM236 133h3v2h-3zM960 158h1v2h-1zM1085 169h3v2h-3zM475 371h2v3h-2zM834 247h3v3h-3zM377 310h3v3h-3zM976 441h1v2h-1zM607 142h3v1h-3zM788 131h1v2h-1zM705 265h2v1h-2zM717 255h2v3h-2zM620 234h1v2h-1zM1094 320h1v2h-1zM504 96h2v1h-2zM991 250h1v2h-1zM438 323h1v2h-1zM964 174h3v2h-3zM890 305h3v2h-3zM722 156h2v2h-2zM839 88h2v1h-2zM1182 266h2v2h-2zM835 146h1v2h-1zM599 99h3v3h-3zM1117 466h2v2h-2zM964 320h2v3h-2zM412 257h3v2h-3zM421 235h1v2h-1zM919 397h1v2h-1zM281 101h1v2h-1zM655 156h2v3h-2zM328 252h3v3h-3zM607 350h2v1h-2zM263 209h2v2h-2zM518 208h2v2h-2zM282 104h2v2h-2zM645 98h1v2h-1zM480 229h2v2h-2zM954 224h3v1h-3zM916 321h2v2h-2zM1005 362h3v2h-3zM284 185h1v3h-1zM439 165h2v2h-2zM1176 107h3v1h-3zM841 288h1v2h-1zM672 101h1v2h-1zM450 295h2v2h-2zM646 334h2v1h-2zM744 220h1v2h-1zM962 168h2v2h-2zM1185 351h2v2h-2zM592 195h1v1h-1zM1006 286h2v3h-2zM616 303h2v1h-2zM359 145h3v2h-3zM275 395h1v2h-1zM854 327h1v2h-1zM1067 100h3v1h-3zM1182 442h2v2h-2zM377 418h2v2h-2zM538 306h2v1h-2zM585 125h1v2h-1zM348 323h3v2h-3zM277 137h1v2h-1zM1144 94h1v1h-1zM407 97h1v2h-1zM699 452h2v2h-2zM960 298h1v3h-1zM1006 301h2v2h-2zM449 379h2v2h-2zM253 384h3v2h-3zM660 364h2v2h-2zM1120 397h1v2h-1zM720 83h2v1h-2zM1097 282h2v2h-2zM358 322h2v2h-2zM946 414h1v2h-1zM529 158h2v1h-2zM578 339h1v3h-1zM375 400h2v3h-2zM487 177h3v2h-3zM432 345h3v2h-3zM872 342h2v2h-2zM1191 202h3v1h-3zM751 230h2v2h-2zM916 450h1v2h-1zM898 466h1v3h-1zM794 116h1v2h-1zM450 409h1v2h-1zM1055 397h3v3h-3zM886 216h2v3h-2zM1199 110h2v1h-2zM573 192h2v2h-2zM1001 269h2v2h-2zM416 403h2v3h-2zM962 237h2v2h-2zM261 286h1v3h-1zM917 163h3v2h-3zM1003 265h2v2h-2zM819 365h1v2h-1zM1055 115h1v1h-1zM890 256h2v2h-2zM539 207h1v2h-1zM1020 454h2v1h-2zM1081 205h3v2h-3zM402 466h1v2h-1zM1018 88h2v3h-2zM1198 135h3v1h-3zM1203 290h2v2h-2zM328 221h3v2h-3zM655 96h2v3h-2zM563 455h1v2h-1zM461 466h2v2h-2zM656 222h2v2h-2zM658 115h2v2h-2zM702 271h1v1h-1zM331 347h3v3h-3zM620 151h2v2h-2zM298 445h2v3h-2zM1131 170h2v3h-2zM409 399h2v1h-2zM441 225h1v2h-1zM459 445h2v2h-2zM713 192h2v2h-2zM1132 390h2v2h-2zM525 111h2v2h-2zM278 263h2v1h-2zM568 158h1v1h-1zM902 283h2v1h-2zM609 429h1v2h-1zM1003 151h2v3h-2zM577 192h1v2h-1zM591 394h1v2h-1zM277 183h2v2h-2zM967 386h2v2h-2zM430 355h2v2h-2zM1114 469h3v2h-3zM1163 166h1v2h-1zM524 96h1v3h-1zM858 228h2v2h-2zM888 369h1v3h-1zM858 365h2v2h-2zM1186 405h2v1h-2zM482 337h2v3h-2zM612 95h2v2h-2zM288 230h1v2h-1zM1056 190h2v2h-2zM325 294h2v2h-2zM1004 447h2v2h-2zM486 377h2v1h-2zM559 145h1v2h-1zM780 428h1v2h-1zM930 148h2v3h-2zM891 218h2v1h-2zM438 129h1v2h-1zM776 324h1v2h-1zM601 413h2v2h-2zM595 295h3v2h-3zM887 371h2v1h-2zM268 296h3v2h-3zM551 406h1v2h-1zM351 454h1v2h-1zM899 370h2v2h-2zM952 369h3v1h-3zM363 468h1v2h-1zM812 232h2v2h-2zM570 257h2v1h-2zM1023 129h3v3h-3zM298 103h1v1h-1zM241 400h2v3h-2zM885 295h1v2h-1zM986 387h1v2h-1zM907 418h2v2h-2zM804 301h3v2h-3zM302 291h2v2h-2zM800 138h2v2h-2zM612 208h1v2h-1zM295 376h2v3h-2zM882 356h2v2h-2zM568 361h1v3h-1zM482 415h2v2h-2zM1022 190h1v2h-1zM534 388h1v1h-1zM964 171h2v2h-2zM424 140h1v2h-1zM678 106h2v2h-2zM437 267h1v2h-1zM1118 103h3v2h-3zM727 359h1v2h-1zM1022 313h1v3h-1zM679 406h2v2h-2zM677 159h2v2h-2zM319 220h3v2h-3zM551 266h2v1h-2zM682 425h2v3h-2zM443 118h2v2h-2zM970 241h2v1h-2zM442 302h2v2h-2zM574 85h3v2h-3zM543 442h3v2h-3zM772 111h1v1h-1zM634 450h2v1h-2zM410 419h2v1h-2zM861 96h2v3h-2zM869 331h1v2h-1zM337 246h3v3h-3zM1011 120h2v2h-2zM652 121h2v2h-2zM450 465h2v3h-2zM860 366h3v2h-3zM953 267h1v1h-1zM847 347h1v1h-1zM291 225h3v2h-3zM807 335h2v1h-2zM974 387h2v3h-2zM937 432h2v2h-2zM436 276h1v2h-1zM567 164h1v2h-1zM283 398h1v2h-1zM735 340h2v3h-2zM627 458h1v2h-1zM595 256h2v2h-2zM824 394h3v2h-3zM241 359h2v2h-2zM266 105h3v1h-3zM1062 258h2v1h-2zM809 255h2v2h-2zM874 271h1v3h-1zM804 131h2v1h-2zM1150 175h1v2h-1zM564 199h1v2h-1zM663 346h1v3h-1zM435 125h2v2h-2zM849 200h1v2h-1zM1021 186h1v1h-1zM346 395h3v2h-3zM740 119h3v2h-3zM814 308h1v3h-1zM1088 422h2v2h-2zM393 401h3v2h-3zM475 137h1v2h-1zM1119 268h2v1h-2zM617 226h1v2h-1zM980 91h2v3h-2zM305 418h1v1h-1zM662 117h3v2h-3zM467 181h3v2h-3zM620 337h1v2h-1zM1005 291h3v2h-3zM425 312h2v3h-2zM977 84h2v3h-2zM313 153h2v3h-2zM715 333h2v2h-2zM585 371h1v1h-1zM737 150h1v2h-1zM413 171h1v1h-1zM626 283h3v2h-3zM544 434h3v2h-3zM376 347h2v2h-2zM596 357h1v1h-1zM1208 391h2v3h-2zM731 394h2v1h-2zM741 138h1v2h-1zM441 219h2v3h-2zM911 130h2v3h-2zM496 238h1v2h-1zM958 184h2v2h-2zM265 377h3v2h-3zM525 391h3v1h-3zM1195 332h2v2h-2zM490 434h2v2h-2zM797 119h2v1h-2zM429 399h2v1h-2zM439 413h1v1h-1zM681 172h2v1h-2zM571 228h1v1h-1zM693 156h2v1h-2zM478 263h2v2h-2zM1089 147h2v2h-2zM636 216h1v2h-1zM670 323h1v3h-1zM985 321h1v2h-1zM323 166h2v2h-2zM654 155h1v3h-1zM618 172h3v1h-3zM956 210h2v2h-2zM1140 213h1v2h-1zM1073 84h1v2h-1zM1198 226h2v2h-2zM644 463h2v3h-2zM902 99h3v2h-3zM845 96h1v1h-1zM328 96h2v2h-2zM535 240h2v1h-2zM833 470h1v2h-1zM777 347h1v2h-1zM654 366h2v2h-2zM381 158h2v2h-2zM530 410h2v2h-2zM988 351h3v3h-3zM352 468h1v2h-1zM293 283h2v2h-2zM514 352h1v2h-1zM467 148h3v2h-3zM759 125h2v2h-2zM748 221h3v3h-3zM292 325h2v3h-2zM237 221h1v3h-1zM257 420h2v2h-2zM988 85h2v3h-2zM309 86h2v3h-2zM608 425h3v2h-3zM232 87h1v2h-1zM724 141h1v1h-1zM818 163h2v1h-2zM1041 272h1v1h-1zM245 389h1v2h-1zM859 293h1v2h-1zM602 147h3v2h-3zM385 193h2v2h-2zM966 325h2v3h-2zM509 421h2v1h-2zM234 389h2v2h-2zM622 240h2v3h-2zM280 389h1v2h-1zM463 462h2v3h-2zM1033 251h3v2h-3zM493 103h2v3h-2zM650 229h2v1h-2zM794 100h1v3h-1zM565 203h3v2h-3zM1014 112h3v3h-3zM1134 341h1v2h-1zM304 101h2v1h-2zM963 207h3v2h-3zM1019 112h3v1h-3zM413 295h1v3h-1zM743 433h2v2h-2zM784 90h2v2h-2zM638 362h2v2h-2zM830 389h1v1h-1zM423 301h2v1h-2zM873 421h1v2h-1zM721 113h1v2h-1zM1172 262h1v3h-1zM271 433h1v3h-1zM591 197h2v2h-2zM472 387h1v2h-1zM425 344h2v2h-2zM1037 335h1v2h-1zM970 406h1v2h-1zM1192 124h2v1h-2zM744 219h2v2h-2zM550 218h2v3h-2zM556 95h1v2h-1zM362 145h3v2h-3zM802 447h2v2h-2zM968 114h2v3h-2zM573 266h2v1h-2zM963 196h2v2h-2zM876 366h1v2h-1zM713 198h1v2h-1zM1170 186h1v1h-1zM468 458h2v2h-2zM312 458h3v2h-3zM1209 149h2v2h-2zM727 281h2v2h-2zM324 211h2v2h-2zM856 381h3v3h-3zM1001 322h1v3h-1zM799 352h2v2h-2zM368 137h2v1h-2zM522 138h1v2h-1zM866 422h1v2h-1zM932 143h1v2h-1zM492 133h2v2h-2zM646 198h1v2h-1zM313 395h2v2h-2zM1062 199h3v2h-3zM590 144h2v1h-2zM356 342h2v3h-2zM761 341h1v1h-1zM993 161h2v2h-2zM878 162h1v2h-1zM830 298h3v2h-3zM401 423h2v2h-2zM336 160h1v2h-1zM535 117h1v2h-1zM325 164h3v2h-3zM606 289h1v2h-1zM649 132h2v2h-2zM352 99h3v2h-3zM922 273h1v2h-1zM311 259h2v3h-2zM639 307h3v3h-3zM798 237h1v2h-1zM419 374h2v2h-2zM522 425h3v1h-3zM279 355h2v2h-2zM414 463h1v2h-1zM1149 379h2v2h-2zM514 166h2v2h-2zM999 302h2v2h-2zM1193 186h1v2h-1zM977 88h2v1h-2zM439 423h3v3h-3zM269 432h2v2h-2zM1132 174h2v1h-2zM611 150h2v3h-2zM264 132h2v3h-2zM705 328h3v3h-3zM925 373h1v2h-1zM301 87h1v1h-1zM763 119h2v2h-2zM503 149h3v2h-3zM842 459h2v2h-2zM389 235h2v2h-2zM523 314h3v2h-3zM679 135h1v2h-1zM719 373h1v3h-1zM987 185h2v1h-2zM1135 393h2v2h-2zM947 124h2v1h-2zM402 328h2v1h-2zM1119 467h1v3h-1zM683 406h2v3h-2zM986 432h1v1h-1zM592 469h3v1h-3zM1162 129h1v1h-1zM481 304h2v2h-2zM894 109h2v2h-2zM936 156h2v2h-2zM604 121h1v2h-1zM894 205h2v1h-2zM434 207h2v2h-2zM328 154h3v3h-3zM591 143h1v1h-1zM417 300h2v2h-2zM295 415h2v2h-2zM453 465h3v1h-3zM1084 208h2v2h-2zM1136 213h2v2h-2zM395 120h2v2h-2zM382 82h1v2h-1zM338 330h3v1h-3zM1117 385h2v2h-2zM934 196h1v2h-1zM961 119h2v2h-2zM771 153h3v2h-3zM546 228h2v2h-2zM1208 163h2v1h-2zM917 440h2v2h-2zM619 357h3v1h-3zM510 427h3v2h-3zM462 428h2v3h-2zM904 215h2v1h-2zM1156 147h2v3h-2zM1141 416h2v1h-2zM452 427h2v3h-2zM961 370h1v1h-1zM507 438h2v1h-2zM433 157h1v2h-1zM506 410h2v2h-2zM545 273h1v3h-1zM848 134h2v2h-2zM872 360h1v1h-1zM280 376h2v2h-2zM1152 470h1v2h-1zM455 246h2v2h-2zM358 340h1v1h-1zM674 194h2v2h-2zM1019 314h1v2h-1zM808 350h2v2h-2zM1189 109h1v2h-1zM938 461h2v2h-2zM1002 206h1v3h-1zM316 451h1v3h-1zM942 382h3v3h-3zM383 427h2v2h-2zM497 150h2v1h-2zM1132 134h2v2h-2zM566 320h1v2h-1zM992 248h1v1h-1zM683 208h2v3h-2zM1155 164h2v1h-2zM967 290h2v2h-2zM539 328h1v2h-1zM956 389h1v2h-1zM656 149h3v3h-3zM270 260h2v2h-2zM417 406h1v2h-1zM1003 412h3v1h-3zM741 298h1v3h-1zM632 381h2v2h-2zM446 250h2v1h-2zM442 294h2v2h-2zM974 204h1v2h-1zM960 427h2v2h-2zM1197 236h2v2h-2zM1053 91h1v1h-1zM542 247h1v2h-1zM829 285h1v2h-1zM889 265h2v2h-2zM1082 218h2v2h-2zM924 350h1v3h-1zM863 340h2v3h-2zM984 399h1v2h-1zM954 240h1v1h-1zM343 156h1v2h-1zM239 158h1v2h-1zM1173 445h1v2h-1zM860 172h2v2h-2zM393 440h1v2h-1zM1023 241h1v2h-1zM281 469h2v2h-2zM529 165h2v1h-2zM310 99h1v2h-1zM440 327h1v1h-1zM858 382h2v1h-2zM275 295h2v2h-2zM1199 345h2v2h-2zM283 291h2v2h-2zM728 242h2v2h-2zM757 116h2v1h-2zM346 352h1v1h-1zM369 160h3v2h-3zM845 299h3v2h-3zM509 113h1v3h-1zM491 201h2v2h-2zM832 249h2v2h-2zM1056 224h3v2h-3zM896 322h3v2h-3zM723 140h1v3h-1zM238 86h2v2h-2zM734 267h2v3h-2zM509 365h1v1h-1zM946 467h1v2h-1zM1085 122h2v1h-2zM418 371h2v2h-2zM561 291h3v1h-3zM805 236h1v1h-1zM1014 259h2v3h-2zM525 387h2v1h-2zM853 382h2v3h-2zM959 148h2v3h-2zM895 191h1v2h-1zM664 452h2v3h-2zM259 198h2v3h-2zM640 249h1v3h-1zM830 229h1v1h-1zM860 343h2v3h-2zM547 367h2v1h-2zM509 130h1v2h-1zM831 298h2v2h-2zM510 339h2v2h-2zM751 175h2v2h-2zM571 417h1v2h-1zM852 447h1v2h-1zM975 415h2v1h-2zM268 293h2v2h-2zM793 113h2v1h-2zM542 198h1v3h-1zM337 232h3v3h-3zM591 186h1v3h-1zM860 430h1v2h-1zM631 456h2v2h-2zM257 211h2v2h-2zM922 326h2v1h-2zM484 166h3v2h-3zM761 109h1v1h-1zM941 344h1v3h-1zM298 260h3v2h-3zM577 88h1v1h-1zM1035 135h1v2h-1zM1052 174h2v2h-2zM465 451h2v2h-2zM629 286h2v2h-2zM1124 182h2v2h-2zM974 442h2v1h-2zM651 430h1v2h-1zM570 150h3v2h-3zM309 110h1v2h-1zM368 437h2v2h-2zM878 95h1v3h-1zM933 176h1v3h-1zM752 187h1v2h-1zM267 463h1v2h-1zM628 309h2v2h-2zM883 264h3v2h-3zM733 388h2v2h-2zM1182 127h1v1h-1zM426 464h2v3h-2zM508 341h1v2h-1zM408 159h2v2h-2zM498 426h1v3h-1zM620 141h3v2h-3zM799 161h2v1h-2zM698 350h3v2h-3zM364 379h2v2h-2zM564 451h3v1h-3zM256 110h2v3h-2zM1149 154h2v3h-2zM266 421h1v2h-1zM466 279h2v2h-2zM283 332h2v3h-2zM661 444h2v2h-2zM955 398h1v2h-1zM1163 192h2v1h-2zM512 444h1v2h-1zM232 271h3v2h-3zM429 128h3v2h-3zM659 378h2v2h-2zM435 468h1v3h-1zM641 397h2v2h-2zM1193 134h2v2h-2zM653 269h2v2h-2zM833 249h1v1h-1zM256 217h2v2h-2zM915 273h1v2h-1zM900 290h1v2h-1zM1200 213h2v2h-2zM582 394h3v2h-3zM691 422h1v3h-1zM801 131h2v2h-2zM845 264h3v2h-3zM234 382h2v2h-2zM786 405h3v1h-3zM791 263h1v2h-1zM968 350h1v2h-1zM661 201h2v1h-2zM700 196h2v2h-2zM541 113h2v2h-2zM679 248h3v2h-3zM505 351h2v2h-2zM561 420h1v2h-1zM760 360h2v2h-2zM940 377h2v2h-2zM523 82h1v1h-1zM369 93h1v1h-1zM712 358h2v3h-2zM634 205h2v2h-2zM379 441h3v1h-3zM642 215h2v2h-2zM462 461h2v2h-2zM856 213h1v1h-1zM404 340h2v2h-2zM910 342h2v2h-2zM1113 273h3v1h-3zM814 283h2v2h-2zM897 332h1v1h-1zM1012 85h2v2h-2zM436 264h1v2h-1zM763 259h1v2h-1zM885 195h2v2h-2zM670 83h2v2h-2zM657 180h2v2h-2zM528 441h2v3h-2zM797 123h1v2h-1zM382 399h3v3h-3zM742 361h1v1h-1zM1159 257h2v3h-2zM329 292h3v2h-3zM984 297h2v2h-2zM525 266h3v2h-3zM525 267h1v2h-1zM445 339h2v3h-2zM650 401h2v1h-2zM553 454h3v2h-3zM334 110h2v2h-2zM510 106h1v2h-1zM1169 112h2v2h-2zM881 410h2v1h-2zM1066 379h2v2h-2zM512 415h1v2h-1zM383 102h1v1h-1zM324 351h1v2h-1zM841 401h2v1h-2zM515 437h3v2h-3zM362 369h2v2h-2zM417 388h2v2h-2zM873 322h1v1h-1zM889 268h2v2h-2zM262 155h2v3h-2zM404 301h1v2h-1zM384 412h3v2h-3zM376 445h1v1h-1zM516 345h2v1h-2zM400 255h3v3h-3zM841 366h2v2h-2zM332 295h1v2h-1zM521 395h2v3h-2zM579 205h3v2h-3zM1072 432h2v1h-2zM249 232h1v3h-1zM822 166h1v2h-1zM958 139h3v1h-3zM589 242h2v2h-2zM401 322h1v2h-1zM1106 433h2v3h-2zM437 303h1v2h-1zM1201 438h2v2h-2zM799 250h2v2h-2zM310 381h2v2h-2zM884 379h2v3h-2zM821 309h2v2h-2zM1116 469h2v2h-2zM608 466h1v2h-1zM720 398h1v2h-1zM526 341h1v2h-1zM855 174h2v3h-2zM643 103h3v1h-3zM780 171h2v3h-2zM616 87h2v2h-2zM314 159h1v3h-1zM731 332h1v2h-1zM777 226h1v2h-1zM716 207h3v2h-3zM760 181h2v2h-2zM244 434h3v2h-3zM620 294h2v1h-2zM1197 285h1v3h-1zM1058 259h3v2h-3zM1043 313h3v1h-3zM345 332h1v2h-1zM500 326h1v2h-1zM536 196h2v1h-2zM746 89h2v1h-2zM1150 105h3v2h-3zM495 409h1v2h-1zM423 468h1v1h-1zM947 262h1v3h-1zM701 381h3v2h-3zM971 283h2v2h-2zM350 190h3v3h-3zM464 114h3v1h-3zM777 143h1v2h-1zM915 414h3v2h-3zM997 325h1v1h-1zM623 386h2v2h-2zM1044 196h2v3h-2zM595 111h1v1h-1zM235 111h2v2h-2zM344 245h2v2h-2zM808 397h1v2h-1zM398 138h2v2h-2zM433 435h3v1h-3zM345 125h2v2h-2zM275 194h2v2h-2zM510 152h2v3h-2zM617 463h2v3h-2zM726 213h2v2h-2zM778 86h3v1h-3zM249 246h1v2h-1zM597 194h1v2h-1zM355 426h1v2h-1zM902 82h1v2h-1zM246 289h2v1h-2zM326 101h1v3h-1zM503 111h1v1h-1zM520 459h1v1h-1zM678 466h3v1h-3zM331 431h1v3h-1zM344 207h2v3h-2zM342 142h2v2h-2zM356 186h1v3h-1zM1048 437h1v2h-1zM363 295h2v2h-2zM360 107h2v2h-2zM468 110h3v3h-3zM291 296h2v1h-2zM505 106h1v2h-1zM455 92h2v2h-2zM430 143h2v2h-2zM277 278h2v2h-2zM462 114h2v2h-2zM284 161h2v2h-2zM234 193h1v3h-1zM330 129h1v1h-1zM249 199h2v3h-2zM455 87h3v3h-3zM429 435h2v2h-2zM462 361h2v2h-2zM1106 146h1v3h-1zM323 303h3v2h-3zM365 196h1v2h-1zM332 418h3v1h-3zM498 134h2v2h-2zM431 146h1v1h-1zM375 144h2v2h-2zM346 115h2v2h-2zM401 277h2v3h-2zM869 202h2v2h-2zM334 111h3v2h-3zM726 221h2v2h-2zM361 388h1v3h-1zM1046 469h2v2h-2zM787 370h1v2h-1zM479 91h2v2h-2zM252 258h2v2h-2zM629 375h3v2h-3zM231 223h2v1h-2zM316 144h3v2h-3zM852 105h2v3h-2zM302 137h1v3h-1zM459 340h2v2h-2zM453 119h2v2h-2zM1043 434h2v3h-2zM339 310h2v2h-2zM688 203h2v2h-2zM649 197h3v2h-3zM350 355h3v2h-3zM256 268h1v2h-1zM495 133h2v2h-2zM253 181h1v2h-1zM412 106h3v3h-3zM250 234h2v1h-2zM660 84h2v2h-2zM354 173h2v1h-2zM356 300h2v2h-2zM434 440h2v2h-2zM538 90h2v2h-2zM269 127h2v2h-2zM381 167h2v3h-2zM491 97h2v2h-2zM479 133h3v2h-3zM348 137h1v3h-1zM439 346h2v2h-2zM248 399h1v1h-1zM267 84h2v2h-2zM386 148h1v2h-1zM404 89h2v2h-2zM239 197h1v3h-1zM841 432h3v2h-3zM273 309h3v2h-3zM796 366h1v2h-1zM535 435h1v2h-1zM477 108h2v2h-2zM658 184h1v2h-1zM306 128h2v2h-2zM864 432h2v2h-2zM394 133h2v3h-2zM427 374h1v2h-1zM413 286h2v3h-2zM331 406h1v2h-1zM381 141h2v2h-2zM703 195h2v2h-2zM337 190h3v2h-3zM525 97h1v2h-1zM800 462h1v3h-1zM284 260h2v3h-2zM433 126h2v3h-2zM641 361h2v2h-2zM635 453h2v1h-2zM777 248h1v1h-1zM277 264h2v2h-2zM608 197h1v1h-1zM798 86h1v2h-1zM481 172h3v1h-3zM247 141h3v2h-3zM330 388h3v2h-3zM265 347h1v3h-1zM465 438h1v2h-1zM685 210h3v3h-3zM767 252h2v1h-2zM329 430h1v1h-1zM385 102h1v2h-1zM284 309h1v1h-1zM338 393h3v2h-3zM315 288h3v1h-3zM386 428h2v2h-2zM256 326h1v2h-1zM581 471h1v2h-1zM1039 463h3v2h-3zM457 97h3v2h-3zM356 103h1v2h-1zM233 351h3v2h-3zM496 449h2v2h-2zM719 209h2v1h-2zM413 420h2v1h-2zM613 468h2v3h-2zM359 109h2v3h-2zM320 95h2v2h-2zM334 150h2v2h-2zM346 194h3v2h-3zM656 103h2v2h-2zM403 285h1v2h-1zM1000 447h2v1h-2zM448 111h2v1h-2zM412 426h2v1h-2zM502 89h2v2h-2zM655 184h3v2h-3zM258 249h2v2h-2zM376 384h1v2h-1zM374 377h2v2h-2zM261 318h2v3h-2zM234 227h2v3h-2zM451 347h1v2h-1zM234 263h1v2h-1zM257 284h3v1h-3zM646 458h1v2h-1zM582 452h1v2h-1zM532 99h1v2h-1zM290 330h2v3h-2zM249 287h1v2h-1zM382 96h1v2h-1zM483 214h1v2h-1zM424 153h2v3h-2zM307 285h2v2h-2zM341 398h2v3h-2zM553 87h2v3h-2zM472 208h2v2h-2zM333 272h1v2h-1zM343 133h2v1h-2zM886 191h2v2h-2zM368 148h1v2h-1zM1053 434h2v2h-2zM528 439h2v2h-2zM407 175h2v2h-2zM295 436h2v1h-2zM649 114h2v2h-2zM278 282h1v1h-1zM667 85h2v3h-2zM352 206h2v2h-2zM784 372h2v2h-2zM984 456h3v1h-3zM481 168h2v2h-2zM736 238h3v1h-3zM364 134h3v2h-3zM525 282h1v2h-1zM338 97h3v3h-3zM520 275h1v2h-1zM835 108h2v2h-2zM984 467h1v2h-1zM352 129h1v2h-1zM479 150h1v2h-1zM651 104h2v2h-2zM334 158h1v2h-1zM345 92h2v2h-2zM471 199h3v2h-3zM494 100h1v1h-1zM346 160h2v2h-2zM756 457h2v3h-2zM438 133h2v2h-2zM247 199h2v1h-2zM237 91h2v2h-2zM715 221h1v2h-1zM824 416h3v3h-3zM343 191h1v2h-1zM423 86h3v3h-3zM281 138h2v2h-2zM528 448h2v1h-2zM272 128h1v1h-1zM249 254h1v2h-1zM354 399h2v2h-2zM256 230h1v1h-1zM287 126h1v3h-1zM292 307h1v2h-1zM783 425h3v3h-3zM365 125h1v1h-1zM352 93h2v2h-2zM390 279h2v3h-2zM454 183h1v3h-1zM347 393h2v2h-2zM314 375h1v1h-1zM543 440h1v2h-1zM850 116h2v2h-2zM309 310h3v2h-3zM456 349h2v2h-2zM686 469h2v2h-2zM478 191h2v3h-2zM335 401h1v2h-1zM235 272h3v3h-3zM495 156h1v2h-1zM320 272h2v2h-2zM395 430h2v1h-2zM410 95h1v3h-1zM342 154h2v2h-2zM247 130h2v2h-2zM350 288h2v2h-2zM356 298h1v2h-1zM699 333h1v1h-1zM274 118h3v3h-3zM320 134h1v3h-1zM357 139h2v3h-2zM385 132h1v3h-1zM266 148h1v1h-1zM362 278h2v2h-2zM557 91h2v3h-2zM332 223h2v2h-2zM500 267h1v3h-1zM247 365h1v2h-1zM315 424h3v2h-3zM317 89h2v2h-2zM789 88h1v3h-1zM336 120h2v2h-2zM424 207h3v2h-3zM411 164h2v2h-2zM691 461h3v2h-3zM636 373h1v1h-1zM263 133h2v3h-2zM725 223h1v3h-1zM269 233h2v1h-2zM805 397h2v1h-2zM486 119h1v1h-1zM525 432h1v2h-1zM484 170h3v2h-3zM346 210h2v2h-2zM431 440h2v2h-2zM417 119h1v2h-1zM437 144h3v2h-3zM270 134h2v1h-2zM618 180h1v1h-1zM807 379h2v3h-2zM667 83h1v2h-1zM327 267h1v3h-1zM644 370h1v1h-1zM391 371h3v3h-3zM239 254h1v2h-1zM808 389h1v2h-1zM788 86h2v2h-2zM980 448h2v3h-2zM644 371h3v1h-3zM305 103h1v2h-1zM344 141h2v2h-2zM512 274h1v2h-1zM736 234h1v2h-1zM235 277h1v2h-1zM826 422h2v2h-2zM853 88h3v2h-3zM341 392h2v1h-2zM536 444h2v2h-2zM289 109h1v3h-1zM333 272h3v3h-3zM446 119h2v2h-2zM466 136h2v2h-2zM310 106h1v2h-1zM439 460h1v2h-1zM407 436h1v2h-1zM947 452h1v3h-1zM577 89h1v3h-1zM480 170h2v2h-2zM286 100h1v1h-1zM542 436h2v2h-2zM330 291h1v3h-1zM271 261h2v3h-2zM415 149h3v3h-3zM303 132h3v2h-3zM339 295h2v2h-2zM372 85h3v1h-3zM392 89h2v2h-2zM678 455h2v3h-2zM580 210h2v2h-2zM1046 415h2v2h-2zM636 384h2v1h-2zM282 290h3v2h-3zM832 434h2v3h-2zM303 374h1v2h-1zM329 95h3v1h-3zM544 83h1v2h-1zM480 231h3v2h-3zM520 265h2v2h-2zM789 82h2v1h-2zM610 185h2v3h-2zM260 350h1v2h-1zM493 171h2v2h-2zM838 436h2v1h-2zM353 119h2v2h-2zM279 129h1v2h-1zM275 258h1v3h-1zM483 166h2v1h-2zM442 186h1v2h-1zM836 97h2v1h-2zM305 128h2v3h-2zM516 133h1v1h-1zM272 301h2v2h-2zM281 309h1v2h-1zM386 293h3v1h-3zM840 425h2v2h-2zM361 333h2v2h-2zM250 91h1v2h-1zM990 450h3v3h-3zM709 82h1v3h-1zM688 196h2v2h-2zM620 451h1v2h-1zM689 210h2v2h-2zM810 89h1v2h-1zM705 336h2v2h-2zM353 346h2v3h-2zM636 85h2v2h-2zM267 216h2v2h-2zM337 125h1v2h-1zM284 277h2v2h-2zM321 269h2v2h-2zM693 208h2v2h-2zM1101 161h1v2h-1zM345 145h2v1h-2zM308 121h2v3h-2zM402 425h1v1h-1zM701 450h2v2h-2zM344 160h2v2h-2zM455 95h1v2h-1zM505 279h2v3h-2zM482 445h2v1h-2zM318 311h2v2h-2zM1048 415h2v2h-2zM487 131h2v2h-2zM375 300h2v2h-2zM313 101h2v1h-2zM361 429h1v3h-1zM597 451h2v2h-2zM334 273h2v2h-2zM284 258h3v1h-3zM326 209h2v2h-2zM1032 461h2v1h-2zM242 195h1v2h-1zM400 428h1v2h-1zM540 437h1v2h-1zM980 465h3v2h-3zM849 392h1v2h-1zM295 188h3v3h-3zM397 414h2v2h-2zM477 239h2v3h-2zM267 91h1v1h-1zM284 225h1v1h-1zM429 145h1v3h-1zM341 469h1v3h-1zM426 203h1v2h-1zM243 233h1v1h-1zM507 438h2v1h-2zM453 129h2v1h-2zM821 436h2v2h-2zM434 426h2v2h-2zM487 99h1v1h-1zM283 177h1v2h-1zM372 294h2v2h-2zM390 429h1v1h-1zM470 213h2v2h-2zM651 193h3v2h-3zM349 175h2v2h-2zM571 117h2v2h-2zM415 370h1v2h-1zM549 92h2v3h-2zM296 99h2v2h-2zM290 295h2v2h-2zM416 83h3v3h-3zM234 354h1v2h-1zM404 428h2v2h-2zM324 111h2v3h-2zM663 96h2v2h-2zM328 104h2v2h-2zM398 100h2v2h-2zM811 391h2v2h-2zM456 345h2v2h-2zM290 152h2v1h-2zM361 345h1v1h-1zM412 87h2v3h-2zM372 281h2v2h-2zM536 123h2v2h-2zM448 459h1v2h-1zM244 337h1v2h-1zM860 431h2v1h-2zM390 154h2v1h-2zM408 149h3v2h-3zM821 392h2v3h-2zM808 86h1v3h-1zM719 213h2v2h-2zM436 85h3v2h-3zM553 84h1v2h-1zM782 244h2v2h-2zM440 181h2v2h-2zM357 396h1v2h-1zM437 442h2v2h-2zM469 194h2v3h-2zM498 169h2v1h-2zM359 83h1v2h-1zM695 461h2v2h-2zM833 333h2v1h-2zM232 144h2v1h-2zM494 452h2v1h-2zM432 446h2v2h-2zM474 237h2v2h-2zM260 132h2v2h-2zM273 206h2v2h-2zM250 318h1v2h-1zM239 181h1v1h-1zM272 224h2v2h-2zM513 118h1v1h-1zM333 308h2v3h-2zM430 128h3v2h-3zM293 158h2v3h-2zM477 171h2v2h-2zM374 348h2v1h-2zM1024 466h1v2h-1zM334 424h1v2h-1zM785 378h1v2h-1zM358 431h2v1h-2zM761 454h2v3h-2zM370 122h2v2h-2zM389 161h2v2h-2zM403 432h1v1h-1zM268 162h1v2h-1zM482 167h1v2h-1zM902 92h1v2h-1zM960 455h1v2h-1zM360 339h2v2h-2zM473 226h1v2h-1zM398 161h1v2h-1zM358 181h2v2h-2zM333 413h2v2h-2zM343 124h1v3h-1z" fill="#fffdf0" fill-opacity="0.72" shape-rendering="crispEdges"/>
<polygon points="229.0,440.8 240.7,446.7 259.0,453.3 279.0,461.7 304.0,467.5 320.7,466.7 337.3,465.8 359.0,468.3 359.0,476.0 229.0,476.0" fill="#fff"/>
<polygon points="851.0,476.0 854.3,461.7 859.3,448.3 862.7,436.7 867.7,435.0 874.3,441.7 881.0,448.3 887.7,453.3 894.3,455.0 901.0,451.7 909.3,448.3 912.7,448.3 917.7,458.3 924.3,468.3 927.7,476.0" fill="#fff"/>
<rect x="973.7" y="130.0" width="15.0" height="8.3" fill="#fff"/>
<rect x="995.0" y="127.5" width="12.0" height="12.5" fill="#fff"/>
<rect x="560.0" y="279.0" width="30.0" height="10.0" fill="#fff"/>
<rect x="571.0" y="276.0" width="14.0" height="22.0" fill="#fff"/>
<rect x="555.0" y="283.0" width="10.0" height="5.0" fill="#fff"/>
<rect x="640.0" y="334.0" width="30.0" height="12.0" fill="#fff"/>
<rect x="655.0" y="330.0" width="18.0" height="8.0" fill="#fff"/>
<rect x="396.0" y="325.5" width="24.0" height="8.0" fill="#fff"/>
<rect x="459.0" y="309.0" width="8.0" height="10.0" fill="#fff"/>
<rect x="327.0" y="317.0" width="16.0" height="7.0" fill="#fff"/>
<rect x="449.0" y="325.0" width="7.0" height="9.0" fill="#fff"/>
<rect x="437.0" y="339.0" width="9.0" height="8.0" fill="#fff"/>
<rect x="613.0" y="202.0" width="8.0" height="10.0" fill="#fff"/>
<rect x="627.0" y="203.0" width="8.0" height="5.0" fill="#fff"/>
<rect x="636.0" y="200.0" width="6.0" height="8.0" fill="#fff"/>
</g>
<rect x="228.6" y="79.4" width="983.9" height="395" fill="none" stroke="#1e1a17" stroke-width="2.9"/>
<g stroke="#1e1a17" stroke-width="2.7">
<line x1="424.5" y1="474" x2="424.5" y2="460.8"/>
<line x1="620.5" y1="474" x2="620.5" y2="460.8"/>
<line x1="816.5" y1="474" x2="816.5" y2="460.8"/>
<line x1="1012.5" y1="474" x2="1012.5" y2="460.8"/>
<line x1="229" y1="178.3" x2="242" y2="178.3"/>
<line x1="229" y1="277" x2="242" y2="277"/>
<line x1="229" y1="375.7" x2="242" y2="375.7"/>
</g>
<g class="t" text-anchor="end">
<text x="208.9" y="99.7">36°N</text>
<text x="208.9" y="197.5">34°N</text>
<text x="208.9" y="295.3">32°N</text>
<text x="208.9" y="393.1">30°N</text>
<text x="208.9" y="490.9">28°N</text>
</g>
<g class="t" text-anchor="middle">
<text x="231.2" y="537.9">82°E</text>
<text x="426" y="537.9">86°E</text>
<text x="620.7" y="537.9">90°E</text>
<text x="815.4" y="537.9">94°E</text>
<text x="1010.7" y="537.9">98°E</text>
<text x="1206.6" y="537.9">102°E</text>
</g>
<text class="c" style="letter-spacing:3px" x="721.5" y="621.3" text-anchor="middle">经度</text>
<text class="c" style="font-size:51.5px" transform="translate(59.3,277.4) rotate(-90)" text-anchor="middle">纬度</text>
<text class="c" style="font-size:51.5px;letter-spacing:1.6px" x="1332" y="44.6" text-anchor="middle">地表粗糙度</text>
<rect x="1278.55" y="81.9" width="40.7" height="390.5" fill="url(#cb)" stroke="#1e1a17" stroke-width="1.1"/>
<line x1="1278" y1="81.9" x2="1320" y2="81.9" stroke="#1e1a17" stroke-width="1.9"/>
<g stroke="#1e1a17" stroke-width="2.6">
<line x1="1304.8" y1="176.5" x2="1318.6" y2="176.5"/>
<line x1="1304.8" y1="269.2" x2="1318.6" y2="269.2"/>
<line x1="1304.8" y1="361.8" x2="1318.6" y2="361.8"/>
<line x1="1304.8" y1="454.5" x2="1318.6" y2="454.5"/>
</g>
<g class="t">
<text x="1336.8" y="100.2">0.16</text>
<text x="1336.8" y="193.2">0.14</text>
<text x="1336.8" y="286.1">0.12</text>
<text x="1336.8" y="379.1">0.10</text>
<text x="1336.8" y="472.1">0.08</text>
</g>
</svg>
</body></html>
